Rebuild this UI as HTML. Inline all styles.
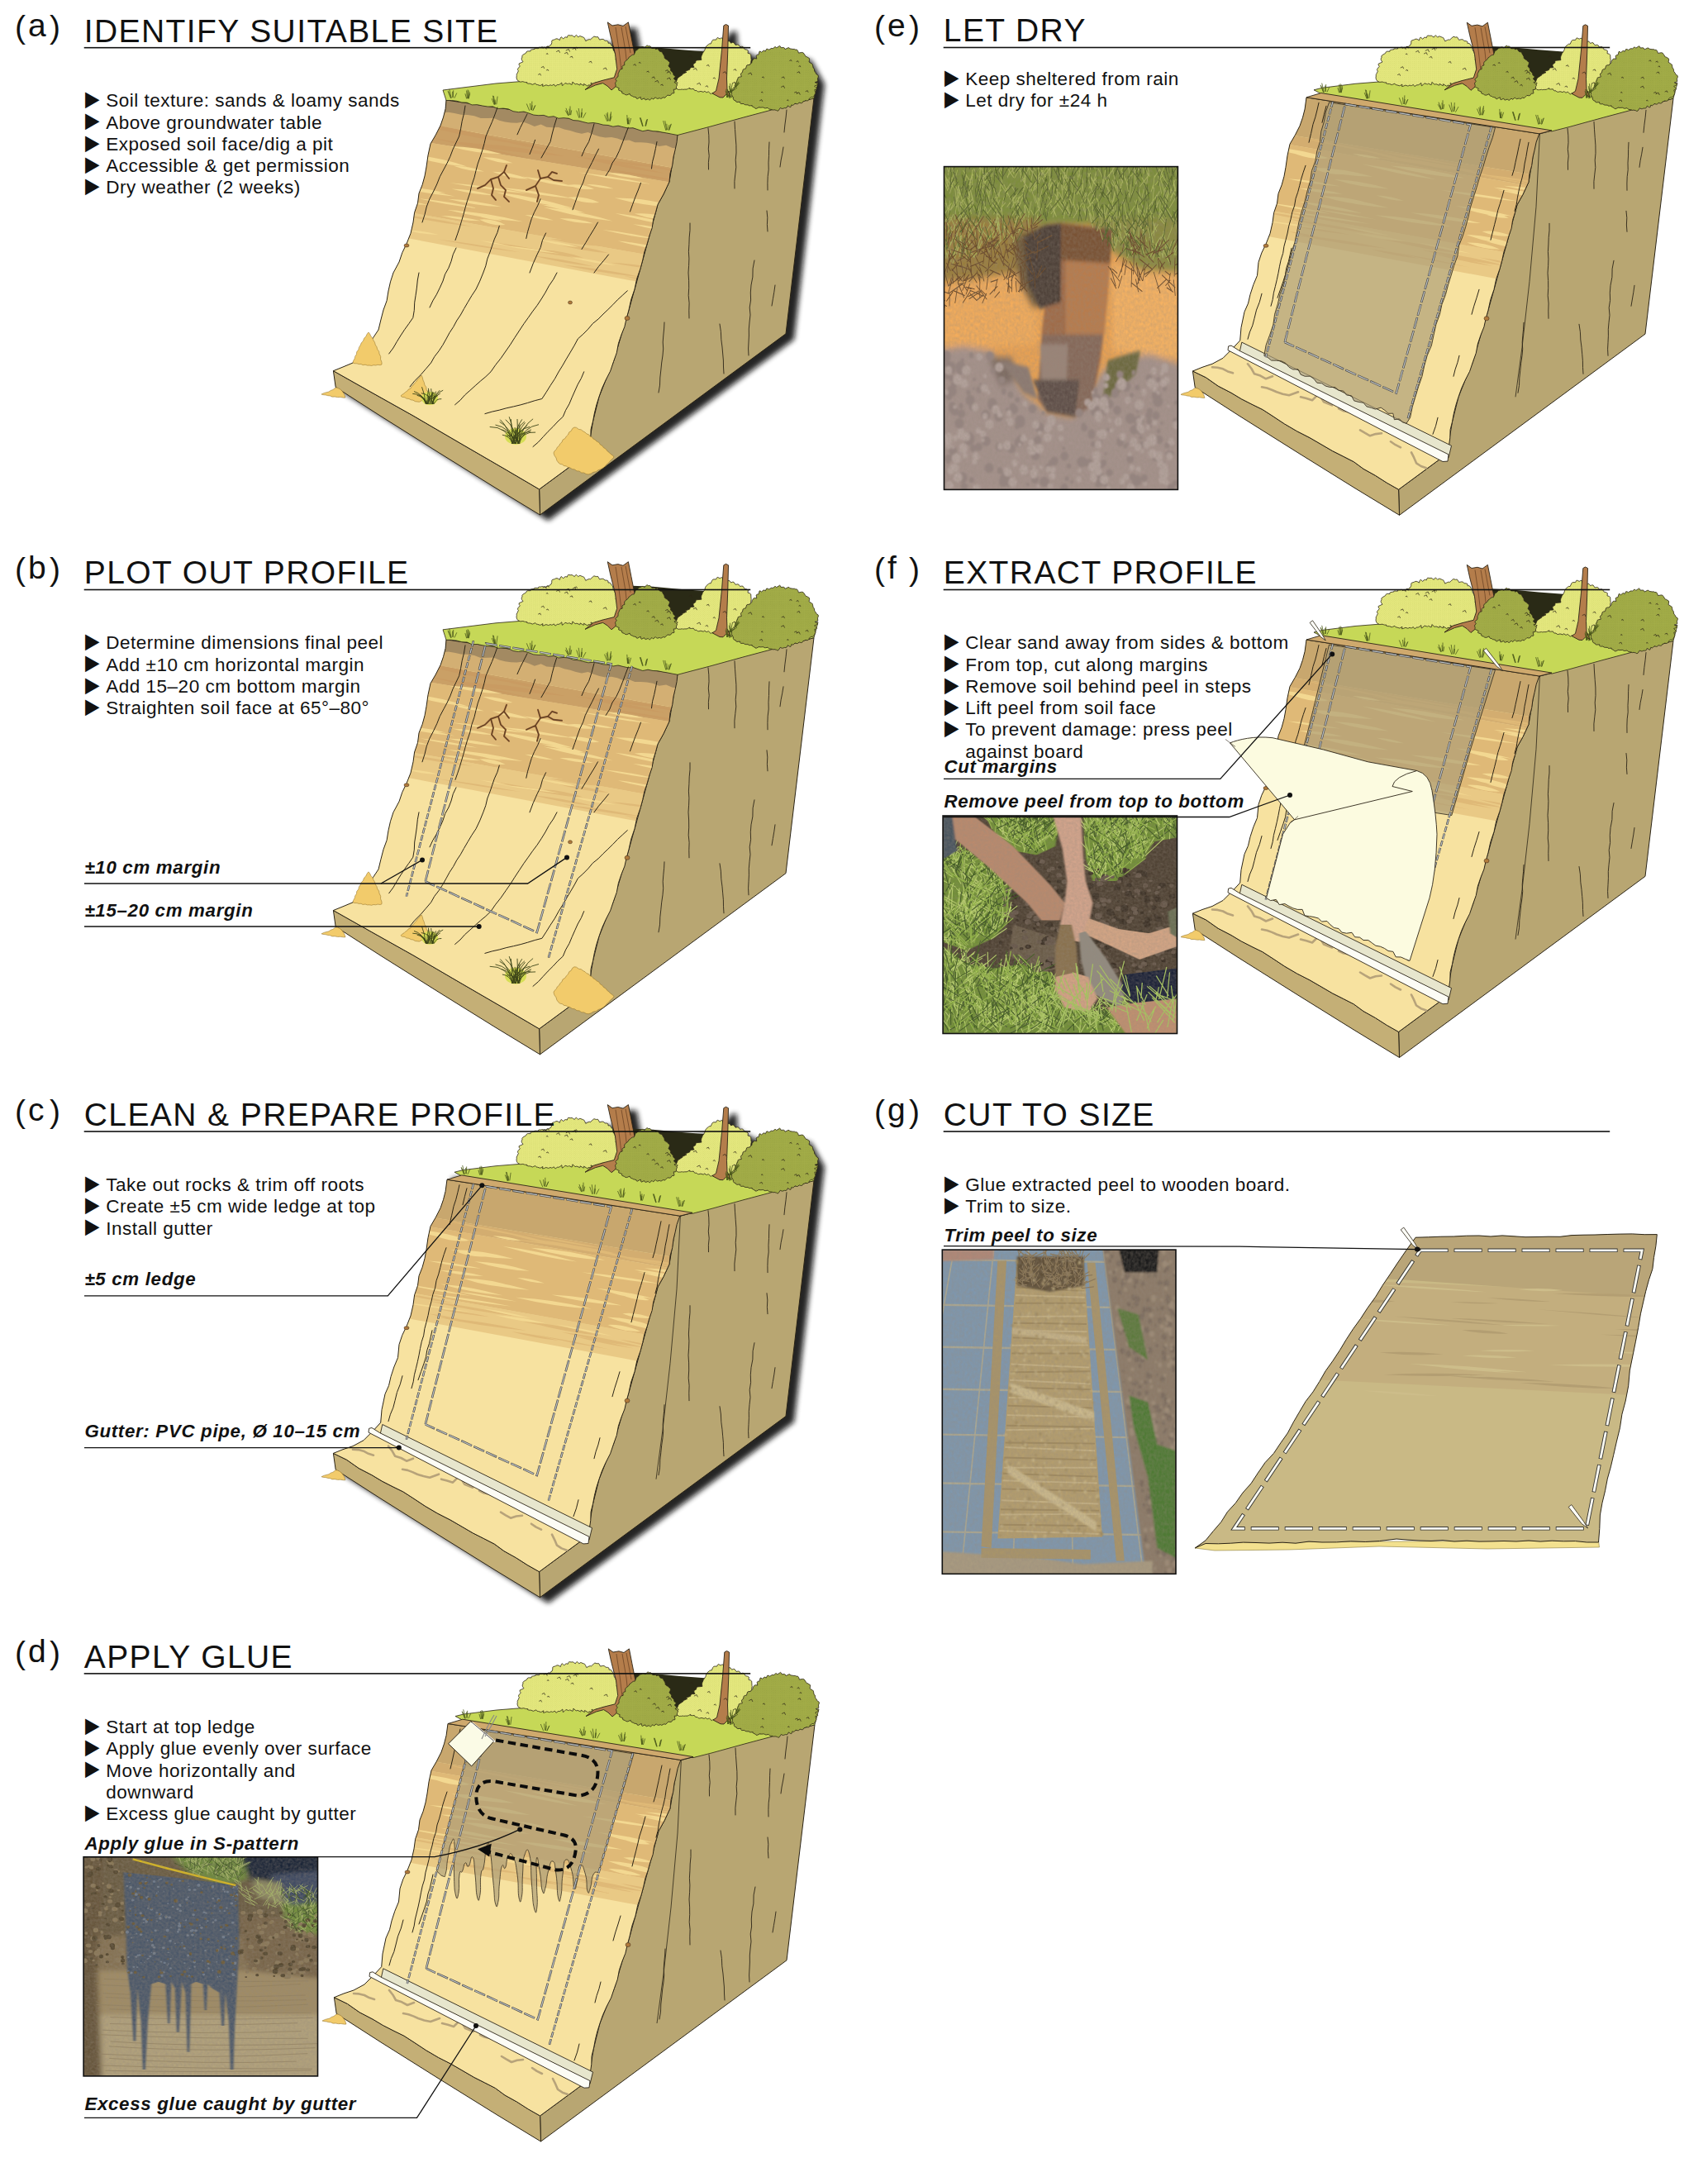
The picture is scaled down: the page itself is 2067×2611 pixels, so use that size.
<!DOCTYPE html>
<html lang="en"><head><meta charset="utf-8"><title>Soil peel procedure</title>
<style>
html,body{margin:0;padding:0;background:#fff}
svg{display:block}
text{font-family:"Liberation Sans",Arial,sans-serif;fill:#111}
.t{font-size:39px}
.b{font-size:22.5px}
.l{font-size:22.3px;font-weight:bold;font-style:italic}
.k{font-family:"DejaVu Sans",sans-serif;font-size:22.7px}
</style></head><body>
<svg width="2067" height="2611" viewBox="0 0 2067 2611">
<rect width="2067" height="2611" fill="#fff"/>

<defs>
<filter id="bl4" x="-10%" y="-10%" width="120%" height="120%"><feGaussianBlur stdDeviation="3.2"/></filter>
<filter id="bl2" x="-50%" y="-20%" width="200%" height="140%"><feGaussianBlur stdDeviation="1.6"/></filter>
<filter id="bl8" x="-10%" y="-10%" width="120%" height="120%"><feGaussianBlur stdDeviation="8"/></filter>
<filter id="pb" x="-10%" y="-10%" width="120%" height="120%"><feGaussianBlur stdDeviation="1.1"/></filter>
<filter id="pb2" x="-10%" y="-10%" width="120%" height="120%"><feGaussianBlur stdDeviation="0.55"/></filter>
<filter id="pb1" x="-10%" y="-10%" width="120%" height="120%"><feGaussianBlur stdDeviation="0.3"/></filter>
<filter id="noise" x="0" y="0" width="100%" height="100%"><feTurbulence type="fractalNoise" baseFrequency="0.9" numOctaves="2" seed="3"/><feColorMatrix type="matrix" values="0 0 0 0 0.3  0 0 0 0 0.25  0 0 0 0 0.2  0.9 0.9 0.9 0 -0.9"/></filter>
<filter id="bl3" x="-10%" y="-10%" width="120%" height="120%"><feGaussianBlur stdDeviation="3"/></filter>
<pattern id="stipL" width="2.4" height="2.4" patternUnits="userSpaceOnUse"><circle cx="0.6" cy="0.6" r="0.32" fill="#9aa53a"/><circle cx="1.8" cy="1.8" r="0.32" fill="#9aa53a"/></pattern>
<pattern id="stipD" width="2.2" height="2.2" patternUnits="userSpaceOnUse"><circle cx="0.55" cy="0.55" r="0.36" fill="#5f6b22"/><circle cx="1.65" cy="1.65" r="0.36" fill="#5f6b22"/></pattern>
<g id="veg"><polygon points="765.0,56.0 790.0,57.0 822.0,60.0 855.0,62.5 850.0,74.0 838.0,83.0 826.0,95.0 814.0,101.0 800.0,75.0 772.0,76.0" fill="#2a2a16"/>
<path d="M625.3 91.6 Q624.7 90.5 625.9 88.9 L627.4 85.8 Q626.1 84.6 626.7 83.1 L629.3 80.0 Q627.7 78.6 628.1 77.0 L633.0 74.7 Q631.1 72.8 631.1 71.0 L632.0 69.0 Q631.3 67.6 632.6 66.5 L636.6 64.1 Q636.5 62.8 638.4 61.9 L642.1 61.9 Q641.4 60.7 642.6 60.2 L647.1 59.4 Q646.3 58.5 647.5 58.5 L651.5 58.7 Q651.0 57.5 652.4 57.3 L654.7 57.2 Q655.0 56.6 657.1 57.0 L661.2 57.8 Q660.9 56.4 662.2 56.1 L664.6 56.3 Q665.1 54.5 667.0 54.1 L667.8 51.7 Q667.4 49.4 668.2 48.8 L671.5 47.7 Q672.7 46.4 674.9 47.0 L677.4 48.6 Q677.9 45.7 679.2 44.7 L681.8 47.0 Q683.0 44.9 684.6 44.8 L686.3 45.4 Q686.9 43.1 687.6 42.7 L690.9 43.0 Q692.1 42.2 693.3 43.5 L695.3 44.8 Q696.5 42.6 697.4 42.4 L699.8 44.9 Q701.3 43.3 702.1 43.6 L705.4 44.9 Q706.9 44.9 707.4 46.7 L708.8 49.6 Q711.7 47.8 713.4 47.6 L714.2 48.1 Q717.2 45.3 718.9 44.0 L721.5 44.8 Q723.4 44.1 723.8 44.9 L725.6 48.1 Q728.6 47.1 730.1 47.5 L732.1 49.2 Q734.8 49.1 735.9 50.1 L736.1 52.3 Q738.2 51.9 738.6 52.5 L740.4 55.4 Q742.0 55.9 741.6 57.2 L742.4 61.0 Q744.3 62.3 744.3 64.2 L745.3 66.3 Q746.9 67.1 746.5 68.2 L745.0 72.1 Q747.9 73.3 748.7 74.6 L746.7 77.0 Q749.4 78.0 750.1 79.1 L747.5 82.0 Q749.6 83.1 749.8 84.1 L749.7 87.1 Q752.0 88.4 752.2 89.5 L751.9 92.4 Q750.1 93.2 746.4 93.5 L743.4 95.6 Q743.0 96.0 740.7 95.8 L739.2 96.5 Q738.9 97.4 736.7 97.6 L736.0 97.8 Q735.9 98.4 734.0 98.3 L728.9 97.4 Q728.7 98.7 726.8 99.1 L726.0 99.0 Q725.9 100.3 724.1 100.6 L720.7 99.8 Q720.9 101.7 719.4 102.4 L715.0 100.1 Q715.8 102.3 715.1 103.2 L711.9 102.8 Q712.0 104.1 710.8 104.0 L706.5 101.4 Q707.0 103.3 706.3 103.5 L702.1 101.1 Q702.4 102.9 701.6 102.9 L697.8 101.3 Q697.2 102.4 695.9 101.7 L692.9 99.1 Q692.6 101.8 692.1 102.4 L688.5 100.8 Q687.5 102.1 686.7 101.4 L683.9 100.5 Q681.9 103.0 680.3 103.5 L679.8 100.0 Q677.7 102.1 676.3 102.5 L674.2 102.6 Q672.6 104.3 671.9 104.2 L670.4 102.1 Q668.3 103.5 667.3 103.4 L666.0 102.7 Q664.1 103.9 663.6 103.7 L660.9 102.8 Q658.0 104.2 656.6 104.3 L656.9 101.8 Q654.5 103.3 653.7 103.5 L650.4 102.5 Q648.7 102.7 648.7 101.7 L647.9 100.8 Q645.3 102.0 644.3 102.3 L641.7 101.2 Q638.8 101.3 637.6 100.6 L637.8 99.6 Q635.2 99.8 634.3 99.2 L632.7 98.7 Q630.1 99.2 629.4 99.0 L627.0 97.9 Q625.1 96.2 625.0 93.9 Z" fill="#e5e87f" stroke="#2b2416" stroke-width="0.8"/><path d="M625.3 91.6 Q624.7 90.5 625.9 88.9 L627.4 85.8 Q626.1 84.6 626.7 83.1 L629.3 80.0 Q627.7 78.6 628.1 77.0 L633.0 74.7 Q631.1 72.8 631.1 71.0 L632.0 69.0 Q631.3 67.6 632.6 66.5 L636.6 64.1 Q636.5 62.8 638.4 61.9 L642.1 61.9 Q641.4 60.7 642.6 60.2 L647.1 59.4 Q646.3 58.5 647.5 58.5 L651.5 58.7 Q651.0 57.5 652.4 57.3 L654.7 57.2 Q655.0 56.6 657.1 57.0 L661.2 57.8 Q660.9 56.4 662.2 56.1 L664.6 56.3 Q665.1 54.5 667.0 54.1 L667.8 51.7 Q667.4 49.4 668.2 48.8 L671.5 47.7 Q672.7 46.4 674.9 47.0 L677.4 48.6 Q677.9 45.7 679.2 44.7 L681.8 47.0 Q683.0 44.9 684.6 44.8 L686.3 45.4 Q686.9 43.1 687.6 42.7 L690.9 43.0 Q692.1 42.2 693.3 43.5 L695.3 44.8 Q696.5 42.6 697.4 42.4 L699.8 44.9 Q701.3 43.3 702.1 43.6 L705.4 44.9 Q706.9 44.9 707.4 46.7 L708.8 49.6 Q711.7 47.8 713.4 47.6 L714.2 48.1 Q717.2 45.3 718.9 44.0 L721.5 44.8 Q723.4 44.1 723.8 44.9 L725.6 48.1 Q728.6 47.1 730.1 47.5 L732.1 49.2 Q734.8 49.1 735.9 50.1 L736.1 52.3 Q738.2 51.9 738.6 52.5 L740.4 55.4 Q742.0 55.9 741.6 57.2 L742.4 61.0 Q744.3 62.3 744.3 64.2 L745.3 66.3 Q746.9 67.1 746.5 68.2 L745.0 72.1 Q747.9 73.3 748.7 74.6 L746.7 77.0 Q749.4 78.0 750.1 79.1 L747.5 82.0 Q749.6 83.1 749.8 84.1 L749.7 87.1 Q752.0 88.4 752.2 89.5 L751.9 92.4 Q750.1 93.2 746.4 93.5 L743.4 95.6 Q743.0 96.0 740.7 95.8 L739.2 96.5 Q738.9 97.4 736.7 97.6 L736.0 97.8 Q735.9 98.4 734.0 98.3 L728.9 97.4 Q728.7 98.7 726.8 99.1 L726.0 99.0 Q725.9 100.3 724.1 100.6 L720.7 99.8 Q720.9 101.7 719.4 102.4 L715.0 100.1 Q715.8 102.3 715.1 103.2 L711.9 102.8 Q712.0 104.1 710.8 104.0 L706.5 101.4 Q707.0 103.3 706.3 103.5 L702.1 101.1 Q702.4 102.9 701.6 102.9 L697.8 101.3 Q697.2 102.4 695.9 101.7 L692.9 99.1 Q692.6 101.8 692.1 102.4 L688.5 100.8 Q687.5 102.1 686.7 101.4 L683.9 100.5 Q681.9 103.0 680.3 103.5 L679.8 100.0 Q677.7 102.1 676.3 102.5 L674.2 102.6 Q672.6 104.3 671.9 104.2 L670.4 102.1 Q668.3 103.5 667.3 103.4 L666.0 102.7 Q664.1 103.9 663.6 103.7 L660.9 102.8 Q658.0 104.2 656.6 104.3 L656.9 101.8 Q654.5 103.3 653.7 103.5 L650.4 102.5 Q648.7 102.7 648.7 101.7 L647.9 100.8 Q645.3 102.0 644.3 102.3 L641.7 101.2 Q638.8 101.3 637.6 100.6 L637.8 99.6 Q635.2 99.8 634.3 99.2 L632.7 98.7 Q630.1 99.2 629.4 99.0 L627.0 97.9 Q625.1 96.2 625.0 93.9 Z" fill="url(#stipL)" opacity="0.55"/>
<path d="M817.1 106.5 Q816.0 105.4 816.8 103.5 L820.3 100.3 Q818.4 99.9 818.4 98.8 L819.8 95.2 Q819.7 94.5 821.5 93.4 L826.1 90.3 Q824.9 90.2 825.6 89.8 L831.0 87.3 Q829.0 86.8 829.1 86.2 L834.6 84.3 Q834.4 82.9 836.2 81.7 L840.1 81.4 Q838.5 79.3 838.9 77.6 L841.8 75.7 Q841.4 74.0 842.8 73.0 L848.9 72.4 Q848.1 69.4 848.9 67.7 L850.0 65.4 Q849.8 63.8 850.9 63.7 L852.9 60.5 Q853.4 57.3 854.8 55.9 L857.5 53.6 Q858.5 52.4 860.1 53.1 L861.8 49.4 Q862.7 47.8 863.8 48.1 L866.7 48.1 Q867.4 45.8 868.2 45.5 L871.2 46.9 Q872.9 45.5 874.3 46.1 L875.5 49.5 Q877.3 47.2 878.6 46.9 L880.3 50.3 Q882.0 49.2 883.0 49.9 L884.6 52.2 Q886.8 50.9 888.0 51.5 L890.1 54.5 Q892.6 53.6 893.8 54.3 L895.6 56.7 Q898.1 55.9 899.1 56.5 L901.3 59.7 Q904.1 59.9 905.4 61.3 L905.0 64.3 Q907.7 64.7 908.7 66.1 L909.0 71.6 Q909.9 71.9 909.0 72.9 L908.7 76.2 Q909.2 76.6 907.8 77.5 L905.9 81.1 Q908.7 82.4 909.5 84.0 L907.0 85.5 Q907.7 86.9 906.4 88.3 L907.6 90.1 Q908.0 91.4 906.4 92.6 L904.5 94.8 Q905.4 96.8 904.4 98.3 L903.7 100.0 Q903.5 101.7 901.4 102.7 L899.8 103.9 Q900.7 105.7 899.8 106.6 L895.8 106.7 Q895.0 107.4 892.5 107.0 L890.4 108.8 Q889.9 110.4 888.0 110.6 L885.1 109.0 Q884.8 110.7 883.2 110.9 L880.7 110.1 Q880.9 112.1 879.9 112.5 L876.3 111.6 Q875.7 113.1 874.2 112.8 L871.5 112.5 Q870.5 113.4 869.0 112.4 L866.7 112.1 Q865.1 113.5 863.5 112.9 L861.8 112.4 Q860.9 114.0 860.2 113.6 L857.3 110.9 Q855.4 112.2 854.2 111.6 L852.9 110.1 Q851.5 111.6 851.0 111.3 L848.0 110.4 Q845.5 111.4 844.2 110.8 L843.0 109.5 Q840.8 109.9 840.1 108.9 L839.3 107.4 Q836.2 108.0 834.6 107.4 L834.8 106.3 Q832.1 107.7 831.1 108.1 L828.4 108.1 Q826.2 108.6 825.8 108.1 L825.2 108.0 Q823.2 108.6 822.8 108.3 L821.3 108.5 Q819.3 108.2 819.0 107.0 Z" fill="#e5e87f" stroke="#2b2416" stroke-width="0.8"/><path d="M817.1 106.5 Q816.0 105.4 816.8 103.5 L820.3 100.3 Q818.4 99.9 818.4 98.8 L819.8 95.2 Q819.7 94.5 821.5 93.4 L826.1 90.3 Q824.9 90.2 825.6 89.8 L831.0 87.3 Q829.0 86.8 829.1 86.2 L834.6 84.3 Q834.4 82.9 836.2 81.7 L840.1 81.4 Q838.5 79.3 838.9 77.6 L841.8 75.7 Q841.4 74.0 842.8 73.0 L848.9 72.4 Q848.1 69.4 848.9 67.7 L850.0 65.4 Q849.8 63.8 850.9 63.7 L852.9 60.5 Q853.4 57.3 854.8 55.9 L857.5 53.6 Q858.5 52.4 860.1 53.1 L861.8 49.4 Q862.7 47.8 863.8 48.1 L866.7 48.1 Q867.4 45.8 868.2 45.5 L871.2 46.9 Q872.9 45.5 874.3 46.1 L875.5 49.5 Q877.3 47.2 878.6 46.9 L880.3 50.3 Q882.0 49.2 883.0 49.9 L884.6 52.2 Q886.8 50.9 888.0 51.5 L890.1 54.5 Q892.6 53.6 893.8 54.3 L895.6 56.7 Q898.1 55.9 899.1 56.5 L901.3 59.7 Q904.1 59.9 905.4 61.3 L905.0 64.3 Q907.7 64.7 908.7 66.1 L909.0 71.6 Q909.9 71.9 909.0 72.9 L908.7 76.2 Q909.2 76.6 907.8 77.5 L905.9 81.1 Q908.7 82.4 909.5 84.0 L907.0 85.5 Q907.7 86.9 906.4 88.3 L907.6 90.1 Q908.0 91.4 906.4 92.6 L904.5 94.8 Q905.4 96.8 904.4 98.3 L903.7 100.0 Q903.5 101.7 901.4 102.7 L899.8 103.9 Q900.7 105.7 899.8 106.6 L895.8 106.7 Q895.0 107.4 892.5 107.0 L890.4 108.8 Q889.9 110.4 888.0 110.6 L885.1 109.0 Q884.8 110.7 883.2 110.9 L880.7 110.1 Q880.9 112.1 879.9 112.5 L876.3 111.6 Q875.7 113.1 874.2 112.8 L871.5 112.5 Q870.5 113.4 869.0 112.4 L866.7 112.1 Q865.1 113.5 863.5 112.9 L861.8 112.4 Q860.9 114.0 860.2 113.6 L857.3 110.9 Q855.4 112.2 854.2 111.6 L852.9 110.1 Q851.5 111.6 851.0 111.3 L848.0 110.4 Q845.5 111.4 844.2 110.8 L843.0 109.5 Q840.8 109.9 840.1 108.9 L839.3 107.4 Q836.2 108.0 834.6 107.4 L834.8 106.3 Q832.1 107.7 831.1 108.1 L828.4 108.1 Q826.2 108.6 825.8 108.1 L825.2 108.0 Q823.2 108.6 822.8 108.3 L821.3 108.5 Q819.3 108.2 819.0 107.0 Z" fill="url(#stipL)" opacity="0.55"/>
<polygon points="735.3,26.9 741.0,31.0 747.9,29.8 754.0,31.5 760.4,26.9 763.9,44.7 768.4,67.5 771.0,88.0 760.0,97.0 750.0,98.0 746.0,104.0 740.0,109.0 735.0,104.0 729.6,100.6 720.5,103.0 708.0,108.6 718.2,100.6 729.6,97.2 743.3,93.8 746.7,83.5 744.5,65.2 738.7,42.4" fill="#b47d4b" stroke="#2b2416" stroke-width="0.9" stroke-linejoin="round"/>
<path d="M745 33 L749 60 L752 85 M752 33 L757 62 L759 82 M757 32 L763 64" fill="none" stroke="#6d4526" stroke-width="0.8"/>
<polygon points="875.8,31.0 878.5,29.5 881.5,31.0 880.8,60.7 879.5,95.0 880.0,108.0 884.0,117.0 879.0,114.0 875.0,118.0 871.0,117.8 862.0,113.0 866.5,110.0 870.0,95.0 873.5,60.7" fill="#b47d4b" stroke="#2b2416" stroke-width="0.9" stroke-linejoin="round"/>
<path d="M784.4 55.8 Q783.5 54.5 782.6 55.2 L779.9 57.7 Q778.2 56.2 776.8 56.7 L775.0 57.8 Q773.7 57.2 772.9 58.6 L770.7 60.8 Q769.5 60.4 769.0 61.9 L767.4 66.1 Q765.1 65.9 763.8 67.4 L762.1 68.8 Q760.6 69.1 760.4 71.0 L757.8 73.3 Q755.9 74.1 755.6 76.1 L755.9 78.7 Q753.5 79.0 753.0 80.2 L753.1 83.4 Q750.6 83.7 750.1 84.6 L748.8 87.8 Q747.5 89.1 748.2 90.6 L747.8 93.0 Q745.3 94.5 744.8 95.9 L746.4 98.1 Q744.5 99.5 744.5 100.7 L745.2 102.9 Q744.5 104.3 745.7 105.2 L749.3 106.8 Q748.1 108.3 748.7 109.1 L752.9 110.8 Q752.0 112.3 752.9 112.7 L755.5 113.7 Q756.3 114.9 758.7 114.9 L762.1 113.4 Q762.3 115.4 763.9 115.9 L765.5 116.2 Q766.0 117.6 767.7 117.3 L769.9 117.9 Q770.1 119.6 771.3 119.5 L775.2 117.4 Q775.4 119.9 776.2 120.5 L779.7 118.9 Q780.4 120.8 781.3 120.8 L784.4 119.7 Q785.5 121.4 786.5 121.0 L789.0 118.7 Q790.1 120.3 790.8 119.9 L793.3 117.8 Q794.7 119.5 795.3 119.4 L798.5 118.7 Q799.9 119.8 800.3 119.2 L802.7 117.8 Q804.4 118.8 804.9 118.1 L807.9 115.1 Q810.4 115.8 811.5 115.3 L813.4 112.8 Q815.5 113.1 816.0 112.4 L815.2 108.2 Q817.6 108.4 818.2 107.7 L818.7 104.2 Q819.9 103.3 819.2 101.8 L815.9 99.3 Q818.1 98.9 818.4 98.0 L815.2 94.9 Q817.2 93.7 817.3 92.4 L814.8 90.4 Q815.2 88.8 813.6 87.2 L811.4 85.2 Q812.1 83.3 810.9 81.9 L808.9 80.0 Q810.6 77.2 810.5 75.2 L808.4 73.6 Q808.2 72.2 806.4 71.9 L804.2 70.2 Q804.4 67.7 803.2 66.6 L802.0 64.7 Q801.9 62.9 800.6 62.8 L798.0 61.9 Q797.1 59.5 795.4 58.9 L793.5 59.7 Q793.3 58.1 792.4 58.4 L788.8 58.5 Q787.7 56.1 786.2 55.7 Z" fill="#a4ae48" stroke="#2b2416" stroke-width="0.8"/><path d="M784.4 55.8 Q783.5 54.5 782.6 55.2 L779.9 57.7 Q778.2 56.2 776.8 56.7 L775.0 57.8 Q773.7 57.2 772.9 58.6 L770.7 60.8 Q769.5 60.4 769.0 61.9 L767.4 66.1 Q765.1 65.9 763.8 67.4 L762.1 68.8 Q760.6 69.1 760.4 71.0 L757.8 73.3 Q755.9 74.1 755.6 76.1 L755.9 78.7 Q753.5 79.0 753.0 80.2 L753.1 83.4 Q750.6 83.7 750.1 84.6 L748.8 87.8 Q747.5 89.1 748.2 90.6 L747.8 93.0 Q745.3 94.5 744.8 95.9 L746.4 98.1 Q744.5 99.5 744.5 100.7 L745.2 102.9 Q744.5 104.3 745.7 105.2 L749.3 106.8 Q748.1 108.3 748.7 109.1 L752.9 110.8 Q752.0 112.3 752.9 112.7 L755.5 113.7 Q756.3 114.9 758.7 114.9 L762.1 113.4 Q762.3 115.4 763.9 115.9 L765.5 116.2 Q766.0 117.6 767.7 117.3 L769.9 117.9 Q770.1 119.6 771.3 119.5 L775.2 117.4 Q775.4 119.9 776.2 120.5 L779.7 118.9 Q780.4 120.8 781.3 120.8 L784.4 119.7 Q785.5 121.4 786.5 121.0 L789.0 118.7 Q790.1 120.3 790.8 119.9 L793.3 117.8 Q794.7 119.5 795.3 119.4 L798.5 118.7 Q799.9 119.8 800.3 119.2 L802.7 117.8 Q804.4 118.8 804.9 118.1 L807.9 115.1 Q810.4 115.8 811.5 115.3 L813.4 112.8 Q815.5 113.1 816.0 112.4 L815.2 108.2 Q817.6 108.4 818.2 107.7 L818.7 104.2 Q819.9 103.3 819.2 101.8 L815.9 99.3 Q818.1 98.9 818.4 98.0 L815.2 94.9 Q817.2 93.7 817.3 92.4 L814.8 90.4 Q815.2 88.8 813.6 87.2 L811.4 85.2 Q812.1 83.3 810.9 81.9 L808.9 80.0 Q810.6 77.2 810.5 75.2 L808.4 73.6 Q808.2 72.2 806.4 71.9 L804.2 70.2 Q804.4 67.7 803.2 66.6 L802.0 64.7 Q801.9 62.9 800.6 62.8 L798.0 61.9 Q797.1 59.5 795.4 58.9 L793.5 59.7 Q793.3 58.1 792.4 58.4 L788.8 58.5 Q787.7 56.1 786.2 55.7 Z" fill="url(#stipD)" opacity="0.5"/>
<path d="M939.7 57.9 Q938.7 56.3 937.8 56.7 L935.1 58.9 Q934.1 57.8 933.2 58.6 L930.6 60.2 Q928.9 58.8 927.6 59.3 L926.2 62.2 Q924.9 60.7 924.2 61.1 L921.5 63.2 Q919.8 61.7 919.1 62.1 L918.0 66.2 Q916.0 65.9 915.1 67.3 L915.8 71.1 Q913.3 70.3 912.2 71.0 L910.7 73.0 Q909.6 73.6 910.0 75.6 L907.0 78.5 Q904.5 78.3 903.7 79.1 L902.4 83.2 Q899.9 83.3 899.2 84.2 L898.4 87.6 Q896.4 88.5 896.4 89.8 L897.4 92.7 Q894.3 93.1 893.2 93.8 L892.4 97.2 Q891.0 98.0 891.6 98.9 L890.0 102.6 Q888.7 103.6 889.3 104.4 L888.2 108.0 Q885.8 109.6 885.3 110.8 L885.5 113.3 Q884.6 114.5 885.6 115.1 L887.3 117.9 Q886.9 119.9 888.4 121.3 L890.3 121.9 Q890.2 123.2 891.9 123.6 L895.7 123.3 Q895.3 125.0 896.5 125.6 L900.1 125.5 Q900.4 126.7 902.2 126.8 L905.6 126.9 Q905.7 128.1 907.3 127.9 L910.2 127.6 Q909.6 129.0 910.4 128.8 L913.3 130.3 Q913.6 131.6 915.3 131.4 L919.1 129.5 Q919.0 130.6 919.9 130.1 L923.9 129.9 Q924.9 131.3 926.7 130.9 L929.1 130.4 Q930.2 132.3 932.0 132.3 L934.2 132.5 Q935.4 133.6 937.0 132.8 L939.7 133.5 Q940.9 134.7 942.0 133.9 L944.3 130.5 Q946.2 131.9 947.7 131.3 L949.3 130.6 Q951.1 131.3 952.3 130.1 L953.3 127.9 Q955.5 129.7 956.8 129.7 L957.9 126.8 Q959.5 127.9 960.1 127.2 L962.1 125.1 Q964.4 126.2 965.4 125.7 L967.2 124.2 Q969.7 125.1 970.6 124.7 L971.9 122.8 Q973.7 122.8 974.0 121.7 L977.3 121.9 Q979.3 121.0 979.5 119.1 L981.7 117.6 Q984.1 117.7 984.7 116.9 L986.4 113.5 Q987.4 112.7 986.5 111.3 L985.8 108.6 Q988.2 108.2 988.7 107.4 L985.7 104.0 Q988.7 103.2 989.8 102.2 L986.3 99.5 Q989.1 98.9 989.8 98.3 L989.5 94.9 Q990.8 93.0 990.2 91.3 L987.6 89.4 Q987.7 87.8 985.8 86.5 L985.4 84.1 Q985.7 82.8 984.1 82.1 L983.5 78.8 Q983.8 77.6 982.3 77.1 L979.0 74.9 Q980.1 72.3 979.4 70.6 L977.2 69.3 Q977.1 68.4 975.4 68.7 L973.0 65.1 Q972.5 63.5 970.6 63.4 L966.4 64.1 Q966.0 61.3 964.4 60.1 L962.1 60.0 Q961.6 58.9 960.0 59.5 L955.9 58.9 Q955.3 57.4 953.9 57.7 L950.1 59.6 Q949.5 57.6 948.3 57.5 L945.1 57.7 Q944.5 55.5 943.6 55.4 Z" fill="#a4ae48" stroke="#2b2416" stroke-width="0.8"/><path d="M939.7 57.9 Q938.7 56.3 937.8 56.7 L935.1 58.9 Q934.1 57.8 933.2 58.6 L930.6 60.2 Q928.9 58.8 927.6 59.3 L926.2 62.2 Q924.9 60.7 924.2 61.1 L921.5 63.2 Q919.8 61.7 919.1 62.1 L918.0 66.2 Q916.0 65.9 915.1 67.3 L915.8 71.1 Q913.3 70.3 912.2 71.0 L910.7 73.0 Q909.6 73.6 910.0 75.6 L907.0 78.5 Q904.5 78.3 903.7 79.1 L902.4 83.2 Q899.9 83.3 899.2 84.2 L898.4 87.6 Q896.4 88.5 896.4 89.8 L897.4 92.7 Q894.3 93.1 893.2 93.8 L892.4 97.2 Q891.0 98.0 891.6 98.9 L890.0 102.6 Q888.7 103.6 889.3 104.4 L888.2 108.0 Q885.8 109.6 885.3 110.8 L885.5 113.3 Q884.6 114.5 885.6 115.1 L887.3 117.9 Q886.9 119.9 888.4 121.3 L890.3 121.9 Q890.2 123.2 891.9 123.6 L895.7 123.3 Q895.3 125.0 896.5 125.6 L900.1 125.5 Q900.4 126.7 902.2 126.8 L905.6 126.9 Q905.7 128.1 907.3 127.9 L910.2 127.6 Q909.6 129.0 910.4 128.8 L913.3 130.3 Q913.6 131.6 915.3 131.4 L919.1 129.5 Q919.0 130.6 919.9 130.1 L923.9 129.9 Q924.9 131.3 926.7 130.9 L929.1 130.4 Q930.2 132.3 932.0 132.3 L934.2 132.5 Q935.4 133.6 937.0 132.8 L939.7 133.5 Q940.9 134.7 942.0 133.9 L944.3 130.5 Q946.2 131.9 947.7 131.3 L949.3 130.6 Q951.1 131.3 952.3 130.1 L953.3 127.9 Q955.5 129.7 956.8 129.7 L957.9 126.8 Q959.5 127.9 960.1 127.2 L962.1 125.1 Q964.4 126.2 965.4 125.7 L967.2 124.2 Q969.7 125.1 970.6 124.7 L971.9 122.8 Q973.7 122.8 974.0 121.7 L977.3 121.9 Q979.3 121.0 979.5 119.1 L981.7 117.6 Q984.1 117.7 984.7 116.9 L986.4 113.5 Q987.4 112.7 986.5 111.3 L985.8 108.6 Q988.2 108.2 988.7 107.4 L985.7 104.0 Q988.7 103.2 989.8 102.2 L986.3 99.5 Q989.1 98.9 989.8 98.3 L989.5 94.9 Q990.8 93.0 990.2 91.3 L987.6 89.4 Q987.7 87.8 985.8 86.5 L985.4 84.1 Q985.7 82.8 984.1 82.1 L983.5 78.8 Q983.8 77.6 982.3 77.1 L979.0 74.9 Q980.1 72.3 979.4 70.6 L977.2 69.3 Q977.1 68.4 975.4 68.7 L973.0 65.1 Q972.5 63.5 970.6 63.4 L966.4 64.1 Q966.0 61.3 964.4 60.1 L962.1 60.0 Q961.6 58.9 960.0 59.5 L955.9 58.9 Q955.3 57.4 953.9 57.7 L950.1 59.6 Q949.5 57.6 948.3 57.5 L945.1 57.7 Q944.5 55.5 943.6 55.4 Z" fill="url(#stipD)" opacity="0.5"/>
<path d="M654.8 81.8l2.8 -1.4l1.1 2.5 M683.1 64.8l3.1 -1.5l1.2 2.8 M712.7 75.4l2.5 -1.3l1.0 2.3 M661.2 57.1l2.2 -1.1l0.9 2.0 M692.7 59.5l3.1 -1.5l1.2 2.8 M660.9 65.4l1.6 -0.8l0.6 1.4 M729.8 83.6l3.3 -1.6l1.3 2.9 M695.4 58.2l2.2 -1.1l0.9 1.9 M684.8 61.2l3.4 -1.7l1.4 3.1 M673.2 62.6l3.1 -1.6l1.3 2.8 M651.2 90.4l2.4 -1.2l1.0 2.2 M689.7 69.3l2.5 -1.2l1.0 2.2 M656.8 58.3l3.2 -1.6l1.3 2.9 M661.1 85.1l1.9 -1.0l0.8 1.7 M886.3 100.8l3.0 -1.5l1.2 2.7 M874.7 88.2l3.0 -1.5l1.2 2.7 M838.9 84.1l3.2 -1.6l1.3 2.8 M843.3 101.9l3.3 -1.6l1.3 2.9 M854.9 79.6l2.4 -1.2l1.0 2.2 M853.6 104.8l2.3 -1.1l0.9 2.0 M833.5 68.7l2.9 -1.5l1.2 2.6 M887.6 84.8l2.5 -1.2l1.0 2.2 M862.8 94.9l1.9 -1.0l0.8 1.7 M788.7 94.3l2.7 -1.4l1.1 2.5 M766.4 78.8l2.2 -1.1l0.9 2.0 M805.2 85.9l2.7 -1.3l1.1 2.4 M772.9 76.1l1.6 -0.8l0.7 1.5 M799.3 103.1l2.2 -1.1l0.9 2.0 M792.5 99.0l3.3 -1.6l1.3 3.0 M806.8 88.3l3.5 -1.7l1.4 3.1 M807.0 95.6l3.3 -1.6l1.3 2.9 M782.5 87.0l2.0 -1.0l0.8 1.8 M966.6 80.4l1.6 -0.8l0.7 1.5 M961.2 112.2l2.5 -1.2l1.0 2.2 M963.6 74.7l2.0 -1.0l0.8 1.8 M922.0 93.8l1.8 -0.9l0.7 1.7 M905.3 89.6l3.3 -1.6l1.3 3.0 M974.7 110.8l2.5 -1.2l1.0 2.2 M919.2 121.9l2.6 -1.3l1.0 2.3 M955.4 73.5l1.9 -1.0l0.8 1.7 M963.7 113.4l3.3 -1.6l1.3 2.9 M945.7 94.2l2.7 -1.3l1.1 2.4 M964.5 88.0l2.6 -1.3l1.0 2.3 M921.0 111.9l1.5 -0.8l0.6 1.4 M952.1 121.6l1.5 -0.8l0.6 1.4 M945.1 105.5l3.2 -1.6l1.3 2.9" stroke="#2b2416" stroke-width="0.7" fill="none" stroke-linejoin="round"/>
<path d="M884.0 112.0 L888.4 105.2 M884.0 112.0 L886.5 100.3 M884.0 112.0 L892.0 106.1 M884.0 112.0 L883.0 106.3 M884.0 112.0 L882.3 103.9 M884.0 112.0 L883.5 100.9 M890.0 106.0 L895.2 100.1 M890.0 106.0 L893.9 98.7 M890.0 106.0 L893.4 99.5 M890.0 106.0 L889.8 99.7 M890.0 106.0 L892.2 96.0 M890.0 106.0 L894.1 100.7 M880.0 118.0 L885.8 106.9 M880.0 118.0 L886.5 107.5 M880.0 118.0 L878.1 109.8 M880.0 118.0 L878.7 107.7 M880.0 118.0 L879.9 108.0 M880.0 118.0 L880.8 108.1" stroke="#4d5a1c" stroke-width="0.8" fill="none"/></g>
<g id="rf"><polygon points="820.0,162.5 815.0,190.0 810.0,220.0 803.0,235.0 796.0,247.5 786.0,285.0 775.0,325.0 768.0,350.0 761.0,375.0 752.0,405.0 742.5,437.5 733.0,460.0 725.0,480.0 717.5,510.0 711.0,549.0 652.6,592.0 653.5,623.0 951.0,403.8 985.0,118.8" fill="#b8a672" stroke="#2b2416" stroke-width="1" stroke-linejoin="round"/><path d="M857.0 155.0 L857.8 163.5 L858.0 172.0 L857.3 180.2 L858.2 188.5 L857.4 196.7 L857.5 205.0 M889.0 147.0 L889.5 156.5 L890.2 166.0 L890.9 175.5 L891.0 185.0 L890.2 193.6 L890.8 202.2 L889.8 210.8 L888.9 219.4 L889.0 228.0 M931.0 172.0 L930.6 180.3 L930.5 188.6 L930.0 196.9 L930.2 205.2 L929.2 213.4 L928.9 221.7 L929.0 230.0 M952.0 133.0 L951.1 142.0 L949.9 151.0 L949.0 160.0 M948.0 178.0 L946.7 186.0 L945.1 194.0 L944.0 202.0 M835.0 270.0 L835.0 278.6 L834.2 287.1 L833.9 295.7 L833.4 304.3 L833.9 312.9 L833.6 321.4 L833.0 330.0 L833.6 339.2 L833.7 348.3 L833.2 357.5 L834.1 366.7 L833.8 375.8 L834.0 385.0 M928.0 255.0 L928.8 263.3 L928.4 271.7 L929.0 280.0 M913.0 315.0 L911.1 324.9 L910.9 335.1 L909.0 345.0 L908.3 354.0 L908.6 363.0 L907.2 372.0 L908.0 381.0 L907.0 390.0 L906.3 398.0 L906.4 406.0 L906.0 414.0 L905.6 422.0 L906.0 430.0 M938.0 345.0 L936.8 353.4 L935.4 361.7 L934.0 370.0 M804.0 390.0 L803.6 398.0 L802.8 406.0 L802.2 414.0 L802.7 422.0 L802.0 430.0 L800.7 439.0 L799.8 448.0 L798.8 457.0 L798.5 466.1 L797.0 475.0 M871.0 392.0 L872.4 401.3 L872.8 410.7 L874.0 420.0 L874.7 428.0 L875.4 436.0 L875.5 444.0 L876.0 452.0" fill="none" stroke="#2b2416" stroke-width="0.9" stroke-linecap="round" stroke-linejoin="round"/></g>
<g id="shadow"><polygon points="536.0,109.0 625.0,99.0 627.0,88.0 636.0,64.0 672.0,49.0 700.0,44.0 735.0,46.0 735.3,26.9 760.4,26.9 766.0,56.0 784.0,55.0 821.0,60.0 857.0,53.0 875.8,31.0 881.5,31.0 883.0,50.0 905.0,62.0 921.0,62.0 940.0,57.0 972.0,66.0 988.0,95.0 985.0,118.8 951.0,403.8 653.5,623.0 406.2,468.4 403.4,448.7 427.0,439.0 427.0,439.0 445.0,418.0 458.0,399.0 464.0,375.0 470.0,352.0 476.0,330.0 483.0,317.0 492.0,295.0 500.0,269.0 507.0,234.0 516.0,202.0 521.0,174.0 533.0,152.0 540.0,121.0" fill="#111" opacity="0.9" transform="translate(10 7)" filter="url(#bl4)"/></g>
<g id="rawblock"><use href="#rf"/><polygon points="403.4,448.7 450.0,475.0 500.0,503.0 560.0,538.0 610.0,567.0 652.6,592.0 653.5,623.0 600.0,590.5 530.0,547.0 460.0,503.0 406.2,468.4" fill="#c4af76" stroke="#2b2416" stroke-width="1" stroke-linejoin="round"/><clipPath id="clipSraw"><polygon points="540.0,121.0 539.1,131.7 536.5,141.9 533.0,152.0 527.3,163.2 521.0,174.0 518.0,187.9 516.0,202.0 514.0,213.0 511.1,223.6 507.0,234.0 505.5,245.8 501.6,257.2 500.0,269.0 497.0,282.3 492.0,295.0 486.8,305.7 483.0,317.0 476.0,330.0 472.5,340.9 470.0,352.0 468.1,363.8 464.0,375.0 460.9,387.0 458.0,399.0 451.6,408.6 445.0,418.0 436.2,428.7 427.0,439.0 415.0,444.0 403.4,448.7 450.0,475.0 500.0,503.0 560.0,538.0 610.0,567.0 652.6,592.0 711.0,549.0 713.4,539.4 714.8,529.6 715.1,519.6 717.5,510.0 719.4,499.9 721.9,489.9 725.0,480.0 728.6,469.8 733.0,460.0 738.6,449.1 742.5,437.5 746.3,426.9 748.4,415.7 752.0,405.0 755.9,395.3 758.2,385.1 761.0,375.0 763.8,362.3 768.0,350.0 770.7,337.3 775.0,325.0 777.7,315.0 779.9,304.8 783.2,295.0 786.0,285.0 789.2,275.8 790.6,266.1 793.5,256.9 796.0,247.5 803.0,235.0 810.0,220.0 811.0,209.9 813.7,200.1 815.0,190.0 817.2,180.9 819.1,171.8 820.0,162.5"/></clipPath>
<g clip-path="url(#clipSraw)">
<rect x="380" y="100" width="480" height="540" fill="#f7e2a0"/>
<polygon points="380.0,236.4 860.0,322.1 860.0,357.6 380.0,266.7" fill="#e9c985"/>
<polygon points="380.0,149.7 860.0,228.6 860.0,322.1 380.0,236.4" fill="#dfb977"/>
<polygon points="380.0,125.4 860.0,211.1 860.0,228.6 380.0,149.7" fill="#caa066"/>
<polygon points="380.0,77.1 860.0,145.7 860.0,211.1 380.0,125.4" fill="#d3af73"/>
<path d="M599.5 168.1 Q634.9 171.7 670.3 182.5 Q634.9 179.0 599.5 168.1Z M704.6 190.9 Q754.5 196.7 804.4 209.7 Q754.5 204.0 704.6 190.9Z M735.6 205.0 Q790.4 211.6 845.2 223.1 Q790.4 216.6 735.6 205.0Z M520.9 154.3 Q578.5 161.0 636.0 175.3 Q578.5 168.6 520.9 154.3Z M490.2 145.9 Q550.5 153.5 610.8 169.9 Q550.5 162.3 490.2 145.9Z M543.4 170.7 Q601.1 174.8 658.8 186.8 Q601.1 182.7 543.4 170.7Z M512.1 164.4 Q578.2 176.0 644.3 192.0 Q578.2 180.5 512.1 164.4Z M578.1 173.8 Q630.9 177.0 683.8 189.1 Q630.9 186.0 578.1 173.8Z M757.8 195.7 Q796.4 199.5 834.9 209.8 Q796.4 205.9 757.8 195.7Z M695.5 189.6 Q742.7 193.3 789.9 202.0 Q742.7 198.3 695.5 189.6Z" fill="#c99b62"/>
<path d="M687.4 223.8 Q703.2 221.5 719.0 228.5 Q703.2 230.8 687.4 223.8Z M700.1 208.4 Q744.1 213.1 788.1 222.8 Q744.1 218.1 700.1 208.4Z M544.3 177.1 Q575.8 177.3 607.2 186.3 Q575.8 186.1 544.3 177.1Z M655.3 247.5 Q677.4 249.4 699.6 256.2 Q677.4 254.2 655.3 247.5Z M744.0 239.5 Q781.7 239.5 819.4 250.2 Q781.7 250.1 744.0 239.5Z M584.4 190.2 Q602.5 189.5 620.5 197.3 Q602.5 198.0 584.4 190.2Z M744.4 257.9 Q783.1 262.5 821.9 274.0 Q783.1 269.5 744.4 257.9Z M657.7 250.7 Q699.6 254.9 741.6 267.4 Q699.6 263.2 657.7 250.7Z M709.6 223.1 Q726.0 223.0 742.5 228.2 Q726.0 228.3 709.6 223.1Z M549.1 200.8 Q567.4 200.6 585.7 207.4 Q567.4 207.6 549.1 200.8Z M595.9 207.7 Q617.7 207.8 639.5 216.6 Q617.7 216.5 595.9 207.7Z M677.1 264.3 Q697.7 263.7 718.2 270.2 Q697.7 270.8 677.1 264.3Z M806.4 270.6 Q842.2 272.2 878.0 283.8 Q842.2 282.1 806.4 270.6Z M733.8 208.9 Q756.3 209.1 778.7 215.8 Q756.3 215.5 733.8 208.9Z M541.7 254.1 Q587.4 256.8 633.0 268.2 Q587.4 265.5 541.7 254.1Z M604.5 226.8 Q649.2 230.4 694.0 240.3 Q649.2 236.7 604.5 226.8Z M660.9 248.1 Q684.4 249.2 707.9 257.6 Q684.4 256.4 660.9 248.1Z M544.6 221.2 Q592.0 225.1 639.4 234.2 Q592.0 230.2 544.6 221.2Z M507.3 240.3 Q542.7 243.6 578.1 251.9 Q542.7 248.7 507.3 240.3Z M599.8 232.4 Q647.1 237.2 694.5 252.1 Q647.1 247.3 599.8 232.4Z M473.9 224.5 Q512.3 228.0 550.8 237.8 Q512.3 234.4 473.9 224.5Z M687.9 238.8 Q706.6 236.6 725.2 245.0 Q706.6 247.2 687.9 238.8Z M767.8 258.6 Q791.4 256.8 814.9 265.4 Q791.4 267.2 767.8 258.6Z M766.0 271.3 Q790.7 272.9 815.4 280.2 Q790.7 278.6 766.0 271.3Z M729.3 278.1 Q761.8 281.3 794.3 289.3 Q761.8 286.0 729.3 278.1Z M580.2 265.7 Q595.8 263.9 611.5 272.0 Q595.8 273.7 580.2 265.7Z M574.6 260.0 Q591.4 260.8 608.3 267.0 Q591.4 266.1 574.6 260.0Z M635.2 259.9 Q652.5 260.4 669.7 266.5 Q652.5 266.0 635.2 259.9Z M631.6 213.5 Q664.5 216.4 697.3 226.6 Q664.5 223.8 631.6 213.5Z M542.0 240.8 Q574.5 242.2 607.1 250.3 Q574.5 248.9 542.0 240.8Z M808.4 259.6 Q844.5 263.1 880.6 272.0 Q844.5 268.6 808.4 259.6Z M546.4 228.6 Q572.4 229.4 598.4 236.4 Q572.4 235.6 546.4 228.6Z M494.1 187.1 Q529.6 189.3 565.2 201.5 Q529.6 199.3 494.1 187.1Z M494.1 226.9 Q516.8 227.5 539.6 233.6 Q516.8 233.0 494.1 226.9Z" fill="#f3d891"/>
<path d="M483.1 259.4 Q527.5 263.5 571.8 274.2 Q527.5 270.0 483.1 259.4Z M739.6 317.7 Q775.5 319.6 811.3 327.1 Q775.5 325.1 739.6 317.7Z M596.6 292.9 Q646.4 299.7 696.3 311.9 Q646.4 305.2 596.6 292.9Z M529.9 289.4 Q579.7 295.4 629.5 305.3 Q579.7 299.3 529.9 289.4Z M644.2 309.2 Q681.6 312.9 718.9 322.5 Q681.6 318.7 644.2 309.2Z M665.6 289.1 Q698.7 289.7 731.9 298.0 Q698.7 297.4 665.6 289.1Z M755.3 333.9 Q785.7 337.2 816.0 344.4 Q785.7 341.1 755.3 333.9Z M760.9 336.5 Q801.4 342.0 841.8 351.4 Q801.4 345.9 760.9 336.5Z M681.7 320.4 Q729.3 324.9 776.8 335.3 Q729.3 330.8 681.7 320.4Z M708.4 323.7 Q734.2 326.9 760.1 333.7 Q734.2 330.6 708.4 323.7Z M671.1 294.6 Q704.0 296.6 736.8 306.3 Q704.0 304.4 671.1 294.6Z M657.7 302.5 Q681.6 303.2 705.6 311.7 Q681.6 311.0 657.7 302.5Z" fill="#dfb977"/>
<path d="M608.9 297.0 Q642.9 299.9 676.8 306.8 Q642.9 303.9 608.9 297.0Z M479.9 242.6 Q499.0 242.7 518.1 248.0 Q499.0 247.9 479.9 242.6Z M806.4 315.3 Q845.7 318.7 885.0 328.0 Q845.7 324.6 806.4 315.3Z M580.9 291.0 Q598.5 292.4 616.0 297.3 Q598.5 295.9 580.9 291.0Z M493.8 278.8 Q512.1 278.6 530.4 283.9 Q512.1 284.1 493.8 278.8Z M799.7 314.3 Q815.9 313.7 832.1 319.8 Q815.9 320.4 799.7 314.3Z M534.1 260.9 Q558.2 261.2 582.2 267.3 Q558.2 267.0 534.1 260.9Z M747.7 291.5 Q778.0 294.2 808.2 302.9 Q778.0 300.2 747.7 291.5Z M692.2 311.4 Q718.7 313.5 745.2 321.0 Q718.7 318.9 692.2 311.4Z M653.8 290.3 Q676.9 291.9 700.1 299.2 Q676.9 297.7 653.8 290.3Z" fill="#f3d891"/>
<polygon points="520.0,118.0 830.0,164.0 830.0,180.0 821.9,179.5 813.8,179.0 806.1,175.8 797.7,176.9 790.0,174.0 782.9,172.7 775.6,172.2 768.3,172.3 761.4,169.4 754.0,170.1 747.1,167.4 740.0,166.0 732.6,166.6 725.5,165.3 718.5,162.9 711.6,160.1 704.0,161.8 697.0,160.2 690.0,158.0 682.9,156.4 676.0,153.9 668.6,154.3 661.4,153.8 654.6,150.4 646.9,152.9 640.0,150.0 633.1,147.6 625.6,148.8 618.4,148.4 611.2,147.5 604.2,145.8 597.3,142.7 590.0,143.0 581.8,143.1 574.0,140.3 566.1,138.9 557.9,138.7 550.0,137.0 542.5,135.8 534.8,136.7 527.3,135.7 520.0,133.0" fill="#a38a62"/>
</g>
<polygon points="540.0,121.0 539.1,131.7 536.5,141.9 533.0,152.0 527.3,163.2 521.0,174.0 518.0,187.9 516.0,202.0 514.0,213.0 511.1,223.6 507.0,234.0 505.5,245.8 501.6,257.2 500.0,269.0 497.0,282.3 492.0,295.0 486.8,305.7 483.0,317.0 476.0,330.0 472.5,340.9 470.0,352.0 468.1,363.8 464.0,375.0 460.9,387.0 458.0,399.0 451.6,408.6 445.0,418.0 436.2,428.7 427.0,439.0 415.0,444.0 403.4,448.7 450.0,475.0 500.0,503.0 560.0,538.0 610.0,567.0 652.6,592.0 711.0,549.0 713.4,539.4 714.8,529.6 715.1,519.6 717.5,510.0 719.4,499.9 721.9,489.9 725.0,480.0 728.6,469.8 733.0,460.0 738.6,449.1 742.5,437.5 746.3,426.9 748.4,415.7 752.0,405.0 755.9,395.3 758.2,385.1 761.0,375.0 763.8,362.3 768.0,350.0 770.7,337.3 775.0,325.0 777.7,315.0 779.9,304.8 783.2,295.0 786.0,285.0 789.2,275.8 790.6,266.1 793.5,256.9 796.0,247.5 803.0,235.0 810.0,220.0 811.0,209.9 813.7,200.1 815.0,190.0 817.2,180.9 819.1,171.8 820.0,162.5" fill="none" stroke="#2b2416" stroke-width="1" stroke-linejoin="round"/><polygon points="536.0,109.0 560.0,106.0 600.0,101.0 625.0,99.0 660.0,96.0 990.0,100.0 985.0,118.8 960.0,126.0 900.0,142.0 860.0,153.0 820.0,163.5 814.0,162.4 808.1,161.2 802.1,160.2 796.1,159.0 790.1,158.7 784.1,157.4 777.8,158.7 772.0,156.8 766.1,154.8 760.0,155.0 754.1,153.7 748.1,152.2 741.9,153.2 736.0,151.5 729.9,151.1 724.0,149.5 718.0,148.5 711.8,149.0 705.9,147.6 700.0,146.0 693.9,145.6 688.1,143.2 682.1,142.7 675.9,143.2 670.1,140.8 663.9,141.5 658.0,139.4 651.9,139.7 645.8,139.1 640.0,137.0 633.9,135.1 627.4,135.7 621.1,134.7 615.2,131.9 608.9,131.1 602.4,131.5 596.4,128.9 590.0,129.0 583.8,128.0 577.6,126.7 571.1,126.9 565.2,124.2 558.8,123.9 552.7,122.3 546.4,121.5 540.0,121.5" fill="#c6d857" stroke="#2b2416" stroke-width="0.8" stroke-linejoin="round"/><path d="M547.8 118.1 L547.6 110.8 M546.3 118.7 L543.7 107.8 M545.6 118.9 L542.1 110.0 M549.9 118.7 L552.8 112.5 M548.3 118.1 L548.7 109.3 M545.8 118.8 L542.5 110.7 M567.0 119.4 L568.4 111.3 M567.1 119.4 L568.7 113.1 M564.7 119.5 L562.9 113.3 M566.0 119.0 L566.1 108.5 M566.4 119.2 L567.1 109.4 M565.4 119.2 L564.6 109.5 M598.1 126.7 L595.2 119.3 M600.8 126.3 L602.1 116.6 M599.6 126.1 L599.1 120.5 M598.9 126.4 L597.2 119.7 M598.9 126.4 L597.4 116.1 M598.6 126.5 L596.4 115.7 M644.8 133.7 L647.6 127.7 M642.4 133.2 L641.5 125.0 M640.7 133.9 L637.3 125.5 M645.0 133.7 L647.9 127.3 M643.5 133.2 L644.2 127.3 M643.4 133.1 L643.9 122.6 M688.6 139.5 L686.4 134.0 M688.0 139.7 L685.0 130.8 M687.7 139.9 L684.2 133.5 M690.0 139.0 L690.0 128.5 M689.6 139.1 L689.0 131.6 M690.7 139.2 L691.7 133.4 M703.4 142.1 L704.0 136.0 M703.5 142.2 L704.3 131.3 M700.9 142.8 L697.7 133.7 M703.5 142.2 L704.3 136.1 M701.9 142.4 L700.2 131.0 M705.4 142.9 L709.0 136.3 M738.0 146.4 L739.5 135.3 M735.7 146.5 L733.8 137.3 M734.8 146.8 L731.5 138.8 M737.8 146.3 L739.1 137.5 M738.3 146.5 L740.3 140.5 M736.3 146.3 L735.2 135.8 M760.4 150.2 L761.0 142.3 M759.5 150.2 L758.8 139.1 M760.4 150.1 L760.9 144.9 M761.4 150.5 L763.6 143.0 M759.7 150.1 L759.2 143.7 M759.7 150.1 L759.3 143.1 M778.0 152.7 L775.1 143.2 M778.1 152.7 L775.2 142.3 M777.7 152.9 L774.3 142.3 M781.5 152.6 L783.7 144.0 M781.0 152.4 L782.5 145.5 M781.1 152.4 L782.9 144.4 M806.7 157.5 L804.8 146.2 M807.5 157.2 L806.8 149.8 M809.7 157.6 L812.3 149.8 M808.8 157.3 L810.0 151.0 M809.6 157.6 L812.1 150.4 M805.8 157.8 L802.6 146.1 M883.4 118.6 L881.1 107.3 M887.3 118.9 L890.8 109.4 M882.7 118.9 L879.1 112.6 M883.6 118.5 L881.5 110.7 M885.5 118.2 L886.3 107.2 M884.3 118.3 L883.3 112.2 M892.3 112.1 L892.7 106.2 M890.0 112.7 L887.0 103.7 M892.9 112.4 L894.4 106.6 M891.8 112.1 L891.4 102.8 M893.3 112.5 L895.2 104.7 M893.9 112.7 L896.6 106.0" stroke="#4d5a1c" stroke-width="0.8" fill="none"/><use href="#veg"/><path d="M563.0 128.0 L561.5 137.3 L559.2 146.5 L557.6 155.8 L555.6 165.0 L551.8 172.9 L548.0 180.9 L544.9 189.2 L541.2 197.2 L537.0 205.0 L532.3 213.8 L528.7 223.0 L524.4 232.0 L519.8 240.8 L516.3 250.0 L514.0 259.6 L511.0 269.0 M602.0 130.0 L598.8 138.9 L595.4 147.7 L591.6 156.3 L588.0 165.0 L586.1 173.4 L583.8 181.7 L581.1 189.9 L578.2 198.1 L576.0 206.4 L574.0 214.8 L570.9 223.9 L568.8 233.3 L565.7 242.4 L563.0 251.6 L560.9 259.5 L558.6 267.3 L556.3 275.1 L553.7 282.9 L551.0 290.6 M638.0 138.0 L633.9 146.2 L629.7 154.4 L626.0 162.8 M673.6 143.3 L670.7 152.6 L668.2 162.0 L666.0 171.5 L660.5 181.3 L655.0 191.0 M647.6 169.3 L644.5 178.0 L641.0 186.6 M719.0 149.8 L716.1 160.7 L712.6 171.5 L707.8 179.9 L704.0 188.8 M760.3 154.2 L756.7 163.6 L753.2 173.0 L749.5 182.3 L745.8 190.1 L741.0 197.2 L737.8 205.3 L733.2 212.6 M724.5 180.2 L720.4 188.3 L716.5 196.4 L712.3 204.5 L708.3 212.6 L705.6 221.0 L701.8 228.9 L698.8 237.2 L695.9 245.5 L693.0 253.8 M795.0 171.5 L793.4 179.6 L791.7 187.7 L789.6 195.8 L788.5 204.0 M775.5 221.3 L772.3 230.0 L768.8 238.6 L765.6 247.3 L762.5 256.0 M654.0 240.8 L650.7 248.9 L646.7 256.6 L643.3 264.6 L640.9 272.5 L638.6 280.4 L636.8 288.5 M604.3 273.3 L601.9 281.4 L598.4 289.1 L595.7 297.0 L593.0 305.0 L589.8 313.2 L587.8 321.8 L584.8 330.0 L580.7 340.1 L576.0 350.0 L570.9 357.7 L566.2 365.6 L561.5 373.6 L557.4 381.0 L552.7 388.0 L548.7 395.5 L544.0 402.6 L540.0 410.0 L535.8 417.5 L531.1 424.7 L525.8 431.5 L521.6 439.0 L515.3 446.4 L509.0 453.7 L502.1 460.5 L496.0 468.0 M660.6 282.0 L656.5 290.5 L654.1 299.6 L650.0 308.0 L645.2 318.9 L641.0 330.0 M723.5 269.0 L718.8 277.2 L713.8 285.3 L709.0 293.4 L704.0 301.5 M736.5 308.0 L730.6 315.3 L724.5 322.4 L719.0 330.0 M674.0 330.0 L669.6 338.2 L664.3 345.9 L659.9 354.1 L655.0 362.0 L650.0 369.6 L644.5 376.9 L639.3 384.3 L634.0 391.7 L628.5 400.0 L623.0 408.4 L617.7 416.8 L612.0 425.0 L606.2 433.4 L599.8 441.4 L594.0 449.8 L587.9 455.7 L581.5 461.0 L575.2 466.6 L568.9 472.3 L562.6 477.9 L557.0 484.2 L550.6 489.7 M759.3 351.8 L753.3 357.3 L747.3 362.8 L741.7 368.7 L735.9 374.4 L730.0 380.0 L724.0 386.1 L717.3 391.5 L711.8 398.1 L705.8 404.2 L699.4 409.9 L695.0 418.1 L690.3 426.1 L685.5 434.1 L680.9 442.1 L676.0 450.0 L671.4 458.4 L666.1 466.4 L661.1 474.5 L655.9 482.5 L647.3 484.7 L638.7 487.4 L630.2 489.8 L621.5 491.9 L612.8 493.8 L604.2 496.2 L595.5 498.1 L586.9 500.6 M507.0 330.0 L505.3 339.0 L504.4 348.1 L503.1 357.2 L501.7 366.2 L501.3 375.4 L499.8 384.4 L494.8 391.6 L489.7 398.7 L484.9 406.0 L480.3 413.4 L475.9 421.0 L470.7 428.0 M706.7 449.8 L703.4 457.7 L699.2 465.2 L695.7 473.0 L692.2 480.9 L688.9 488.8 L684.6 496.3 L681.3 504.2 L675.0 510.0 L669.2 516.3 L663.1 522.3 L657.3 528.6 L651.5 534.9 L645.0 540.5 M552.0 300.0 L548.3 307.8 L546.0 316.2 L542.9 324.2 L538.6 331.8 L536.0 340.0 L532.3 348.2 L528.4 356.2 L523.8 363.9 L520.0 372.0" fill="none" stroke="#2b2416" stroke-width="1.0" stroke-linecap="round" stroke-linejoin="round"/>
<g transform="translate(-34 -22)"><path d="M612 250 L621 246 L628 239 L637 236 L644 230 L647 222 M628 239 L631 250 L629 258 L634 264 M637 236 L640 246 L646 252 L644 260 L650 266 M644 230 L650 238 M671 252 L682 247 L688 238 L697 236 L704 240 L714 241 M688 238 L685 228 M682 247 L686 258 L684 266 M697 236 L702 230 L708 232" fill="none" stroke="#8a5a33" stroke-width="2" stroke-linecap="round" stroke-linejoin="round"/>
<path d="M612 250 L621 246 L628 239 L637 236 L644 230 L647 222 M628 239 L631 250 L629 258 L634 264 M637 236 L640 246 L646 252 L644 260 L650 266 M644 230 L650 238 M671 252 L682 247 L688 238 L697 236 L704 240 L714 241 M688 238 L685 228 M682 247 L686 258 L684 266 M697 236 L702 230 L708 232" fill="none" stroke="#3c2614" stroke-width="0.6" stroke-linecap="round" stroke-linejoin="round"/></g>
<path d="M427.0 439.0 Q426.9 437.1 429.2 433.8 Q428.9 431.5 431.5 428.5 Q430.8 425.7 433.8 423.2 Q433.9 420.0 436.0 418.0 Q437.0 414.3 439.3 412.7 Q440.6 408.3 442.7 407.3 Q444.3 403.2 446.0 402.0 Q447.6 403.3 449.0 407.0 Q450.9 408.3 452.0 412.0 Q453.8 413.7 454.3 417.3 Q456.3 419.4 456.7 422.7 Q459.4 425.1 459.0 428.0 Q461.7 431.8 460.5 434.5 Q462.7 438.7 462.0 441.0 Q460.7 442.3 457.0 441.3 Q455.2 442.5 452.0 441.7 Q449.9 443.1 447.0 442.0 Q444.5 442.6 442.0 441.2 Q438.8 442.5 437.0 440.5 Q433.8 441.0 432.0 439.8 Q428.6 440.1 427.0 439.0 Z" fill="#f2cb6b" stroke="#8a6a25" stroke-width="0.5"/>
<path d="M389.0 477.0 Q391.4 475.3 398.0 474.0 Q399.8 472.1 403.0 471.5 Q406.0 468.2 408.0 469.0 Q411.8 470.4 414.0 473.0 Q417.4 477.1 418.0 481.0 Q416.6 481.5 411.5 480.5 Q409.1 481.1 405.0 480.0 Q401.6 480.8 399.7 479.0 Q396.1 478.8 394.3 478.0 Q389.6 477.7 389.0 477.0 Z" fill="#f2cb6b" stroke="#8a6a25" stroke-width="0.5"/>
<path d="M485.0 479.0 Q485.7 477.8 489.0 476.0 Q489.9 474.6 493.0 473.0 Q493.0 471.1 497.0 470.0 Q497.6 467.0 500.2 466.0 Q501.7 463.2 503.5 462.0 Q505.3 458.2 506.8 458.0 Q508.6 455.2 510.0 454.0 Q511.4 456.1 512.0 460.0 Q513.5 462.4 514.0 466.0 Q516.5 468.0 516.0 471.3 Q518.9 474.1 518.0 476.7 Q520.5 479.9 520.0 482.0 Q518.4 483.3 515.0 483.3 Q513.7 485.5 510.0 484.7 Q508.0 487.2 505.0 486.0 Q502.3 486.3 500.0 484.2 Q496.9 484.3 495.0 482.5 Q491.1 482.6 490.0 480.8 Q485.5 480.6 485.0 479.0 Z" fill="#f2cb6b" stroke="#8a6a25" stroke-width="0.5"/>
<path d="M670.0 548.0 Q670.3 545.8 673.3 543.7 Q673.4 541.2 676.7 539.3 Q677.1 536.7 680.0 535.0 Q680.1 531.7 683.8 530.5 Q685.1 527.7 687.5 526.0 Q688.2 522.0 691.2 521.5 Q692.4 517.7 695.0 517.0 Q697.3 516.4 700.5 519.5 Q703.1 518.9 706.0 522.0 Q708.1 522.5 710.0 525.0 Q712.6 524.7 714.0 528.0 Q716.9 528.1 718.0 531.0 Q720.7 531.8 722.0 534.0 Q725.8 534.9 726.2 537.8 Q729.6 539.3 730.4 541.6 Q734.2 543.3 734.6 545.4 Q737.5 547.3 738.8 549.2 Q742.6 551.3 743.0 553.0 Q741.5 555.3 738.7 557.3 Q737.3 559.8 734.3 561.7 Q732.9 564.3 730.0 566.0 Q727.6 567.9 724.0 568.7 Q721.9 571.3 718.0 571.3 Q715.4 573.6 712.0 574.0 Q709.4 574.0 706.5 572.0 Q703.6 572.9 701.0 570.0 Q697.7 570.7 695.5 568.0 Q692.1 568.1 690.0 566.0 Q686.9 565.7 685.3 564.0 Q681.5 564.0 680.7 562.0 Q677.0 561.7 676.0 560.0 Q673.3 557.4 673.0 554.0 Q670.3 551.1 670.0 548.0 Z" fill="#f2cb6b" stroke="#8a6a25" stroke-width="0.5"/>
<ellipse cx="520" cy="482" rx="10" ry="8" fill="#d6de55"/><ellipse cx="624" cy="528" rx="13" ry="10" fill="#d6de55"/>
<path d="M517.4 489.0 q2.3 -8.3 7.8 -11.4 M519.8 489.0 q2.0 -6.8 6.8 -9.0 M516.5 489.0 q0.6 -10.4 2.0 -17.2 M523.5 489.0 q1.2 -9.6 4.1 -15.4 M516.7 489.0 q-5.2 -12.9 -17.4 -12.6 M523.4 489.0 q2.8 -9.6 9.4 -13.0 M515.9 489.0 q-2.5 -8.3 -8.2 -11.1 M517.0 489.0 q2.6 -9.8 8.7 -13.9 M517.0 489.0 q-1.9 -6.5 -6.3 -8.9 M522.0 489.0 q0.5 -9.1 1.8 -15.1 M524.8 489.0 q-4.5 -12.0 -15.0 -13.3 M523.5 489.0 q2.6 -11.3 8.7 -16.8 M515.8 489.0 q-3.4 -9.3 -11.2 -10.7 M516.1 489.0 q2.6 -9.8 8.8 -13.9 M520.5 489.0 q-0.6 -11.6 -2.1 -19.2 M515.6 489.0 q-4.4 -12.7 -14.6 -15.4 M522.5 489.0 q4.1 -13.0 13.7 -16.8 M517.2 489.0 q3.8 -9.8 12.7 -10.3 M522.7 489.0 q-0.3 -11.3 -1.0 -18.8 M515.4 489.0 q-1.5 -12.8 -4.9 -20.8 M518.6 489.0 q-0.0 -6.2 -0.1 -10.4 M524.9 489.0 q2.8 -6.8 9.4 -6.3 M619.6 537.0 q6.5 -17.9 21.6 -20.6 M620.0 537.0 q-0.5 -17.9 -1.7 -29.9 M627.4 537.0 q-2.1 -10.8 -7.1 -16.6 M626.5 537.0 q7.6 -20.7 25.5 -23.3 M623.8 537.0 q0.8 -10.5 2.6 -17.2 M619.3 537.0 q4.7 -18.7 15.5 -27.0 M628.2 537.0 q-4.5 -10.8 -14.9 -9.9 M623.8 537.0 q-5.0 -14.4 -16.7 -17.1 M621.6 537.0 q3.9 -11.3 13.1 -13.6 M620.6 537.0 q2.8 -10.7 9.3 -15.3 M621.3 537.0 q-8.6 -21.1 -28.6 -20.5 M628.8 537.0 q0.0 -14.2 0.1 -23.7 M623.9 537.0 q3.5 -16.9 11.6 -25.6 M620.0 537.0 q-4.4 -19.7 -14.7 -29.3 M621.8 537.0 q1.6 -13.2 5.3 -21.4 M624.9 537.0 q-0.6 -12.0 -1.8 -19.9 M620.4 537.0 q-3.8 -9.9 -12.5 -10.8 M624.1 537.0 q-7.4 -20.2 -24.6 -22.9 M620.7 537.0 q3.3 -19.0 11.1 -29.6 M623.6 537.0 q5.6 -14.3 18.7 -14.7 M626.7 537.0 q-0.2 -18.0 -0.7 -30.0 M623.3 537.0 q-5.6 -19.6 -18.7 -26.7 M627.7 537.0 q-4.8 -20.0 -15.9 -29.3 M628.1 537.0 q4.5 -13.6 14.8 -17.1 M626.5 537.0 q5.6 -21.2 18.6 -30.2 M626.5 537.0 q6.5 -15.4 21.6 -13.9 M624.0 537.0 q4.3 -16.0 14.2 -22.5 M622.8 537.0 q-2.0 -20.0 -6.6 -32.7" stroke="#3d4518" stroke-width="0.9" fill="none"/>
<ellipse cx="492" cy="297" rx="3" ry="2" fill="#b07a3c" stroke="#3c2614" stroke-width="0.5"/><ellipse cx="690" cy="366" rx="2.5" ry="2" fill="#b07a3c" stroke="#3c2614" stroke-width="0.5"/><ellipse cx="759" cy="385" rx="3" ry="2.5" fill="#b07a3c" stroke="#3c2614" stroke-width="0.5"/></g>
<g id="cleanblock"><use href="#rf"/><polygon points="403.4,448.7 419.5,456.5 434.2,466.8 450.0,475.0 462.3,482.4 475.0,488.9 487.9,495.2 500.0,503.0 514.5,512.6 529.5,521.4 545.0,529.3 560.0,538.0 572.5,545.3 585.4,551.8 598.3,558.4 610.0,567.0 624.4,575.0 638.3,583.9 652.6,592.0 653.5,623.0 600.0,590.5 530.0,547.0 460.0,503.0 406.2,468.4" fill="#c4af76" stroke="#2b2416" stroke-width="1" stroke-linejoin="round"/><clipPath id="clipSclean"><polygon points="541.0,117.5 539.1,131.7 536.5,141.9 533.0,152.0 527.3,163.2 521.0,174.0 518.0,187.9 516.0,202.0 514.0,213.0 511.1,223.6 507.0,234.0 505.5,245.8 501.6,257.2 500.0,269.0 497.0,282.3 492.0,295.0 486.8,305.7 483.0,317.0 481.5,333.0 476.8,344.3 473.0,356.0 470.5,366.8 466.0,377.0 462.0,396.0 460.7,411.6 452.0,421.0 440.0,433.0 427.0,440.0 415.0,444.0 403.4,448.7 419.5,456.5 434.2,466.8 450.0,475.0 462.3,482.4 475.0,488.9 487.9,495.2 500.0,503.0 514.5,512.6 529.5,521.4 545.0,529.3 560.0,538.0 572.5,545.3 585.4,551.8 598.3,558.4 610.0,567.0 624.4,575.0 638.3,583.9 652.6,592.0 711.0,549.0 713.4,539.4 714.8,529.6 715.1,519.6 717.5,510.0 719.4,499.9 721.9,489.9 725.0,480.0 728.6,469.8 733.0,460.0 738.6,449.1 742.5,437.5 746.3,426.9 748.4,415.7 752.0,405.0 755.9,395.3 758.2,385.1 761.0,375.0 763.8,362.3 768.0,350.0 770.7,337.3 775.0,325.0 777.7,315.0 779.9,304.8 783.2,295.0 786.0,285.0 789.2,275.8 790.6,266.1 793.5,256.9 796.0,247.5 803.0,235.0 810.0,220.0 811.0,209.9 813.7,200.1 815.0,190.0 817.2,180.9 819.1,171.8 822.8,161.5"/></clipPath>
<g clip-path="url(#clipSclean)">
<rect x="380" y="100" width="480" height="540" fill="#f7e2a0"/>
<polygon points="380.0,233.4 860.0,319.1 860.0,353.4 380.0,264.3" fill="#e9c985"/>
<polygon points="380.0,150.6 860.0,232.9 860.0,319.1 380.0,233.4" fill="#dfb977"/>
<polygon points="380.0,139.7 860.0,218.6 860.0,232.9 380.0,150.6" fill="#d3ad70"/>
<polygon points="380.0,77.1 860.0,145.7 860.0,218.6 380.0,139.7" fill="#c8a76e"/>
<path d="M552.8 170.1 Q592.9 176.1 633.0 185.8 Q592.9 179.7 552.8 170.1Z M657.8 190.5 Q714.8 199.6 771.9 214.1 Q714.8 205.0 657.8 190.5Z M656.4 192.6 Q701.5 196.6 746.7 207.0 Q701.5 203.0 656.4 192.6Z M607.3 187.7 Q666.7 193.7 726.0 203.4 Q666.7 197.4 607.3 187.7Z M632.4 183.4 Q685.0 190.8 737.6 202.3 Q685.0 194.9 632.4 183.4Z M737.1 208.6 Q794.2 214.1 851.2 225.2 Q794.2 219.7 737.1 208.6Z M619.0 184.9 Q672.5 192.5 726.0 206.5 Q672.5 198.9 619.0 184.9Z M750.2 211.6 Q803.3 219.3 856.3 230.4 Q803.3 222.7 750.2 211.6Z M805.3 209.8 Q843.9 214.0 882.4 222.5 Q843.9 218.3 805.3 209.8Z M538.3 167.1 Q596.7 176.5 655.1 190.7 Q596.7 181.3 538.3 167.1Z" fill="#dfb977"/>
<path d="M802.6 283.7 Q819.4 281.3 836.2 289.4 Q819.4 291.8 802.6 283.7Z M608.3 198.1 Q653.2 203.9 698.1 216.9 Q653.2 211.2 608.3 198.1Z M532.3 227.4 Q558.5 227.3 584.8 234.4 Q558.5 234.5 532.3 227.4Z M473.8 175.9 Q491.0 175.2 508.3 181.0 Q491.0 181.7 473.8 175.9Z M734.6 283.7 Q763.1 284.4 791.6 295.2 Q763.1 294.6 734.6 283.7Z M792.2 276.9 Q825.9 279.6 859.6 290.4 Q825.9 287.7 792.2 276.9Z M518.4 215.9 Q550.3 217.9 582.2 225.1 Q550.3 223.2 518.4 215.9Z M532.7 243.8 Q570.4 247.0 608.1 257.6 Q570.4 254.4 532.7 243.8Z M479.7 220.3 Q494.8 219.1 510.0 225.5 Q494.8 226.7 479.7 220.3Z M528.3 186.2 Q547.3 184.6 566.3 191.5 Q547.3 193.1 528.3 186.2Z M574.4 216.6 Q607.4 217.7 640.5 228.1 Q607.4 227.0 574.4 216.6Z M735.4 293.2 Q755.2 292.3 775.1 301.1 Q755.2 302.0 735.4 293.2Z M624.0 260.0 Q670.0 262.4 715.9 273.7 Q670.0 271.3 624.0 260.0Z M758.7 291.9 Q798.2 294.2 837.7 305.5 Q798.2 303.1 758.7 291.9Z M495.9 177.5 Q532.4 179.3 569.0 191.3 Q532.4 189.6 495.9 177.5Z M596.3 185.6 Q613.6 185.7 630.9 191.5 Q613.6 191.4 596.3 185.6Z M721.3 248.7 Q756.1 252.3 790.9 261.5 Q756.1 258.0 721.3 248.7Z M625.8 236.3 Q642.3 236.7 658.8 242.7 Q642.3 242.4 625.8 236.3Z M704.1 229.6 Q751.4 233.4 798.7 243.5 Q751.4 239.7 704.1 229.6Z M753.3 279.6 Q770.9 277.6 788.6 284.9 Q770.9 286.9 753.3 279.6Z M771.6 229.3 Q814.1 233.4 856.7 244.1 Q814.1 240.1 771.6 229.3Z M767.6 226.5 Q792.2 227.8 816.7 234.5 Q792.2 233.1 767.6 226.5Z M545.7 202.4 Q583.6 202.6 621.4 213.4 Q583.6 213.1 545.7 202.4Z M558.7 236.9 Q599.6 239.6 640.4 251.1 Q599.6 248.4 558.7 236.9Z M667.5 256.9 Q709.8 259.0 752.2 269.8 Q709.8 267.7 667.5 256.9Z M642.5 200.1 Q687.5 202.3 732.4 215.1 Q687.5 212.9 642.5 200.1Z M493.0 244.6 Q531.6 249.0 570.3 258.4 Q531.6 254.1 493.0 244.6Z M733.9 252.6 Q757.5 253.9 781.0 261.8 Q757.5 260.6 733.9 252.6Z M553.0 205.1 Q571.8 203.2 590.6 210.3 Q571.8 212.2 553.0 205.1Z M752.1 256.7 Q769.0 255.1 785.8 263.2 Q769.0 264.7 752.1 256.7Z M560.1 237.0 Q592.3 237.1 624.6 248.0 Q592.3 247.9 560.1 237.0Z M779.6 224.5 Q826.0 226.5 872.3 236.8 Q826.0 234.9 779.6 224.5Z" fill="#f3d891"/>
<path d="M679.8 302.0 Q731.0 307.7 782.1 321.2 Q731.0 315.5 679.8 302.0Z M647.0 305.0 Q692.7 312.2 738.4 323.1 Q692.7 315.9 647.0 305.0Z M527.6 283.6 Q582.5 288.5 637.3 300.2 Q582.5 295.3 527.6 283.6Z M527.5 273.8 Q560.1 276.6 592.8 283.5 Q560.1 280.7 527.5 273.8Z M642.6 290.7 Q685.2 294.6 727.9 306.3 Q685.2 302.5 642.6 290.7Z M488.7 255.7 Q518.5 258.5 548.2 266.7 Q518.5 263.9 488.7 255.7Z M619.4 301.5 Q648.1 304.2 676.7 312.4 Q648.1 309.7 619.4 301.5Z M750.5 311.1 Q778.6 314.7 806.7 322.7 Q778.6 319.2 750.5 311.1Z M519.0 279.7 Q540.1 281.9 561.2 287.9 Q540.1 285.7 519.0 279.7Z M632.6 289.2 Q666.5 291.7 700.3 299.3 Q666.5 296.9 632.6 289.2Z M518.0 264.4 Q570.3 270.3 622.6 282.5 Q570.3 276.6 518.0 264.4Z M693.5 306.7 Q730.1 312.1 766.7 321.7 Q730.1 316.4 693.5 306.7Z" fill="#dfb977"/>
<path d="M780.6 313.9 Q800.5 313.8 820.3 320.6 Q800.5 320.7 780.6 313.9Z M599.3 281.6 Q630.0 283.2 660.6 291.5 Q630.0 289.9 599.3 281.6Z M768.7 292.9 Q809.0 298.8 849.4 309.8 Q809.0 304.0 768.7 292.9Z M673.2 292.8 Q707.2 297.7 741.2 306.7 Q707.2 301.9 673.2 292.8Z M518.4 255.5 Q568.4 260.7 618.4 270.7 Q568.4 265.5 518.4 255.5Z M775.2 292.5 Q803.4 294.7 831.5 301.0 Q803.4 298.7 775.2 292.5Z M477.0 264.8 Q523.2 269.3 569.5 277.9 Q523.2 273.4 477.0 264.8Z M803.4 314.0 Q842.9 317.4 882.4 327.9 Q842.9 324.4 803.4 314.0Z M551.3 252.6 Q588.4 256.9 625.5 265.1 Q588.4 260.9 551.3 252.6Z M585.6 273.7 Q614.4 277.2 643.1 285.3 Q614.4 281.7 585.6 273.7Z" fill="#f3d891"/>
</g>
<polygon points="541.0,117.5 539.1,131.7 536.5,141.9 533.0,152.0 527.3,163.2 521.0,174.0 518.0,187.9 516.0,202.0 514.0,213.0 511.1,223.6 507.0,234.0 505.5,245.8 501.6,257.2 500.0,269.0 497.0,282.3 492.0,295.0 486.8,305.7 483.0,317.0 481.5,333.0 476.8,344.3 473.0,356.0 470.5,366.8 466.0,377.0 462.0,396.0 460.7,411.6 452.0,421.0 440.0,433.0 427.0,440.0 415.0,444.0 403.4,448.7 419.5,456.5 434.2,466.8 450.0,475.0 462.3,482.4 475.0,488.9 487.9,495.2 500.0,503.0 514.5,512.6 529.5,521.4 545.0,529.3 560.0,538.0 572.5,545.3 585.4,551.8 598.3,558.4 610.0,567.0 624.4,575.0 638.3,583.9 652.6,592.0 711.0,549.0 713.4,539.4 714.8,529.6 715.1,519.6 717.5,510.0 719.4,499.9 721.9,489.9 725.0,480.0 728.6,469.8 733.0,460.0 738.6,449.1 742.5,437.5 746.3,426.9 748.4,415.7 752.0,405.0 755.9,395.3 758.2,385.1 761.0,375.0 763.8,362.3 768.0,350.0 770.7,337.3 775.0,325.0 777.7,315.0 779.9,304.8 783.2,295.0 786.0,285.0 789.2,275.8 790.6,266.1 793.5,256.9 796.0,247.5 803.0,235.0 810.0,220.0 811.0,209.9 813.7,200.1 815.0,190.0 817.2,180.9 819.1,171.8 822.8,161.5" fill="none" stroke="#2b2416" stroke-width="1" stroke-linejoin="round"/><polygon points="550.0,108.5 560.0,106.0 600.0,101.0 625.0,99.0 660.0,96.0 990.0,100.0 985.0,118.8 960.0,126.0 900.0,142.0 860.0,153.0 838.0,158.6 558.8,113.2" fill="#c6d857" stroke="#2b2416" stroke-width="0.8" stroke-linejoin="round"/><path d="M563.8 110.6 L563.6 103.3 M562.3 111.2 L559.7 100.3 M561.6 111.4 L558.1 102.5 M565.9 111.2 L568.8 105.0 M564.3 110.6 L564.7 101.8 M561.8 111.3 L558.5 103.2 M583.0 111.9 L584.4 103.8 M583.1 111.9 L584.7 105.6 M580.7 112.0 L578.9 105.8 M582.0 111.5 L582.1 101.0 M582.4 111.7 L583.1 101.9 M581.4 111.7 L580.6 102.0 M614.1 119.2 L611.2 111.8 M616.8 118.8 L618.1 109.1 M615.6 118.6 L615.1 113.0 M614.9 118.9 L613.2 112.2 M614.9 118.9 L613.4 108.6 M614.6 119.0 L612.4 108.2 M660.8 126.2 L663.6 120.2 M658.4 125.7 L657.5 117.5 M656.7 126.4 L653.3 118.0 M661.0 126.2 L663.9 119.8 M659.5 125.7 L660.2 119.8 M659.4 125.6 L659.9 115.1 M704.6 132.0 L702.4 126.5 M704.0 132.2 L701.0 123.3 M703.7 132.4 L700.2 126.0 M706.0 131.5 L706.0 121.0 M705.6 131.6 L705.0 124.1 M706.7 131.7 L707.7 125.9 M719.4 134.6 L720.0 128.5 M719.5 134.7 L720.3 123.8 M716.9 135.3 L713.7 126.2 M719.5 134.7 L720.3 128.6 M717.9 134.9 L716.2 123.5 M721.4 135.4 L725.0 128.8 M754.0 138.9 L755.5 127.8 M751.7 139.0 L749.8 129.8 M750.8 139.3 L747.5 131.3 M753.8 138.8 L755.1 130.0 M754.3 139.0 L756.3 133.0 M752.3 138.8 L751.2 128.3 M776.4 142.7 L777.0 134.8 M775.5 142.7 L774.8 131.6 M776.4 142.6 L776.9 137.4 M777.4 143.0 L779.6 135.5 M775.7 142.6 L775.2 136.2 M775.7 142.6 L775.3 135.6 M794.0 145.2 L791.1 135.7 M794.1 145.2 L791.2 134.8 M793.7 145.4 L790.3 134.8 M797.5 145.1 L799.7 136.5 M797.0 144.9 L798.5 138.0 M797.1 144.9 L798.9 136.9 M822.7 150.0 L820.8 138.7 M823.5 149.7 L822.8 142.3 M825.7 150.1 L828.3 142.3 M824.8 149.8 L826.0 143.5 M825.6 150.1 L828.1 142.9 M821.8 150.3 L818.6 138.6 M883.4 118.6 L881.1 107.3 M887.3 118.9 L890.8 109.4 M882.7 118.9 L879.1 112.6 M883.6 118.5 L881.5 110.7 M885.5 118.2 L886.3 107.2 M884.3 118.3 L883.3 112.2 M892.3 112.1 L892.7 106.2 M890.0 112.7 L887.0 103.7 M892.9 112.4 L894.4 106.6 M891.8 112.1 L891.4 102.8 M893.3 112.5 L895.2 104.7 M893.9 112.7 L896.6 106.0" stroke="#4d5a1c" stroke-width="0.8" fill="none"/><polygon points="541.0,117.5 822.8,161.5 838.0,157.6 558.8,112.2" fill="#cfa96d" stroke="#2b2416" stroke-width="0.9" stroke-linejoin="round"/><use href="#veg"/><path d="M556.0 124.0 L554.0 132.7 L551.8 141.5 L549.0 150.0 L546.6 161.0 L544.0 172.0 M565.0 128.0 L562.4 138.0 L560.0 148.0 M540.0 200.0 L537.3 207.9 L534.8 215.9 L532.8 224.0 L530.7 232.1 L528.0 240.0 L526.6 248.5 L523.8 256.6 L522.0 265.0 L519.7 273.3 L518.1 281.7 L516.0 290.0 L513.9 297.9 L512.7 306.1 L510.2 313.9 L508.5 321.9 L507.0 330.0 L505.3 338.0 L503.4 346.0 L501.4 354.0 L500.2 362.1 L498.0 370.0 M523.0 300.0 L521.2 308.1 L519.4 316.1 L516.8 324.0 L515.5 332.1 L513.0 340.0 L509.5 350.0 L506.0 360.0 M487.0 355.0 L484.3 365.1 L480.5 374.8 L478.0 385.0 L475.8 393.5 L472.4 401.6 L470.0 410.0 M800.0 168.0 L798.0 177.3 L796.1 186.7 L794.0 196.0 L792.4 204.1 L790.0 212.0 M810.0 172.0 L808.3 180.6 L806.9 189.2 L805.1 197.8 L803.9 206.5 L802.0 215.0 L799.8 222.9 L798.0 230.9 L796.4 239.0 L795.2 247.1 L793.0 255.0 M780.0 230.0 L777.8 238.0 L775.4 246.0 L772.8 253.9 L771.0 262.0 L768.7 271.3 L766.3 280.7 L764.0 290.0 M750.0 350.0 L747.0 360.0 L743.8 369.9 L741.0 380.0 M726.0 430.0 L723.9 438.4 L721.1 446.6 L719.0 455.0 M700.0 505.0 L697.5 515.1 L694.0 525.0" fill="none" stroke="#2b2416" stroke-width="1.0" stroke-linecap="round" stroke-linejoin="round"/>
<path d="M470.0 440.0 L474.5 445.7 L478.0 452.0 L485.3 454.3 L492.0 458.0 L500.0 455.0 M487.0 468.0 L493.3 469.2 L499.2 471.4 L505.0 474.0 L512.4 476.4 L520.0 478.0 L531.0 474.0 M534.0 480.0 L541.0 481.8 L548.0 484.0 L556.0 476.0 L562.0 486.0 L572.0 490.0 M580.0 494.0 L585.7 496.8 L592.0 498.0 L598.0 500.0 L604.9 503.1 L612.0 506.0 M606.0 520.0 L612.0 523.6 L618.0 527.0 L624.8 524.8 L632.0 524.0 M643.0 534.0 L648.7 537.9 L655.0 541.0 M668.0 547.0 L671.2 553.4 L674.0 560.0 L679.6 563.7 L686.0 566.0 M427.0 444.0 L433.6 444.4 L440.0 446.0 L445.8 449.1 L452.0 451.0" fill="none" stroke="#b7a37a" stroke-width="2.6" stroke-linecap="round" stroke-linejoin="round"/>
<path d="M389.0 477.0 Q391.4 475.3 398.0 474.0 Q399.8 472.1 403.0 471.5 Q406.0 468.2 408.0 469.0 Q411.8 470.4 414.0 473.0 Q417.4 477.1 418.0 481.0 Q416.6 481.5 411.5 480.5 Q409.1 481.1 405.0 480.0 Q401.6 480.8 399.7 479.0 Q396.1 478.8 394.3 478.0 Q389.6 477.7 389.0 477.0 Z" fill="#f2cb6b" stroke="#8a6a25" stroke-width="0.5"/>
<ellipse cx="492" cy="297" rx="3" ry="2" fill="#b07a3c" stroke="#3c2614" stroke-width="0.5"/><ellipse cx="759" cy="385" rx="3" ry="2.5" fill="#b07a3c" stroke="#3c2614" stroke-width="0.5"/>
<path d="M823.4 161 L819 250 L811 340 L802 420 L794 480" fill="none" stroke="#2b2416" stroke-width="0.8"/></g>
<g id="dashes"><path d="M514.8 413.7 L588.0 125.7 L739.7 150.5 L649.8 475.3 L514.8 413.7" fill="none" stroke="#484848" stroke-width="2.5" stroke-dasharray="14 2.5"/>
<path d="M514.8 413.7 L588.0 125.7 L739.7 150.5 L649.8 475.3 L514.8 413.7" fill="none" stroke="#bcc0c2" stroke-width="1.2" stroke-dasharray="13 3.5" stroke-dashoffset="-0.5"/>
<path d="M573.0 122.5 L491.8 432.0" fill="none" stroke="#484848" stroke-width="2.5" stroke-dasharray="7 2"/>
<path d="M573.0 122.5 L491.8 432.0" fill="none" stroke="#bcc0c2" stroke-width="1.2" stroke-dasharray="6 3" stroke-dashoffset="-0.5"/>
<path d="M765.0 153.0 L663.4 507.5" fill="none" stroke="#484848" stroke-width="2.5" stroke-dasharray="7 2"/>
<path d="M765.0 153.0 L663.4 507.5" fill="none" stroke="#bcc0c2" stroke-width="1.2" stroke-dasharray="6 3" stroke-dashoffset="-0.5"/></g>
<g id="gutter"><polygon points="462.8,413.8 716.5,539.0 713.0,553.5 459.5,428.5" fill="#e7e6cd" stroke="#2b2416" stroke-width="0.9" stroke-linejoin="round"/>
<polygon points="446.6,418.6 450.0,417.8 459.8,424.0 713.0,549.6 712.0,557.8 706.0,558.2 446.0,423.4" fill="#fcfcf5" stroke="#2b2416" stroke-width="0.9" stroke-linejoin="round"/></g>
</defs>
<g transform="translate(0 0)">
<use href="#shadow"/>
<use href="#rawblock"/>
</g>

<g transform="translate(0 652.8)">
<use href="#rawblock"/>
<use href="#dashes"/>
</g>

<g transform="translate(0 1309.7)">
<use href="#shadow"/>
<use href="#cleanblock"/>
<use href="#gutter"/>
<use href="#dashes"/>
</g>

<g transform="translate(1 1968)">
<use href="#cleanblock"/>
<use href="#gutter"/>
<path d="M572.0 123.5 L766.0 154.0 L723.5 297.8 C721.6 298.5 720.0 294.5 717.0 300.0 C714.0 305.5 715.6 310.0 713.5 316.0 C711.4 322.0 711.8 324.8 710.0 320.0 C708.2 315.2 710.2 309.3 707.5 300.0 C704.8 290.7 704.0 286.6 701.0 289.0 C698.0 291.4 699.6 299.9 697.5 308.0 C695.4 316.1 696.0 319.6 694.0 316.0 C692.0 312.4 694.0 306.2 691.0 296.0 C688.0 285.8 687.3 280.8 684.0 282.0 C680.7 283.2 681.8 287.1 680.0 300.0 C678.2 312.9 679.6 316.6 678.0 325.0 C676.4 333.4 676.3 335.5 674.5 328.0 C672.7 320.5 674.0 313.2 672.0 300.0 C670.0 286.8 670.9 285.2 668.0 284.0 C665.1 282.8 665.2 286.4 662.5 296.0 C659.8 305.6 661.1 308.8 659.0 316.0 C656.9 323.2 657.5 325.4 655.5 320.0 C653.5 314.6 654.6 310.0 652.5 298.0 C650.4 286.0 649.7 276.4 648.5 280.0 C647.3 283.6 648.4 292.6 648.5 310.0 C648.6 327.4 649.9 328.7 649.0 338.0 C648.1 347.3 647.5 348.8 645.5 341.0 C643.5 333.2 644.1 331.2 642.5 312.0 C640.9 292.8 642.5 287.8 640.0 277.0 C637.5 266.2 636.5 269.1 634.0 276.0 C631.5 282.9 632.5 285.0 631.5 300.0 C630.5 315.0 631.9 317.6 630.5 326.0 C629.1 334.4 628.6 335.8 627.0 328.0 C625.4 320.2 627.1 314.7 625.0 300.0 C622.9 285.3 623.3 285.6 620.0 279.0 C616.7 272.4 616.9 274.1 614.0 278.0 C611.1 281.9 612.8 288.4 610.5 292.0 C608.2 295.6 608.6 284.6 606.5 290.0 C604.4 295.4 604.9 297.4 603.5 310.0 C602.1 322.6 603.5 324.5 602.0 332.0 C600.5 339.5 600.3 341.6 598.5 335.0 C596.7 328.4 598.0 329.2 596.0 310.0 C594.0 290.8 594.4 284.2 592.0 271.0 C589.6 257.8 590.2 260.3 588.0 266.0 C585.8 271.7 586.6 279.8 584.5 290.0 C582.4 300.2 582.4 289.8 581.0 300.0 C579.6 310.2 581.4 315.9 580.0 324.0 C578.6 332.1 578.3 334.2 576.5 327.0 C574.7 319.8 575.6 314.4 574.0 300.0 C572.4 285.6 573.4 282.0 571.0 279.0 C568.6 276.0 568.7 287.9 566.0 290.0 C563.3 292.1 564.2 284.2 562.0 286.0 C559.8 287.8 560.6 291.8 558.5 296.0 C556.4 300.2 556.4 292.2 555.0 300.0 C553.6 307.8 555.4 314.5 554.0 322.0 C552.6 329.5 552.1 331.6 550.5 325.0 C548.9 318.4 549.0 318.3 548.5 300.0 C548.0 281.7 550.0 275.4 549.0 264.0 C548.0 252.6 547.4 257.2 545.0 262.0 C542.6 266.8 543.0 269.2 541.0 280.0 C539.0 290.8 540.3 291.4 538.5 298.0 C536.7 304.6 538.3 302.7 535.0 302.0 C531.7 301.3 529.8 297.5 527.6 295.6 Z" fill="rgb(172,157,120)" fill-opacity="0.68" stroke="#4a402c" stroke-width="0.9" stroke-linejoin="round"/>
<use href="#dashes"/>
<path d="M599 137.5 L700 155.3 Q722 158 722.5 176 Q722 203 698.6 204.7 L597 187.3 Q576 185 575.2 204.7 Q575.5 228 594 232.3 L681 252.3 Q697 256 695.8 270 Q693 296 672 294.5 L590 272.5" fill="none" stroke="#0c0c0c" stroke-width="4" stroke-dasharray="9.5 5.5" stroke-linejoin="round"/><polygon points="577.0,269.3 593.8,262.8 591.2,278.6" fill="#0c0c0c"/>
<polygon points="568.7,114.7 596.8,138.6 569.7,168.9 541.6,141.8" fill="#fbfbe6" stroke="#2b2416" stroke-width="1" stroke-linejoin="round"/><path d="M570 116 L598 139.5" stroke="#fff" stroke-width="2.2" fill="none"/><path d="M568.7 114.7 L596.8 138.6" stroke="#2b2416" stroke-width="0.8" fill="none"/><path d="M582 136 Q590 118 597 107 M586 133 Q594 120 600 108" fill="none" stroke="#888" stroke-width="1.1"/>
</g>
<svg x="101.1" y="2246.7" width="283.4" height="265.2" viewBox="0 0 100 100" preserveAspectRatio="none" overflow="hidden"><rect width="100" height="100" fill="#8f7a55"/><g filter="url(#pb)"><rect x="-5" y="-5" width="110" height="42" fill="#6b5c42"/><rect x="-5" y="36" width="110" height="16" fill="#857253"/><rect x="-5" y="52" width="110" height="22" fill="#a08c65"/><rect x="-5" y="72" width="110" height="35" fill="#b2a27c"/><polygon points="-5.0,-5.0 8.0,-5.0 6.0,50.0 8.0,105.0 -5.0,105.0" fill="#66553a" /><polygon points="66.0,26.0 105.0,30.0 105.0,56.0 70.0,52.0" fill="#78654a" /><polygon points="36.0,-2.0 68.0,-2.0 70.0,10.0 60.0,13.0 45.0,7.0" fill="#6e8a3c" /><polygon points="84.0,18.0 105.0,14.0 105.0,36.0 92.0,34.0 86.0,28.0" fill="#73903c" /><polygon points="66.0,-2.0 105.0,-2.0 105.0,10.0 86.0,12.0 72.0,12.0" fill="#1f2838" /><polygon points="80.0,8.0 105.0,6.0 105.0,20.0 90.0,22.0 82.0,18.0" fill="#3c4862" /><polygon points="72.0,10.0 84.0,12.0 86.0,22.0 74.0,18.0" fill="#8e8a62" /></g><path d="M8.8 55.7 Q50 57.4 96.0 56.6 M5.1 58.3 Q50 61.0 92.6 58.0 M8.3 62.2 Q50 64.9 94.8 63.1 M9.4 64.0 Q50 66.7 95.2 65.2 M5.4 67.4 Q50 69.9 95.9 67.3 M11.1 69.4 Q50 71.4 97.2 71.1 M11.4 73.1 Q50 74.8 98.0 73.4 M11.2 76.1 Q50 77.3 91.4 75.8 M8.1 79.0 Q50 81.2 93.0 79.5 M7.5 81.1 Q50 83.2 95.8 82.8 M11.5 84.2 Q50 86.9 99.9 85.2 M11.0 86.4 Q50 89.3 99.0 87.1 M6.5 89.9 Q50 92.5 95.7 89.7 M11.0 91.9 Q50 94.9 90.9 93.3 M6.1 95.1 Q50 96.7 97.7 96.7 M9.3 97.5 Q50 98.5 97.2 97.4" stroke="#8f7d5c" stroke-width="0.35" fill="none" opacity="0.7"/><g filter="url(#pb1)"><polygon points="17.0,7.0 40.0,9.5 66.0,13.0 66.5,40.0 65.5,60.0 64.5,80.0 64.0,97.0 62.7,97.0 62.0,75.0 60.5,62.0 60.0,77.0 59.0,77.0 58.0,62.0 55.0,60.0 53.0,58.0 52.5,70.0 51.7,70.0 51.0,58.0 48.0,57.0 46.0,58.0 45.2,89.0 44.3,89.0 43.5,62.0 42.0,57.0 40.8,80.0 39.8,80.0 39.0,60.0 37.5,57.0 36.8,76.0 36.0,76.0 35.0,58.0 32.0,57.0 29.0,58.0 27.5,75.0 26.4,97.0 25.3,97.0 24.5,75.0 23.0,60.0 22.3,84.0 21.3,84.0 20.0,62.0 18.5,50.0 18.0,30.0" fill="#4c586a" /></g><path d="M18.2 13.3a0.4 0.3 0 1 0 0.9 0a0.4 0.3 0 1 0 -0.9 0M50.5 14.5a0.3 0.2 0 1 0 0.6 0a0.3 0.2 0 1 0 -0.6 0M28.8 43.6a0.3 0.3 0 1 0 0.6 0a0.3 0.3 0 1 0 -0.6 0M53.2 39.1a0.3 0.2 0 1 0 0.6 0a0.3 0.2 0 1 0 -0.6 0M43.3 29.0a0.4 0.3 0 1 0 0.9 0a0.4 0.3 0 1 0 -0.9 0M18.5 52.2a0.4 0.3 0 1 0 0.9 0a0.4 0.3 0 1 0 -0.9 0M27.1 23.5a0.4 0.3 0 1 0 0.8 0a0.4 0.3 0 1 0 -0.8 0M63.5 17.9a0.3 0.3 0 1 0 0.7 0a0.3 0.3 0 1 0 -0.7 0M45.4 33.7a0.7 0.5 0 1 0 1.4 0a0.7 0.5 0 1 0 -1.4 0M57.9 24.7a0.3 0.3 0 1 0 0.7 0a0.3 0.3 0 1 0 -0.7 0M57.9 54.5a0.3 0.2 0 1 0 0.5 0a0.3 0.2 0 1 0 -0.5 0M52.7 48.8a0.5 0.4 0 1 0 1.1 0a0.5 0.4 0 1 0 -1.1 0M27.9 45.4a0.6 0.5 0 1 0 1.2 0a0.6 0.5 0 1 0 -1.2 0M27.0 38.1a0.3 0.3 0 1 0 0.7 0a0.3 0.3 0 1 0 -0.7 0M19.6 23.8a0.4 0.3 0 1 0 0.8 0a0.4 0.3 0 1 0 -0.8 0M36.4 38.4a0.6 0.5 0 1 0 1.3 0a0.6 0.5 0 1 0 -1.3 0M63.4 53.9a0.7 0.6 0 1 0 1.4 0a0.7 0.6 0 1 0 -1.4 0M55.6 22.4a0.3 0.3 0 1 0 0.7 0a0.3 0.3 0 1 0 -0.7 0M47.4 33.7a0.6 0.4 0 1 0 1.1 0a0.6 0.4 0 1 0 -1.1 0M21.8 17.1a0.7 0.5 0 1 0 1.3 0a0.7 0.5 0 1 0 -1.3 0M46.6 40.7a0.3 0.2 0 1 0 0.6 0a0.3 0.2 0 1 0 -0.6 0M36.6 50.8a0.5 0.4 0 1 0 1.1 0a0.5 0.4 0 1 0 -1.1 0M65.1 17.3a0.5 0.4 0 1 0 0.9 0a0.5 0.4 0 1 0 -0.9 0M55.8 28.9a0.6 0.5 0 1 0 1.2 0a0.6 0.5 0 1 0 -1.2 0M44.7 13.5a0.3 0.2 0 1 0 0.6 0a0.3 0.2 0 1 0 -0.6 0M64.8 13.6a0.3 0.3 0 1 0 0.7 0a0.3 0.3 0 1 0 -0.7 0M33.5 41.5a0.6 0.5 0 1 0 1.3 0a0.6 0.5 0 1 0 -1.3 0M40.2 31.4a0.6 0.5 0 1 0 1.2 0a0.6 0.5 0 1 0 -1.2 0M30.8 25.5a0.5 0.4 0 1 0 1.1 0a0.5 0.4 0 1 0 -1.1 0M22.8 14.5a0.6 0.5 0 1 0 1.2 0a0.6 0.5 0 1 0 -1.2 0M50.7 53.7a0.6 0.5 0 1 0 1.2 0a0.6 0.5 0 1 0 -1.2 0M29.5 44.0a0.7 0.6 0 1 0 1.4 0a0.7 0.6 0 1 0 -1.4 0M35.7 21.3a0.3 0.3 0 1 0 0.7 0a0.3 0.3 0 1 0 -0.7 0M19.5 13.9a0.6 0.5 0 1 0 1.3 0a0.6 0.5 0 1 0 -1.3 0M20.1 36.9a0.3 0.3 0 1 0 0.7 0a0.3 0.3 0 1 0 -0.7 0M26.9 46.6a0.4 0.3 0 1 0 0.8 0a0.4 0.3 0 1 0 -0.8 0M26.3 29.4a0.6 0.5 0 1 0 1.1 0a0.6 0.5 0 1 0 -1.1 0M42.7 48.4a0.4 0.3 0 1 0 0.9 0a0.4 0.3 0 1 0 -0.9 0M42.7 41.7a0.5 0.4 0 1 0 0.9 0a0.5 0.4 0 1 0 -0.9 0M52.1 29.9a0.3 0.2 0 1 0 0.6 0a0.3 0.2 0 1 0 -0.6 0M23.3 44.8a0.6 0.5 0 1 0 1.2 0a0.6 0.5 0 1 0 -1.2 0M62.7 40.4a0.5 0.4 0 1 0 1.0 0a0.5 0.4 0 1 0 -1.0 0M25.7 48.1a0.3 0.2 0 1 0 0.6 0a0.3 0.2 0 1 0 -0.6 0M38.0 14.6a0.4 0.3 0 1 0 0.8 0a0.4 0.3 0 1 0 -0.8 0M32.2 28.0a0.6 0.5 0 1 0 1.1 0a0.6 0.5 0 1 0 -1.1 0M43.4 19.4a0.6 0.5 0 1 0 1.2 0a0.6 0.5 0 1 0 -1.2 0M53.0 46.9a0.3 0.2 0 1 0 0.5 0a0.3 0.2 0 1 0 -0.5 0M47.1 50.1a0.4 0.3 0 1 0 0.7 0a0.4 0.3 0 1 0 -0.7 0M27.3 46.3a0.4 0.3 0 1 0 0.8 0a0.4 0.3 0 1 0 -0.8 0M36.8 46.4a0.4 0.3 0 1 0 0.8 0a0.4 0.3 0 1 0 -0.8 0M27.1 18.1a0.4 0.3 0 1 0 0.8 0a0.4 0.3 0 1 0 -0.8 0M50.9 25.3a0.6 0.5 0 1 0 1.2 0a0.6 0.5 0 1 0 -1.2 0M20.6 19.7a0.5 0.4 0 1 0 1.1 0a0.5 0.4 0 1 0 -1.1 0M40.3 31.5a0.7 0.5 0 1 0 1.3 0a0.7 0.5 0 1 0 -1.3 0M31.0 16.5a0.3 0.2 0 1 0 0.5 0a0.3 0.2 0 1 0 -0.5 0M40.7 22.0a0.5 0.4 0 1 0 0.9 0a0.5 0.4 0 1 0 -0.9 0M35.8 43.6a0.4 0.3 0 1 0 0.8 0a0.4 0.3 0 1 0 -0.8 0M61.4 35.2a0.4 0.3 0 1 0 0.9 0a0.4 0.3 0 1 0 -0.9 0M54.8 19.0a0.5 0.4 0 1 0 1.0 0a0.5 0.4 0 1 0 -1.0 0M58.2 33.4a0.4 0.3 0 1 0 0.8 0a0.4 0.3 0 1 0 -0.8 0M22.3 35.0a0.3 0.3 0 1 0 0.7 0a0.3 0.3 0 1 0 -0.7 0M35.2 33.5a0.7 0.5 0 1 0 1.3 0a0.7 0.5 0 1 0 -1.3 0M49.7 32.4a0.6 0.5 0 1 0 1.3 0a0.6 0.5 0 1 0 -1.3 0M32.3 26.2a0.6 0.4 0 1 0 1.1 0a0.6 0.4 0 1 0 -1.1 0M44.2 18.4a0.4 0.3 0 1 0 0.9 0a0.4 0.3 0 1 0 -0.9 0M57.0 19.4a0.6 0.5 0 1 0 1.1 0a0.6 0.5 0 1 0 -1.1 0M19.8 52.9a0.6 0.4 0 1 0 1.1 0a0.6 0.4 0 1 0 -1.1 0M32.9 54.2a0.6 0.5 0 1 0 1.2 0a0.6 0.5 0 1 0 -1.2 0M20.5 19.7a0.5 0.4 0 1 0 0.9 0a0.5 0.4 0 1 0 -0.9 0M65.6 14.6a0.3 0.2 0 1 0 0.5 0a0.3 0.2 0 1 0 -0.5 0M32.6 10.1a0.4 0.3 0 1 0 0.9 0a0.4 0.3 0 1 0 -0.9 0M43.5 28.7a0.3 0.3 0 1 0 0.6 0a0.3 0.3 0 1 0 -0.6 0M18.7 45.7a0.4 0.4 0 1 0 0.9 0a0.4 0.4 0 1 0 -0.9 0M40.5 30.5a0.6 0.4 0 1 0 1.1 0a0.6 0.4 0 1 0 -1.1 0M60.7 46.9a0.6 0.5 0 1 0 1.2 0a0.6 0.5 0 1 0 -1.2 0M34.0 15.9a0.3 0.2 0 1 0 0.6 0a0.3 0.2 0 1 0 -0.6 0M44.9 50.8a0.4 0.3 0 1 0 0.8 0a0.4 0.3 0 1 0 -0.8 0M36.0 27.6a0.7 0.5 0 1 0 1.4 0a0.7 0.5 0 1 0 -1.4 0M50.6 47.4a0.3 0.2 0 1 0 0.5 0a0.3 0.2 0 1 0 -0.5 0M52.6 29.2a0.4 0.3 0 1 0 0.9 0a0.4 0.3 0 1 0 -0.9 0M56.5 42.6a0.7 0.5 0 1 0 1.3 0a0.7 0.5 0 1 0 -1.3 0M53.0 50.8a0.4 0.4 0 1 0 0.9 0a0.4 0.4 0 1 0 -0.9 0M44.2 44.9a0.5 0.4 0 1 0 0.9 0a0.5 0.4 0 1 0 -0.9 0M23.9 35.5a0.6 0.5 0 1 0 1.3 0a0.6 0.5 0 1 0 -1.3 0M59.4 13.9a0.4 0.3 0 1 0 0.8 0a0.4 0.3 0 1 0 -0.8 0M28.3 24.0a0.7 0.5 0 1 0 1.4 0a0.7 0.5 0 1 0 -1.4 0M37.8 22.7a0.4 0.3 0 1 0 0.7 0a0.4 0.3 0 1 0 -0.7 0M38.7 39.5a0.4 0.3 0 1 0 0.8 0a0.4 0.3 0 1 0 -0.8 0M26.6 18.6a0.4 0.3 0 1 0 0.7 0a0.4 0.3 0 1 0 -0.7 0M60.9 16.0a0.6 0.5 0 1 0 1.2 0a0.6 0.5 0 1 0 -1.2 0M22.8 44.9a0.4 0.3 0 1 0 0.7 0a0.4 0.3 0 1 0 -0.7 0M55.1 28.3a0.3 0.2 0 1 0 0.6 0a0.3 0.2 0 1 0 -0.6 0M22.0 45.6a0.5 0.4 0 1 0 1.0 0a0.5 0.4 0 1 0 -1.0 0M40.8 24.6a0.6 0.4 0 1 0 1.1 0a0.6 0.4 0 1 0 -1.1 0M40.6 10.9a0.5 0.4 0 1 0 1.0 0a0.5 0.4 0 1 0 -1.0 0M32.6 47.8a0.5 0.4 0 1 0 1.0 0a0.5 0.4 0 1 0 -1.0 0M54.6 13.6a0.6 0.5 0 1 0 1.1 0a0.6 0.5 0 1 0 -1.1 0M46.7 48.0a0.6 0.5 0 1 0 1.3 0a0.6 0.5 0 1 0 -1.3 0M43.9 35.8a0.6 0.5 0 1 0 1.2 0a0.6 0.5 0 1 0 -1.2 0M30.1 33.6a0.6 0.5 0 1 0 1.2 0a0.6 0.5 0 1 0 -1.2 0M45.9 33.5a0.6 0.5 0 1 0 1.3 0a0.6 0.5 0 1 0 -1.3 0M64.5 20.2a0.3 0.2 0 1 0 0.6 0a0.3 0.2 0 1 0 -0.6 0M46.8 15.0a0.7 0.5 0 1 0 1.4 0a0.7 0.5 0 1 0 -1.4 0M40.2 33.1a0.6 0.5 0 1 0 1.2 0a0.6 0.5 0 1 0 -1.2 0M59.3 14.7a0.5 0.4 0 1 0 0.9 0a0.5 0.4 0 1 0 -0.9 0M26.4 29.6a0.3 0.2 0 1 0 0.6 0a0.3 0.2 0 1 0 -0.6 0M59.7 24.7a0.4 0.3 0 1 0 0.9 0a0.4 0.3 0 1 0 -0.9 0M60.7 46.7a0.4 0.3 0 1 0 0.8 0a0.4 0.3 0 1 0 -0.8 0M41.7 39.2a0.3 0.3 0 1 0 0.7 0a0.3 0.3 0 1 0 -0.7 0M24.2 48.3a0.3 0.3 0 1 0 0.6 0a0.3 0.3 0 1 0 -0.6 0M51.5 42.7a0.5 0.4 0 1 0 1.0 0a0.5 0.4 0 1 0 -1.0 0M34.0 48.3a0.6 0.5 0 1 0 1.2 0a0.6 0.5 0 1 0 -1.2 0M20.9 50.2a0.5 0.4 0 1 0 1.1 0a0.5 0.4 0 1 0 -1.1 0M31.6 15.9a0.3 0.2 0 1 0 0.6 0a0.3 0.2 0 1 0 -0.6 0M56.5 47.9a0.4 0.3 0 1 0 0.8 0a0.4 0.3 0 1 0 -0.8 0M26.2 11.4a0.4 0.3 0 1 0 0.9 0a0.4 0.3 0 1 0 -0.9 0M31.9 10.4a0.4 0.3 0 1 0 0.8 0a0.4 0.3 0 1 0 -0.8 0M37.1 32.2a0.3 0.3 0 1 0 0.6 0a0.3 0.3 0 1 0 -0.6 0M19.4 11.5a0.3 0.3 0 1 0 0.6 0a0.3 0.3 0 1 0 -0.6 0M64.2 48.5a0.6 0.5 0 1 0 1.1 0a0.6 0.5 0 1 0 -1.1 0M60.8 23.3a0.4 0.3 0 1 0 0.7 0a0.4 0.3 0 1 0 -0.7 0M59.1 36.5a0.7 0.5 0 1 0 1.3 0a0.7 0.5 0 1 0 -1.3 0M34.7 27.4a0.6 0.5 0 1 0 1.1 0a0.6 0.5 0 1 0 -1.1 0M60.0 15.8a0.4 0.3 0 1 0 0.7 0a0.4 0.3 0 1 0 -0.7 0M18.0 34.3a0.7 0.5 0 1 0 1.3 0a0.7 0.5 0 1 0 -1.3 0M44.7 15.0a0.6 0.4 0 1 0 1.1 0a0.6 0.4 0 1 0 -1.1 0M48.5 12.9a0.7 0.5 0 1 0 1.3 0a0.7 0.5 0 1 0 -1.3 0M49.3 31.1a0.4 0.3 0 1 0 0.8 0a0.4 0.3 0 1 0 -0.8 0M25.3 30.0a0.4 0.3 0 1 0 0.8 0a0.4 0.3 0 1 0 -0.8 0M28.6 38.4a0.5 0.4 0 1 0 1.1 0a0.5 0.4 0 1 0 -1.1 0M63.3 53.5a0.5 0.4 0 1 0 0.9 0a0.5 0.4 0 1 0 -0.9 0M51.9 25.6a0.4 0.4 0 1 0 0.9 0a0.4 0.4 0 1 0 -0.9 0M44.9 54.1a0.3 0.2 0 1 0 0.5 0a0.3 0.2 0 1 0 -0.5 0M39.6 23.8a0.6 0.5 0 1 0 1.2 0a0.6 0.5 0 1 0 -1.2 0M63.3 30.2a0.3 0.2 0 1 0 0.6 0a0.3 0.2 0 1 0 -0.6 0M46.0 35.6a0.6 0.4 0 1 0 1.1 0a0.6 0.4 0 1 0 -1.1 0M54.8 29.8a0.5 0.4 0 1 0 1.0 0a0.5 0.4 0 1 0 -1.0 0M28.8 40.3a0.7 0.6 0 1 0 1.4 0a0.7 0.6 0 1 0 -1.4 0M62.6 21.2a0.7 0.5 0 1 0 1.4 0a0.7 0.5 0 1 0 -1.4 0M31.1 29.3a0.3 0.3 0 1 0 0.6 0a0.3 0.3 0 1 0 -0.6 0M46.4 26.4a0.6 0.4 0 1 0 1.1 0a0.6 0.4 0 1 0 -1.1 0M63.4 14.0a0.5 0.4 0 1 0 1.1 0a0.5 0.4 0 1 0 -1.1 0M46.6 20.9a0.3 0.2 0 1 0 0.5 0a0.3 0.2 0 1 0 -0.5 0M62.5 40.7a0.5 0.4 0 1 0 1.1 0a0.5 0.4 0 1 0 -1.1 0M22.5 50.3a0.4 0.3 0 1 0 0.9 0a0.4 0.3 0 1 0 -0.9 0M39.9 34.1a0.5 0.4 0 1 0 0.9 0a0.5 0.4 0 1 0 -0.9 0M63.2 30.0a0.6 0.4 0 1 0 1.1 0a0.6 0.4 0 1 0 -1.1 0M54.8 51.8a0.3 0.3 0 1 0 0.7 0a0.3 0.3 0 1 0 -0.7 0M33.8 52.6a0.5 0.4 0 1 0 1.0 0a0.5 0.4 0 1 0 -1.0 0M35.6 49.4a0.3 0.2 0 1 0 0.6 0a0.3 0.2 0 1 0 -0.6 0M29.6 11.2a0.6 0.4 0 1 0 1.1 0a0.6 0.4 0 1 0 -1.1 0M40.9 22.3a0.4 0.4 0 1 0 0.9 0a0.4 0.4 0 1 0 -0.9 0M29.6 41.3a0.6 0.5 0 1 0 1.2 0a0.6 0.5 0 1 0 -1.2 0M36.0 48.8a0.3 0.2 0 1 0 0.5 0a0.3 0.2 0 1 0 -0.5 0M44.8 15.2a0.3 0.2 0 1 0 0.6 0a0.3 0.2 0 1 0 -0.6 0M44.5 12.1a0.3 0.2 0 1 0 0.6 0a0.3 0.2 0 1 0 -0.6 0M23.8 25.7a0.6 0.5 0 1 0 1.2 0a0.6 0.5 0 1 0 -1.2 0M31.3 13.7a0.6 0.5 0 1 0 1.2 0a0.6 0.5 0 1 0 -1.2 0M57.0 54.8a0.3 0.2 0 1 0 0.5 0a0.3 0.2 0 1 0 -0.5 0M25.2 28.4a0.7 0.6 0 1 0 1.4 0a0.7 0.6 0 1 0 -1.4 0" fill="#6f7b8b"/><path d="M21.3 18.0a0.4 0.3 0 1 0 0.8 0a0.4 0.3 0 1 0 -0.8 0M60.6 31.3a0.6 0.5 0 1 0 1.3 0a0.6 0.5 0 1 0 -1.3 0M22.1 31.9a0.7 0.6 0 1 0 1.4 0a0.7 0.6 0 1 0 -1.4 0M42.4 52.4a0.7 0.6 0 1 0 1.5 0a0.7 0.6 0 1 0 -1.5 0M54.0 13.9a0.3 0.2 0 1 0 0.5 0a0.3 0.2 0 1 0 -0.5 0M52.4 47.6a0.7 0.6 0 1 0 1.4 0a0.7 0.6 0 1 0 -1.4 0M63.5 17.5a0.3 0.2 0 1 0 0.6 0a0.3 0.2 0 1 0 -0.6 0M23.5 54.0a0.3 0.2 0 1 0 0.6 0a0.3 0.2 0 1 0 -0.6 0M25.4 8.9a0.3 0.2 0 1 0 0.6 0a0.3 0.2 0 1 0 -0.6 0M19.5 24.6a0.3 0.3 0 1 0 0.7 0a0.3 0.3 0 1 0 -0.7 0M32.5 51.7a0.3 0.3 0 1 0 0.7 0a0.3 0.3 0 1 0 -0.7 0M56.5 42.7a0.6 0.5 0 1 0 1.1 0a0.6 0.5 0 1 0 -1.1 0M45.1 44.2a0.6 0.5 0 1 0 1.1 0a0.6 0.5 0 1 0 -1.1 0M28.6 23.5a0.4 0.3 0 1 0 0.8 0a0.4 0.3 0 1 0 -0.8 0M36.7 54.4a0.5 0.4 0 1 0 1.0 0a0.5 0.4 0 1 0 -1.0 0M20.6 30.4a0.7 0.6 0 1 0 1.4 0a0.7 0.6 0 1 0 -1.4 0M39.1 41.0a0.3 0.2 0 1 0 0.6 0a0.3 0.2 0 1 0 -0.6 0M20.7 39.1a0.3 0.2 0 1 0 0.6 0a0.3 0.2 0 1 0 -0.6 0M32.1 26.1a0.4 0.3 0 1 0 0.7 0a0.4 0.3 0 1 0 -0.7 0M19.0 8.3a0.8 0.6 0 1 0 1.5 0a0.8 0.6 0 1 0 -1.5 0M50.5 52.7a0.5 0.4 0 1 0 1.0 0a0.5 0.4 0 1 0 -1.0 0M63.2 48.5a0.6 0.5 0 1 0 1.2 0a0.6 0.5 0 1 0 -1.2 0M42.8 31.9a0.4 0.3 0 1 0 0.7 0a0.4 0.3 0 1 0 -0.7 0M35.7 42.0a0.4 0.3 0 1 0 0.7 0a0.4 0.3 0 1 0 -0.7 0M58.2 32.0a0.6 0.5 0 1 0 1.2 0a0.6 0.5 0 1 0 -1.2 0M57.1 38.4a0.3 0.3 0 1 0 0.7 0a0.3 0.3 0 1 0 -0.7 0M18.7 52.7a0.6 0.5 0 1 0 1.2 0a0.6 0.5 0 1 0 -1.2 0M64.1 44.7a0.4 0.3 0 1 0 0.8 0a0.4 0.3 0 1 0 -0.8 0M63.9 51.4a0.5 0.4 0 1 0 1.0 0a0.5 0.4 0 1 0 -1.0 0M21.7 23.0a0.3 0.3 0 1 0 0.7 0a0.3 0.3 0 1 0 -0.7 0M34.9 11.9a0.6 0.5 0 1 0 1.3 0a0.6 0.5 0 1 0 -1.3 0M64.3 17.9a0.7 0.5 0 1 0 1.4 0a0.7 0.5 0 1 0 -1.4 0M45.3 30.7a0.7 0.6 0 1 0 1.5 0a0.7 0.6 0 1 0 -1.5 0M35.8 46.6a0.3 0.2 0 1 0 0.5 0a0.3 0.2 0 1 0 -0.5 0M64.1 16.6a0.3 0.2 0 1 0 0.5 0a0.3 0.2 0 1 0 -0.5 0M59.7 41.9a0.6 0.5 0 1 0 1.2 0a0.6 0.5 0 1 0 -1.2 0M54.5 25.7a0.3 0.3 0 1 0 0.6 0a0.3 0.3 0 1 0 -0.6 0M32.5 52.8a0.8 0.6 0 1 0 1.6 0a0.8 0.6 0 1 0 -1.6 0M28.5 28.8a0.5 0.4 0 1 0 1.0 0a0.5 0.4 0 1 0 -1.0 0M57.3 19.9a0.6 0.4 0 1 0 1.1 0a0.6 0.4 0 1 0 -1.1 0M23.5 12.0a0.7 0.6 0 1 0 1.5 0a0.7 0.6 0 1 0 -1.5 0M41.4 53.7a0.7 0.6 0 1 0 1.5 0a0.7 0.6 0 1 0 -1.5 0M45.8 54.6a0.5 0.4 0 1 0 1.1 0a0.5 0.4 0 1 0 -1.1 0M20.4 16.7a0.8 0.6 0 1 0 1.6 0a0.8 0.6 0 1 0 -1.6 0M64.5 19.6a0.4 0.3 0 1 0 0.9 0a0.4 0.3 0 1 0 -0.9 0M52.0 31.9a0.4 0.3 0 1 0 0.7 0a0.4 0.3 0 1 0 -0.7 0M64.8 37.2a0.5 0.4 0 1 0 0.9 0a0.5 0.4 0 1 0 -0.9 0M18.4 32.0a0.7 0.5 0 1 0 1.3 0a0.7 0.5 0 1 0 -1.3 0M25.9 12.1a0.6 0.5 0 1 0 1.3 0a0.6 0.5 0 1 0 -1.3 0M61.7 25.7a0.5 0.4 0 1 0 1.0 0a0.5 0.4 0 1 0 -1.0 0M48.2 32.4a0.3 0.3 0 1 0 0.6 0a0.3 0.3 0 1 0 -0.6 0M30.8 17.7a0.4 0.3 0 1 0 0.7 0a0.4 0.3 0 1 0 -0.7 0M21.9 26.4a0.4 0.3 0 1 0 0.7 0a0.4 0.3 0 1 0 -0.7 0M57.9 23.1a0.8 0.6 0 1 0 1.6 0a0.8 0.6 0 1 0 -1.6 0M56.6 20.7a0.3 0.3 0 1 0 0.7 0a0.3 0.3 0 1 0 -0.7 0M44.9 30.3a0.5 0.4 0 1 0 1.1 0a0.5 0.4 0 1 0 -1.1 0M23.2 33.0a0.7 0.5 0 1 0 1.3 0a0.7 0.5 0 1 0 -1.3 0M38.6 20.0a0.8 0.6 0 1 0 1.5 0a0.8 0.6 0 1 0 -1.5 0M31.6 54.8a0.6 0.5 0 1 0 1.3 0a0.6 0.5 0 1 0 -1.3 0M24.7 45.0a0.5 0.4 0 1 0 1.0 0a0.5 0.4 0 1 0 -1.0 0M21.4 52.7a0.7 0.6 0 1 0 1.4 0a0.7 0.6 0 1 0 -1.4 0M46.9 34.7a0.3 0.2 0 1 0 0.6 0a0.3 0.2 0 1 0 -0.6 0M64.6 22.2a0.5 0.4 0 1 0 1.1 0a0.5 0.4 0 1 0 -1.1 0M41.3 30.2a0.3 0.2 0 1 0 0.5 0a0.3 0.2 0 1 0 -0.5 0M60.4 31.1a0.5 0.4 0 1 0 0.9 0a0.5 0.4 0 1 0 -0.9 0M58.7 48.4a0.6 0.5 0 1 0 1.3 0a0.6 0.5 0 1 0 -1.3 0M61.3 24.4a0.3 0.2 0 1 0 0.6 0a0.3 0.2 0 1 0 -0.6 0M34.0 36.3a0.7 0.5 0 1 0 1.4 0a0.7 0.5 0 1 0 -1.4 0M52.7 37.6a0.6 0.5 0 1 0 1.2 0a0.6 0.5 0 1 0 -1.2 0M49.7 35.0a0.3 0.2 0 1 0 0.5 0a0.3 0.2 0 1 0 -0.5 0M43.9 20.9a0.3 0.2 0 1 0 0.6 0a0.3 0.2 0 1 0 -0.6 0M47.0 47.5a0.4 0.3 0 1 0 0.8 0a0.4 0.3 0 1 0 -0.8 0M49.5 37.4a0.6 0.5 0 1 0 1.2 0a0.6 0.5 0 1 0 -1.2 0M59.6 40.7a0.3 0.2 0 1 0 0.6 0a0.3 0.2 0 1 0 -0.6 0M47.1 24.4a0.5 0.4 0 1 0 1.0 0a0.5 0.4 0 1 0 -1.0 0M49.8 16.2a0.6 0.5 0 1 0 1.2 0a0.6 0.5 0 1 0 -1.2 0M58.4 41.3a0.5 0.4 0 1 0 0.9 0a0.5 0.4 0 1 0 -0.9 0M25.1 54.9a0.6 0.5 0 1 0 1.2 0a0.6 0.5 0 1 0 -1.2 0M25.5 14.1a0.5 0.4 0 1 0 1.0 0a0.5 0.4 0 1 0 -1.0 0M43.9 54.5a0.4 0.3 0 1 0 0.7 0a0.4 0.3 0 1 0 -0.7 0M48.0 28.7a0.6 0.4 0 1 0 1.1 0a0.6 0.4 0 1 0 -1.1 0M62.5 13.6a0.7 0.6 0 1 0 1.4 0a0.7 0.6 0 1 0 -1.4 0M52.8 20.6a0.3 0.3 0 1 0 0.6 0a0.3 0.3 0 1 0 -0.6 0M53.4 48.1a0.4 0.4 0 1 0 0.9 0a0.4 0.4 0 1 0 -0.9 0M24.0 34.1a0.6 0.5 0 1 0 1.2 0a0.6 0.5 0 1 0 -1.2 0M34.9 27.3a0.3 0.2 0 1 0 0.6 0a0.3 0.2 0 1 0 -0.6 0M24.1 18.5a0.7 0.5 0 1 0 1.3 0a0.7 0.5 0 1 0 -1.3 0M23.3 17.3a0.5 0.4 0 1 0 1.0 0a0.5 0.4 0 1 0 -1.0 0M27.4 19.3a0.7 0.5 0 1 0 1.3 0a0.7 0.5 0 1 0 -1.3 0M28.9 34.4a0.3 0.2 0 1 0 0.6 0a0.3 0.2 0 1 0 -0.6 0M42.4 40.8a0.5 0.4 0 1 0 1.0 0a0.5 0.4 0 1 0 -1.0 0M26.7 9.4a0.4 0.3 0 1 0 0.8 0a0.4 0.3 0 1 0 -0.8 0M37.1 12.7a0.5 0.4 0 1 0 1.0 0a0.5 0.4 0 1 0 -1.0 0M41.8 11.0a0.6 0.5 0 1 0 1.2 0a0.6 0.5 0 1 0 -1.2 0M63.4 41.0a0.5 0.4 0 1 0 1.0 0a0.5 0.4 0 1 0 -1.0 0M57.2 52.4a0.8 0.6 0 1 0 1.5 0a0.8 0.6 0 1 0 -1.5 0M62.9 44.0a0.8 0.6 0 1 0 1.5 0a0.8 0.6 0 1 0 -1.5 0M54.2 23.3a0.3 0.3 0 1 0 0.6 0a0.3 0.3 0 1 0 -0.6 0M41.0 41.0a0.4 0.3 0 1 0 0.8 0a0.4 0.3 0 1 0 -0.8 0M35.0 11.9a0.3 0.2 0 1 0 0.5 0a0.3 0.2 0 1 0 -0.5 0M30.2 47.9a0.3 0.2 0 1 0 0.6 0a0.3 0.2 0 1 0 -0.6 0M24.4 26.8a0.8 0.6 0 1 0 1.6 0a0.8 0.6 0 1 0 -1.6 0M28.2 10.1a0.3 0.2 0 1 0 0.6 0a0.3 0.2 0 1 0 -0.6 0M26.7 11.6a0.4 0.3 0 1 0 0.8 0a0.4 0.3 0 1 0 -0.8 0M21.9 15.7a0.4 0.3 0 1 0 0.7 0a0.4 0.3 0 1 0 -0.7 0M28.7 37.8a0.5 0.4 0 1 0 0.9 0a0.5 0.4 0 1 0 -0.9 0M58.8 48.1a0.8 0.6 0 1 0 1.5 0a0.8 0.6 0 1 0 -1.5 0M51.6 28.3a0.4 0.3 0 1 0 0.9 0a0.4 0.3 0 1 0 -0.9 0M26.9 28.7a0.5 0.4 0 1 0 1.0 0a0.5 0.4 0 1 0 -1.0 0M62.4 17.4a0.6 0.5 0 1 0 1.3 0a0.6 0.5 0 1 0 -1.3 0" fill="#6a5a3a"/><path d="M93.7 35.0a0.7 0.5 0 1 0 1.3 0a0.7 0.5 0 1 0 -1.3 0M4.2 33.4a1.1 0.8 0 1 0 2.1 0a1.1 0.8 0 1 0 -2.1 0M91.8 30.6a1.0 0.8 0 1 0 2.0 0a1.0 0.8 0 1 0 -2.0 0M10.4 3.1a1.3 1.0 0 1 0 2.6 0a1.3 1.0 0 1 0 -2.6 0M89.2 41.2a0.5 0.4 0 1 0 1.0 0a0.5 0.4 0 1 0 -1.0 0M9.8 1.8a1.2 0.9 0 1 0 2.4 0a1.2 0.9 0 1 0 -2.4 0M74.2 30.8a0.5 0.4 0 1 0 1.0 0a0.5 0.4 0 1 0 -1.0 0M14.2 6.6a0.7 0.5 0 1 0 1.4 0a0.7 0.5 0 1 0 -1.4 0M5.2 15.1a0.6 0.5 0 1 0 1.2 0a0.6 0.5 0 1 0 -1.2 0M6.3 26.5a0.7 0.6 0 1 0 1.5 0a0.7 0.6 0 1 0 -1.5 0M2.4 4.8a0.9 0.8 0 1 0 1.9 0a0.9 0.8 0 1 0 -1.9 0M72.2 25.4a0.8 0.6 0 1 0 1.6 0a0.8 0.6 0 1 0 -1.6 0M86.8 52.9a0.8 0.7 0 1 0 1.7 0a0.8 0.7 0 1 0 -1.7 0M0.9 21.8a1.1 0.9 0 1 0 2.2 0a1.1 0.9 0 1 0 -2.2 0M95.8 45.7a0.8 0.6 0 1 0 1.6 0a0.8 0.6 0 1 0 -1.6 0M79.8 50.9a1.2 0.9 0 1 0 2.4 0a1.2 0.9 0 1 0 -2.4 0M74.2 32.3a0.9 0.7 0 1 0 1.7 0a0.9 0.7 0 1 0 -1.7 0M84.0 34.4a1.0 0.8 0 1 0 2.1 0a1.0 0.8 0 1 0 -2.1 0M75.9 31.6a1.3 1.0 0 1 0 2.6 0a1.3 1.0 0 1 0 -2.6 0M91.1 44.8a0.5 0.4 0 1 0 1.0 0a0.5 0.4 0 1 0 -1.0 0M2.9 1.1a1.1 0.9 0 1 0 2.2 0a1.1 0.9 0 1 0 -2.2 0M10.2 20.2a1.1 0.9 0 1 0 2.2 0a1.1 0.9 0 1 0 -2.2 0M72.8 47.7a1.3 1.0 0 1 0 2.5 0a1.3 1.0 0 1 0 -2.5 0M75.1 46.0a0.4 0.3 0 1 0 0.8 0a0.4 0.3 0 1 0 -0.8 0M-0.3 47.4a1.0 0.8 0 1 0 1.9 0a1.0 0.8 0 1 0 -1.9 0M9.5 22.8a0.5 0.4 0 1 0 1.0 0a0.5 0.4 0 1 0 -1.0 0M79.2 30.0a0.8 0.7 0 1 0 1.6 0a0.8 0.7 0 1 0 -1.6 0M1.6 4.3a0.7 0.6 0 1 0 1.4 0a0.7 0.6 0 1 0 -1.4 0M0.1 24.7a0.7 0.6 0 1 0 1.5 0a0.7 0.6 0 1 0 -1.5 0M95.8 35.5a1.3 1.0 0 1 0 2.5 0a1.3 1.0 0 1 0 -2.5 0M3.0 13.1a1.1 0.9 0 1 0 2.2 0a1.1 0.9 0 1 0 -2.2 0M7.2 34.3a0.6 0.5 0 1 0 1.1 0a0.6 0.5 0 1 0 -1.1 0M90.1 34.5a0.6 0.5 0 1 0 1.2 0a0.6 0.5 0 1 0 -1.2 0M15.6 21.1a0.8 0.7 0 1 0 1.7 0a0.8 0.7 0 1 0 -1.7 0M12.3 28.7a1.2 1.0 0 1 0 2.4 0a1.2 1.0 0 1 0 -2.4 0M91.3 31.3a0.5 0.4 0 1 0 1.0 0a0.5 0.4 0 1 0 -1.0 0M86.2 54.6a1.2 1.0 0 1 0 2.4 0a1.2 1.0 0 1 0 -2.4 0M98.6 27.1a0.9 0.7 0 1 0 1.7 0a0.9 0.7 0 1 0 -1.7 0M91.8 48.2a1.1 0.9 0 1 0 2.2 0a1.1 0.9 0 1 0 -2.2 0M11.2 1.7a0.7 0.5 0 1 0 1.4 0a0.7 0.5 0 1 0 -1.4 0M81.4 35.8a1.0 0.8 0 1 0 1.9 0a1.0 0.8 0 1 0 -1.9 0M78.4 49.5a0.4 0.3 0 1 0 0.9 0a0.4 0.3 0 1 0 -0.9 0M5.3 0.8a0.9 0.7 0 1 0 1.8 0a0.9 0.7 0 1 0 -1.8 0M73.2 36.9a0.6 0.5 0 1 0 1.3 0a0.6 0.5 0 1 0 -1.3 0M92.1 36.1a0.8 0.6 0 1 0 1.5 0a0.8 0.6 0 1 0 -1.5 0M15.9 34.4a0.7 0.5 0 1 0 1.3 0a0.7 0.5 0 1 0 -1.3 0M15.9 29.3a0.6 0.5 0 1 0 1.2 0a0.6 0.5 0 1 0 -1.2 0M0.6 34.8a0.6 0.5 0 1 0 1.1 0a0.6 0.5 0 1 0 -1.1 0M90.4 42.1a0.9 0.7 0 1 0 1.8 0a0.9 0.7 0 1 0 -1.8 0M70.2 41.0a1.2 1.0 0 1 0 2.5 0a1.2 1.0 0 1 0 -2.5 0M81.7 48.3a1.2 1.0 0 1 0 2.4 0a1.2 1.0 0 1 0 -2.4 0M90.2 38.1a0.8 0.7 0 1 0 1.7 0a0.8 0.7 0 1 0 -1.7 0M13.0 6.2a0.9 0.7 0 1 0 1.8 0a0.9 0.7 0 1 0 -1.8 0M74.8 27.2a1.0 0.8 0 1 0 2.0 0a1.0 0.8 0 1 0 -2.0 0M77.2 39.3a1.1 0.9 0 1 0 2.3 0a1.1 0.9 0 1 0 -2.3 0M8.9 23.6a0.8 0.6 0 1 0 1.5 0a0.8 0.6 0 1 0 -1.5 0M10.8 18.4a0.6 0.4 0 1 0 1.1 0a0.6 0.4 0 1 0 -1.1 0M77.8 27.1a0.5 0.4 0 1 0 0.9 0a0.5 0.4 0 1 0 -0.9 0M76.5 39.8a1.3 1.0 0 1 0 2.6 0a1.3 1.0 0 1 0 -2.6 0M80.6 50.8a1.2 0.9 0 1 0 2.4 0a1.2 0.9 0 1 0 -2.4 0M11.3 16.9a0.7 0.6 0 1 0 1.5 0a0.7 0.6 0 1 0 -1.5 0M4.5 43.9a1.3 1.0 0 1 0 2.5 0a1.3 1.0 0 1 0 -2.5 0M7.8 12.1a0.5 0.4 0 1 0 1.1 0a0.5 0.4 0 1 0 -1.1 0M81.1 36.3a1.1 0.9 0 1 0 2.2 0a1.1 0.9 0 1 0 -2.2 0M86.9 32.1a0.6 0.5 0 1 0 1.2 0a0.6 0.5 0 1 0 -1.2 0M15.1 47.1a1.1 0.9 0 1 0 2.3 0a1.1 0.9 0 1 0 -2.3 0M91.3 48.9a0.4 0.3 0 1 0 0.8 0a0.4 0.3 0 1 0 -0.8 0M-0.5 24.6a1.2 1.0 0 1 0 2.4 0a1.2 1.0 0 1 0 -2.4 0M87.4 46.0a0.5 0.4 0 1 0 0.9 0a0.5 0.4 0 1 0 -0.9 0M69.4 48.9a0.6 0.5 0 1 0 1.3 0a0.6 0.5 0 1 0 -1.3 0M12.0 23.7a1.3 1.0 0 1 0 2.6 0a1.3 1.0 0 1 0 -2.6 0M15.0 42.6a1.1 0.9 0 1 0 2.1 0a1.1 0.9 0 1 0 -2.1 0M98.2 48.5a0.8 0.7 0 1 0 1.7 0a0.8 0.7 0 1 0 -1.7 0M2.0 43.1a0.9 0.7 0 1 0 1.9 0a0.9 0.7 0 1 0 -1.9 0M85.3 29.0a1.2 1.0 0 1 0 2.4 0a1.2 1.0 0 1 0 -2.4 0M90.4 51.4a0.6 0.4 0 1 0 1.1 0a0.6 0.4 0 1 0 -1.1 0M5.6 42.5a0.8 0.7 0 1 0 1.6 0a0.8 0.7 0 1 0 -1.6 0M6.2 25.4a0.9 0.7 0 1 0 1.8 0a0.9 0.7 0 1 0 -1.8 0M67.8 49.6a0.7 0.6 0 1 0 1.5 0a0.7 0.6 0 1 0 -1.5 0M95.4 38.7a0.7 0.6 0 1 0 1.5 0a0.7 0.6 0 1 0 -1.5 0M0.5 4.7a0.7 0.6 0 1 0 1.4 0a0.7 0.6 0 1 0 -1.4 0M93.9 47.2a1.2 1.0 0 1 0 2.5 0a1.2 1.0 0 1 0 -2.5 0M10.4 3.8a1.0 0.8 0 1 0 2.1 0a1.0 0.8 0 1 0 -2.1 0M8.6 17.8a0.7 0.5 0 1 0 1.4 0a0.7 0.5 0 1 0 -1.4 0M16.0 43.7a0.9 0.7 0 1 0 1.9 0a0.9 0.7 0 1 0 -1.9 0M85.4 54.6a1.2 1.0 0 1 0 2.4 0a1.2 1.0 0 1 0 -2.4 0M12.1 40.6a1.1 0.9 0 1 0 2.2 0a1.1 0.9 0 1 0 -2.2 0M74.9 34.5a1.1 0.9 0 1 0 2.2 0a1.1 0.9 0 1 0 -2.2 0M75.2 40.4a0.4 0.4 0 1 0 0.9 0a0.4 0.4 0 1 0 -0.9 0M93.4 52.6a0.7 0.6 0 1 0 1.4 0a0.7 0.6 0 1 0 -1.4 0M77.8 51.6a0.8 0.6 0 1 0 1.6 0a0.8 0.6 0 1 0 -1.6 0M69.1 52.5a0.7 0.6 0 1 0 1.5 0a0.7 0.6 0 1 0 -1.5 0M77.0 32.1a0.5 0.4 0 1 0 1.0 0a0.5 0.4 0 1 0 -1.0 0M6.5 3.5a0.4 0.3 0 1 0 0.8 0a0.4 0.3 0 1 0 -0.8 0M74.0 25.1a1.3 1.0 0 1 0 2.5 0a1.3 1.0 0 1 0 -2.5 0M9.3 49.2a0.7 0.6 0 1 0 1.5 0a0.7 0.6 0 1 0 -1.5 0M3.6 47.2a0.6 0.5 0 1 0 1.2 0a0.6 0.5 0 1 0 -1.2 0M91.9 37.4a1.2 0.9 0 1 0 2.3 0a1.2 0.9 0 1 0 -2.3 0M2.9 37.2a1.1 0.9 0 1 0 2.3 0a1.1 0.9 0 1 0 -2.3 0M75.7 40.0a0.9 0.8 0 1 0 1.9 0a0.9 0.8 0 1 0 -1.9 0M90.5 44.3a0.6 0.5 0 1 0 1.1 0a0.6 0.5 0 1 0 -1.1 0M13.7 46.9a1.2 0.9 0 1 0 2.3 0a1.2 0.9 0 1 0 -2.3 0M71.9 51.0a1.0 0.8 0 1 0 2.1 0a1.0 0.8 0 1 0 -2.1 0M92.1 52.8a1.0 0.8 0 1 0 2.1 0a1.0 0.8 0 1 0 -2.1 0M14.4 15.2a0.6 0.5 0 1 0 1.2 0a0.6 0.5 0 1 0 -1.2 0M0.9 40.5a1.1 0.9 0 1 0 2.3 0a1.1 0.9 0 1 0 -2.3 0M79.6 29.5a0.9 0.7 0 1 0 1.8 0a0.9 0.7 0 1 0 -1.8 0M87.0 28.8a0.7 0.5 0 1 0 1.3 0a0.7 0.5 0 1 0 -1.3 0M9.3 45.5a0.8 0.6 0 1 0 1.5 0a0.8 0.6 0 1 0 -1.5 0M88.6 52.4a1.1 0.9 0 1 0 2.2 0a1.1 0.9 0 1 0 -2.2 0M9.9 13.4a1.0 0.8 0 1 0 1.9 0a1.0 0.8 0 1 0 -1.9 0M93.4 34.4a0.7 0.6 0 1 0 1.4 0a0.7 0.6 0 1 0 -1.4 0M79.9 25.5a0.9 0.7 0 1 0 1.9 0a0.9 0.7 0 1 0 -1.9 0M16.3 27.3a0.6 0.5 0 1 0 1.3 0a0.6 0.5 0 1 0 -1.3 0M67.1 25.5a1.0 0.8 0 1 0 2.1 0a1.0 0.8 0 1 0 -2.1 0M80.4 52.5a0.7 0.6 0 1 0 1.4 0a0.7 0.6 0 1 0 -1.4 0M81.9 43.9a0.9 0.7 0 1 0 1.8 0a0.9 0.7 0 1 0 -1.8 0M12.3 38.5a0.6 0.5 0 1 0 1.3 0a0.6 0.5 0 1 0 -1.3 0M1.8 0.1a0.7 0.6 0 1 0 1.4 0a0.7 0.6 0 1 0 -1.4 0M78.9 36.9a1.1 0.9 0 1 0 2.3 0a1.1 0.9 0 1 0 -2.3 0" fill="#8a7858"/><path d="M83.2 49.4a1.1 0.9 0 1 0 2.2 0a1.1 0.9 0 1 0 -2.2 0M8.9 28.1a0.5 0.4 0 1 0 1.0 0a0.5 0.4 0 1 0 -1.0 0M77.2 41.4a0.5 0.4 0 1 0 0.9 0a0.5 0.4 0 1 0 -0.9 0M5.3 14.0a0.8 0.7 0 1 0 1.7 0a0.8 0.7 0 1 0 -1.7 0M82.7 44.0a1.1 0.9 0 1 0 2.3 0a1.1 0.9 0 1 0 -2.3 0M10.6 15.6a1.1 0.9 0 1 0 2.3 0a1.1 0.9 0 1 0 -2.3 0M73.4 53.9a0.7 0.6 0 1 0 1.5 0a0.7 0.6 0 1 0 -1.5 0M88.3 41.7a1.2 0.9 0 1 0 2.3 0a1.2 0.9 0 1 0 -2.3 0M5.8 40.4a0.7 0.5 0 1 0 1.3 0a0.7 0.5 0 1 0 -1.3 0M92.8 33.8a0.6 0.5 0 1 0 1.2 0a0.6 0.5 0 1 0 -1.2 0M96.4 47.2a0.8 0.7 0 1 0 1.7 0a0.8 0.7 0 1 0 -1.7 0M68.9 54.8a0.5 0.4 0 1 0 1.0 0a0.5 0.4 0 1 0 -1.0 0M92.6 54.2a0.7 0.6 0 1 0 1.4 0a0.7 0.6 0 1 0 -1.4 0M80.9 54.4a0.5 0.4 0 1 0 1.0 0a0.5 0.4 0 1 0 -1.0 0M74.1 38.7a1.1 0.9 0 1 0 2.2 0a1.1 0.9 0 1 0 -2.2 0M72.6 47.4a0.9 0.7 0 1 0 1.8 0a0.9 0.7 0 1 0 -1.8 0M13.4 21.9a1.2 0.9 0 1 0 2.3 0a1.2 0.9 0 1 0 -2.3 0M76.6 26.7a1.1 0.9 0 1 0 2.2 0a1.1 0.9 0 1 0 -2.2 0M87.4 49.0a0.9 0.8 0 1 0 1.9 0a0.9 0.8 0 1 0 -1.9 0M3.0 16.8a0.5 0.4 0 1 0 1.1 0a0.5 0.4 0 1 0 -1.1 0M5.2 5.5a1.1 0.9 0 1 0 2.2 0a1.1 0.9 0 1 0 -2.2 0M93.2 31.3a1.1 0.9 0 1 0 2.2 0a1.1 0.9 0 1 0 -2.2 0M16.2 24.5a0.5 0.4 0 1 0 1.0 0a0.5 0.4 0 1 0 -1.0 0M98.8 41.2a0.4 0.3 0 1 0 0.9 0a0.4 0.3 0 1 0 -0.9 0M98.0 29.2a0.9 0.8 0 1 0 1.9 0a0.9 0.8 0 1 0 -1.9 0M69.6 37.5a0.6 0.5 0 1 0 1.2 0a0.6 0.5 0 1 0 -1.2 0M15.9 47.3a0.9 0.7 0 1 0 1.7 0a0.9 0.7 0 1 0 -1.7 0M88.5 40.9a1.0 0.8 0 1 0 2.1 0a1.0 0.8 0 1 0 -2.1 0M4.9 49.3a0.6 0.5 0 1 0 1.2 0a0.6 0.5 0 1 0 -1.2 0M80.6 36.8a0.5 0.4 0 1 0 0.9 0a0.5 0.4 0 1 0 -0.9 0M11.6 41.5a0.9 0.7 0 1 0 1.7 0a0.9 0.7 0 1 0 -1.7 0M94.4 37.9a0.9 0.7 0 1 0 1.7 0a0.9 0.7 0 1 0 -1.7 0M2.7 41.6a0.4 0.3 0 1 0 0.8 0a0.4 0.3 0 1 0 -0.8 0M92.7 51.1a1.1 0.9 0 1 0 2.2 0a1.1 0.9 0 1 0 -2.2 0M89.0 35.7a0.8 0.7 0 1 0 1.7 0a0.8 0.7 0 1 0 -1.7 0M9.9 4.0a0.6 0.5 0 1 0 1.3 0a0.6 0.5 0 1 0 -1.3 0M0.7 32.1a0.7 0.5 0 1 0 1.4 0a0.7 0.5 0 1 0 -1.4 0M76.7 44.1a1.0 0.8 0 1 0 2.0 0a1.0 0.8 0 1 0 -2.0 0M10.1 1.1a1.2 0.9 0 1 0 2.3 0a1.2 0.9 0 1 0 -2.3 0M10.7 4.4a0.9 0.8 0 1 0 1.9 0a0.9 0.8 0 1 0 -1.9 0M73.4 36.4a1.2 1.0 0 1 0 2.4 0a1.2 1.0 0 1 0 -2.4 0M94.7 28.9a1.1 0.9 0 1 0 2.2 0a1.1 0.9 0 1 0 -2.2 0M67.2 42.7a0.6 0.5 0 1 0 1.2 0a0.6 0.5 0 1 0 -1.2 0M92.9 38.1a0.5 0.4 0 1 0 1.0 0a0.5 0.4 0 1 0 -1.0 0M-0.8 20.1a0.9 0.7 0 1 0 1.8 0a0.9 0.7 0 1 0 -1.8 0M3.3 23.4a0.7 0.5 0 1 0 1.4 0a0.7 0.5 0 1 0 -1.4 0M84.1 54.1a1.0 0.8 0 1 0 2.0 0a1.0 0.8 0 1 0 -2.0 0M3.6 37.2a1.2 0.9 0 1 0 2.3 0a1.2 0.9 0 1 0 -2.3 0M95.4 45.1a0.8 0.7 0 1 0 1.6 0a0.8 0.7 0 1 0 -1.6 0M83.1 40.1a0.6 0.5 0 1 0 1.2 0a0.6 0.5 0 1 0 -1.2 0M8.7 37.3a0.7 0.5 0 1 0 1.4 0a0.7 0.5 0 1 0 -1.4 0M76.8 30.2a0.9 0.7 0 1 0 1.8 0a0.9 0.7 0 1 0 -1.8 0M9.4 47.9a0.8 0.6 0 1 0 1.6 0a0.8 0.6 0 1 0 -1.6 0M91.9 51.4a1.0 0.8 0 1 0 2.1 0a1.0 0.8 0 1 0 -2.1 0M97.4 41.2a1.0 0.8 0 1 0 2.0 0a1.0 0.8 0 1 0 -2.0 0M1.8 7.7a1.2 0.9 0 1 0 2.3 0a1.2 0.9 0 1 0 -2.3 0M81.2 50.1a1.2 0.9 0 1 0 2.3 0a1.2 0.9 0 1 0 -2.3 0M68.6 33.9a0.6 0.5 0 1 0 1.3 0a0.6 0.5 0 1 0 -1.3 0M83.6 25.5a0.7 0.5 0 1 0 1.3 0a0.7 0.5 0 1 0 -1.3 0M96.4 27.3a0.4 0.3 0 1 0 0.8 0a0.4 0.3 0 1 0 -0.8 0M-0.5 45.0a1.0 0.8 0 1 0 1.9 0a1.0 0.8 0 1 0 -1.9 0M94.9 51.5a0.9 0.7 0 1 0 1.8 0a0.9 0.7 0 1 0 -1.8 0M70.0 28.3a1.0 0.8 0 1 0 1.9 0a1.0 0.8 0 1 0 -1.9 0M85.3 32.1a0.8 0.6 0 1 0 1.5 0a0.8 0.6 0 1 0 -1.5 0M91.7 36.0a1.0 0.8 0 1 0 1.9 0a1.0 0.8 0 1 0 -1.9 0M9.9 36.5a1.0 0.8 0 1 0 1.9 0a1.0 0.8 0 1 0 -1.9 0M12.7 6.9a1.0 0.8 0 1 0 2.1 0a1.0 0.8 0 1 0 -2.1 0M1.6 8.1a1.0 0.8 0 1 0 1.9 0a1.0 0.8 0 1 0 -1.9 0M94.8 40.9a0.9 0.7 0 1 0 1.8 0a0.9 0.7 0 1 0 -1.8 0M16.0 45.7a0.7 0.5 0 1 0 1.3 0a0.7 0.5 0 1 0 -1.3 0M2.7 46.4a0.7 0.6 0 1 0 1.4 0a0.7 0.6 0 1 0 -1.4 0M87.2 26.3a0.7 0.5 0 1 0 1.3 0a0.7 0.5 0 1 0 -1.3 0M7.5 21.5a0.8 0.6 0 1 0 1.6 0a0.8 0.6 0 1 0 -1.6 0M97.0 31.4a0.9 0.7 0 1 0 1.8 0a0.9 0.7 0 1 0 -1.8 0M87.2 51.2a0.9 0.7 0 1 0 1.9 0a0.9 0.7 0 1 0 -1.9 0M90.7 33.0a0.8 0.6 0 1 0 1.5 0a0.8 0.6 0 1 0 -1.5 0M90.7 37.7a0.4 0.3 0 1 0 0.9 0a0.4 0.3 0 1 0 -0.9 0M9.4 30.9a1.0 0.8 0 1 0 2.0 0a1.0 0.8 0 1 0 -2.0 0M74.5 38.1a1.1 0.9 0 1 0 2.2 0a1.1 0.9 0 1 0 -2.2 0M70.1 26.9a1.1 0.9 0 1 0 2.3 0a1.1 0.9 0 1 0 -2.3 0M8.5 18.2a0.9 0.7 0 1 0 1.8 0a0.9 0.7 0 1 0 -1.8 0M75.3 46.1a0.7 0.5 0 1 0 1.3 0a0.7 0.5 0 1 0 -1.3 0M6.7 1.4a0.6 0.5 0 1 0 1.1 0a0.6 0.5 0 1 0 -1.1 0M88.8 47.8a0.7 0.6 0 1 0 1.5 0a0.7 0.6 0 1 0 -1.5 0M80.7 52.2a1.2 0.9 0 1 0 2.3 0a1.2 0.9 0 1 0 -2.3 0M11.2 40.4a1.1 0.8 0 1 0 2.1 0a1.1 0.8 0 1 0 -2.1 0M65.9 43.3a1.2 0.9 0 1 0 2.3 0a1.2 0.9 0 1 0 -2.3 0M8.6 36.3a0.8 0.6 0 1 0 1.5 0a0.8 0.6 0 1 0 -1.5 0M10.6 2.0a0.6 0.5 0 1 0 1.2 0a0.6 0.5 0 1 0 -1.2 0M15.1 28.3a1.1 0.9 0 1 0 2.2 0a1.1 0.9 0 1 0 -2.2 0M9.4 44.5a0.7 0.6 0 1 0 1.4 0a0.7 0.6 0 1 0 -1.4 0M3.9 16.5a0.8 0.6 0 1 0 1.6 0a0.8 0.6 0 1 0 -1.6 0M88.6 53.2a0.4 0.4 0 1 0 0.9 0a0.4 0.4 0 1 0 -0.9 0M88.3 30.9a0.9 0.7 0 1 0 1.8 0a0.9 0.7 0 1 0 -1.8 0M75.0 42.5a0.9 0.7 0 1 0 1.8 0a0.9 0.7 0 1 0 -1.8 0M1.2 28.4a0.7 0.6 0 1 0 1.4 0a0.7 0.6 0 1 0 -1.4 0M6.7 45.4a0.9 0.7 0 1 0 1.7 0a0.9 0.7 0 1 0 -1.7 0M95.0 40.8a0.9 0.7 0 1 0 1.8 0a0.9 0.7 0 1 0 -1.8 0M85.5 29.5a0.8 0.7 0 1 0 1.7 0a0.8 0.7 0 1 0 -1.7 0M16.3 48.8a0.6 0.4 0 1 0 1.1 0a0.6 0.4 0 1 0 -1.1 0" fill="#54472f"/><path d="M81.9 21.1l-1.6 -4.7M56.8 5.7l-2.3 -1.3M46.3 2.8l0.6 -5.6M67.7 14.2l-1.9 -3.0M92.9 29.9l0.6 -4.7M90.6 15.9l-2.6 -3.9M47.2 4.6l1.5 -5.4M92.6 23.5l1.1 -2.1M65.2 8.8l-2.4 -4.7M87.8 24.8l2.6 -3.0M97.5 18.8l2.1 -4.7M97.6 27.5l-2.3 -1.9M61.6 9.3l0.3 -2.9M68.2 14.3l-3.8 -3.3M74.1 12.9l0.6 -3.6M85.3 17.1l3.4 -3.0M89.9 15.4l-3.2 -1.2M65.8 4.4l-0.5 -5.0M59.2 1.6l-0.5 -2.8M53.7 7.0l-3.3 -1.9M66.3 6.4l-3.0 -2.6M91.5 18.1l-2.9 -3.6M54.8 6.7l-2.6 -4.5M71.5 18.8l-3.6 -1.8M64.9 5.0l2.6 -1.1M75.2 17.4l1.4 -2.1M85.2 22.2l5.4 -2.2M95.6 18.0l-1.6 -3.1M46.3 2.0l0.4 -4.6M67.2 11.8l-2.9 -1.9M68.6 18.2l-2.3 -2.8M85.5 21.7l2.2 -1.7M87.6 22.1l-2.4 -3.5M78.6 16.8l-2.6 -4.4M41.0 0.6l0.2 -5.2M88.4 33.5l2.3 -3.8M61.7 9.6l-0.7 -2.5M73.1 22.1l-4.2 -2.0M40.1 0.3l3.9 -3.6M98.2 31.4l5.3 -2.1M49.9 4.1l3.8 -2.2M63.1 9.2l2.6 -4.8M88.5 25.8l1.2 -1.7M55.7 2.8l0.6 -4.5M66.5 5.7l1.1 -4.8M64.8 6.8l-2.6 -2.7M99.4 26.9l0.9 -3.8M71.2 18.9l-1.9 -5.4M67.6 4.6l1.0 -5.7M85.7 22.4l-3.2 -3.0M80.7 17.7l-1.7 -2.5M97.9 32.8l-2.4 -4.1M62.4 3.1l0.1 -3.1M49.6 0.0l3.2 -1.4M47.9 3.3l-0.0 -2.5M97.1 33.6l1.8 -1.7M88.6 30.7l-1.5 -1.5M94.5 19.6l2.9 -2.8M67.5 15.5l-0.3 -3.6M98.7 28.2l4.3 -2.8M59.8 3.7l0.9 -3.4M78.8 18.4l2.5 -1.0M94.4 25.7l2.4 -2.1M96.3 17.0l1.5 -4.2M81.5 17.1l4.1 -1.8M87.7 18.7l0.3 -5.1M93.7 27.9l-1.2 -1.9M61.0 8.4l-1.2 -4.1M85.6 24.8l-2.0 -3.6M49.2 8.2l2.0 -4.2M99.5 19.3l-2.2 -1.7M60.2 0.6l2.8 -1.0M62.7 1.0l0.2 -3.2M92.4 16.7l-3.1 -2.9M45.8 5.5l-0.7 -2.0M81.6 22.8l3.1 -2.5M95.0 24.4l3.2 -2.3M74.8 16.5l-2.3 -1.5M46.9 8.2l-0.2 -2.7M41.7 3.0l-1.8 -5.1M87.8 16.5l3.7 -3.5M90.3 34.3l3.6 -1.6M83.8 17.3l1.7 -2.6M61.5 10.3l2.0 -4.6M48.1 2.4l-3.0 -1.7M95.3 17.2l-3.9 -2.5M78.4 19.9l3.0 -5.0M56.9 9.4l-1.5 -4.6M57.7 2.3l2.1 -3.1M52.9 1.2l-2.5 -2.0M46.3 2.4l-0.8 -2.2M87.2 28.9l-3.2 -2.0M94.6 32.8l1.4 -3.1M72.9 22.0l-4.2 -4.2M65.7 11.0l-3.3 -1.8M97.1 16.4l-4.8 -3.6M96.5 18.9l-3.1 -4.7M47.1 1.8l-0.3 -3.7M90.3 16.4l3.3 -4.0M58.4 9.0l1.2 -4.7M59.1 2.7l-2.1 -1.4M61.4 2.1l-3.4 -1.9M43.2 2.2l4.5 -1.9M43.0 0.3l0.5 -1.9M90.9 17.4l-0.2 -2.2M49.7 8.4l-5.3 -2.9M96.2 25.1l-1.7 -2.7M97.5 23.5l-0.8 -5.1M97.7 26.7l-3.1 -1.7M84.8 18.3l-2.6 -3.7M67.9 3.8l2.9 -1.5M70.8 14.8l2.7 -1.7M95.8 25.3l-1.1 -3.8M95.0 33.8l-2.9 -2.4M80.7 16.4l-0.8 -2.1M42.4 0.2l1.7 -3.7M79.4 15.3l1.1 -3.5M61.6 4.8l-3.2 -2.3M98.6 18.9l-1.1 -3.0M99.3 16.9l3.2 -4.6M76.4 17.7l3.7 -2.7M96.4 19.1l0.4 -2.0M75.2 14.6l-0.9 -3.3M96.2 26.4l1.3 -3.7M80.7 21.6l2.1 -2.3M83.1 14.5l1.1 -4.3M78.4 13.4l2.6 -4.1M59.7 9.4l-0.4 -3.7M86.3 22.6l0.9 -3.6M47.6 5.6l1.7 -2.7M88.3 32.6l0.4 -4.0M76.8 22.2l1.4 -2.4M90.9 20.7l-0.2 -5.3M61.4 7.9l4.2 -2.3M87.1 19.9l-3.3 -3.9M94.1 20.0l-4.8 -2.0M72.8 16.8l-4.3 -2.0M45.6 5.9l-1.7 -4.7M94.2 28.6l-1.4 -4.0M78.8 23.5l0.5 -2.6M91.7 21.3l-1.1 -2.7M79.7 17.4l-1.7 -1.2M94.6 25.2l-0.2 -3.6M51.7 4.5l2.2 -1.7M92.5 34.6l-1.5 -2.5M65.4 3.5l-1.4 -3.7M99.6 28.7l-2.8 -5.0M39.7 0.5l-0.6 -3.3M48.5 0.6l3.7 -4.0M87.5 19.9l-3.7 -3.8M72.1 18.5l-2.4 -1.9M57.8 8.4l-3.0 -4.1M81.9 21.6l-0.4 -3.3M41.4 1.5l-1.9 -2.5M46.8 6.8l2.5 -2.0M84.0 19.1l-1.6 -3.3M57.2 0.2l4.1 -2.0M80.6 22.8l2.6 -3.1M57.9 8.4l-1.8 -1.6M97.0 24.2l0.3 -2.0M49.5 3.5l-2.0 -3.6M58.1 3.8l3.0 -4.5M92.9 23.6l2.9 -4.2M97.2 25.0l1.9 -4.9M66.4 5.1l4.9 -2.7M52.4 4.0l-1.8 -5.6M88.6 23.9l-3.8 -2.0M92.1 26.3l1.3 -2.2M89.4 29.6l2.8 -2.2M48.8 6.6l1.2 -5.8M62.1 10.8l-3.9 -4.2M64.2 8.9l-1.4 -5.4M56.3 1.0l-3.2 -4.0M55.2 7.7l2.3 -3.2M74.2 21.4l-3.7 -2.5M57.3 0.4l0.1 -4.3M99.5 25.0l1.8 -1.7M77.8 15.5l2.4 -4.7M82.3 22.9l-3.6 -1.4M99.3 22.0l3.1 -2.9M69.6 16.3l-3.4 -2.3M91.8 15.6l1.7 -2.2M76.1 13.4l-3.1 -3.6M66.6 9.1l-0.8 -4.2M89.9 16.4l-2.1 -1.1M80.7 16.7l2.2 -5.5M97.2 21.5l-1.0 -5.7M47.5 3.5l-3.2 -4.4M96.5 22.7l2.1 -3.3M47.1 2.4l4.3 -2.7M56.0 5.9l3.8 -2.8M47.3 4.2l-3.8 -4.5M68.0 0.9l4.8 -2.3M95.1 20.7l1.4 -5.0M60.7 7.0l1.8 -1.2M87.3 27.7l0.9 -1.9M65.6 5.4l1.1 -5.7M48.8 5.8l3.9 -2.8M91.3 15.4l4.4 -2.3M67.3 0.5l-3.6 -2.2M61.2 8.8l0.3 -3.0M77.8 22.0l1.0 -1.9M87.7 17.9l-3.4 -4.3M61.9 2.7l2.7 -2.2M73.0 19.3l3.2 -1.6M83.8 17.3l0.7 -5.4M52.9 7.8l0.4 -4.8M61.8 0.4l0.7 -3.1M82.4 16.1l1.3 -2.2M76.8 16.7l-3.4 -3.3M55.7 2.3l-4.7 -3.3M57.1 3.0l-0.4 -2.1M99.9 30.6l-0.2 -4.3M57.2 2.6l-1.9 -5.6M91.6 22.7l-1.3 -2.2M56.2 0.4l-1.9 -5.0M75.5 16.7l-3.2 -2.3M73.2 20.6l-3.6 -1.7M90.6 31.9l-2.7 -3.9M61.2 6.4l0.3 -4.2" stroke="#a8b86a" stroke-width="0.3" fill="none" stroke-linecap="round"/><path d="M97.4 33.1l3.5 -2.7M84.9 18.9l1.2 -2.2M96.1 22.0l0.0 -2.7M51.0 7.3l-2.2 -1.2M96.1 19.6l-1.4 -3.6M45.4 5.0l0.4 -4.4M64.9 3.8l3.6 -2.3M63.1 5.1l-2.5 -1.8M95.2 24.0l0.6 -2.2M98.5 23.9l2.3 -3.4M90.3 29.2l-4.5 -1.8M91.1 34.0l-1.7 -3.6M91.9 18.4l-2.8 -3.0M96.7 18.2l-0.5 -2.0M63.2 5.5l0.3 -2.2M56.9 6.5l1.7 -2.9M90.8 27.9l-3.5 -2.4M59.7 4.4l3.5 -2.0M98.2 27.9l-3.2 -2.3M66.5 8.2l1.1 -1.7M53.1 3.8l1.7 -3.0M58.0 4.2l-3.2 -2.9M47.4 5.2l-0.0 -2.4M91.9 27.5l-0.5 -4.2M89.8 31.1l3.5 -1.9M98.6 26.1l-1.0 -2.3M50.7 1.0l3.5 -3.3M60.7 8.0l-2.8 -2.8M93.3 16.1l-1.2 -1.8M63.2 8.1l-2.4 -3.0M98.8 28.4l1.6 -1.7M51.0 4.6l3.7 -1.4M93.1 33.7l-2.2 -1.5M90.8 32.9l-1.2 -3.5M95.3 30.5l-1.5 -1.7M97.1 16.9l-3.6 -2.8M91.8 24.9l1.8 -1.1M58.7 1.2l0.9 -2.4M59.2 4.5l1.4 -3.7M86.3 24.0l-1.3 -3.0M88.4 28.0l2.5 -2.8M51.4 3.6l3.2 -2.7M48.7 4.2l-3.3 -2.0M94.0 17.1l0.6 -2.8M88.7 20.3l-1.6 -3.9M98.2 35.2l-1.6 -1.6M66.3 10.5l-1.8 -4.6M91.4 30.5l0.7 -2.5M56.2 8.5l2.7 -3.8M94.6 21.8l3.0 -3.9M53.7 1.3l-0.8 -3.7M97.8 26.3l3.7 -2.4M98.1 19.4l1.0 -1.9M52.3 0.0l-0.2 -2.8M89.4 26.8l0.6 -5.0M59.2 2.9l-2.6 -4.1M93.7 18.7l4.0 -2.5M67.9 5.1l3.2 -2.0M54.5 1.8l1.0 -3.2M99.6 18.7l0.7 -2.1M56.1 6.9l1.1 -3.4M90.4 31.0l-2.5 -2.7M94.4 24.2l-1.8 -1.0M63.4 0.5l-1.8 -2.2M95.5 25.9l-2.0 -3.3M42.5 4.6l-3.5 -1.7M61.0 5.5l1.2 -1.8M61.3 4.1l-2.3 -1.5M55.6 7.4l1.3 -4.7M94.1 24.9l2.2 -1.8M99.5 33.5l1.1 -3.2M48.7 3.5l0.0 -2.9M62.1 5.2l0.2 -2.8M96.0 28.1l0.1 -3.6M67.4 0.5l4.1 -1.8M59.8 9.4l-4.3 -1.8M93.2 23.4l-1.2 -1.6M46.9 1.2l0.3 -2.4M87.2 25.7l-0.7 -4.3M66.6 4.2l-3.9 -2.9M92.9 26.5l3.7 -1.9M100.0 20.9l2.0 -2.9M96.7 32.5l-3.0 -3.5M89.9 32.7l-3.5 -1.6M46.6 6.4l-3.1 -2.0M58.5 0.3l-3.4 -3.1M95.5 18.2l0.6 -3.0M40.7 0.1l1.7 -2.6M90.5 27.5l-1.7 -2.2M62.7 8.8l-1.7 -1.8M42.7 1.1l3.0 -2.6M93.2 24.7l4.5 -1.7M96.3 22.4l1.0 -2.4M95.7 27.8l-0.9 -3.0M58.4 4.6l-1.4 -1.5M66.6 9.2l2.2 -2.3M62.9 9.9l1.1 -2.6M65.8 2.2l0.6 -4.0M84.4 17.4l0.8 -3.5M46.6 0.3l2.2 -3.1M65.7 9.5l2.2 -2.5M99.4 21.7l-0.7 -2.2M89.8 15.7l-0.5 -2.3M87.2 18.8l2.5 -1.5M93.7 28.5l3.3 -3.4M94.1 29.4l-0.2 -2.0M63.1 5.5l-0.0 -3.0M96.9 30.9l2.6 -2.5M92.5 19.6l-3.0 -3.9M43.5 6.6l2.9 -1.4M94.0 19.5l2.2 -4.1M95.1 26.3l-2.0 -0.8M50.0 5.1l-1.3 -1.9M57.8 0.7l0.4 -2.5M49.1 0.6l0.2 -3.4M99.9 29.2l2.0 -3.2M98.4 26.5l-1.8 -1.7M56.9 8.6l3.8 -2.7M65.7 6.9l-3.1 -1.8M90.2 20.3l1.3 -3.6" stroke="#3f5526" stroke-width="0.3" fill="none" stroke-linecap="round"/><path d="M21 1 L36 5.3 L65 13" stroke="#d8b820" stroke-width="0.9" fill="none"/><rect width="100" height="100" filter="url(#noise)" opacity="0.35"/></svg><rect x="101.1" y="2246.7" width="283.4" height="265.2" fill="none" stroke="#111" stroke-width="1.6"/>
<g transform="translate(1040 0.3)">
<use href="#cleanblock"/>
<use href="#gutter"/>
<polygon points="769.5,154.0 766.3,166.2 762.0,178.0 758.2,190.0 754.7,202.0 750.7,213.9 747.2,226.0 743.4,238.0 739.7,250.0 737.0,262.0 733.8,273.9 730.1,285.6 725.5,297.1 723.9,309.4 719.7,321.0 716.2,332.8 712.5,344.5 709.4,356.4 705.0,367.9 702.4,380.0 697.9,392.2 695.1,405.0 692.4,417.7 687.2,429.8 683.7,442.3 681.0,455.0 676.7,467.3 672.9,479.7 669.2,492.2 666.6,505.0 662.0,512.0 657.1,510.5 653.5,506.6 647.4,507.4 645.8,499.9 640.0,500.0 635.8,496.1 631.2,492.9 624.4,494.8 619.3,493.0 613.9,491.6 610.0,487.0 604.2,486.1 598.7,484.6 595.5,478.5 589.6,477.7 585.8,472.8 580.0,472.0 575.7,468.2 569.6,468.2 564.2,466.8 559.6,463.5 553.8,462.9 550.0,458.0 545.4,454.9 539.2,455.0 534.1,452.9 531.0,446.6 524.8,446.7 520.0,444.0 515.9,439.2 510.8,436.6 504.8,435.9 498.6,435.8 494.0,432.0 489.8,430.0 492.1,417.2 496.6,405.1 500.8,392.8 502.6,379.9 506.3,367.5 509.2,354.9 513.3,342.6 516.1,330.0 519.8,317.6 522.8,305.1 527.0,292.8 529.6,280.1 532.1,267.4 535.5,254.9 539.3,242.6 542.3,230.0 545.7,218.3 547.5,206.2 551.8,194.7 553.8,182.6 557.5,171.0 558.8,158.8 562.3,147.1 564.5,135.1 568.5,123.5" fill="rgb(172,157,120)" fill-opacity="0.68" stroke="#3d3526" stroke-width="0.9" stroke-linejoin="round"/>
<use href="#dashes"/>
</g>
<svg x="1142.5" y="201.6" width="282.9" height="390.8" viewBox="0 0 100 100" preserveAspectRatio="none" overflow="hidden"><rect width="100" height="100" fill="#eaa253"/><g filter="url(#pb)"><rect x="-5" y="-5" width="110" height="23" fill="#7d8e3b"/><polygon points="-5.0,16.0 40.0,16.0 40.0,30.0 30.0,34.0 10.0,36.0 -5.0,38.0" fill="#9a7e3e" /><polygon points="60.0,16.0 105.0,16.0 105.0,33.0 84.0,32.0 72.0,26.0" fill="#8a8a3f" /><polygon points="-5.0,36.0 12.0,35.0 30.0,33.0 40.0,36.0 40.0,55.0 -5.0,57.0" fill="#f2ac5c" /><polygon points="72.0,30.0 88.0,33.0 105.0,34.0 105.0,60.0 72.0,57.0" fill="#f5b264" /><polygon points="30.0,22.0 44.0,18.0 46.0,42.0 38.0,44.0 32.0,36.0" fill="#6e5a3e" /><polygon points="-5.0,57.0 8.0,55.5 20.0,57.0 28.0,63.0 34.0,70.0 44.0,76.0 55.0,77.5 60.0,72.0 68.0,63.0 78.0,59.0 88.0,58.0 105.0,62.0 105.0,105.0 -5.0,105.0" fill="#a5928c" /><polygon points="19.0,59.0 29.0,59.0 31.0,66.0 24.0,68.0" fill="#7d6c64" /></g><g filter="url(#pb2)"><polygon points="46.0,18.0 72.0,19.5 70.0,40.0 67.0,60.0 63.0,74.0 56.0,77.5 44.0,76.0 40.0,72.0 42.0,50.0 45.0,32.0" fill="#a06c48" /><polygon points="50.0,17.5 72.0,19.5 71.0,30.0 50.0,29.0" fill="#7a5236" /><polygon points="52.0,29.0 71.0,30.0 68.5,52.0 52.0,52.0" fill="#b87c4e" /><polygon points="34.0,22.0 44.0,18.0 50.0,17.5 50.0,42.0 41.0,44.0 36.0,36.0" fill="#4d4038" /><polygon points="42.0,52.0 68.0,52.0 63.0,74.0 56.0,77.5 44.0,76.0 40.0,72.0" fill="#86695a" /><polygon points="41.0,55.0 53.0,55.0 52.0,73.0 42.0,71.0" fill="#9a8478" /><polygon points="38.0,66.0 58.0,66.0 56.0,77.5 44.0,76.0" fill="#5e5048" /><polygon points="70.0,60.0 84.0,57.0 82.0,64.0 74.0,70.0 68.0,72.0" fill="#6d6a40" /><polygon points="24.0,60.0 36.0,62.0 40.0,72.0 34.0,70.0 28.0,64.0" fill="#8c7a72" /></g><path d="M38.1 7.4l1.8 -2.0M55.3 12.3l0.7 -4.9M78.1 21.2l-0.6 -5.3M15.5 4.8l-2.7 -4.1M65.5 19.9l1.1 -2.0M3.3 27.7l-2.6 -4.7M72.6 23.4l0.7 -2.4M5.4 10.2l0.8 -4.4M84.7 9.6l0.7 -2.5M49.3 12.6l-1.2 -1.7M65.5 10.3l-1.8 -1.9M4.0 27.6l2.3 -5.0M10.9 21.1l1.6 -2.0M60.9 13.4l3.9 -3.7M24.2 14.0l1.5 -4.7M41.1 14.4l-2.2 -5.4M21.2 22.0l2.0 -2.4M75.1 23.4l-1.6 -2.4M3.1 5.8l-3.2 -3.4M23.7 18.1l-0.8 -2.5M22.8 21.6l1.9 -1.6M55.3 15.9l3.7 -4.5M82.2 1.0l3.0 -3.1M63.8 16.4l-2.5 -3.9M72.8 25.1l0.0 -2.3M59.5 11.3l3.2 -3.5M90.6 9.8l1.5 -2.1M86.9 8.9l-1.5 -4.1M79.7 22.1l0.0 -3.0M59.4 7.5l-0.1 -2.7M7.2 15.8l3.1 -4.9M5.4 26.4l1.7 -4.5M2.7 24.3l1.4 -2.4M32.2 11.7l1.6 -2.2M51.4 4.8l0.2 -4.6M2.7 26.4l-2.3 -2.1M76.6 23.3l-1.8 -3.0M68.9 15.7l1.6 -4.0M19.0 5.8l1.7 -3.6M80.3 27.3l1.4 -3.5M10.6 12.4l1.3 -1.9M100.0 21.4l-1.1 -4.9M79.5 2.7l-0.9 -3.4M86.4 5.5l-1.7 -2.0M84.3 10.1l-1.8 -5.3M83.7 6.2l4.1 -3.8M87.8 22.1l3.7 -4.2M96.4 8.8l2.5 -4.8M34.6 5.4l-0.3 -5.6M48.4 8.1l0.3 -4.7M27.2 22.1l-2.4 -5.1M81.3 24.1l-2.1 -3.5M66.5 9.0l1.7 -2.4M27.1 3.0l4.1 -3.5M30.5 13.0l1.8 -3.8M1.2 20.7l2.0 -2.1M3.8 6.5l-0.7 -3.1M17.3 13.5l0.3 -2.3M96.3 27.4l3.3 -3.0M72.9 20.3l-2.6 -2.9M89.3 28.7l1.7 -4.9M97.2 24.6l1.5 -1.5M56.8 14.5l-1.5 -3.4M3.4 19.8l-3.0 -3.4M92.3 28.9l0.4 -5.4M38.5 15.1l2.5 -2.4M91.9 28.8l0.1 -4.1M68.7 9.3l2.0 -1.8M27.0 8.6l-2.6 -3.0M52.4 5.1l-3.5 -4.0M80.2 8.6l2.6 -4.5M95.5 5.6l-3.4 -4.9M35.1 0.2l-2.7 -3.0M78.2 20.7l1.8 -1.6M14.6 9.6l2.4 -5.3M18.6 14.6l-1.7 -3.8M21.9 2.7l-0.6 -4.0M35.0 15.3l-0.7 -3.3M76.4 4.7l-0.2 -2.4M29.0 15.2l3.8 -3.9M23.1 11.1l-0.9 -2.3M26.1 7.7l2.3 -2.4M67.0 19.0l0.9 -5.6M50.4 7.3l-0.3 -2.4M40.6 4.2l-4.3 -3.9M44.1 7.9l2.0 -3.0M96.4 12.8l3.1 -3.8M29.0 12.7l2.1 -3.1M18.5 21.8l-3.3 -3.1M40.2 1.8l0.3 -3.9M46.9 13.5l1.7 -5.5M44.4 14.3l-2.2 -4.6M9.0 4.7l0.6 -2.1M80.0 21.2l-3.3 -3.1M36.4 14.8l-1.4 -3.0M37.1 7.3l0.3 -2.3M2.4 13.9l1.9 -3.1M70.6 14.7l0.7 -1.9M72.4 20.4l-0.1 -6.0M39.6 17.1l0.5 -2.4M13.2 21.4l1.4 -4.2M18.5 22.8l4.3 -3.8M76.5 5.0l-2.7 -4.3M98.0 1.0l-0.4 -2.0M93.0 8.3l-1.4 -5.3M81.8 4.0l-0.5 -5.7M23.6 14.2l-1.4 -1.4M99.7 16.7l-1.4 -3.1M2.1 29.3l-1.9 -4.4M75.6 22.1l-0.4 -4.5M75.8 5.9l0.9 -3.7M95.2 16.2l-2.7 -2.9M6.4 8.6l-2.2 -4.1M75.5 20.6l0.1 -3.1M83.4 1.0l1.9 -4.1M96.7 10.6l2.3 -3.9M41.4 3.5l1.2 -3.9M91.4 24.2l2.4 -3.4M85.1 19.6l-2.3 -2.0M58.6 0.4l2.6 -2.2M25.8 22.0l-1.5 -4.7M72.5 10.7l1.8 -5.7M78.4 28.1l2.6 -4.6M76.5 26.3l2.1 -1.9M60.4 9.3l2.1 -3.4M73.2 25.2l1.5 -3.8M63.5 13.3l0.2 -2.0M69.0 17.8l0.3 -3.6M10.5 20.6l-1.4 -1.8M90.9 20.0l-2.8 -5.0M66.2 15.2l0.3 -2.4M11.0 9.0l-1.1 -2.3M89.7 15.8l-2.4 -3.4M15.2 3.4l0.7 -4.8M74.2 18.8l-0.5 -3.0M76.5 0.0l-1.7 -1.6M89.4 6.7l0.6 -3.8M22.4 8.8l-2.9 -4.7M83.2 15.0l-0.9 -4.7M67.8 22.5l-1.3 -3.5M1.1 6.6l1.1 -3.2M50.9 7.2l0.7 -5.5M89.0 12.2l0.8 -5.7M34.6 4.9l-2.8 -4.4M82.2 26.0l1.0 -2.3M70.1 3.0l3.6 -3.6M33.6 17.0l-1.6 -3.3M16.1 21.3l-3.6 -4.7M2.2 17.3l1.8 -2.5M29.4 0.7l-0.5 -3.2M43.3 13.1l2.3 -2.2M1.4 7.2l-2.6 -4.6M21.0 12.5l2.4 -3.8M78.7 5.7l-3.1 -4.8M80.7 27.5l-0.5 -2.4M21.3 14.7l2.6 -4.4M75.8 1.0l2.1 -2.3M73.7 24.4l-1.5 -2.2M12.5 28.0l2.9 -3.1M90.6 12.8l1.7 -2.6M51.5 14.7l-3.7 -4.0M43.8 7.0l2.4 -3.8M42.6 6.6l1.6 -1.9M26.9 9.1l0.6 -2.6M58.9 10.7l1.2 -2.1M94.8 10.5l0.1 -3.2M48.0 15.4l-1.5 -3.2M21.0 12.0l-1.2 -4.7M27.0 12.4l3.4 -3.5M6.5 28.0l0.6 -2.3M5.3 17.4l1.5 -2.5M2.1 16.4l0.3 -5.8M79.4 21.9l-1.8 -3.2M78.3 16.1l-1.6 -5.6M30.7 14.9l2.8 -5.3M29.4 22.2l-3.7 -3.8M74.6 15.2l2.3 -5.0M36.6 2.6l-0.8 -3.5M20.4 22.0l-0.5 -5.4M11.6 17.9l-2.4 -2.4M9.7 12.4l-1.3 -1.7M94.6 17.1l-2.0 -1.9M28.6 10.4l-3.0 -4.9M92.0 16.1l0.5 -5.2M62.1 10.8l-1.8 -2.7M23.0 19.6l0.3 -3.7M95.2 23.4l2.6 -5.1M24.7 1.3l-2.8 -3.9M65.6 2.8l0.2 -4.3M70.0 7.1l-0.6 -3.9M38.7 7.3l0.6 -2.8M6.2 13.7l-0.3 -4.0M53.8 5.2l1.9 -2.0M46.7 15.6l0.6 -2.8M38.0 18.2l2.8 -3.2M87.3 2.9l-1.7 -4.1M34.1 16.4l0.6 -4.0M43.8 3.4l-4.3 -4.1M66.5 6.8l-1.4 -4.6M72.5 0.8l-1.1 -5.7M29.9 12.4l-0.4 -2.8M84.3 20.6l-0.1 -3.7M15.0 8.1l1.0 -1.9M10.5 5.7l1.9 -3.2M7.4 24.1l-0.5 -3.2M99.5 8.5l-1.3 -4.2M64.4 17.0l-0.7 -3.1M26.6 18.2l-3.6 -3.7M22.8 24.4l1.6 -1.6M10.9 14.2l1.8 -3.4M59.5 4.8l-0.9 -2.1M58.3 3.7l-0.7 -2.5M23.7 19.4l-1.4 -2.5M75.1 19.9l-2.9 -4.0M62.8 12.1l-1.9 -3.4M81.8 26.1l-0.9 -3.7M25.0 16.2l-0.3 -3.2M85.4 2.1l-1.0 -5.0M11.6 14.6l-1.0 -5.4M30.4 17.1l2.8 -3.2M6.9 23.2l0.6 -3.9M84.1 9.6l-0.8 -1.8M96.5 29.7l-2.3 -3.1M74.1 10.0l0.1 -5.5M29.6 2.0l-0.9 -2.9M29.5 24.0l1.4 -5.2M4.5 16.3l0.8 -4.1M34.7 14.4l0.1 -2.5M0.3 17.0l2.0 -2.0M44.7 7.4l-2.7 -3.8M52.3 14.4l2.4 -5.3M86.9 28.0l3.9 -4.1M17.0 24.7l3.1 -3.8M0.5 12.4l-1.3 -2.6M8.4 16.4l-1.8 -1.8M32.8 1.3l-1.4 -5.3M15.1 20.9l0.6 -3.4M45.1 6.4l0.3 -5.8M18.4 14.7l2.9 -3.3M30.2 3.5l2.2 -3.2M3.0 29.4l-0.2 -4.0M61.5 10.0l-0.5 -3.6M21.9 9.7l2.5 -2.5M89.2 23.6l-2.0 -4.4M36.5 6.5l1.6 -5.0M65.0 0.6l2.4 -4.3M81.3 20.4l0.3 -3.2M87.9 3.1l-1.4 -5.1M69.0 3.9l2.9 -2.5M58.5 15.4l-0.7 -3.2M12.7 10.9l-1.3 -3.3M96.9 26.2l-3.0 -2.7M89.6 23.5l-1.9 -5.2M32.0 13.1l-0.3 -3.6M98.9 27.3l-0.3 -2.3M14.8 15.5l1.1 -3.7M84.4 15.3l-2.8 -4.7M34.0 4.0l2.8 -4.5M58.5 8.9l-2.4 -2.3M63.0 6.9l-1.1 -2.7M79.3 9.2l0.8 -5.7M12.1 7.1l-0.0 -6.0M57.2 3.2l-1.1 -5.0M1.6 4.4l-2.1 -2.5M30.6 20.7l2.1 -1.9M61.2 16.5l-1.8 -4.2M34.4 7.1l0.5 -4.2M81.5 22.5l-0.9 -5.4M86.7 5.1l0.9 -3.8M2.5 8.2l1.4 -3.3M98.3 16.7l-2.8 -3.4M56.7 8.2l0.2 -3.4M18.2 20.2l1.7 -2.6M99.7 9.7l-2.1 -2.4M4.7 3.9l1.0 -2.8M72.6 13.9l-0.9 -3.5M14.8 13.5l0.2 -2.1M48.7 2.6l0.0 -4.5M70.0 17.7l0.9 -3.2M93.6 28.2l-1.6 -4.3M8.3 27.3l1.3 -1.7M17.4 9.0l-2.6 -3.9M38.4 15.2l-1.2 -1.7M24.1 20.1l-2.8 -3.6M98.9 7.5l-0.8 -2.5M11.4 12.0l-0.9 -2.0M81.7 5.2l-0.2 -4.3M73.3 5.1l-1.6 -5.6M94.3 7.1l1.7 -2.4M84.1 22.3l2.6 -4.2M1.4 7.4l2.8 -5.0M9.7 28.5l-0.9 -4.9M39.2 11.2l-2.1 -4.8M51.2 16.0l0.6 -2.5M44.8 2.8l-0.8 -3.5M21.7 18.6l1.2 -4.0M55.5 5.9l-0.3 -5.5M1.6 22.9l3.3 -4.9M78.5 22.0l-1.4 -2.2M82.9 24.6l-1.5 -4.0M11.0 9.6l-1.7 -3.9M73.4 6.4l-1.3 -2.2M2.9 13.3l2.9 -2.9M8.1 11.8l-1.7 -5.4M1.7 2.6l1.4 -4.5M85.4 27.0l-1.7 -4.7M45.4 2.9l-0.6 -3.3M29.9 2.3l-1.9 -3.9M62.2 10.9l2.5 -4.0M53.9 10.6l-1.7 -4.4M82.9 18.5l0.4 -5.6M64.3 0.5l-1.2 -3.3M4.2 1.7l-2.3 -3.7M6.2 9.7l1.6 -4.0M39.1 1.2l-2.7 -3.1M23.3 18.6l-1.9 -1.8M92.5 3.1l2.4 -4.5M84.1 0.3l1.6 -1.8M6.4 8.0l-0.0 -2.0M79.3 9.4l-1.6 -5.7M11.0 9.0l0.3 -5.3M94.1 7.6l-1.9 -4.8M61.1 16.6l-1.2 -5.0M30.3 7.7l-1.6 -1.9M49.3 4.3l-2.4 -5.4M99.6 4.2l-0.8 -5.2M1.5 6.0l-1.7 -3.6M53.2 15.1l-0.5 -2.4M90.3 5.7l3.3 -3.0M64.3 5.3l-2.7 -3.2M11.5 4.9l-3.3 -3.7M87.9 12.1l3.1 -3.2M31.8 20.3l1.6 -2.5M63.7 18.8l-1.5 -4.9M58.6 8.3l0.8 -3.7M98.4 27.4l2.3 -4.2M21.3 20.4l-2.7 -4.6M50.8 11.1l-0.4 -5.4M24.2 13.0l2.0 -1.8M18.8 9.2l0.2 -5.2M12.1 10.4l-1.3 -5.7M53.8 14.6l-3.4 -3.0M15.7 22.5l1.5 -5.1M86.9 13.0l2.2 -2.1M55.2 2.7l0.0 -4.9M78.5 4.2l3.7 -3.3M38.3 6.7l2.3 -4.3M15.0 0.9l1.4 -3.2M13.0 28.0l-3.8 -3.8M33.0 4.6l-0.4 -3.3M21.6 7.9l-0.5 -2.2M19.2 10.0l0.6 -5.4M44.6 7.9l2.0 -3.7M65.1 6.0l-3.1 -3.8M48.3 10.2l0.8 -2.4M22.8 17.6l-0.4 -5.7M71.1 11.4l-0.9 -5.0M54.9 8.1l-0.5 -4.4M70.1 5.0l0.9 -2.9M52.9 6.3l-1.3 -3.7M93.3 12.5l1.0 -5.1M66.9 15.9l-1.2 -3.6M96.0 0.0l0.7 -1.9M99.4 27.4l1.5 -3.9M1.9 6.1l-1.7 -4.0M31.0 16.2l0.9 -5.2M70.4 19.4l1.0 -3.2M40.9 15.1l0.9 -2.2M11.8 11.3l-1.8 -1.7M73.7 23.1l-0.2 -2.3M85.5 19.9l-2.1 -2.0M70.9 16.5l1.6 -4.0M24.4 1.1l2.5 -4.5M86.3 15.5l0.9 -4.9M13.0 13.4l-1.3 -3.2M36.3 18.9l-0.2 -2.6M82.6 2.0l2.1 -5.1M8.7 14.6l-2.0 -4.0M68.6 14.1l0.1 -2.2M6.0 21.9l-1.3 -2.8M94.8 13.9l-0.1 -2.3M31.7 0.0l1.6 -2.7M25.0 5.3l-0.7 -2.1M86.6 23.1l-1.6 -4.2M45.6 11.1l0.9 -2.9M56.9 8.6l1.5 -1.9M0.8 28.4l-0.1 -2.8M93.7 28.0l0.1 -2.9M88.0 28.2l3.0 -3.9M63.1 7.0l2.0 -5.4M16.5 6.6l1.8 -2.6M85.8 14.1l-2.6 -4.8M17.6 5.4l-1.0 -1.9M28.2 11.5l3.6 -3.5M30.1 1.7l3.0 -3.0M52.2 4.0l0.7 -4.4M89.8 24.9l2.8 -3.1M73.3 6.7l-3.0 -2.7M94.2 17.7l-2.1 -1.8M4.3 23.5l2.4 -4.9M11.6 24.1l-2.9 -2.8M30.0 18.7l1.0 -2.0M15.8 4.4l4.1 -3.5M89.0 18.2l0.1 -3.6M42.7 3.3l3.9 -4.3M24.2 22.7l-0.8 -5.1M36.9 7.8l-3.6 -4.0M13.7 27.1l2.7 -4.2M39.2 7.0l2.4 -3.6M11.2 20.0l-3.5 -4.1M58.1 13.6l-1.2 -1.9M1.5 12.9l-1.7 -4.5M45.8 14.6l2.6 -2.7M55.5 12.6l-3.6 -4.7M17.4 2.7l-1.8 -2.6M24.9 0.2l-3.8 -3.6M33.8 8.0l0.4 -2.1M72.1 11.1l1.4 -5.3M0.6 11.6l-3.8 -3.4M95.4 25.1l-1.6 -5.0M40.6 3.6l3.7 -3.4M57.2 4.1l1.1 -3.8M77.8 25.1l-0.8 -3.6M67.0 6.6l-2.6 -3.1M22.0 0.0l-1.2 -3.4M10.1 24.7l0.5 -3.6M46.0 10.9l-2.7 -3.1M7.2 11.3l2.0 -1.8M63.7 4.9l1.7 -1.6M36.0 15.7l1.3 -4.9M1.8 16.4l0.2 -4.4M93.4 27.2l2.0 -3.3M51.3 0.3l0.7 -5.8M48.0 7.3l2.0 -3.9M15.9 5.2l2.0 -4.6M66.6 13.9l-1.0 -4.0M72.7 15.6l0.6 -3.5M67.9 6.2l-0.1 -2.4M5.6 12.4l-0.9 -5.5M68.0 5.5l1.1 -5.1M5.2 19.6l2.0 -1.9M63.8 8.2l-1.5 -2.1M62.6 12.1l-1.8 -3.2M6.3 18.2l3.4 -3.4M74.6 8.4l1.6 -3.6M15.5 7.0l-0.2 -5.7M27.2 3.4l1.6 -4.3M76.2 8.5l-1.2 -4.8M60.9 4.0l1.7 -2.0M88.6 0.2l1.1 -5.7M0.5 14.4l2.6 -3.1M67.9 15.4l-2.5 -2.9M90.0 3.3l2.0 -2.2M94.7 11.3l2.3 -4.6M69.2 5.4l-3.1 -4.6M40.9 10.4l1.6 -5.0M19.2 26.2l1.6 -3.2M52.2 0.9l-2.3 -5.0M7.5 22.3l-0.0 -2.5M40.1 12.5l0.1 -4.2M94.7 12.0l1.1 -4.5M68.8 14.7l-2.2 -1.8M95.4 27.8l1.9 -4.6M32.6 17.2l1.7 -2.1M39.9 3.5l1.6 -2.4M1.4 27.4l1.6 -4.3M35.5 10.9l-1.9 -3.2M72.0 25.3l-0.2 -4.7M48.0 15.4l-2.5 -3.7M23.5 9.5l0.8 -4.7M50.9 12.5l-3.6 -4.1M11.6 3.4l0.7 -2.4M16.6 9.9l3.1 -5.1M52.4 13.2l-3.0 -5.1M99.0 0.7l1.4 -2.9M97.0 9.5l1.4 -1.8M44.5 7.2l3.1 -3.0M1.8 1.5l-0.8 -2.1M54.3 15.1l-3.0 -4.9M54.1 9.1l-2.8 -2.8M14.5 25.0l1.2 -3.4M4.3 27.5l2.2 -5.6M16.6 2.7l-0.2 -5.3M91.9 15.5l1.6 -2.1M17.5 5.8l0.4 -3.8M0.2 0.9l-1.8 -1.6M24.6 3.4l-1.6 -4.0M60.3 0.3l2.5 -4.4M14.9 16.9l1.2 -3.0M62.9 17.1l-0.8 -2.6M78.0 16.2l3.5 -4.0M3.5 30.3l2.7 -5.2M86.8 16.3l-2.9 -2.9M75.6 0.4l3.2 -3.6M52.7 3.5l-2.7 -2.8M88.6 7.7l0.8 -1.9M4.6 1.8l-2.9 -3.3M54.1 0.6l-3.4 -3.1M5.7 10.1l1.2 -2.6M73.5 17.7l0.2 -3.6M30.4 11.3l3.7 -3.1M42.4 1.3l-0.0 -2.0M5.3 19.5l-2.6 -3.9M20.1 13.1l-1.6 -5.4M62.7 0.8l-1.3 -2.8M46.0 9.2l1.3 -3.0M29.7 3.3l-2.7 -3.0M89.7 21.3l0.6 -3.8M12.0 19.5l3.3 -3.1M0.7 19.2l-2.4 -4.4M6.5 17.0l0.6 -5.3M83.1 21.6l0.2 -2.7M63.6 13.8l0.0 -3.2M91.2 12.4l-0.4 -3.6M37.1 6.9l3.4 -3.5M74.9 17.3l0.2 -3.5M71.8 8.6l-3.3 -3.5M51.5 6.2l1.9 -2.6M40.8 12.5l-0.5 -4.1M39.6 3.8l3.7 -4.4" stroke="#a9b45c" stroke-width="0.3" fill="none" stroke-linecap="round"/><path d="M63.9 0.8l-1.4 -2.7M73.6 21.7l-3.7 -4.2M42.2 1.0l0.0 -2.9M2.7 6.4l0.4 -4.6M22.0 18.9l-4.0 -3.4M80.6 22.3l-1.9 -2.8M95.7 10.8l-1.5 -1.8M84.7 19.3l2.0 -4.8M37.9 17.7l1.1 -5.2M86.2 18.5l-3.4 -3.4M22.8 9.3l-1.0 -2.1M10.1 8.9l-1.1 -4.4M37.0 6.7l2.1 -2.2M64.8 19.5l1.0 -2.5M16.3 12.1l1.4 -5.8M84.3 24.8l-2.1 -2.0M31.5 8.6l2.0 -2.0M87.6 10.1l-0.8 -4.5M91.5 14.7l-1.3 -2.8M56.1 8.4l2.8 -3.3M39.9 7.0l0.1 -6.0M9.1 1.5l0.5 -2.4M79.2 13.5l-0.5 -2.2M99.6 16.9l3.5 -4.8M1.1 23.1l0.3 -4.7M26.7 20.5l-0.3 -2.4M87.6 8.4l-2.1 -3.4M91.3 27.9l0.8 -3.1M60.9 4.9l0.3 -5.0M77.9 17.0l-0.6 -1.9M1.9 29.7l3.0 -4.6M30.8 1.9l3.9 -3.9M8.6 15.6l1.0 -2.0M76.6 4.1l0.3 -3.9M42.3 6.8l1.6 -3.8M20.1 10.0l1.5 -5.8M43.8 16.6l-1.1 -2.2M33.8 18.8l-1.4 -2.6M7.1 20.2l1.9 -2.2M86.0 2.3l0.9 -2.8M21.4 4.2l0.7 -5.7M80.7 6.1l-0.3 -2.4M42.4 14.9l1.5 -4.7M98.4 3.1l-1.0 -3.5M86.2 8.0l-0.2 -2.7M42.2 8.9l2.0 -2.2M55.0 1.6l3.3 -5.0M96.9 29.6l-3.0 -4.5M48.6 6.8l-2.5 -2.6M45.5 13.5l4.4 -3.8M15.5 9.5l0.8 -5.8M5.7 18.7l2.3 -3.3M8.0 5.9l1.3 -4.2M23.5 3.8l-2.4 -5.0M20.4 22.9l-0.5 -2.9M67.2 9.6l1.4 -3.0M7.3 14.7l4.6 -3.9M7.3 6.8l2.1 -2.2M88.1 28.1l-2.0 -2.9M83.4 22.5l3.3 -2.9M65.4 0.3l-1.8 -4.9M13.4 3.7l0.2 -2.4M27.2 19.4l-2.4 -4.2M63.4 8.4l2.6 -3.0M84.6 3.0l-1.4 -3.4M0.4 24.7l-1.8 -4.2M74.1 17.7l-2.8 -2.4M7.5 28.3l0.4 -5.6M83.5 18.6l-1.6 -2.1M79.6 27.5l-2.7 -4.9M25.0 3.3l3.2 -4.0M81.1 28.2l0.8 -1.9M80.2 27.7l-2.1 -4.8M78.7 3.5l3.2 -4.4M46.0 9.8l-2.4 -4.6M2.4 6.2l2.0 -2.7M96.7 8.9l-0.8 -4.5M98.1 17.2l-3.6 -4.5M97.0 5.7l-2.3 -5.4M10.8 13.9l-1.6 -4.7M60.6 16.4l0.5 -3.5M25.5 22.7l1.4 -1.5M74.2 21.5l-2.4 -2.5M66.4 10.6l1.9 -2.7M72.0 9.6l-0.5 -3.2M40.2 9.5l-0.3 -2.5M94.0 21.7l1.1 -5.5M30.1 17.5l-0.7 -1.9M65.5 14.9l-1.8 -3.3M79.6 5.4l0.1 -2.3M63.3 10.7l2.2 -4.8M67.3 7.2l-2.1 -1.9M24.5 15.2l-3.7 -4.0M19.4 22.3l-1.7 -3.6M65.6 0.2l2.3 -4.5M10.7 13.6l1.9 -1.9M51.8 1.6l1.7 -2.5M89.1 19.6l0.0 -4.9M83.1 17.5l2.3 -5.1M47.5 8.3l0.7 -2.9M76.6 16.7l-1.7 -4.2M7.7 9.1l-1.0 -2.9M54.0 4.4l1.0 -2.8M70.6 2.1l0.3 -3.6M41.6 6.6l2.4 -2.8M85.7 24.5l-2.7 -2.3M22.1 7.0l-2.7 -2.5M40.4 5.3l-2.3 -3.1M62.2 0.9l0.4 -3.6M2.7 20.6l-0.2 -2.5M5.0 12.1l-0.8 -2.7M76.1 12.1l2.7 -4.2M25.2 2.6l0.1 -2.1M100.0 11.2l2.2 -4.1M95.0 6.4l-1.2 -1.7M12.6 21.4l-2.0 -3.8M69.9 24.5l0.5 -2.6M74.8 3.7l3.8 -3.6M10.8 0.8l1.0 -3.1M95.8 12.7l-3.3 -3.6M69.1 20.1l1.1 -2.1M85.0 19.2l1.9 -1.6M78.3 11.1l-0.8 -3.6M50.6 10.9l2.9 -4.6M70.7 13.9l3.6 -3.4M53.8 15.5l1.5 -3.4M83.1 2.8l-2.4 -5.0M37.9 0.9l-2.8 -4.6M21.2 25.5l2.1 -2.6M70.1 8.8l1.4 -1.4M8.6 23.0l1.7 -3.6M69.1 20.7l1.9 -3.5M9.3 7.1l-1.6 -4.5M58.2 15.1l-0.5 -4.1M74.6 10.6l-1.9 -4.4M25.1 3.9l-1.7 -2.2M18.5 6.9l1.5 -3.6M97.7 16.8l-2.0 -2.4M19.4 7.3l-2.0 -1.8M53.4 8.8l0.5 -5.9M69.7 4.0l-0.1 -5.5M87.3 18.4l-0.4 -3.9M18.4 1.6l-0.2 -5.8M82.2 12.8l0.5 -2.2M5.4 4.8l-1.4 -4.0M99.4 3.8l0.9 -5.0M79.1 7.2l-0.4 -4.1M99.0 9.8l0.9 -4.4M20.8 6.8l-2.6 -3.8M17.4 2.4l-0.2 -2.0M59.4 9.3l1.0 -2.7M70.3 14.5l3.2 -3.5M78.8 20.0l3.2 -3.4M82.7 2.3l-0.9 -2.5M74.9 18.2l-1.9 -2.5M68.9 22.4l0.0 -5.8M49.4 2.6l-0.3 -2.1M32.2 8.0l1.7 -1.6M83.6 18.4l4.4 -3.7M67.2 8.6l0.9 -1.9M91.6 5.8l1.0 -4.2M49.2 2.9l-1.0 -3.2M81.4 17.6l-1.2 -3.6M40.4 16.5l1.6 -5.7M54.3 13.2l-0.7 -2.7M75.6 20.0l-2.5 -4.4M60.9 7.7l0.2 -2.6M55.2 3.0l3.9 -4.5M46.1 3.8l-0.0 -5.3M71.7 16.3l1.7 -2.6M98.0 7.8l-0.8 -4.1M92.2 16.3l3.3 -4.4M28.3 9.6l3.3 -2.8M49.0 4.8l-1.1 -4.0M45.5 10.3l0.9 -2.6M57.2 7.5l-3.6 -3.6M74.5 22.6l-1.0 -5.1M98.1 15.9l0.0 -2.1M87.4 14.1l-0.3 -4.1M72.2 13.1l-2.6 -3.8M85.2 27.5l-1.1 -3.3M71.9 24.3l-4.0 -3.8M6.8 20.2l4.3 -3.7M74.7 13.9l0.6 -2.3M87.3 14.2l3.1 -3.6M4.6 25.5l-0.7 -3.1M14.6 17.0l2.1 -3.7M17.0 2.5l1.1 -5.4M14.3 14.8l-1.2 -2.7M0.9 25.7l1.7 -5.3M15.8 14.1l0.5 -3.3M63.9 13.6l1.7 -2.5M19.9 12.3l-1.7 -3.5M99.3 9.4l1.6 -5.7M27.4 18.1l2.0 -4.3M4.9 19.4l2.6 -3.0M60.7 11.3l1.0 -4.4M67.8 23.1l2.6 -3.9M64.6 9.9l0.5 -3.7M73.2 2.9l1.3 -2.9M17.6 4.2l3.0 -2.8M83.0 8.2l-0.2 -5.3M80.6 23.9l-2.1 -2.6M96.3 4.5l3.4 -4.7M96.7 25.7l1.7 -3.0M1.4 17.2l1.1 -3.6M67.2 18.7l3.7 -3.8M10.8 7.5l1.3 -1.6M22.1 2.0l3.5 -4.0M30.2 13.1l1.8 -1.8M30.4 15.8l1.5 -1.9M13.6 14.5l1.9 -4.3M94.6 13.4l-2.8 -4.1M41.5 3.2l-0.6 -3.9M95.2 1.0l-0.3 -3.5M95.1 27.4l0.8 -2.3M35.9 12.7l-1.7 -2.2M84.8 14.6l1.1 -4.5M59.7 0.7l-2.2 -4.6M12.6 18.1l1.0 -2.0M20.7 6.9l-1.6 -5.2M0.3 27.5l-1.6 -2.1M25.1 5.6l-3.4 -3.1M1.5 25.3l-0.9 -2.8M17.4 1.7l0.2 -5.0M74.6 15.2l0.1 -5.1M10.9 16.1l-4.1 -4.0M78.3 27.7l-0.3 -4.1M96.4 1.9l-0.7 -3.9M68.6 15.7l-3.8 -4.1M8.1 19.5l-0.9 -2.1M63.3 17.5l2.5 -2.1M53.1 14.5l-2.8 -3.4M72.1 6.9l-1.7 -3.4M33.9 14.5l-2.4 -2.8M37.4 4.9l-3.9 -4.1M83.2 3.0l1.0 -2.2M81.2 17.8l0.5 -4.3M33.0 3.9l1.0 -3.3M75.0 27.8l3.6 -3.3M60.0 11.3l-2.1 -3.8M65.7 7.2l1.4 -2.0M81.8 19.6l-3.4 -3.1M92.9 26.5l-1.6 -2.6M70.3 9.9l-2.6 -2.2M87.0 18.1l-2.1 -2.9M63.3 1.0l-2.4 -4.4M42.0 10.9l1.3 -3.2M77.7 18.2l-1.6 -1.7M15.7 19.8l-1.8 -4.3M66.2 15.5l-1.5 -3.5M75.5 3.6l-1.4 -3.5M67.8 15.6l-3.3 -3.3M0.8 9.6l-1.7 -2.3M25.6 10.5l0.8 -1.8M17.6 12.2l0.0 -4.8M83.3 25.8l1.4 -1.8M4.2 0.6l3.4 -4.6M70.9 13.4l-1.8 -1.6M92.0 2.8l-2.3 -4.8M58.9 16.8l-1.2 -3.4M34.0 10.7l0.0 -2.7M11.4 16.3l-1.5 -5.4M72.7 26.2l-2.3 -4.7M14.6 6.3l1.9 -4.0M65.6 5.7l-0.1 -5.1M75.4 24.3l2.6 -2.8M62.7 4.8l-0.2 -2.3M30.3 8.8l0.0 -2.2M31.0 14.5l1.2 -1.9M7.7 27.7l1.1 -5.3M50.7 14.8l2.1 -3.7M89.6 14.4l1.4 -5.1M32.2 15.2l-1.8 -1.9M10.4 28.8l1.2 -3.1M50.5 5.5l-0.3 -3.0M43.9 16.7l-0.6 -2.6M28.3 13.1l0.6 -3.3M78.9 20.7l-1.5 -1.7M67.8 9.1l1.3 -4.7M90.6 27.9l0.5 -3.3M14.1 11.2l2.0 -5.5M93.8 9.9l1.7 -3.1M81.3 21.4l2.2 -4.9M68.5 16.8l-0.6 -4.5M36.2 11.6l-1.3 -2.4M94.8 15.6l-1.7 -2.3M7.7 27.0l1.1 -2.1M83.5 28.3l-0.6 -2.1M76.6 4.2l-1.9 -2.9M83.1 24.7l-2.9 -4.4M43.8 13.1l-2.1 -4.2M44.4 9.1l-0.4 -5.0M53.4 9.9l-0.3 -5.2M83.5 11.8l4.3 -3.8M46.2 9.0l0.2 -3.5M96.6 26.1l-3.1 -4.2M25.0 20.5l0.5 -5.5M10.3 27.1l-2.0 -5.0M76.3 8.7l-3.2 -4.6M22.2 14.4l-2.5 -2.3M5.3 16.1l2.2 -1.9M37.5 0.9l3.2 -4.7M13.8 9.2l1.8 -5.0M13.9 22.6l-2.9 -2.5M7.9 8.2l0.5 -5.3M72.7 16.9l-0.9 -2.3M30.1 1.5l1.8 -3.2M45.7 3.5l0.9 -5.5M1.6 16.5l-1.7 -2.4M24.1 13.3l-3.1 -3.5M97.5 2.2l0.1 -4.1M98.8 17.7l-0.2 -3.6M25.4 0.5l-1.4 -5.0M73.3 20.1l2.0 -4.7M33.3 1.4l2.2 -3.6M17.5 24.9l1.3 -3.6M6.3 24.8l-1.4 -3.6M4.4 6.4l1.5 -1.6M54.3 8.1l-2.6 -4.3M86.6 10.6l-0.6 -2.4M88.9 23.8l-1.1 -5.5M97.4 15.9l2.7 -2.9M72.7 2.5l2.4 -3.7M54.5 10.3l0.6 -2.2M30.6 19.3l1.2 -3.5M35.2 1.4l-1.4 -5.3M99.8 8.8l4.2 -4.2M7.5 20.4l1.7 -3.0M14.3 19.4l-3.7 -3.5M6.7 24.9l-0.7 -3.4M57.4 16.9l0.9 -3.5M25.0 3.6l-0.0 -4.9M26.2 8.3l2.9 -2.5M49.1 3.9l-0.5 -5.4M89.9 14.2l0.7 -2.2M84.6 10.2l-2.3 -2.5M85.1 22.8l1.4 -5.5M79.4 16.3l-1.2 -2.2M13.9 25.3l0.2 -2.1M8.6 9.9l2.2 -5.6M82.3 2.4l1.4 -5.7M78.0 20.5l2.0 -1.9M5.5 4.0l-1.4 -2.2M89.5 27.1l0.7 -2.9M55.1 4.0l0.2 -3.2M50.3 5.4l-3.3 -4.7M2.8 1.5l0.6 -4.5M68.5 9.5l-1.6 -1.6M44.0 15.5l0.5 -2.8M31.3 23.0l2.9 -4.0M97.5 4.2l0.4 -3.5M31.9 14.9l-1.3 -2.8M9.7 9.3l0.7 -3.5M16.0 10.5l-1.4 -4.1M76.3 15.9l-0.0 -4.1M30.9 0.7l0.1 -5.8M96.7 6.9l-2.4 -2.4M65.4 15.1l2.4 -3.4M72.8 24.4l-0.6 -3.4M57.0 6.2l-2.9 -3.1M68.0 3.8l-1.1 -5.8M79.5 10.9l2.5 -5.2M19.9 16.3l-2.9 -2.8M13.7 10.7l-0.3 -3.9M60.6 16.5l0.6 -3.2M73.9 9.6l1.8 -2.8M98.0 18.7l2.0 -4.8M68.8 0.9l2.8 -2.7M78.3 24.8l1.6 -4.0M58.4 5.5l0.9 -4.4M84.1 4.7l-3.4 -3.2M94.8 3.5l-0.7 -2.0M15.1 22.1l1.7 -3.2M92.1 27.9l-3.4 -3.6M13.8 6.6l0.9 -3.2M52.5 10.0l1.8 -2.0M34.2 11.3l1.9 -4.7M61.0 6.2l0.3 -3.0M29.8 9.2l1.0 -2.6" stroke="#55642a" stroke-width="0.3" fill="none" stroke-linecap="round"/><path d="M3.9 36.1l-0.3 -2.7M1.9 29.2l3.2 -2.1M37.6 20.5l-0.1 -4.6M77.2 33.5l0.9 -4.4M37.7 19.3l2.2 -0.8M83.9 25.7l0.4 -6.4M10.3 40.2l4.6 -1.7M89.9 26.6l2.5 -3.9M16.7 40.1l-5.6 -1.8M18.6 33.7l1.0 -6.8M11.3 30.9l5.6 -1.7M96.7 33.6l-2.1 -1.2M8.6 35.3l2.1 -1.8M10.9 31.9l-4.1 -1.2M0.3 41.5l-6.0 -3.4M33.8 36.6l4.2 -1.5M85.7 28.0l-5.0 -2.3M32.7 27.0l-2.3 -1.8M82.7 36.4l3.1 -6.1M18.8 23.6l3.8 -0.8M22.5 29.9l-2.2 -0.6M13.0 37.9l-2.7 -0.5M37.6 26.5l-2.8 -1.7M20.0 19.1l1.8 -2.8M27.3 34.8l1.3 -2.0M14.2 23.8l-0.4 -5.6M91.2 37.6l3.9 -2.7M10.8 40.9l5.0 -2.3M98.5 33.9l0.3 -5.6M25.6 30.6l-2.3 -3.6M34.2 29.5l-2.8 -1.8M80.4 27.3l2.7 -2.7M31.0 38.7l-0.3 -3.2M24.0 33.4l-4.4 -1.4M18.2 41.0l-4.3 -4.1M18.6 24.6l5.2 -3.7M83.3 26.0l-3.7 -4.5M15.4 36.0l-1.3 -3.7M10.7 35.6l3.4 -2.8M28.7 35.3l1.6 -2.6M35.9 20.1l-3.5 -1.1M18.5 34.3l2.5 -1.7M11.1 25.9l2.0 -1.2M27.8 33.8l2.0 -5.6M32.1 38.8l1.4 -3.8M85.0 35.3l1.1 -4.2M20.4 29.4l-0.3 -6.2M1.7 39.2l-2.7 -0.7M11.2 29.5l-3.7 -2.1M31.3 20.7l-2.4 -0.5M11.4 29.2l-4.0 -3.6M92.4 39.1l-2.7 -6.4M88.5 26.3l-0.7 -3.3M2.3 36.8l0.8 -2.3M5.9 29.1l3.1 -1.1M29.8 27.3l-3.1 -1.8M27.1 26.1l2.8 -2.6M21.6 21.2l0.7 -3.6M28.2 20.9l3.6 -1.1M89.6 29.6l-3.3 -2.6M25.8 34.3l-1.2 -2.2M28.9 38.7l0.2 -5.1M83.1 38.7l-1.1 -3.8M19.0 27.1l-2.5 -4.5M92.0 33.1l1.2 -3.1M6.1 36.5l2.6 -0.5M25.6 35.0l1.6 -1.4M26.6 22.5l0.0 -4.2M4.6 22.3l0.5 -3.9M82.2 27.3l-2.4 -6.5M8.1 42.1l3.3 -3.7M15.4 30.6l-2.0 -2.8M39.5 34.3l2.3 -3.6M98.9 33.3l5.7 -1.8M97.1 27.1l3.2 -5.3M1.9 39.3l5.8 -2.9M33.7 36.9l-0.9 -6.1M92.1 31.6l-0.6 -3.1M32.8 34.4l-0.1 -3.6M8.4 26.3l-0.1 -2.6M32.8 27.8l2.1 -0.4M5.8 30.3l-4.1 -4.6M13.2 19.5l3.7 -4.1M74.6 34.2l2.9 -5.5M86.6 27.2l3.7 -1.2M80.8 27.2l0.8 -4.0M8.8 39.9l-4.8 -1.5M9.4 25.6l3.1 -2.8M80.1 37.2l0.2 -5.7M8.7 27.1l-5.6 -1.4M32.6 26.4l-3.5 -2.7M13.9 41.4l2.7 -1.6M38.3 32.3l-1.9 -4.7M38.5 26.8l6.1 -2.2M35.9 21.4l-0.5 -4.7M1.4 32.7l0.8 -5.4M0.2 32.8l3.2 -5.7M21.6 29.9l-5.6 -3.8M9.1 24.3l-3.0 -1.4M9.4 39.5l1.6 -3.1M7.2 21.2l3.2 -5.2M96.1 36.0l0.7 -3.0M89.4 26.8l4.9 -1.3M19.6 24.9l-2.1 -3.0M21.3 28.3l2.1 -3.3M11.8 33.8l-0.5 -2.2M19.6 39.5l3.2 -2.4M38.9 22.6l2.4 -2.0M11.6 37.8l-2.2 -0.5M73.4 36.9l-2.1 -5.5M23.0 21.2l-1.2 -2.0M83.4 34.9l-4.0 -5.5M97.2 38.2l-1.3 -1.8M11.5 26.6l4.8 -1.3M85.8 26.2l0.0 -4.9M1.9 25.3l0.1 -4.5M29.8 21.5l-1.3 -2.9M1.0 21.4l0.0 -4.2M74.6 37.5l1.5 -3.6M29.4 31.3l3.7 -4.9M2.0 36.8l4.3 -2.2M34.5 32.4l0.1 -3.1M76.3 26.2l0.6 -2.3M15.6 27.0l2.7 -0.8M14.2 27.5l3.0 -3.5M38.0 18.2l3.6 -3.3M86.1 34.1l4.7 -3.7M2.7 32.2l-1.6 -2.3M18.2 31.5l-3.3 -1.5M80.8 32.2l-3.5 -1.7M83.6 25.2l-4.7 -5.0M27.6 34.4l5.1 -2.0M29.8 20.8l-2.4 -5.6M11.0 25.8l-3.6 -1.0M98.9 39.9l-0.7 -4.8M3.4 32.2l2.8 -2.4M15.7 25.5l5.7 -1.2M2.9 23.1l0.5 -2.6M83.9 26.7l-6.0 -1.3M8.9 23.6l1.8 -5.9M6.1 36.2l-1.0 -6.3M19.2 25.3l-3.9 -4.8M20.4 29.4l-2.6 -3.8M8.1 20.2l-3.3 -5.3M34.6 37.9l-0.8 -5.4M25.1 29.9l1.9 -5.9M26.8 26.6l5.1 -2.4M31.0 29.2l0.5 -3.1M92.6 31.3l1.8 -1.7M5.0 20.7l2.8 -4.5M80.2 24.8l-0.8 -5.6M1.9 37.0l-1.9 -5.0M21.6 38.5l1.3 -3.7M7.7 31.1l-4.6 -1.0M0.3 43.4l-3.2 -1.7M9.8 29.5l5.0 -3.9M89.1 27.5l2.7 -3.6M8.1 35.6l2.0 -5.5M35.6 23.9l-1.9 -0.7M8.2 24.9l4.3 -4.7M14.1 25.4l-2.6 -2.7M33.1 28.0l5.6 -1.7M20.0 35.7l2.9 -0.7M84.8 35.3l-2.6 -5.1M5.1 34.9l1.9 -0.9M98.0 38.8l-2.7 -1.3M30.9 33.9l-3.1 -2.1M31.9 30.4l5.3 -2.2M2.0 29.8l0.6 -4.4M31.8 38.6l3.3 -1.8M94.8 36.8l1.9 -1.6M73.6 37.7l-2.2 -3.1M1.1 41.6l2.6 -2.8M18.1 38.0l0.6 -3.4M25.5 28.1l-4.2 -3.1M30.8 28.1l-1.2 -3.8M24.5 21.2l-0.0 -5.7M2.3 43.1l0.1 -3.7M39.8 23.6l6.3 -2.3M39.0 37.6l-0.5 -5.0M8.5 40.5l-2.6 -4.6M74.0 33.0l-2.0 -1.3M6.3 35.4l2.5 -2.2M94.0 31.6l-2.2 -3.2M37.8 33.3l-2.6 -2.5M7.6 35.3l-4.3 -3.6M28.6 37.6l-1.7 -1.5M31.9 25.7l-2.1 -5.9M75.8 32.6l1.0 -4.4M14.0 35.9l-1.5 -1.8M27.6 28.3l-1.8 -5.1M81.0 33.3l0.2 -5.8M35.5 38.6l-5.0 -4.1M4.7 42.2l0.9 -4.4M89.1 31.8l-5.5 -3.2M9.8 38.3l-2.0 -2.1M73.5 29.4l2.3 -2.9M12.0 33.6l-2.2 -3.5M1.5 23.6l2.2 -3.6M25.0 28.3l-1.6 -4.4M96.9 30.3l-0.6 -2.3M10.5 25.4l-0.9 -4.8M94.8 28.3l3.3 -1.7M19.3 25.8l4.0 -3.1M16.0 34.4l-1.7 -1.3M82.7 26.7l-4.4 -5.0M86.1 25.5l-1.9 -5.2M30.0 32.7l-5.0 -3.1M27.4 29.8l-2.6 -1.9M27.2 38.7l0.4 -3.0M98.8 30.5l5.9 -2.1M39.7 28.8l0.4 -5.8M39.8 34.5l3.6 -3.1M87.2 25.2l-5.2 -3.7M14.6 26.3l3.7 -2.3M35.8 27.9l-2.4 -5.5M11.5 25.5l2.7 -1.2M21.7 40.5l2.0 -1.7M27.8 39.1l-0.2 -4.3M11.9 34.6l-0.7 -6.8M9.0 35.3l3.7 -1.5M30.1 19.8l4.4 -5.3M90.4 26.8l5.7 -4.1M84.7 38.6l-4.5 -2.6M33.0 38.5l2.2 -2.5M16.7 30.0l1.2 -6.6M34.4 31.7l-1.2 -1.9M38.6 18.4l3.5 -2.0M83.2 36.1l-0.9 -6.3M85.6 33.4l3.5 -1.5M1.8 39.2l2.0 -5.0M14.3 26.7l-1.8 -6.3M91.2 27.2l2.4 -4.5M18.0 39.8l-2.2 -1.6M20.1 28.2l-2.1 -0.4M21.6 24.5l-2.8 -0.9M83.8 35.3l-0.6 -3.1M15.3 40.5l0.0 -6.9M19.1 24.0l4.1 -2.1M16.4 33.4l-3.0 -3.1M84.9 32.3l2.8 -2.3M22.1 28.4l-1.6 -6.2M31.9 28.1l-4.0 -4.0M13.8 41.3l-2.6 -1.9M24.8 24.1l3.5 -2.9M33.0 37.3l-0.3 -6.1M16.4 42.2l1.7 -2.9M17.1 35.4l-1.4 -3.2M1.1 43.2l-5.6 -2.2M35.9 24.1l-2.2 -1.8M98.8 37.4l-5.5 -3.8M38.7 22.4l-1.5 -4.2M16.3 33.3l-1.1 -2.2M17.7 32.5l5.2 -4.0M7.9 38.3l2.3 -4.3M75.0 35.4l-4.8 -4.5M26.7 34.8l1.2 -4.7M29.7 20.0l3.0 -1.1M8.2 33.0l-1.3 -4.9M7.3 24.3l-2.7 -1.9" stroke="#6b4a2a" stroke-width="0.3" fill="none" stroke-linecap="round"/><g filter="url(#pb1)"><path d="M38.9 80.8a2.0 1.6 0 1 0 4.0 0a2.0 1.6 0 1 0 -4.0 0M17.0 67.5a0.6 0.5 0 1 0 1.3 0a0.6 0.5 0 1 0 -1.3 0M10.8 58.4a0.9 0.7 0 1 0 1.7 0a0.9 0.7 0 1 0 -1.7 0M49.7 99.6a1.7 1.4 0 1 0 3.4 0a1.7 1.4 0 1 0 -3.4 0M36.1 75.0a1.7 1.4 0 1 0 3.4 0a1.7 1.4 0 1 0 -3.4 0M83.4 83.9a0.8 0.6 0 1 0 1.6 0a0.8 0.6 0 1 0 -1.6 0M4.9 62.0a2.1 1.7 0 1 0 4.3 0a2.1 1.7 0 1 0 -4.3 0M8.6 84.3a2.2 1.7 0 1 0 4.3 0a2.2 1.7 0 1 0 -4.3 0M2.1 74.2a1.4 1.1 0 1 0 2.7 0a1.4 1.1 0 1 0 -2.7 0M90.7 65.9a1.0 0.8 0 1 0 2.0 0a1.0 0.8 0 1 0 -2.0 0M66.1 92.3a1.3 1.0 0 1 0 2.6 0a1.3 1.0 0 1 0 -2.6 0M2.0 88.0a1.8 1.4 0 1 0 3.6 0a1.8 1.4 0 1 0 -3.6 0M63.4 71.8a1.9 1.5 0 1 0 3.9 0a1.9 1.5 0 1 0 -3.9 0M61.6 82.8a1.5 1.2 0 1 0 2.9 0a1.5 1.2 0 1 0 -2.9 0M21.5 77.1a1.9 1.5 0 1 0 3.7 0a1.9 1.5 0 1 0 -3.7 0M66.5 72.5a1.9 1.5 0 1 0 3.8 0a1.9 1.5 0 1 0 -3.8 0M15.1 67.4a0.6 0.5 0 1 0 1.2 0a0.6 0.5 0 1 0 -1.2 0M73.9 85.2a1.5 1.2 0 1 0 2.9 0a1.5 1.2 0 1 0 -2.9 0M98.5 73.0a0.9 0.7 0 1 0 1.8 0a0.9 0.7 0 1 0 -1.8 0M9.2 72.3a1.9 1.6 0 1 0 3.9 0a1.9 1.6 0 1 0 -3.9 0M16.0 85.0a1.9 1.5 0 1 0 3.9 0a1.9 1.5 0 1 0 -3.9 0M63.9 69.4a0.6 0.5 0 1 0 1.2 0a0.6 0.5 0 1 0 -1.2 0M25.8 86.9a1.6 1.3 0 1 0 3.2 0a1.6 1.3 0 1 0 -3.2 0M17.3 93.3a1.9 1.5 0 1 0 3.9 0a1.9 1.5 0 1 0 -3.9 0M26.9 98.4a1.0 0.8 0 1 0 2.0 0a1.0 0.8 0 1 0 -2.0 0M4.5 79.5a2.0 1.6 0 1 0 4.0 0a2.0 1.6 0 1 0 -4.0 0M58.6 80.9a1.4 1.1 0 1 0 2.8 0a1.4 1.1 0 1 0 -2.8 0M27.2 70.6a1.2 1.0 0 1 0 2.5 0a1.2 1.0 0 1 0 -2.5 0M54.0 97.6a0.7 0.6 0 1 0 1.4 0a0.7 0.6 0 1 0 -1.4 0M23.6 97.6a1.7 1.3 0 1 0 3.3 0a1.7 1.3 0 1 0 -3.3 0M5.8 76.5a1.6 1.3 0 1 0 3.3 0a1.6 1.3 0 1 0 -3.3 0M89.2 90.4a1.0 0.8 0 1 0 2.1 0a1.0 0.8 0 1 0 -2.1 0M52.4 92.7a1.0 0.8 0 1 0 2.0 0a1.0 0.8 0 1 0 -2.0 0M69.4 81.5a0.7 0.6 0 1 0 1.4 0a0.7 0.6 0 1 0 -1.4 0M26.3 75.3a0.8 0.7 0 1 0 1.6 0a0.8 0.7 0 1 0 -1.6 0M93.4 68.5a1.0 0.8 0 1 0 1.9 0a1.0 0.8 0 1 0 -1.9 0M58.6 80.2a1.1 0.9 0 1 0 2.2 0a1.1 0.9 0 1 0 -2.2 0M30.5 78.9a2.1 1.6 0 1 0 4.1 0a2.1 1.6 0 1 0 -4.1 0M5.8 96.3a2.1 1.7 0 1 0 4.2 0a2.1 1.7 0 1 0 -4.2 0M67.1 91.7a1.2 1.0 0 1 0 2.4 0a1.2 1.0 0 1 0 -2.4 0M94.6 89.2a1.7 1.4 0 1 0 3.4 0a1.7 1.4 0 1 0 -3.4 0M68.5 88.9a0.6 0.5 0 1 0 1.2 0a0.6 0.5 0 1 0 -1.2 0M30.2 80.5a0.9 0.8 0 1 0 1.9 0a0.9 0.8 0 1 0 -1.9 0M12.3 65.9a0.6 0.5 0 1 0 1.3 0a0.6 0.5 0 1 0 -1.3 0M10.7 74.4a1.4 1.1 0 1 0 2.8 0a1.4 1.1 0 1 0 -2.8 0M63.0 70.9a0.8 0.6 0 1 0 1.6 0a0.8 0.6 0 1 0 -1.6 0M90.3 84.5a1.7 1.3 0 1 0 3.4 0a1.7 1.3 0 1 0 -3.4 0M67.4 71.5a1.5 1.2 0 1 0 3.1 0a1.5 1.2 0 1 0 -3.1 0M30.0 85.4a1.9 1.5 0 1 0 3.8 0a1.9 1.5 0 1 0 -3.8 0M0.8 91.4a0.8 0.6 0 1 0 1.6 0a0.8 0.6 0 1 0 -1.6 0M0.1 61.2a1.5 1.2 0 1 0 3.0 0a1.5 1.2 0 1 0 -3.0 0M84.9 96.9a0.9 0.7 0 1 0 1.7 0a0.9 0.7 0 1 0 -1.7 0M40.9 97.6a2.0 1.6 0 1 0 4.0 0a2.0 1.6 0 1 0 -4.0 0M81.6 68.4a1.0 0.8 0 1 0 2.1 0a1.0 0.8 0 1 0 -2.1 0M13.7 69.1a1.2 1.0 0 1 0 2.5 0a1.2 1.0 0 1 0 -2.5 0M78.8 85.7a0.9 0.7 0 1 0 1.8 0a0.9 0.7 0 1 0 -1.8 0M15.8 76.9a2.0 1.6 0 1 0 4.0 0a2.0 1.6 0 1 0 -4.0 0M45.5 91.1a1.7 1.4 0 1 0 3.4 0a1.7 1.4 0 1 0 -3.4 0M86.6 78.8a1.2 1.0 0 1 0 2.4 0a1.2 1.0 0 1 0 -2.4 0M44.7 91.7a1.0 0.8 0 1 0 2.1 0a1.0 0.8 0 1 0 -2.1 0M18.0 93.1a1.4 1.1 0 1 0 2.7 0a1.4 1.1 0 1 0 -2.7 0M2.9 67.5a1.3 1.0 0 1 0 2.6 0a1.3 1.0 0 1 0 -2.6 0M1.2 69.5a2.1 1.7 0 1 0 4.2 0a2.1 1.7 0 1 0 -4.2 0M79.4 70.7a0.9 0.7 0 1 0 1.8 0a0.9 0.7 0 1 0 -1.8 0M62.7 85.9a1.1 0.9 0 1 0 2.2 0a1.1 0.9 0 1 0 -2.2 0M69.9 94.8a1.1 0.9 0 1 0 2.3 0a1.1 0.9 0 1 0 -2.3 0M64.1 89.8a1.1 0.9 0 1 0 2.3 0a1.1 0.9 0 1 0 -2.3 0M65.9 97.6a0.9 0.7 0 1 0 1.7 0a0.9 0.7 0 1 0 -1.7 0M77.6 78.0a2.1 1.7 0 1 0 4.2 0a2.1 1.7 0 1 0 -4.2 0M6.4 74.1a0.9 0.7 0 1 0 1.7 0a0.9 0.7 0 1 0 -1.7 0M24.5 95.4a1.4 1.2 0 1 0 2.9 0a1.4 1.2 0 1 0 -2.9 0M35.1 98.4a0.7 0.5 0 1 0 1.4 0a0.7 0.5 0 1 0 -1.4 0M0.3 90.3a1.5 1.2 0 1 0 3.0 0a1.5 1.2 0 1 0 -3.0 0M81.2 78.8a2.1 1.7 0 1 0 4.2 0a2.1 1.7 0 1 0 -4.2 0M87.7 80.4a0.6 0.5 0 1 0 1.3 0a0.6 0.5 0 1 0 -1.3 0M-0.7 58.7a1.8 1.4 0 1 0 3.5 0a1.8 1.4 0 1 0 -3.5 0M78.0 90.6a1.6 1.3 0 1 0 3.2 0a1.6 1.3 0 1 0 -3.2 0M56.1 76.2a1.7 1.4 0 1 0 3.4 0a1.7 1.4 0 1 0 -3.4 0M37.3 96.9a1.5 1.2 0 1 0 3.1 0a1.5 1.2 0 1 0 -3.1 0M65.1 96.9a2.2 1.7 0 1 0 4.3 0a2.2 1.7 0 1 0 -4.3 0M51.6 96.6a0.9 0.7 0 1 0 1.9 0a0.9 0.7 0 1 0 -1.9 0M24.6 69.6a1.0 0.8 0 1 0 1.9 0a1.0 0.8 0 1 0 -1.9 0M80.5 80.5a0.7 0.6 0 1 0 1.5 0a0.7 0.6 0 1 0 -1.5 0M50.5 87.2a0.6 0.5 0 1 0 1.3 0a0.6 0.5 0 1 0 -1.3 0M17.9 58.6a1.7 1.4 0 1 0 3.4 0a1.7 1.4 0 1 0 -3.4 0M23.2 66.1a1.5 1.2 0 1 0 3.0 0a1.5 1.2 0 1 0 -3.0 0M31.2 84.6a1.5 1.2 0 1 0 2.9 0a1.5 1.2 0 1 0 -2.9 0M2.5 90.0a1.7 1.4 0 1 0 3.5 0a1.7 1.4 0 1 0 -3.5 0M64.7 98.4a1.1 0.9 0 1 0 2.2 0a1.1 0.9 0 1 0 -2.2 0M71.6 70.1a1.6 1.2 0 1 0 3.1 0a1.6 1.2 0 1 0 -3.1 0M89.1 77.1a1.6 1.3 0 1 0 3.2 0a1.6 1.3 0 1 0 -3.2 0M97.8 78.6a1.0 0.8 0 1 0 2.0 0a1.0 0.8 0 1 0 -2.0 0M94.3 86.3a1.1 0.9 0 1 0 2.2 0a1.1 0.9 0 1 0 -2.2 0M7.1 99.1a1.5 1.2 0 1 0 3.0 0a1.5 1.2 0 1 0 -3.0 0M75.9 68.1a1.9 1.6 0 1 0 3.9 0a1.9 1.6 0 1 0 -3.9 0M69.3 94.7a1.4 1.1 0 1 0 2.8 0a1.4 1.1 0 1 0 -2.8 0M90.9 81.9a0.8 0.7 0 1 0 1.7 0a0.8 0.7 0 1 0 -1.7 0M88.8 70.7a2.1 1.7 0 1 0 4.2 0a2.1 1.7 0 1 0 -4.2 0M7.1 59.9a0.7 0.6 0 1 0 1.5 0a0.7 0.6 0 1 0 -1.5 0M89.7 72.6a0.6 0.5 0 1 0 1.3 0a0.6 0.5 0 1 0 -1.3 0M38.5 84.7a1.6 1.3 0 1 0 3.2 0a1.6 1.3 0 1 0 -3.2 0M89.3 72.7a2.1 1.7 0 1 0 4.3 0a2.1 1.7 0 1 0 -4.3 0M-0.2 64.7a1.4 1.1 0 1 0 2.8 0a1.4 1.1 0 1 0 -2.8 0M62.8 75.5a1.9 1.5 0 1 0 3.7 0a1.9 1.5 0 1 0 -3.7 0M38.0 84.9a1.0 0.8 0 1 0 2.0 0a1.0 0.8 0 1 0 -2.0 0M17.3 85.0a1.3 1.1 0 1 0 2.7 0a1.3 1.1 0 1 0 -2.7 0M97.7 98.0a1.1 0.9 0 1 0 2.2 0a1.1 0.9 0 1 0 -2.2 0M2.0 65.5a1.3 1.0 0 1 0 2.6 0a1.3 1.0 0 1 0 -2.6 0M41.7 76.2a0.7 0.6 0 1 0 1.5 0a0.7 0.6 0 1 0 -1.5 0M28.1 75.2a1.8 1.4 0 1 0 3.6 0a1.8 1.4 0 1 0 -3.6 0M10.4 84.6a1.2 1.0 0 1 0 2.4 0a1.2 1.0 0 1 0 -2.4 0M76.6 86.6a0.9 0.7 0 1 0 1.8 0a0.9 0.7 0 1 0 -1.8 0M68.6 73.5a1.9 1.5 0 1 0 3.9 0a1.9 1.5 0 1 0 -3.9 0M0.6 71.2a1.4 1.1 0 1 0 2.9 0a1.4 1.1 0 1 0 -2.9 0M27.9 74.4a1.5 1.2 0 1 0 3.0 0a1.5 1.2 0 1 0 -3.0 0M22.8 94.1a1.1 0.8 0 1 0 2.1 0a1.1 0.8 0 1 0 -2.1 0M68.3 98.3a0.8 0.6 0 1 0 1.5 0a0.8 0.6 0 1 0 -1.5 0M86.3 65.4a1.3 1.1 0 1 0 2.7 0a1.3 1.1 0 1 0 -2.7 0M10.7 97.0a1.1 0.9 0 1 0 2.2 0a1.1 0.9 0 1 0 -2.2 0M50.6 98.8a0.8 0.7 0 1 0 1.7 0a0.8 0.7 0 1 0 -1.7 0M7.1 87.2a0.7 0.5 0 1 0 1.3 0a0.7 0.5 0 1 0 -1.3 0M12.0 68.7a0.6 0.5 0 1 0 1.2 0a0.6 0.5 0 1 0 -1.2 0M92.5 79.4a0.6 0.5 0 1 0 1.3 0a0.6 0.5 0 1 0 -1.3 0M72.9 68.0a2.0 1.6 0 1 0 4.0 0a2.0 1.6 0 1 0 -4.0 0M2.4 63.1a1.2 1.0 0 1 0 2.4 0a1.2 1.0 0 1 0 -2.4 0M80.3 97.2a2.1 1.7 0 1 0 4.3 0a2.1 1.7 0 1 0 -4.3 0M18.7 73.6a2.0 1.6 0 1 0 3.9 0a2.0 1.6 0 1 0 -3.9 0M80.5 97.5a0.7 0.6 0 1 0 1.5 0a0.7 0.6 0 1 0 -1.5 0M1.9 74.9a1.9 1.6 0 1 0 3.9 0a1.9 1.6 0 1 0 -3.9 0M67.1 75.4a1.7 1.4 0 1 0 3.4 0a1.7 1.4 0 1 0 -3.4 0M43.4 93.0a1.1 0.8 0 1 0 2.1 0a1.1 0.8 0 1 0 -2.1 0M73.7 64.4a1.5 1.2 0 1 0 3.1 0a1.5 1.2 0 1 0 -3.1 0M30.3 72.2a1.0 0.8 0 1 0 2.1 0a1.0 0.8 0 1 0 -2.1 0M1.5 62.0a1.7 1.3 0 1 0 3.3 0a1.7 1.3 0 1 0 -3.3 0M65.3 85.6a1.3 1.0 0 1 0 2.6 0a1.3 1.0 0 1 0 -2.6 0M56.8 91.4a2.2 1.7 0 1 0 4.4 0a2.2 1.7 0 1 0 -4.4 0M37.2 89.4a1.9 1.5 0 1 0 3.8 0a1.9 1.5 0 1 0 -3.8 0M83.5 86.1a1.0 0.8 0 1 0 1.9 0a1.0 0.8 0 1 0 -1.9 0M79.4 81.5a1.8 1.4 0 1 0 3.6 0a1.8 1.4 0 1 0 -3.6 0M73.8 66.7a0.7 0.6 0 1 0 1.4 0a0.7 0.6 0 1 0 -1.4 0M77.4 86.0a0.6 0.5 0 1 0 1.3 0a0.6 0.5 0 1 0 -1.3 0M3.0 75.8a1.6 1.3 0 1 0 3.3 0a1.6 1.3 0 1 0 -3.3 0M11.2 87.2a1.2 0.9 0 1 0 2.3 0a1.2 0.9 0 1 0 -2.3 0M63.8 69.4a1.0 0.8 0 1 0 1.9 0a1.0 0.8 0 1 0 -1.9 0M13.2 86.8a1.6 1.3 0 1 0 3.2 0a1.6 1.3 0 1 0 -3.2 0M5.0 62.8a1.9 1.6 0 1 0 3.9 0a1.9 1.6 0 1 0 -3.9 0M23.9 97.0a2.2 1.7 0 1 0 4.3 0a2.2 1.7 0 1 0 -4.3 0M80.3 63.8a0.8 0.6 0 1 0 1.5 0a0.8 0.6 0 1 0 -1.5 0M82.2 75.5a0.7 0.5 0 1 0 1.3 0a0.7 0.5 0 1 0 -1.3 0M9.4 69.9a1.0 0.8 0 1 0 2.0 0a1.0 0.8 0 1 0 -2.0 0M3.0 88.1a0.7 0.6 0 1 0 1.4 0a0.7 0.6 0 1 0 -1.4 0M27.0 87.3a1.8 1.4 0 1 0 3.6 0a1.8 1.4 0 1 0 -3.6 0M78.2 67.9a0.9 0.7 0 1 0 1.7 0a0.9 0.7 0 1 0 -1.7 0M60.2 91.8a1.8 1.4 0 1 0 3.6 0a1.8 1.4 0 1 0 -3.6 0M72.3 75.4a1.7 1.4 0 1 0 3.5 0a1.7 1.4 0 1 0 -3.5 0M90.1 83.9a0.8 0.7 0 1 0 1.7 0a0.8 0.7 0 1 0 -1.7 0M-0.1 70.5a1.2 1.0 0 1 0 2.4 0a1.2 1.0 0 1 0 -2.4 0M95.7 88.9a1.3 1.0 0 1 0 2.6 0a1.3 1.0 0 1 0 -2.6 0M88.8 83.9a1.2 0.9 0 1 0 2.4 0a1.2 0.9 0 1 0 -2.4 0M92.3 92.3a1.3 1.0 0 1 0 2.5 0a1.3 1.0 0 1 0 -2.5 0M86.2 77.0a1.4 1.1 0 1 0 2.8 0a1.4 1.1 0 1 0 -2.8 0M86.7 75.7a1.3 1.0 0 1 0 2.6 0a1.3 1.0 0 1 0 -2.6 0M22.0 86.7a1.7 1.4 0 1 0 3.5 0a1.7 1.4 0 1 0 -3.5 0M86.5 78.6a0.8 0.6 0 1 0 1.6 0a0.8 0.6 0 1 0 -1.6 0M19.9 63.3a0.8 0.7 0 1 0 1.7 0a0.8 0.7 0 1 0 -1.7 0M49.8 89.6a1.7 1.4 0 1 0 3.4 0a1.7 1.4 0 1 0 -3.4 0M95.5 99.5a1.6 1.3 0 1 0 3.2 0a1.6 1.3 0 1 0 -3.2 0M84.3 96.3a1.4 1.1 0 1 0 2.8 0a1.4 1.1 0 1 0 -2.8 0M82.3 81.7a1.8 1.4 0 1 0 3.6 0a1.8 1.4 0 1 0 -3.6 0M79.3 96.1a1.4 1.1 0 1 0 2.8 0a1.4 1.1 0 1 0 -2.8 0" fill="#958480"/><path d="M26.5 78.5a0.7 0.6 0 1 0 1.4 0a0.7 0.6 0 1 0 -1.4 0M0.3 69.9a0.8 0.6 0 1 0 1.5 0a0.8 0.6 0 1 0 -1.5 0M30.5 89.2a0.7 0.5 0 1 0 1.3 0a0.7 0.5 0 1 0 -1.3 0M78.6 89.0a0.9 0.7 0 1 0 1.8 0a0.9 0.7 0 1 0 -1.8 0M84.1 88.1a0.7 0.6 0 1 0 1.4 0a0.7 0.6 0 1 0 -1.4 0M38.9 87.4a1.9 1.5 0 1 0 3.8 0a1.9 1.5 0 1 0 -3.8 0M15.5 68.6a1.7 1.3 0 1 0 3.4 0a1.7 1.3 0 1 0 -3.4 0M7.9 89.5a1.0 0.8 0 1 0 2.1 0a1.0 0.8 0 1 0 -2.1 0M37.0 94.8a1.6 1.3 0 1 0 3.3 0a1.6 1.3 0 1 0 -3.3 0M64.4 94.4a1.6 1.3 0 1 0 3.2 0a1.6 1.3 0 1 0 -3.2 0M79.6 85.0a1.4 1.1 0 1 0 2.9 0a1.4 1.1 0 1 0 -2.9 0M4.1 96.2a1.9 1.5 0 1 0 3.8 0a1.9 1.5 0 1 0 -3.8 0M34.5 84.3a0.6 0.5 0 1 0 1.2 0a0.6 0.5 0 1 0 -1.2 0M49.0 84.2a1.0 0.8 0 1 0 2.0 0a1.0 0.8 0 1 0 -2.0 0M40.6 93.1a0.8 0.6 0 1 0 1.6 0a0.8 0.6 0 1 0 -1.6 0M37.0 95.1a1.5 1.2 0 1 0 2.9 0a1.5 1.2 0 1 0 -2.9 0M1.4 94.1a1.5 1.2 0 1 0 3.0 0a1.5 1.2 0 1 0 -3.0 0M93.0 62.3a1.5 1.2 0 1 0 2.9 0a1.5 1.2 0 1 0 -2.9 0M26.8 76.4a1.1 0.8 0 1 0 2.1 0a1.1 0.8 0 1 0 -2.1 0M95.8 85.1a1.3 1.1 0 1 0 2.7 0a1.3 1.1 0 1 0 -2.7 0M65.5 78.7a0.8 0.6 0 1 0 1.6 0a0.8 0.6 0 1 0 -1.6 0M0.5 98.7a1.8 1.4 0 1 0 3.6 0a1.8 1.4 0 1 0 -3.6 0M7.8 83.6a1.7 1.4 0 1 0 3.4 0a1.7 1.4 0 1 0 -3.4 0M11.8 74.5a1.4 1.2 0 1 0 2.9 0a1.4 1.2 0 1 0 -2.9 0M6.6 87.2a1.7 1.3 0 1 0 3.3 0a1.7 1.3 0 1 0 -3.3 0M43.5 93.7a1.1 0.9 0 1 0 2.3 0a1.1 0.9 0 1 0 -2.3 0M82.2 74.1a1.2 0.9 0 1 0 2.3 0a1.2 0.9 0 1 0 -2.3 0M35.9 87.8a1.8 1.5 0 1 0 3.7 0a1.8 1.5 0 1 0 -3.7 0M5.5 82.8a1.8 1.4 0 1 0 3.5 0a1.8 1.4 0 1 0 -3.5 0M68.1 67.8a1.1 0.9 0 1 0 2.2 0a1.1 0.9 0 1 0 -2.2 0M86.7 67.1a1.9 1.5 0 1 0 3.9 0a1.9 1.5 0 1 0 -3.9 0M37.6 79.9a1.6 1.3 0 1 0 3.2 0a1.6 1.3 0 1 0 -3.2 0M66.3 82.8a1.8 1.5 0 1 0 3.6 0a1.8 1.5 0 1 0 -3.6 0M62.5 96.5a1.5 1.2 0 1 0 3.0 0a1.5 1.2 0 1 0 -3.0 0M90.0 67.6a0.9 0.7 0 1 0 1.8 0a0.9 0.7 0 1 0 -1.8 0M3.8 84.1a1.1 0.9 0 1 0 2.2 0a1.1 0.9 0 1 0 -2.2 0M63.3 92.2a1.9 1.5 0 1 0 3.8 0a1.9 1.5 0 1 0 -3.8 0M79.2 93.2a1.1 0.9 0 1 0 2.3 0a1.1 0.9 0 1 0 -2.3 0M3.3 90.3a2.0 1.6 0 1 0 4.0 0a2.0 1.6 0 1 0 -4.0 0M44.9 95.8a1.4 1.1 0 1 0 2.8 0a1.4 1.1 0 1 0 -2.8 0M37.8 92.9a0.7 0.5 0 1 0 1.4 0a0.7 0.5 0 1 0 -1.4 0M35.6 87.2a0.7 0.6 0 1 0 1.4 0a0.7 0.6 0 1 0 -1.4 0M20.4 75.1a1.6 1.3 0 1 0 3.3 0a1.6 1.3 0 1 0 -3.3 0M65.3 82.8a1.7 1.3 0 1 0 3.4 0a1.7 1.3 0 1 0 -3.4 0M40.2 82.4a0.7 0.6 0 1 0 1.5 0a0.7 0.6 0 1 0 -1.5 0M64.5 86.0a1.5 1.2 0 1 0 3.0 0a1.5 1.2 0 1 0 -3.0 0M78.2 99.4a1.6 1.3 0 1 0 3.2 0a1.6 1.3 0 1 0 -3.2 0M96.5 85.5a1.0 0.8 0 1 0 2.0 0a1.0 0.8 0 1 0 -2.0 0M85.1 86.1a1.5 1.2 0 1 0 3.0 0a1.5 1.2 0 1 0 -3.0 0M13.5 81.7a1.1 0.9 0 1 0 2.2 0a1.1 0.9 0 1 0 -2.2 0M56.5 96.8a1.1 0.9 0 1 0 2.3 0a1.1 0.9 0 1 0 -2.3 0M0.6 63.1a1.4 1.1 0 1 0 2.7 0a1.4 1.1 0 1 0 -2.7 0M42.8 84.3a1.3 1.0 0 1 0 2.6 0a1.3 1.0 0 1 0 -2.6 0M25.4 94.5a1.7 1.4 0 1 0 3.5 0a1.7 1.4 0 1 0 -3.5 0M88.4 63.3a1.3 1.1 0 1 0 2.7 0a1.3 1.1 0 1 0 -2.7 0M21.7 62.1a1.9 1.5 0 1 0 3.8 0a1.9 1.5 0 1 0 -3.8 0M64.3 77.2a1.7 1.3 0 1 0 3.3 0a1.7 1.3 0 1 0 -3.3 0M84.1 77.6a0.8 0.6 0 1 0 1.5 0a0.8 0.6 0 1 0 -1.5 0M89.0 79.3a1.2 0.9 0 1 0 2.4 0a1.2 0.9 0 1 0 -2.4 0M17.6 79.8a1.8 1.5 0 1 0 3.6 0a1.8 1.5 0 1 0 -3.6 0M92.4 63.9a0.8 0.6 0 1 0 1.5 0a0.8 0.6 0 1 0 -1.5 0M97.7 80.0a1.5 1.2 0 1 0 3.0 0a1.5 1.2 0 1 0 -3.0 0M68.3 75.3a1.2 0.9 0 1 0 2.3 0a1.2 0.9 0 1 0 -2.3 0M86.5 84.2a0.6 0.5 0 1 0 1.3 0a0.6 0.5 0 1 0 -1.3 0M2.4 93.2a1.4 1.1 0 1 0 2.9 0a1.4 1.1 0 1 0 -2.9 0M73.0 79.0a1.6 1.3 0 1 0 3.2 0a1.6 1.3 0 1 0 -3.2 0M33.6 73.4a1.1 0.9 0 1 0 2.2 0a1.1 0.9 0 1 0 -2.2 0M27.5 97.8a1.8 1.5 0 1 0 3.7 0a1.8 1.5 0 1 0 -3.7 0M91.1 92.0a1.5 1.2 0 1 0 3.0 0a1.5 1.2 0 1 0 -3.0 0M95.0 89.7a1.4 1.2 0 1 0 2.9 0a1.4 1.2 0 1 0 -2.9 0M32.6 84.2a1.2 1.0 0 1 0 2.4 0a1.2 1.0 0 1 0 -2.4 0M16.7 64.8a0.7 0.6 0 1 0 1.5 0a0.7 0.6 0 1 0 -1.5 0M66.4 73.8a2.0 1.6 0 1 0 4.0 0a2.0 1.6 0 1 0 -4.0 0M90.9 70.0a0.7 0.6 0 1 0 1.5 0a0.7 0.6 0 1 0 -1.5 0M82.1 93.7a1.1 0.9 0 1 0 2.2 0a1.1 0.9 0 1 0 -2.2 0M75.0 97.4a1.2 1.0 0 1 0 2.4 0a1.2 1.0 0 1 0 -2.4 0M42.5 83.9a1.8 1.4 0 1 0 3.6 0a1.8 1.4 0 1 0 -3.6 0M69.5 99.5a0.8 0.6 0 1 0 1.6 0a0.8 0.6 0 1 0 -1.6 0M7.6 63.1a1.9 1.5 0 1 0 3.8 0a1.9 1.5 0 1 0 -3.8 0M13.7 58.9a1.3 1.1 0 1 0 2.7 0a1.3 1.1 0 1 0 -2.7 0M62.9 69.9a0.6 0.5 0 1 0 1.3 0a0.6 0.5 0 1 0 -1.3 0M3.2 86.9a0.6 0.5 0 1 0 1.2 0a0.6 0.5 0 1 0 -1.2 0M22.7 76.8a1.2 0.9 0 1 0 2.4 0a1.2 0.9 0 1 0 -2.4 0M91.9 97.2a1.3 1.0 0 1 0 2.6 0a1.3 1.0 0 1 0 -2.6 0M59.9 73.0a1.5 1.2 0 1 0 3.0 0a1.5 1.2 0 1 0 -3.0 0M3.9 65.9a1.8 1.4 0 1 0 3.5 0a1.8 1.4 0 1 0 -3.5 0M44.1 78.7a1.8 1.4 0 1 0 3.5 0a1.8 1.4 0 1 0 -3.5 0M45.5 93.9a1.1 0.9 0 1 0 2.2 0a1.1 0.9 0 1 0 -2.2 0M94.1 66.2a1.2 0.9 0 1 0 2.3 0a1.2 0.9 0 1 0 -2.3 0M18.1 69.9a0.9 0.7 0 1 0 1.8 0a0.9 0.7 0 1 0 -1.8 0M63.4 89.5a1.8 1.5 0 1 0 3.7 0a1.8 1.5 0 1 0 -3.7 0M12.3 99.8a1.6 1.2 0 1 0 3.1 0a1.6 1.2 0 1 0 -3.1 0M25.5 86.3a1.5 1.2 0 1 0 2.9 0a1.5 1.2 0 1 0 -2.9 0M6.8 67.1a1.8 1.4 0 1 0 3.6 0a1.8 1.4 0 1 0 -3.6 0M36.0 85.4a1.2 1.0 0 1 0 2.5 0a1.2 1.0 0 1 0 -2.5 0M22.6 76.1a0.9 0.7 0 1 0 1.8 0a0.9 0.7 0 1 0 -1.8 0M12.0 91.4a1.0 0.8 0 1 0 2.1 0a1.0 0.8 0 1 0 -2.1 0M66.6 96.9a1.9 1.5 0 1 0 3.8 0a1.9 1.5 0 1 0 -3.8 0M82.2 78.9a1.3 1.1 0 1 0 2.6 0a1.3 1.1 0 1 0 -2.6 0M0.5 86.4a1.3 1.0 0 1 0 2.6 0a1.3 1.0 0 1 0 -2.6 0M32.5 93.9a1.7 1.3 0 1 0 3.3 0a1.7 1.3 0 1 0 -3.3 0M77.3 72.3a1.3 1.1 0 1 0 2.6 0a1.3 1.1 0 1 0 -2.6 0M76.5 96.1a1.3 1.0 0 1 0 2.6 0a1.3 1.0 0 1 0 -2.6 0M70.8 81.7a0.9 0.7 0 1 0 1.8 0a0.9 0.7 0 1 0 -1.8 0M86.4 80.7a0.8 0.7 0 1 0 1.7 0a0.8 0.7 0 1 0 -1.7 0M57.2 94.1a0.8 0.7 0 1 0 1.6 0a0.8 0.7 0 1 0 -1.6 0M15.8 84.7a0.8 0.6 0 1 0 1.6 0a0.8 0.6 0 1 0 -1.6 0M75.1 83.6a1.3 1.0 0 1 0 2.5 0a1.3 1.0 0 1 0 -2.5 0M44.3 98.9a1.0 0.8 0 1 0 2.1 0a1.0 0.8 0 1 0 -2.1 0M95.3 74.0a0.6 0.5 0 1 0 1.2 0a0.6 0.5 0 1 0 -1.2 0M42.8 80.9a1.6 1.3 0 1 0 3.3 0a1.6 1.3 0 1 0 -3.3 0M62.7 95.3a0.9 0.8 0 1 0 1.9 0a0.9 0.8 0 1 0 -1.9 0M61.5 93.0a1.8 1.5 0 1 0 3.7 0a1.8 1.5 0 1 0 -3.7 0M79.3 85.7a1.2 1.0 0 1 0 2.4 0a1.2 1.0 0 1 0 -2.4 0M91.1 89.2a1.2 1.0 0 1 0 2.4 0a1.2 1.0 0 1 0 -2.4 0M92.1 95.0a2.0 1.6 0 1 0 3.9 0a2.0 1.6 0 1 0 -3.9 0M93.8 97.8a1.2 0.9 0 1 0 2.4 0a1.2 0.9 0 1 0 -2.4 0M39.6 99.0a0.6 0.5 0 1 0 1.3 0a0.6 0.5 0 1 0 -1.3 0M93.8 92.7a0.9 0.7 0 1 0 1.7 0a0.9 0.7 0 1 0 -1.7 0M61.3 74.0a1.6 1.3 0 1 0 3.3 0a1.6 1.3 0 1 0 -3.3 0M90.0 89.6a1.8 1.4 0 1 0 3.6 0a1.8 1.4 0 1 0 -3.6 0M27.1 79.0a1.3 1.0 0 1 0 2.5 0a1.3 1.0 0 1 0 -2.5 0M92.3 67.0a1.6 1.3 0 1 0 3.2 0a1.6 1.3 0 1 0 -3.2 0M66.4 72.7a1.9 1.5 0 1 0 3.8 0a1.9 1.5 0 1 0 -3.8 0M89.0 68.8a1.1 0.8 0 1 0 2.1 0a1.1 0.8 0 1 0 -2.1 0M70.0 78.6a0.7 0.6 0 1 0 1.5 0a0.7 0.6 0 1 0 -1.5 0M82.2 80.8a1.5 1.2 0 1 0 3.0 0a1.5 1.2 0 1 0 -3.0 0M23.0 86.6a1.1 0.9 0 1 0 2.1 0a1.1 0.9 0 1 0 -2.1 0M3.9 74.4a0.8 0.6 0 1 0 1.6 0a0.8 0.6 0 1 0 -1.6 0M12.2 89.8a1.4 1.1 0 1 0 2.7 0a1.4 1.1 0 1 0 -2.7 0M68.0 65.3a1.5 1.2 0 1 0 3.0 0a1.5 1.2 0 1 0 -3.0 0M16.5 77.3a1.1 0.8 0 1 0 2.1 0a1.1 0.8 0 1 0 -2.1 0M83.3 81.5a1.3 1.0 0 1 0 2.5 0a1.3 1.0 0 1 0 -2.5 0M18.1 69.5a0.6 0.5 0 1 0 1.2 0a0.6 0.5 0 1 0 -1.2 0M15.3 82.7a1.3 1.0 0 1 0 2.6 0a1.3 1.0 0 1 0 -2.6 0M48.4 80.9a1.4 1.1 0 1 0 2.8 0a1.4 1.1 0 1 0 -2.8 0M98.3 79.9a1.7 1.3 0 1 0 3.4 0a1.7 1.3 0 1 0 -3.4 0M28.9 91.8a1.3 1.1 0 1 0 2.7 0a1.3 1.1 0 1 0 -2.7 0M85.1 98.2a0.9 0.7 0 1 0 1.8 0a0.9 0.7 0 1 0 -1.8 0M87.3 84.6a1.9 1.5 0 1 0 3.7 0a1.9 1.5 0 1 0 -3.7 0M3.1 93.3a1.6 1.3 0 1 0 3.3 0a1.6 1.3 0 1 0 -3.3 0M84.4 69.9a1.1 0.8 0 1 0 2.1 0a1.1 0.8 0 1 0 -2.1 0M63.7 72.8a1.4 1.1 0 1 0 2.7 0a1.4 1.1 0 1 0 -2.7 0M81.5 73.8a2.0 1.6 0 1 0 4.0 0a2.0 1.6 0 1 0 -4.0 0M87.3 88.8a1.8 1.4 0 1 0 3.6 0a1.8 1.4 0 1 0 -3.6 0M-0.1 84.2a1.9 1.5 0 1 0 3.7 0a1.9 1.5 0 1 0 -3.7 0M33.3 83.4a0.7 0.6 0 1 0 1.5 0a0.7 0.6 0 1 0 -1.5 0M74.0 67.3a2.0 1.6 0 1 0 3.9 0a2.0 1.6 0 1 0 -3.9 0M31.7 86.1a0.7 0.6 0 1 0 1.4 0a0.7 0.6 0 1 0 -1.4 0M81.4 86.9a1.5 1.2 0 1 0 3.1 0a1.5 1.2 0 1 0 -3.1 0" fill="#b3a29c"/></g><rect width="100" height="100" filter="url(#noise)" opacity="0.3"/></svg><rect x="1142.5" y="201.6" width="282.9" height="390.8" fill="none" stroke="#111" stroke-width="1.6"/>
<g transform="translate(1040 656.5)">
<use href="#cleanblock"/>
<use href="#gutter"/>
<polygon points="769.5,154.0 739.7,250.0 716.8,330.0 523.9,300.0 542.3,230.0 568.5,123.5" fill="rgb(172,157,120)" fill-opacity="0.68" stroke="#3d3526" stroke-width="0.9" stroke-linejoin="round"/>
<use href="#dashes"/>
<path d="M448.5 242.4 C458 238.5 478 233.5 500 236.2 L561.6 250.5 L615.5 265.3 L674.7 276 Q690 280 693 300 Q698 330 699 352.8 Q698 400 690 430 L666 506 L666.0 506.0 L660.7 503.9 L655.4 501.5 L649.2 501.3 L645.9 494.9 L640.0 494.0 L635.4 490.9 L630.4 488.7 L624.9 487.7 L620.4 484.4 L615.9 481.1 L610.0 481.0 L605.5 477.6 L599.6 477.2 L596.0 471.8 L589.5 472.7 L583.9 471.6 L580.0 467.0 L574.4 466.0 L570.0 462.4 L565.9 458.0 L559.6 458.5 L555.4 454.5 L550.0 453.0 L544.4 452.1 L538.9 451.3 L536.1 443.9 L530.2 443.9 L524.9 442.4 L520.0 440.0 L514.9 437.0 L508.2 438.1 L504.3 431.9 L497.6 433.1 L492.5 430.0 L502 393.5 L512.5 352.8 L522 338 L526.6 335.3 Z" fill="#fcfbe0" stroke="#2b2416" stroke-width="0.9" stroke-linejoin="round"/>
<path d="M526.6 335.3 L669.3 301 L645 295 Q647 283 674.7 276" fill="none" stroke="#2b2416" stroke-width="0.9" stroke-linejoin="round"/>
<path d="M443 238 L455 247 M522 339 L531 331" fill="none" stroke="#2b2416" stroke-width="0.6"/>
<polygon points="545.1,96.9 548.5,94.3 560.3,111.5 564.3,118.5 558.3,114.1" fill="#fdfdf6" stroke="#2b2416" stroke-width="0.8" stroke-linejoin="round"/>
<polygon points="755.3,130.7 758.5,127.9 773.3,147.1 778.4,154.9 771.4,149.9" fill="#fdfdf6" stroke="#2b2416" stroke-width="0.8" stroke-linejoin="round"/>
</g>
<svg x="1141.1" y="987" width="283.4" height="263.5" viewBox="0 0 100 100" preserveAspectRatio="none" overflow="hidden"><rect width="100" height="100" fill="#4f4234"/><g filter="url(#pb1)"><polygon points="0.0,14.0 8.0,18.0 14.0,14.0 24.0,22.0 30.0,30.0 28.0,40.0 30.0,46.0 22.0,56.0 10.0,62.0 0.0,58.0" fill="#6f8f36" /><polygon points="0.0,60.0 10.0,68.0 22.0,70.0 34.0,68.0 46.0,72.0 50.0,84.0 62.0,90.0 80.0,88.0 100.0,90.0 100.0,100.0 0.0,100.0" fill="#6f8f36" /><polygon points="18.0,0.0 50.0,0.0 48.0,14.0 40.0,18.0 30.0,16.0 22.0,8.0" fill="#6f8f36" /><polygon points="60.0,0.0 100.0,0.0 100.0,10.0 90.0,12.0 86.0,20.0 74.0,30.0 64.0,30.0 61.0,20.0" fill="#6f8f36" /><polygon points="30.0,50.0 48.0,56.0 50.0,70.0 40.0,72.0 28.0,64.0" fill="#6b5b4a" /></g><path d="M60.6 33.8a1.2 1.0 0 1 0 2.4 0a1.2 1.0 0 1 0 -2.4 0M40.9 44.6a1.6 1.3 0 1 0 3.1 0a1.6 1.3 0 1 0 -3.1 0M29.2 36.5a1.2 1.0 0 1 0 2.5 0a1.2 1.0 0 1 0 -2.5 0M29.1 28.0a1.4 1.1 0 1 0 2.8 0a1.4 1.1 0 1 0 -2.8 0M97.8 36.6a0.7 0.6 0 1 0 1.4 0a0.7 0.6 0 1 0 -1.4 0M96.7 37.1a1.2 0.9 0 1 0 2.3 0a1.2 0.9 0 1 0 -2.3 0M68.7 53.0a1.5 1.2 0 1 0 3.0 0a1.5 1.2 0 1 0 -3.0 0M95.7 56.0a1.4 1.1 0 1 0 2.8 0a1.4 1.1 0 1 0 -2.8 0M83.4 53.4a1.0 0.8 0 1 0 1.9 0a1.0 0.8 0 1 0 -1.9 0M39.7 33.8a1.5 1.2 0 1 0 3.0 0a1.5 1.2 0 1 0 -3.0 0M75.7 25.5a1.5 1.2 0 1 0 3.0 0a1.5 1.2 0 1 0 -3.0 0M43.6 56.0a1.0 0.8 0 1 0 2.0 0a1.0 0.8 0 1 0 -2.0 0M43.4 30.9a1.1 0.9 0 1 0 2.3 0a1.1 0.9 0 1 0 -2.3 0M54.0 52.5a1.3 1.0 0 1 0 2.5 0a1.3 1.0 0 1 0 -2.5 0M85.1 64.4a1.2 1.0 0 1 0 2.4 0a1.2 1.0 0 1 0 -2.4 0M96.0 45.8a1.5 1.2 0 1 0 3.0 0a1.5 1.2 0 1 0 -3.0 0M85.3 62.5a0.6 0.5 0 1 0 1.3 0a0.6 0.5 0 1 0 -1.3 0M66.8 46.9a0.6 0.5 0 1 0 1.2 0a0.6 0.5 0 1 0 -1.2 0M51.4 46.9a0.5 0.4 0 1 0 1.0 0a0.5 0.4 0 1 0 -1.0 0M53.8 70.9a1.4 1.1 0 1 0 2.9 0a1.4 1.1 0 1 0 -2.9 0M86.2 61.7a0.7 0.6 0 1 0 1.5 0a0.7 0.6 0 1 0 -1.5 0M78.5 25.1a0.7 0.5 0 1 0 1.3 0a0.7 0.5 0 1 0 -1.3 0M52.0 32.8a0.5 0.4 0 1 0 1.1 0a0.5 0.4 0 1 0 -1.1 0M62.8 70.2a0.6 0.5 0 1 0 1.2 0a0.6 0.5 0 1 0 -1.2 0M40.9 68.2a1.1 0.9 0 1 0 2.2 0a1.1 0.9 0 1 0 -2.2 0M57.9 41.7a1.4 1.1 0 1 0 2.8 0a1.4 1.1 0 1 0 -2.8 0M58.8 41.0a0.9 0.7 0 1 0 1.8 0a0.9 0.7 0 1 0 -1.8 0M57.2 53.2a0.5 0.4 0 1 0 1.0 0a0.5 0.4 0 1 0 -1.0 0M46.9 38.0a1.2 1.0 0 1 0 2.4 0a1.2 1.0 0 1 0 -2.4 0M62.6 45.9a0.8 0.7 0 1 0 1.7 0a0.8 0.7 0 1 0 -1.7 0M56.0 68.2a0.6 0.5 0 1 0 1.2 0a0.6 0.5 0 1 0 -1.2 0M30.1 28.3a0.6 0.4 0 1 0 1.1 0a0.6 0.4 0 1 0 -1.1 0M33.6 36.2a1.3 1.0 0 1 0 2.6 0a1.3 1.0 0 1 0 -2.6 0M60.5 32.5a1.5 1.2 0 1 0 3.0 0a1.5 1.2 0 1 0 -3.0 0M99.2 56.3a0.5 0.4 0 1 0 1.1 0a0.5 0.4 0 1 0 -1.1 0M60.5 42.5a1.1 0.9 0 1 0 2.2 0a1.1 0.9 0 1 0 -2.2 0M39.8 21.4a1.2 0.9 0 1 0 2.3 0a1.2 0.9 0 1 0 -2.3 0M85.9 37.4a0.9 0.7 0 1 0 1.8 0a0.9 0.7 0 1 0 -1.8 0M26.0 47.7a1.4 1.1 0 1 0 2.8 0a1.4 1.1 0 1 0 -2.8 0M59.9 26.6a0.6 0.5 0 1 0 1.3 0a0.6 0.5 0 1 0 -1.3 0M87.8 57.0a0.8 0.6 0 1 0 1.6 0a0.8 0.6 0 1 0 -1.6 0M62.0 26.4a1.1 0.9 0 1 0 2.2 0a1.1 0.9 0 1 0 -2.2 0M60.0 44.2a0.8 0.7 0 1 0 1.6 0a0.8 0.7 0 1 0 -1.6 0M73.1 32.9a1.4 1.1 0 1 0 2.7 0a1.4 1.1 0 1 0 -2.7 0M85.6 49.8a1.6 1.2 0 1 0 3.1 0a1.6 1.2 0 1 0 -3.1 0M27.0 49.2a0.7 0.6 0 1 0 1.4 0a0.7 0.6 0 1 0 -1.4 0M31.8 34.4a0.9 0.7 0 1 0 1.8 0a0.9 0.7 0 1 0 -1.8 0M92.9 61.8a1.2 1.0 0 1 0 2.5 0a1.2 1.0 0 1 0 -2.5 0M95.9 45.2a1.3 1.1 0 1 0 2.7 0a1.3 1.1 0 1 0 -2.7 0M90.9 47.3a1.0 0.8 0 1 0 2.1 0a1.0 0.8 0 1 0 -2.1 0M48.7 30.2a0.8 0.6 0 1 0 1.5 0a0.8 0.6 0 1 0 -1.5 0M82.3 35.0a1.2 1.0 0 1 0 2.5 0a1.2 1.0 0 1 0 -2.5 0M70.8 68.9a1.4 1.1 0 1 0 2.8 0a1.4 1.1 0 1 0 -2.8 0M95.8 31.2a0.5 0.4 0 1 0 1.1 0a0.5 0.4 0 1 0 -1.1 0M29.4 27.6a1.3 1.0 0 1 0 2.5 0a1.3 1.0 0 1 0 -2.5 0M56.4 33.4a1.0 0.8 0 1 0 2.1 0a1.0 0.8 0 1 0 -2.1 0M39.1 38.8a0.9 0.7 0 1 0 1.9 0a0.9 0.7 0 1 0 -1.9 0M90.7 38.7a1.2 0.9 0 1 0 2.4 0a1.2 0.9 0 1 0 -2.4 0M68.6 42.0a0.6 0.5 0 1 0 1.3 0a0.6 0.5 0 1 0 -1.3 0M59.3 32.8a1.2 1.0 0 1 0 2.4 0a1.2 1.0 0 1 0 -2.4 0M75.2 48.6a1.4 1.2 0 1 0 2.9 0a1.4 1.2 0 1 0 -2.9 0M82.6 26.3a1.6 1.3 0 1 0 3.2 0a1.6 1.3 0 1 0 -3.2 0M73.4 47.7a1.0 0.8 0 1 0 2.0 0a1.0 0.8 0 1 0 -2.0 0M84.2 35.6a1.2 1.0 0 1 0 2.5 0a1.2 1.0 0 1 0 -2.5 0M52.2 49.1a1.2 0.9 0 1 0 2.3 0a1.2 0.9 0 1 0 -2.3 0M63.6 50.8a0.5 0.4 0 1 0 1.1 0a0.5 0.4 0 1 0 -1.1 0M39.7 40.0a0.9 0.7 0 1 0 1.7 0a0.9 0.7 0 1 0 -1.7 0M51.5 36.2a0.8 0.7 0 1 0 1.7 0a0.8 0.7 0 1 0 -1.7 0M59.4 28.0a0.6 0.5 0 1 0 1.2 0a0.6 0.5 0 1 0 -1.2 0M90.9 54.3a1.4 1.1 0 1 0 2.8 0a1.4 1.1 0 1 0 -2.8 0M48.5 66.3a1.0 0.8 0 1 0 1.9 0a1.0 0.8 0 1 0 -1.9 0M59.3 21.1a0.7 0.6 0 1 0 1.5 0a0.7 0.6 0 1 0 -1.5 0M71.1 59.7a0.8 0.7 0 1 0 1.7 0a0.8 0.7 0 1 0 -1.7 0M85.5 54.0a0.5 0.4 0 1 0 1.1 0a0.5 0.4 0 1 0 -1.1 0M74.4 39.2a0.6 0.5 0 1 0 1.2 0a0.6 0.5 0 1 0 -1.2 0M93.8 40.9a1.2 1.0 0 1 0 2.5 0a1.2 1.0 0 1 0 -2.5 0M48.4 66.5a1.2 0.9 0 1 0 2.3 0a1.2 0.9 0 1 0 -2.3 0M48.5 34.7a1.5 1.2 0 1 0 3.0 0a1.5 1.2 0 1 0 -3.0 0M72.2 70.8a0.7 0.6 0 1 0 1.4 0a0.7 0.6 0 1 0 -1.4 0M55.0 55.9a1.6 1.3 0 1 0 3.2 0a1.6 1.3 0 1 0 -3.2 0M80.7 43.9a1.5 1.2 0 1 0 3.0 0a1.5 1.2 0 1 0 -3.0 0M80.5 37.1a0.9 0.7 0 1 0 1.8 0a0.9 0.7 0 1 0 -1.8 0M66.8 72.0a1.2 1.0 0 1 0 2.4 0a1.2 1.0 0 1 0 -2.4 0M54.5 55.1a0.6 0.5 0 1 0 1.2 0a0.6 0.5 0 1 0 -1.2 0M63.6 52.1a1.3 1.1 0 1 0 2.6 0a1.3 1.1 0 1 0 -2.6 0M72.0 45.0a0.8 0.6 0 1 0 1.6 0a0.8 0.6 0 1 0 -1.6 0M60.9 33.7a0.7 0.6 0 1 0 1.4 0a0.7 0.6 0 1 0 -1.4 0M91.7 51.8a0.6 0.5 0 1 0 1.2 0a0.6 0.5 0 1 0 -1.2 0M49.0 23.7a0.9 0.7 0 1 0 1.8 0a0.9 0.7 0 1 0 -1.8 0M51.3 22.9a0.6 0.5 0 1 0 1.2 0a0.6 0.5 0 1 0 -1.2 0M56.5 71.2a0.8 0.7 0 1 0 1.6 0a0.8 0.7 0 1 0 -1.6 0M84.7 26.6a1.3 1.0 0 1 0 2.5 0a1.3 1.0 0 1 0 -2.5 0M92.1 32.0a1.6 1.3 0 1 0 3.2 0a1.6 1.3 0 1 0 -3.2 0M89.2 42.2a1.0 0.8 0 1 0 1.9 0a1.0 0.8 0 1 0 -1.9 0M56.7 32.0a1.5 1.2 0 1 0 3.0 0a1.5 1.2 0 1 0 -3.0 0M76.7 59.5a1.4 1.1 0 1 0 2.8 0a1.4 1.1 0 1 0 -2.8 0M42.5 56.9a1.3 1.1 0 1 0 2.7 0a1.3 1.1 0 1 0 -2.7 0M50.4 54.0a1.1 0.9 0 1 0 2.3 0a1.1 0.9 0 1 0 -2.3 0M89.9 46.0a0.9 0.7 0 1 0 1.9 0a0.9 0.7 0 1 0 -1.9 0M70.1 60.0a1.2 1.0 0 1 0 2.5 0a1.2 1.0 0 1 0 -2.5 0M52.3 50.3a1.5 1.2 0 1 0 3.1 0a1.5 1.2 0 1 0 -3.1 0M73.5 58.4a0.7 0.6 0 1 0 1.4 0a0.7 0.6 0 1 0 -1.4 0M59.3 47.2a0.8 0.6 0 1 0 1.6 0a0.8 0.6 0 1 0 -1.6 0M65.6 24.9a0.7 0.5 0 1 0 1.3 0a0.7 0.5 0 1 0 -1.3 0M50.7 62.2a1.5 1.2 0 1 0 3.0 0a1.5 1.2 0 1 0 -3.0 0M43.8 66.9a1.5 1.2 0 1 0 3.0 0a1.5 1.2 0 1 0 -3.0 0M53.4 40.5a0.8 0.6 0 1 0 1.5 0a0.8 0.6 0 1 0 -1.5 0M32.6 61.0a0.9 0.7 0 1 0 1.8 0a0.9 0.7 0 1 0 -1.8 0M35.1 60.1a1.3 1.0 0 1 0 2.6 0a1.3 1.0 0 1 0 -2.6 0M41.5 58.1a1.4 1.2 0 1 0 2.9 0a1.4 1.2 0 1 0 -2.9 0M64.1 61.8a0.9 0.7 0 1 0 1.7 0a0.9 0.7 0 1 0 -1.7 0M83.2 61.1a1.4 1.1 0 1 0 2.8 0a1.4 1.1 0 1 0 -2.8 0M63.8 36.9a1.5 1.2 0 1 0 2.9 0a1.5 1.2 0 1 0 -2.9 0M85.9 39.0a1.3 1.1 0 1 0 2.6 0a1.3 1.1 0 1 0 -2.6 0M64.1 57.8a1.3 1.0 0 1 0 2.6 0a1.3 1.0 0 1 0 -2.6 0M76.0 42.5a1.6 1.3 0 1 0 3.1 0a1.6 1.3 0 1 0 -3.1 0M72.8 46.9a0.8 0.7 0 1 0 1.7 0a0.8 0.7 0 1 0 -1.7 0M55.3 71.3a0.9 0.7 0 1 0 1.9 0a0.9 0.7 0 1 0 -1.9 0M53.0 26.1a0.9 0.7 0 1 0 1.7 0a0.9 0.7 0 1 0 -1.7 0M28.1 34.8a1.0 0.8 0 1 0 2.0 0a1.0 0.8 0 1 0 -2.0 0M64.4 25.4a1.0 0.8 0 1 0 2.1 0a1.0 0.8 0 1 0 -2.1 0M98.2 56.6a1.5 1.2 0 1 0 3.0 0a1.5 1.2 0 1 0 -3.0 0M74.8 28.9a1.0 0.8 0 1 0 2.0 0a1.0 0.8 0 1 0 -2.0 0M38.6 51.7a0.6 0.4 0 1 0 1.1 0a0.6 0.4 0 1 0 -1.1 0M68.8 60.6a0.9 0.7 0 1 0 1.8 0a0.9 0.7 0 1 0 -1.8 0M77.8 27.4a1.1 0.9 0 1 0 2.2 0a1.1 0.9 0 1 0 -2.2 0M82.1 70.1a1.4 1.1 0 1 0 2.8 0a1.4 1.1 0 1 0 -2.8 0M60.1 43.1a1.0 0.8 0 1 0 2.0 0a1.0 0.8 0 1 0 -2.0 0M52.9 37.4a1.0 0.8 0 1 0 2.0 0a1.0 0.8 0 1 0 -2.0 0M34.9 23.1a0.8 0.6 0 1 0 1.5 0a0.8 0.6 0 1 0 -1.5 0M29.9 24.2a1.3 1.0 0 1 0 2.5 0a1.3 1.0 0 1 0 -2.5 0M38.3 48.1a1.0 0.8 0 1 0 2.1 0a1.0 0.8 0 1 0 -2.1 0M34.3 48.2a0.9 0.7 0 1 0 1.8 0a0.9 0.7 0 1 0 -1.8 0M53.8 58.0a0.9 0.7 0 1 0 1.9 0a0.9 0.7 0 1 0 -1.9 0M86.2 68.8a0.7 0.6 0 1 0 1.4 0a0.7 0.6 0 1 0 -1.4 0M35.9 40.3a1.2 1.0 0 1 0 2.4 0a1.2 1.0 0 1 0 -2.4 0M78.0 35.8a1.4 1.1 0 1 0 2.7 0a1.4 1.1 0 1 0 -2.7 0M46.3 69.3a0.8 0.6 0 1 0 1.6 0a0.8 0.6 0 1 0 -1.6 0M49.5 43.9a1.0 0.8 0 1 0 2.1 0a1.0 0.8 0 1 0 -2.1 0M42.2 46.0a1.0 0.8 0 1 0 2.0 0a1.0 0.8 0 1 0 -2.0 0M43.4 50.3a0.9 0.7 0 1 0 1.8 0a0.9 0.7 0 1 0 -1.8 0M40.8 43.2a0.8 0.7 0 1 0 1.7 0a0.8 0.7 0 1 0 -1.7 0M68.8 60.5a1.1 0.9 0 1 0 2.3 0a1.1 0.9 0 1 0 -2.3 0M60.4 39.5a1.2 1.0 0 1 0 2.4 0a1.2 1.0 0 1 0 -2.4 0M31.5 29.0a1.3 1.1 0 1 0 2.7 0a1.3 1.1 0 1 0 -2.7 0M86.3 50.0a0.6 0.5 0 1 0 1.2 0a0.6 0.5 0 1 0 -1.2 0M57.2 51.9a1.6 1.3 0 1 0 3.1 0a1.6 1.3 0 1 0 -3.1 0M86.2 41.6a0.7 0.5 0 1 0 1.4 0a0.7 0.5 0 1 0 -1.4 0M69.8 44.2a1.6 1.3 0 1 0 3.1 0a1.6 1.3 0 1 0 -3.1 0M97.6 64.1a1.5 1.2 0 1 0 3.0 0a1.5 1.2 0 1 0 -3.0 0M31.6 46.5a0.6 0.5 0 1 0 1.1 0a0.6 0.5 0 1 0 -1.1 0M44.4 69.0a1.5 1.2 0 1 0 3.0 0a1.5 1.2 0 1 0 -3.0 0M71.5 68.9a1.4 1.1 0 1 0 2.7 0a1.4 1.1 0 1 0 -2.7 0M76.6 68.5a0.7 0.6 0 1 0 1.4 0a0.7 0.6 0 1 0 -1.4 0M84.4 44.5a0.7 0.5 0 1 0 1.3 0a0.7 0.5 0 1 0 -1.3 0M61.9 57.8a1.3 1.1 0 1 0 2.7 0a1.3 1.1 0 1 0 -2.7 0M77.0 49.5a0.8 0.6 0 1 0 1.5 0a0.8 0.6 0 1 0 -1.5 0M47.7 52.5a0.8 0.6 0 1 0 1.5 0a0.8 0.6 0 1 0 -1.5 0M86.5 27.9a0.6 0.5 0 1 0 1.2 0a0.6 0.5 0 1 0 -1.2 0M79.0 46.5a0.8 0.6 0 1 0 1.5 0a0.8 0.6 0 1 0 -1.5 0M56.6 71.5a0.7 0.5 0 1 0 1.4 0a0.7 0.5 0 1 0 -1.4 0M65.1 57.4a1.4 1.1 0 1 0 2.9 0a1.4 1.1 0 1 0 -2.9 0M64.4 31.2a0.6 0.5 0 1 0 1.2 0a0.6 0.5 0 1 0 -1.2 0M44.2 50.0a1.3 1.1 0 1 0 2.7 0a1.3 1.1 0 1 0 -2.7 0M52.2 59.9a1.3 1.0 0 1 0 2.6 0a1.3 1.0 0 1 0 -2.6 0M28.5 60.7a0.7 0.6 0 1 0 1.4 0a0.7 0.6 0 1 0 -1.4 0M97.5 40.1a0.5 0.4 0 1 0 1.1 0a0.5 0.4 0 1 0 -1.1 0M54.0 57.2a1.1 0.9 0 1 0 2.2 0a1.1 0.9 0 1 0 -2.2 0M78.4 31.9a1.1 0.9 0 1 0 2.3 0a1.1 0.9 0 1 0 -2.3 0M86.1 47.4a1.5 1.2 0 1 0 3.1 0a1.5 1.2 0 1 0 -3.1 0M27.4 53.6a1.1 0.9 0 1 0 2.1 0a1.1 0.9 0 1 0 -2.1 0M59.3 33.0a1.1 0.9 0 1 0 2.2 0a1.1 0.9 0 1 0 -2.2 0M78.3 59.3a0.9 0.7 0 1 0 1.8 0a0.9 0.7 0 1 0 -1.8 0M23.9 58.4a0.8 0.6 0 1 0 1.5 0a0.8 0.6 0 1 0 -1.5 0M97.6 47.6a1.3 1.1 0 1 0 2.7 0a1.3 1.1 0 1 0 -2.7 0M25.7 30.7a1.2 1.0 0 1 0 2.4 0a1.2 1.0 0 1 0 -2.4 0M28.2 41.6a1.5 1.2 0 1 0 2.9 0a1.5 1.2 0 1 0 -2.9 0M91.0 63.8a0.8 0.7 0 1 0 1.7 0a0.8 0.7 0 1 0 -1.7 0M86.0 37.9a1.2 0.9 0 1 0 2.3 0a1.2 0.9 0 1 0 -2.3 0M63.7 42.4a0.8 0.6 0 1 0 1.6 0a0.8 0.6 0 1 0 -1.6 0M97.0 47.9a1.0 0.8 0 1 0 2.0 0a1.0 0.8 0 1 0 -2.0 0M52.2 39.9a0.7 0.6 0 1 0 1.4 0a0.7 0.6 0 1 0 -1.4 0M28.5 42.3a1.4 1.1 0 1 0 2.7 0a1.4 1.1 0 1 0 -2.7 0M96.4 61.9a0.8 0.6 0 1 0 1.6 0a0.8 0.6 0 1 0 -1.6 0M52.5 47.0a1.3 1.1 0 1 0 2.7 0a1.3 1.1 0 1 0 -2.7 0M38.7 41.4a0.6 0.5 0 1 0 1.2 0a0.6 0.5 0 1 0 -1.2 0M30.1 37.3a1.4 1.1 0 1 0 2.8 0a1.4 1.1 0 1 0 -2.8 0M51.4 69.2a1.0 0.8 0 1 0 2.1 0a1.0 0.8 0 1 0 -2.1 0M66.8 28.9a1.1 0.9 0 1 0 2.3 0a1.1 0.9 0 1 0 -2.3 0M57.7 22.5a1.1 0.9 0 1 0 2.2 0a1.1 0.9 0 1 0 -2.2 0M89.8 37.5a1.4 1.1 0 1 0 2.9 0a1.4 1.1 0 1 0 -2.9 0M34.3 42.1a0.6 0.5 0 1 0 1.2 0a0.6 0.5 0 1 0 -1.2 0M67.5 28.3a1.6 1.2 0 1 0 3.1 0a1.6 1.2 0 1 0 -3.1 0M97.6 55.5a1.4 1.1 0 1 0 2.7 0a1.4 1.1 0 1 0 -2.7 0M50.0 42.6a0.7 0.6 0 1 0 1.5 0a0.7 0.6 0 1 0 -1.5 0M43.6 30.8a1.3 1.0 0 1 0 2.5 0a1.3 1.0 0 1 0 -2.5 0M76.6 24.6a1.0 0.8 0 1 0 2.0 0a1.0 0.8 0 1 0 -2.0 0M47.8 38.8a1.4 1.1 0 1 0 2.8 0a1.4 1.1 0 1 0 -2.8 0M50.9 53.2a1.1 0.9 0 1 0 2.2 0a1.1 0.9 0 1 0 -2.2 0M62.1 32.1a1.2 0.9 0 1 0 2.3 0a1.2 0.9 0 1 0 -2.3 0M44.8 27.8a0.6 0.5 0 1 0 1.1 0a0.6 0.5 0 1 0 -1.1 0M74.8 29.9a1.0 0.8 0 1 0 2.0 0a1.0 0.8 0 1 0 -2.0 0M60.8 36.0a0.8 0.7 0 1 0 1.6 0a0.8 0.7 0 1 0 -1.6 0M92.7 56.6a1.1 0.9 0 1 0 2.2 0a1.1 0.9 0 1 0 -2.2 0M47.9 42.2a1.6 1.3 0 1 0 3.2 0a1.6 1.3 0 1 0 -3.2 0M31.2 25.9a1.0 0.8 0 1 0 1.9 0a1.0 0.8 0 1 0 -1.9 0M94.4 61.4a1.4 1.1 0 1 0 2.8 0a1.4 1.1 0 1 0 -2.8 0M86.0 66.9a0.6 0.5 0 1 0 1.3 0a0.6 0.5 0 1 0 -1.3 0M77.8 53.7a1.4 1.1 0 1 0 2.9 0a1.4 1.1 0 1 0 -2.9 0M31.3 48.0a0.6 0.4 0 1 0 1.1 0a0.6 0.4 0 1 0 -1.1 0M49.5 47.7a1.3 1.1 0 1 0 2.7 0a1.3 1.1 0 1 0 -2.7 0M40.6 31.5a0.7 0.5 0 1 0 1.4 0a0.7 0.5 0 1 0 -1.4 0M39.4 49.5a1.2 0.9 0 1 0 2.4 0a1.2 0.9 0 1 0 -2.4 0M53.6 56.4a0.6 0.5 0 1 0 1.3 0a0.6 0.5 0 1 0 -1.3 0M62.9 26.3a0.5 0.4 0 1 0 1.0 0a0.5 0.4 0 1 0 -1.0 0M90.5 47.4a1.5 1.2 0 1 0 3.0 0a1.5 1.2 0 1 0 -3.0 0M60.7 57.6a1.1 0.9 0 1 0 2.2 0a1.1 0.9 0 1 0 -2.2 0M32.4 30.0a0.9 0.7 0 1 0 1.7 0a0.9 0.7 0 1 0 -1.7 0M33.7 52.9a0.7 0.6 0 1 0 1.5 0a0.7 0.6 0 1 0 -1.5 0M93.2 66.5a1.0 0.8 0 1 0 2.0 0a1.0 0.8 0 1 0 -2.0 0" fill="#3e3328"/><path d="M41.8 46.1a0.7 0.5 0 1 0 1.3 0a0.7 0.5 0 1 0 -1.3 0M85.4 32.0a1.1 0.8 0 1 0 2.1 0a1.1 0.8 0 1 0 -2.1 0M92.9 40.7a1.5 1.2 0 1 0 2.9 0a1.5 1.2 0 1 0 -2.9 0M78.5 48.5a1.1 0.9 0 1 0 2.3 0a1.1 0.9 0 1 0 -2.3 0M67.0 38.7a1.5 1.2 0 1 0 3.0 0a1.5 1.2 0 1 0 -3.0 0M53.3 71.2a1.4 1.1 0 1 0 2.7 0a1.4 1.1 0 1 0 -2.7 0M59.6 62.4a0.7 0.5 0 1 0 1.4 0a0.7 0.5 0 1 0 -1.4 0M69.5 39.1a1.3 1.0 0 1 0 2.6 0a1.3 1.0 0 1 0 -2.6 0M93.7 59.6a0.7 0.6 0 1 0 1.4 0a0.7 0.6 0 1 0 -1.4 0M80.4 42.8a1.3 1.1 0 1 0 2.7 0a1.3 1.1 0 1 0 -2.7 0M58.2 67.1a1.5 1.2 0 1 0 3.0 0a1.5 1.2 0 1 0 -3.0 0M85.3 63.0a1.3 1.1 0 1 0 2.6 0a1.3 1.1 0 1 0 -2.6 0M67.5 29.1a1.5 1.2 0 1 0 3.0 0a1.5 1.2 0 1 0 -3.0 0M58.3 20.8a0.9 0.7 0 1 0 1.9 0a0.9 0.7 0 1 0 -1.9 0M54.1 30.4a1.5 1.2 0 1 0 2.9 0a1.5 1.2 0 1 0 -2.9 0M64.9 29.3a0.9 0.7 0 1 0 1.7 0a0.9 0.7 0 1 0 -1.7 0M57.0 26.1a1.3 1.0 0 1 0 2.5 0a1.3 1.0 0 1 0 -2.5 0M72.2 71.1a1.3 1.1 0 1 0 2.7 0a1.3 1.1 0 1 0 -2.7 0M82.3 71.8a1.4 1.1 0 1 0 2.9 0a1.4 1.1 0 1 0 -2.9 0M71.9 48.0a1.0 0.8 0 1 0 2.0 0a1.0 0.8 0 1 0 -2.0 0M84.5 68.1a1.3 1.1 0 1 0 2.7 0a1.3 1.1 0 1 0 -2.7 0M54.9 24.5a1.1 0.9 0 1 0 2.2 0a1.1 0.9 0 1 0 -2.2 0M66.7 49.2a1.4 1.1 0 1 0 2.7 0a1.4 1.1 0 1 0 -2.7 0M40.0 57.9a1.1 0.9 0 1 0 2.2 0a1.1 0.9 0 1 0 -2.2 0M27.0 44.2a1.0 0.8 0 1 0 2.1 0a1.0 0.8 0 1 0 -2.1 0M68.2 71.1a1.1 0.8 0 1 0 2.1 0a1.1 0.8 0 1 0 -2.1 0M90.4 35.3a1.0 0.8 0 1 0 2.0 0a1.0 0.8 0 1 0 -2.0 0M34.2 53.3a0.9 0.7 0 1 0 1.8 0a0.9 0.7 0 1 0 -1.8 0M58.8 69.9a0.5 0.4 0 1 0 1.0 0a0.5 0.4 0 1 0 -1.0 0M73.0 55.2a1.2 1.0 0 1 0 2.5 0a1.2 1.0 0 1 0 -2.5 0M64.9 46.0a1.5 1.2 0 1 0 2.9 0a1.5 1.2 0 1 0 -2.9 0M44.4 56.6a1.2 0.9 0 1 0 2.3 0a1.2 0.9 0 1 0 -2.3 0M78.8 44.9a0.5 0.4 0 1 0 1.0 0a0.5 0.4 0 1 0 -1.0 0M81.7 34.5a1.3 1.0 0 1 0 2.6 0a1.3 1.0 0 1 0 -2.6 0M98.1 60.4a0.9 0.7 0 1 0 1.8 0a0.9 0.7 0 1 0 -1.8 0M88.3 40.1a0.8 0.7 0 1 0 1.6 0a0.8 0.7 0 1 0 -1.6 0M66.2 54.0a1.2 0.9 0 1 0 2.4 0a1.2 0.9 0 1 0 -2.4 0M64.8 41.3a1.2 1.0 0 1 0 2.5 0a1.2 1.0 0 1 0 -2.5 0M48.2 51.5a0.5 0.4 0 1 0 1.0 0a0.5 0.4 0 1 0 -1.0 0M39.8 41.5a0.6 0.4 0 1 0 1.1 0a0.6 0.4 0 1 0 -1.1 0M81.6 37.1a0.5 0.4 0 1 0 1.1 0a0.5 0.4 0 1 0 -1.1 0M43.6 68.4a1.3 1.0 0 1 0 2.5 0a1.3 1.0 0 1 0 -2.5 0M28.5 45.2a1.0 0.8 0 1 0 2.1 0a1.0 0.8 0 1 0 -2.1 0M82.2 27.4a1.3 1.1 0 1 0 2.6 0a1.3 1.1 0 1 0 -2.6 0M43.4 58.4a1.4 1.1 0 1 0 2.9 0a1.4 1.1 0 1 0 -2.9 0M73.5 42.6a1.2 1.0 0 1 0 2.5 0a1.2 1.0 0 1 0 -2.5 0M65.7 53.5a1.4 1.1 0 1 0 2.9 0a1.4 1.1 0 1 0 -2.9 0M69.4 52.0a1.3 1.0 0 1 0 2.5 0a1.3 1.0 0 1 0 -2.5 0M35.1 64.7a1.1 0.9 0 1 0 2.2 0a1.1 0.9 0 1 0 -2.2 0M71.3 28.0a1.0 0.8 0 1 0 2.0 0a1.0 0.8 0 1 0 -2.0 0M53.7 30.7a1.4 1.2 0 1 0 2.9 0a1.4 1.2 0 1 0 -2.9 0M87.7 43.9a0.6 0.5 0 1 0 1.2 0a0.6 0.5 0 1 0 -1.2 0M61.2 49.4a1.4 1.1 0 1 0 2.7 0a1.4 1.1 0 1 0 -2.7 0M72.8 51.4a1.0 0.8 0 1 0 2.0 0a1.0 0.8 0 1 0 -2.0 0M97.5 62.6a0.9 0.7 0 1 0 1.7 0a0.9 0.7 0 1 0 -1.7 0M83.4 69.3a1.0 0.8 0 1 0 2.0 0a1.0 0.8 0 1 0 -2.0 0M29.0 23.5a1.5 1.2 0 1 0 2.9 0a1.5 1.2 0 1 0 -2.9 0M39.1 61.8a0.7 0.6 0 1 0 1.4 0a0.7 0.6 0 1 0 -1.4 0M39.7 28.3a1.3 1.1 0 1 0 2.6 0a1.3 1.1 0 1 0 -2.6 0M29.7 44.5a1.3 1.0 0 1 0 2.6 0a1.3 1.0 0 1 0 -2.6 0M45.8 24.3a1.0 0.8 0 1 0 2.1 0a1.0 0.8 0 1 0 -2.1 0M83.0 35.8a0.6 0.5 0 1 0 1.3 0a0.6 0.5 0 1 0 -1.3 0M36.8 44.7a1.3 1.0 0 1 0 2.6 0a1.3 1.0 0 1 0 -2.6 0M29.1 59.6a1.2 0.9 0 1 0 2.4 0a1.2 0.9 0 1 0 -2.4 0M65.9 39.9a0.5 0.4 0 1 0 1.1 0a0.5 0.4 0 1 0 -1.1 0M61.1 41.4a1.2 0.9 0 1 0 2.4 0a1.2 0.9 0 1 0 -2.4 0M28.2 28.6a0.5 0.4 0 1 0 1.0 0a0.5 0.4 0 1 0 -1.0 0M60.0 23.1a1.0 0.8 0 1 0 2.1 0a1.0 0.8 0 1 0 -2.1 0M56.5 37.2a0.7 0.6 0 1 0 1.4 0a0.7 0.6 0 1 0 -1.4 0M93.4 45.0a0.6 0.5 0 1 0 1.2 0a0.6 0.5 0 1 0 -1.2 0M66.9 59.7a1.0 0.8 0 1 0 2.0 0a1.0 0.8 0 1 0 -2.0 0M90.6 63.6a1.2 0.9 0 1 0 2.4 0a1.2 0.9 0 1 0 -2.4 0M25.0 40.9a1.0 0.8 0 1 0 2.0 0a1.0 0.8 0 1 0 -2.0 0M35.7 46.0a1.2 0.9 0 1 0 2.3 0a1.2 0.9 0 1 0 -2.3 0M79.9 59.5a1.2 1.0 0 1 0 2.5 0a1.2 1.0 0 1 0 -2.5 0M45.8 51.8a1.0 0.8 0 1 0 2.0 0a1.0 0.8 0 1 0 -2.0 0M81.0 26.3a0.7 0.5 0 1 0 1.4 0a0.7 0.5 0 1 0 -1.4 0M77.8 57.6a0.7 0.6 0 1 0 1.5 0a0.7 0.6 0 1 0 -1.5 0M81.2 60.4a1.1 0.9 0 1 0 2.3 0a1.1 0.9 0 1 0 -2.3 0M58.3 23.0a0.7 0.6 0 1 0 1.5 0a0.7 0.6 0 1 0 -1.5 0M81.5 68.5a0.7 0.5 0 1 0 1.3 0a0.7 0.5 0 1 0 -1.3 0M25.4 38.2a1.4 1.2 0 1 0 2.9 0a1.4 1.2 0 1 0 -2.9 0M82.1 63.7a1.5 1.2 0 1 0 3.0 0a1.5 1.2 0 1 0 -3.0 0M74.4 30.3a0.9 0.7 0 1 0 1.9 0a0.9 0.7 0 1 0 -1.9 0M53.3 54.6a0.9 0.7 0 1 0 1.7 0a0.9 0.7 0 1 0 -1.7 0M40.2 31.5a0.7 0.5 0 1 0 1.3 0a0.7 0.5 0 1 0 -1.3 0M80.4 65.6a0.6 0.5 0 1 0 1.2 0a0.6 0.5 0 1 0 -1.2 0M59.5 20.4a0.7 0.6 0 1 0 1.5 0a0.7 0.6 0 1 0 -1.5 0M33.7 56.0a1.3 1.1 0 1 0 2.7 0a1.3 1.1 0 1 0 -2.7 0M87.1 34.3a0.9 0.7 0 1 0 1.8 0a0.9 0.7 0 1 0 -1.8 0M40.8 54.5a0.7 0.6 0 1 0 1.5 0a0.7 0.6 0 1 0 -1.5 0M81.2 44.5a1.1 0.8 0 1 0 2.1 0a1.1 0.8 0 1 0 -2.1 0M89.5 68.1a0.8 0.6 0 1 0 1.5 0a0.8 0.6 0 1 0 -1.5 0M78.7 34.2a0.5 0.4 0 1 0 1.0 0a0.5 0.4 0 1 0 -1.0 0M87.9 29.9a0.8 0.6 0 1 0 1.6 0a0.8 0.6 0 1 0 -1.6 0M77.7 64.2a0.9 0.7 0 1 0 1.8 0a0.9 0.7 0 1 0 -1.8 0M77.9 40.6a0.5 0.4 0 1 0 1.0 0a0.5 0.4 0 1 0 -1.0 0M65.3 29.0a0.7 0.6 0 1 0 1.4 0a0.7 0.6 0 1 0 -1.4 0M54.3 53.5a0.7 0.6 0 1 0 1.4 0a0.7 0.6 0 1 0 -1.4 0M39.9 49.7a0.8 0.6 0 1 0 1.5 0a0.8 0.6 0 1 0 -1.5 0M65.8 55.0a0.8 0.6 0 1 0 1.6 0a0.8 0.6 0 1 0 -1.6 0M91.7 70.3a0.5 0.4 0 1 0 1.1 0a0.5 0.4 0 1 0 -1.1 0M28.0 25.7a1.0 0.8 0 1 0 2.0 0a1.0 0.8 0 1 0 -2.0 0M45.4 58.1a1.5 1.2 0 1 0 3.0 0a1.5 1.2 0 1 0 -3.0 0M57.7 34.2a0.7 0.6 0 1 0 1.4 0a0.7 0.6 0 1 0 -1.4 0M91.9 62.4a1.4 1.1 0 1 0 2.8 0a1.4 1.1 0 1 0 -2.8 0M98.7 43.5a1.2 1.0 0 1 0 2.5 0a1.2 1.0 0 1 0 -2.5 0M48.4 27.3a1.2 1.0 0 1 0 2.4 0a1.2 1.0 0 1 0 -2.4 0M51.1 48.1a1.1 0.9 0 1 0 2.1 0a1.1 0.9 0 1 0 -2.1 0M41.2 21.1a1.2 1.0 0 1 0 2.5 0a1.2 1.0 0 1 0 -2.5 0M81.0 59.8a0.8 0.7 0 1 0 1.7 0a0.8 0.7 0 1 0 -1.7 0M48.6 52.6a0.9 0.7 0 1 0 1.7 0a0.9 0.7 0 1 0 -1.7 0M79.6 47.0a1.0 0.8 0 1 0 2.1 0a1.0 0.8 0 1 0 -2.1 0M38.6 47.2a1.4 1.1 0 1 0 2.7 0a1.4 1.1 0 1 0 -2.7 0M93.1 65.6a0.7 0.6 0 1 0 1.4 0a0.7 0.6 0 1 0 -1.4 0M47.3 32.8a0.7 0.6 0 1 0 1.5 0a0.7 0.6 0 1 0 -1.5 0M36.2 27.9a1.3 1.1 0 1 0 2.6 0a1.3 1.1 0 1 0 -2.6 0M62.6 70.5a1.1 0.9 0 1 0 2.2 0a1.1 0.9 0 1 0 -2.2 0M80.6 68.5a1.0 0.8 0 1 0 2.1 0a1.0 0.8 0 1 0 -2.1 0M40.6 41.2a0.9 0.8 0 1 0 1.9 0a0.9 0.8 0 1 0 -1.9 0M35.0 48.7a1.3 1.0 0 1 0 2.5 0a1.3 1.0 0 1 0 -2.5 0M48.2 21.3a0.6 0.5 0 1 0 1.2 0a0.6 0.5 0 1 0 -1.2 0M50.8 30.3a1.0 0.8 0 1 0 1.9 0a1.0 0.8 0 1 0 -1.9 0M96.8 32.1a0.9 0.7 0 1 0 1.7 0a0.9 0.7 0 1 0 -1.7 0M68.4 28.5a1.4 1.1 0 1 0 2.7 0a1.4 1.1 0 1 0 -2.7 0M53.4 62.0a0.5 0.4 0 1 0 1.0 0a0.5 0.4 0 1 0 -1.0 0M64.8 62.0a1.5 1.2 0 1 0 2.9 0a1.5 1.2 0 1 0 -2.9 0M68.7 58.4a0.7 0.6 0 1 0 1.5 0a0.7 0.6 0 1 0 -1.5 0M26.2 44.9a1.5 1.2 0 1 0 3.0 0a1.5 1.2 0 1 0 -3.0 0M97.7 44.5a1.0 0.8 0 1 0 1.9 0a1.0 0.8 0 1 0 -1.9 0M66.8 29.0a1.2 1.0 0 1 0 2.5 0a1.2 1.0 0 1 0 -2.5 0M60.4 52.0a0.9 0.7 0 1 0 1.8 0a0.9 0.7 0 1 0 -1.8 0M89.8 62.9a0.5 0.4 0 1 0 1.1 0a0.5 0.4 0 1 0 -1.1 0M65.5 31.2a1.4 1.1 0 1 0 2.9 0a1.4 1.1 0 1 0 -2.9 0M92.2 61.2a1.2 0.9 0 1 0 2.3 0a1.2 0.9 0 1 0 -2.3 0M91.5 32.9a0.8 0.6 0 1 0 1.6 0a0.8 0.6 0 1 0 -1.6 0M92.4 53.9a0.8 0.6 0 1 0 1.6 0a0.8 0.6 0 1 0 -1.6 0M87.8 54.5a0.5 0.4 0 1 0 1.0 0a0.5 0.4 0 1 0 -1.0 0M94.0 58.4a1.2 1.0 0 1 0 2.5 0a1.2 1.0 0 1 0 -2.5 0M29.8 20.8a0.6 0.5 0 1 0 1.2 0a0.6 0.5 0 1 0 -1.2 0M44.9 37.0a0.9 0.7 0 1 0 1.8 0a0.9 0.7 0 1 0 -1.8 0M44.3 25.1a1.0 0.8 0 1 0 2.0 0a1.0 0.8 0 1 0 -2.0 0M28.3 40.9a0.8 0.6 0 1 0 1.6 0a0.8 0.6 0 1 0 -1.6 0M29.4 24.8a1.2 1.0 0 1 0 2.5 0a1.2 1.0 0 1 0 -2.5 0M28.6 46.1a1.1 0.9 0 1 0 2.2 0a1.1 0.9 0 1 0 -2.2 0M91.8 51.8a1.3 1.0 0 1 0 2.6 0a1.3 1.0 0 1 0 -2.6 0M43.7 44.6a0.8 0.7 0 1 0 1.6 0a0.8 0.7 0 1 0 -1.6 0M35.0 40.4a1.0 0.8 0 1 0 1.9 0a1.0 0.8 0 1 0 -1.9 0M86.0 31.6a0.6 0.5 0 1 0 1.2 0a0.6 0.5 0 1 0 -1.2 0M69.0 64.9a0.9 0.7 0 1 0 1.8 0a0.9 0.7 0 1 0 -1.8 0M44.8 65.8a1.3 1.1 0 1 0 2.7 0a1.3 1.1 0 1 0 -2.7 0M67.9 40.8a1.0 0.8 0 1 0 2.0 0a1.0 0.8 0 1 0 -2.0 0M54.0 26.1a1.3 1.0 0 1 0 2.5 0a1.3 1.0 0 1 0 -2.5 0M90.7 51.7a0.8 0.6 0 1 0 1.6 0a0.8 0.6 0 1 0 -1.6 0M76.5 34.9a0.6 0.5 0 1 0 1.2 0a0.6 0.5 0 1 0 -1.2 0M68.2 49.9a1.4 1.1 0 1 0 2.8 0a1.4 1.1 0 1 0 -2.8 0M54.5 26.6a1.1 0.9 0 1 0 2.1 0a1.1 0.9 0 1 0 -2.1 0M26.7 34.3a1.5 1.2 0 1 0 2.9 0a1.5 1.2 0 1 0 -2.9 0M50.9 38.7a1.5 1.2 0 1 0 2.9 0a1.5 1.2 0 1 0 -2.9 0M29.6 59.9a1.2 1.0 0 1 0 2.5 0a1.2 1.0 0 1 0 -2.5 0" fill="#66574a"/><path d="M97.8 5.5l-0.4 -10.5M18.3 34.6l-8.4 -4.8M38.7 1.1l-3.1 -3.4M23.1 27.4l-2.1 -10.8M85.7 89.8l10.2 -6.4M14.2 52.0l-5.8 -6.6M9.3 18.5l6.7 -7.8M12.3 18.0l1.2 -5.0M15.0 96.0l7.8 -8.7M45.3 95.2l-6.3 -9.4M75.3 90.0l3.3 -8.1M7.6 66.4l2.6 -4.6M15.1 45.8l0.5 -4.4M79.3 15.4l9.2 -4.4M25.2 83.3l2.8 -3.8M26.2 75.6l8.5 -8.4M19.2 54.8l5.2 -4.5M40.6 8.6l2.7 -5.4M69.4 26.8l0.2 -9.9M45.2 96.7l2.3 -4.0M5.7 77.6l0.3 -6.4M34.3 10.2l7.0 -7.5M5.6 52.8l6.6 -9.0M99.9 91.0l-9.5 -8.4M2.5 59.0l-4.7 -7.9M24.3 78.6l-10.0 -5.0M12.3 72.0l-5.5 -5.5M7.7 41.2l2.5 -7.2M76.6 8.2l6.5 -5.0M48.6 88.8l7.7 -9.3M65.1 11.0l-5.6 -11.6M54.0 92.1l3.6 -10.5M27.4 79.3l-6.9 -7.8M38.7 80.1l-0.9 -12.3M12.2 88.9l-6.8 -3.7M23.3 30.0l-7.4 -8.2M15.7 90.3l5.6 -3.8M21.0 39.1l-3.4 -8.2M96.4 94.4l8.1 -4.1M86.2 97.5l-7.2 -5.8M40.9 99.4l3.1 -6.9M12.3 78.3l-3.8 -9.1M43.3 85.3l-2.6 -3.6M1.0 57.1l-7.4 -5.1M34.5 79.1l-10.3 -5.2M34.1 74.5l-10.2 -6.7M3.6 43.7l0.5 -10.4M32.0 76.3l-0.6 -7.0M0.0 75.1l2.7 -8.3M11.4 71.0l-2.2 -10.6M21.6 43.9l-2.8 -4.2M44.5 89.5l-8.1 -6.7M79.8 97.9l-8.2 -8.8M58.6 94.6l1.1 -6.2M63.0 96.0l-0.8 -11.4M66.4 14.2l6.8 -8.1M11.0 40.6l0.3 -5.4M23.5 93.4l-9.6 -6.3M24.5 26.6l0.6 -5.2M45.7 84.4l-2.8 -3.8M19.5 75.4l-0.4 -12.8M98.9 93.9l-4.8 -9.6M55.9 94.0l-0.7 -11.6M24.6 25.8l4.7 -5.9M19.7 43.9l-4.6 -2.8M20.8 54.2l5.4 -8.3M92.6 4.0l-5.2 -7.3M4.9 47.5l-5.1 -5.0M2.8 47.2l10.3 -4.8M22.1 28.8l1.8 -9.5M37.2 15.6l-3.1 -11.0M9.1 48.5l-1.9 -4.6M4.8 93.0l-1.1 -12.3M73.8 7.9l-0.8 -9.7M66.6 5.8l1.5 -4.2M65.3 8.7l3.3 -2.9M61.4 6.6l-3.1 -6.1M43.7 91.6l-8.4 -9.1M54.2 88.0l1.0 -12.9M9.4 75.6l8.8 -7.7M75.3 19.3l-4.9 -7.2M4.1 81.5l1.0 -4.5M2.5 15.8l1.9 -8.5M41.5 88.6l-5.7 -7.7M40.8 12.3l9.6 -6.4M61.5 97.6l5.4 -5.0M3.2 18.4l3.9 -9.3M15.5 19.0l-0.7 -9.2M43.9 99.2l2.3 -3.6M23.6 29.2l-3.4 -2.7M43.5 95.8l1.6 -4.3M27.3 40.3l1.4 -5.9M29.8 30.0l-0.4 -5.3M76.2 23.8l-5.0 -7.6M78.5 11.1l-9.5 -5.5M67.0 27.9l-4.8 -5.9M21.8 51.4l-0.7 -11.7M9.4 53.3l3.5 -6.5M4.3 71.1l9.3 -8.6M70.3 11.3l-2.6 -12.6M61.2 92.2l3.6 -2.2M27.2 49.0l2.0 -9.3M15.2 40.1l-8.7 -5.0M9.0 34.4l-1.2 -9.0M65.2 90.7l-7.8 -7.7M14.3 45.3l-1.1 -5.4M10.2 45.7l-1.3 -6.2M82.9 92.8l1.0 -4.8M39.0 85.1l2.8 -4.3M78.4 92.1l6.0 -7.2M17.5 78.3l4.1 -2.7M94.8 3.3l4.2 -11.6M74.8 98.7l3.5 -7.7M77.8 94.2l8.7 -7.1M61.5 5.6l3.2 -3.9M16.5 98.6l7.3 -8.6M92.2 91.5l1.8 -4.6M12.3 43.6l4.0 -12.1M72.6 9.2l3.2 -8.1M7.7 31.2l-5.1 -9.6M2.8 92.4l-6.8 -9.0M79.1 10.5l8.2 -6.8M72.9 98.6l2.2 -6.3M18.5 78.8l10.8 -6.5M72.3 5.1l6.8 -8.7M15.7 17.1l4.7 -3.2M4.4 25.5l4.3 -11.6M39.5 99.9l5.9 -4.9M46.7 84.1l4.5 -3.2M74.9 26.4l-0.9 -12.6M34.4 100.0l-4.7 -11.4M76.9 93.3l-9.1 -5.4M75.3 15.5l-4.2 -4.8M61.5 3.7l-0.5 -8.4M15.7 47.1l-3.6 -6.2M22.9 35.6l-5.1 -2.5M18.7 95.7l-3.5 -11.7M8.2 41.7l-7.6 -4.6M21.7 44.1l-4.9 -3.2M11.8 20.4l4.0 -6.2M1.6 73.6l-6.5 -4.0M8.4 89.0l-7.0 -4.9M70.9 15.4l3.6 -5.5M36.8 3.8l10.9 -6.2M42.1 13.1l-2.8 -6.7M33.1 14.1l-10.2 -5.5M51.1 95.4l-10.0 -5.1M85.2 96.2l-4.0 -6.3M23.9 29.8l1.9 -4.9M99.7 91.9l-9.5 -4.9M4.5 86.1l-0.1 -4.4M60.4 93.9l1.2 -6.6M8.7 91.9l6.1 -6.3M15.4 95.7l0.3 -8.5M85.9 12.5l1.6 -11.5M1.8 57.0l2.7 -7.4M65.2 95.9l1.5 -5.9M10.4 45.4l-1.6 -10.6M35.5 99.9l6.5 -5.5M14.1 84.2l-4.2 -6.3M76.7 11.3l-3.7 -10.0M1.9 18.3l3.0 -3.5M6.9 74.2l6.2 -3.4M73.4 8.5l4.6 -3.5M42.5 89.6l8.8 -7.9M0.8 28.3l-3.3 -10.0M54.1 90.2l-7.8 -4.3M39.2 93.8l-7.1 -6.5M34.0 7.2l-0.4 -12.9M3.0 57.6l0.7 -6.1M12.9 46.5l6.3 -9.7M5.4 42.6l4.5 -4.7M73.3 13.8l-3.8 -7.9M94.5 4.0l3.3 -3.5M29.7 2.3l3.1 -8.3M94.9 89.8l-3.1 -3.8M66.0 8.8l-4.0 -9.7M4.0 28.0l-9.0 -6.8M26.9 48.6l2.3 -6.7M52.0 90.9l-7.2 -9.4M50.3 94.7l5.3 -2.7M31.3 3.0l8.2 -9.8M17.4 16.9l7.3 -4.4M67.3 7.8l-0.5 -5.8M17.5 46.6l-6.5 -8.5M83.8 6.2l-4.0 -8.6M46.5 6.3l5.0 -7.2M31.8 84.5l-7.4 -5.3M25.7 89.6l-3.6 -1.9M51.5 97.1l-1.5 -8.9M17.9 72.4l4.4 -6.2M27.0 93.0l3.3 -3.7M65.6 17.7l-1.4 -5.3M7.3 24.3l-5.6 -11.7M34.6 16.6l2.9 -11.6M10.2 99.8l-1.0 -5.5M37.2 84.7l-9.1 -6.3M46.8 4.1l-2.7 -6.7M96.8 94.2l-4.6 -11.9M13.7 21.6l-6.5 -7.4M31.8 97.8l2.0 -3.8M13.8 77.2l-3.9 -2.1M86.6 2.0l6.2 -10.6M33.1 87.9l0.6 -10.9M78.4 2.5l4.2 -6.6M39.6 97.1l-3.0 -3.5M26.6 1.0l-3.2 -3.2M41.2 11.7l6.1 -4.7M25.0 81.4l-4.4 -5.7M19.5 0.6l5.6 -11.6M1.3 65.8l-3.0 -6.8M34.2 85.6l-9.3 -4.4M28.7 1.1l0.4 -8.8M9.9 28.4l-6.4 -8.2M34.8 11.0l-8.0 -6.4M74.4 92.3l8.6 -4.6M80.6 19.2l2.2 -4.5M72.2 95.5l3.4 -5.4M22.8 37.5l0.6 -4.2M29.4 5.7l4.4 -7.4M11.1 33.2l5.7 -4.0M10.9 18.4l4.0 -8.0M0.2 46.7l4.8 -4.2M7.7 60.8l-5.1 -8.8M4.0 23.2l5.8 -8.8M93.7 99.7l-0.7 -11.5M24.2 27.2l-4.1 -6.6M86.5 91.4l-8.9 -6.3M23.3 0.9l4.9 -2.6M18.1 30.5l-5.8 -7.8M69.4 27.5l0.5 -9.1M67.1 28.6l3.8 -9.2M6.9 40.3l0.1 -7.0M25.5 81.3l5.8 -3.3M2.6 69.1l2.8 -4.9M7.3 40.3l-0.6 -5.1M19.4 28.0l-9.7 -5.9M11.4 95.0l9.9 -7.5M96.4 1.6l5.3 -4.4M8.0 44.8l2.2 -9.3M84.2 97.7l3.6 -5.0M94.6 90.6l-9.0 -9.2M80.3 96.7l-4.5 -8.2M15.1 38.1l-0.3 -4.3M9.9 60.4l-10.0 -5.3M19.3 86.8l-7.0 -5.4M36.9 78.6l-7.4 -7.4M25.9 82.0l-9.7 -4.5M2.1 63.9l0.5 -9.9M5.4 32.7l-5.0 -2.8M40.2 94.4l-6.1 -9.6M89.1 9.2l9.5 -6.7M67.8 27.2l-1.3 -6.0M40.3 74.7l0.8 -8.0M5.1 71.6l1.6 -6.1M46.1 91.3l-4.3 -3.9M7.0 97.9l1.2 -6.7M19.0 22.4l7.3 -4.4M0.7 41.2l3.9 -10.3M34.5 94.0l-3.1 -3.2M24.3 28.5l-2.4 -7.4M81.8 99.2l1.0 -6.5M8.6 66.9l-1.9 -12.2M19.9 43.8l1.4 -9.1M82.2 14.0l-1.5 -6.3M26.0 90.0l1.5 -4.9M73.5 96.8l-5.8 -6.1M33.2 1.4l2.2 -10.2M29.6 76.3l-3.2 -6.0M30.4 6.6l3.5 -11.3M29.6 95.8l5.9 -7.3M62.9 99.4l5.3 -6.4M48.6 3.8l-3.4 -11.4M80.1 5.0l1.6 -7.6M26.4 93.1l3.0 -9.8M1.0 61.9l-3.9 -4.6M34.8 15.6l-3.2 -12.2M2.1 33.5l1.0 -4.9M46.7 98.8l-6.1 -5.7M1.2 44.7l-4.5 -3.9M31.4 88.6l-2.1 -12.2M77.1 18.0l-1.6 -8.9M64.6 23.9l-3.6 -10.6M23.4 1.1l-1.7 -4.3M66.2 14.8l1.7 -7.0M70.8 91.5l6.9 -6.9M14.2 40.4l4.6 -3.9M72.7 99.6l-3.3 -6.0M20.6 56.6l6.6 -4.9M7.6 53.7l-7.8 -8.1M11.3 34.4l3.6 -7.3M12.9 72.7l-4.3 -10.6M1.5 83.3l3.3 -7.2M4.9 82.3l-0.8 -6.4M28.6 77.6l8.3 -6.7M23.7 95.6l7.8 -5.5M18.4 75.5l-3.1 -4.6M84.0 93.7l-1.7 -5.7M66.2 25.8l4.4 -5.9M84.9 89.2l-3.2 -10.3M18.8 51.3l-8.7 -8.9M0.3 21.9l6.2 -7.6M62.4 24.5l7.1 -9.0M65.8 90.2l4.1 -2.4M5.8 92.6l1.4 -11.3M98.8 93.4l7.4 -8.2M86.4 18.4l8.4 -8.5M27.5 89.7l-3.6 -1.9M21.8 96.4l-4.5 -5.9M64.9 1.9l-7.8 -10.1M9.1 37.0l-3.3 -3.6M75.7 17.0l3.6 -10.8M8.3 77.2l3.4 -4.1M81.2 14.0l5.6 -9.8M79.7 5.5l-1.9 -12.5M49.1 5.7l-5.5 -4.1M30.6 7.8l2.9 -7.1M11.5 42.6l7.7 -5.6M78.6 88.5l-1.7 -5.6M18.9 76.6l-3.9 -3.6M76.9 94.9l1.7 -6.1M81.1 14.7l2.5 -4.7M39.4 90.3l6.0 -4.3M12.6 50.8l7.5 -8.4M38.5 73.9l-2.7 -5.8M25.0 79.4l4.3 -2.7M23.6 96.9l-4.3 -3.1M23.8 4.2l1.2 -10.0M25.3 85.7l-7.1 -10.8M85.1 19.3l5.1 -9.2M23.2 96.7l-6.0 -10.4M38.8 87.1l-0.9 -4.2M35.8 84.3l-2.4 -12.5M66.3 2.5l-3.9 -5.5M26.9 10.7l3.3 -8.8M5.0 25.5l0.8 -7.2M66.9 22.3l1.8 -9.5M76.9 2.0l-4.4 -4.8M36.2 93.1l0.2 -5.5M37.4 78.8l-0.3 -8.6M79.9 88.8l5.5 -10.6M63.6 6.0l-4.5 -3.1M16.4 91.8l6.5 -9.1M41.8 89.9l-2.7 -7.8M82.6 19.3l3.1 -5.2M32.4 7.2l-2.9 -12.2M79.3 94.0l1.3 -6.3M55.8 88.4l-5.5 -5.5M13.3 72.7l9.4 -8.7M46.4 83.5l3.6 -9.1M12.1 41.2l0.1 -4.5M29.3 82.4l2.8 -7.0M69.5 95.7l-5.7 -6.8M10.2 69.9l6.5 -4.5M16.5 52.6l-2.2 -12.3M22.8 34.2l10.0 -5.8M6.9 88.9l1.8 -4.9M70.7 90.8l5.4 -10.6M79.6 90.8l-6.7 -4.8M81.3 10.0l4.3 -11.2M1.4 45.8l3.4 -5.0M24.4 6.6l7.7 -9.0M78.4 18.6l9.2 -6.6M25.6 25.8l7.7 -4.8M26.2 91.3l-3.0 -3.3M20.2 33.3l4.8 -11.8M69.2 29.3l4.0 -2.4M18.3 48.4l-1.0 -4.6M18.3 29.9l-6.6 -9.8M26.1 91.3l5.9 -8.6M51.7 86.4l3.9 -4.8M75.6 3.2l10.5 -6.9M6.9 91.9l-3.0 -7.1M76.1 0.6l-5.8 -6.7M13.7 88.8l-4.0 -10.3M1.7 83.2l-4.1 -5.7M64.8 25.8l-8.1 -5.7M62.2 17.4l4.8 -5.6M46.5 75.4l5.7 -9.5M79.3 9.0l3.0 -8.8M23.8 99.7l-5.6 -8.6M67.0 27.2l-6.1 -3.0M31.2 10.2l-5.1 -8.5M80.6 92.8l10.1 -5.4M14.2 92.0l0.7 -9.2M19.4 95.5l4.3 -2.5M47.2 94.8l-10.1 -6.4M41.8 88.6l-6.4 -10.7M38.7 16.0l-5.9 -4.3M73.1 23.7l2.2 -6.5M64.2 21.5l4.8 -7.5M96.8 10.6l0.5 -8.3M9.3 28.9l-0.1 -5.3M71.7 98.8l7.7 -9.9M5.3 51.2l-9.2 -8.6M59.9 92.8l4.8 -6.4M43.1 95.1l3.6 -5.9M42.2 89.8l5.1 -6.7M36.8 99.1l6.8 -7.7M26.1 8.2l-0.9 -4.8M12.3 72.0l-1.4 -7.1M62.0 15.9l-7.7 -9.1M4.7 19.9l1.9 -4.6M39.9 6.9l3.7 -2.4M64.4 91.5l-8.5 -9.5M58.3 99.6l0.7 -5.6M31.2 99.9l1.4 -11.0M85.9 12.7l-4.5 -11.9M24.6 98.4l1.0 -4.2M83.6 93.6l-3.6 -4.2M39.1 12.0l2.9 -2.9M24.2 99.0l0.6 -7.3M9.9 88.8l3.7 -12.2M5.1 79.9l0.8 -8.7M34.3 90.5l-5.7 -9.3M42.8 1.7l-0.9 -5.1M78.8 98.1l-8.2 -5.3M12.1 29.0l4.7 -5.3M6.9 47.7l6.6 -4.5M3.4 98.1l-7.8 -10.0M14.2 84.9l-1.9 -11.0M21.1 23.4l2.1 -10.4M28.0 10.8l-4.4 -5.5M5.8 66.7l-8.5 -9.6M29.7 1.1l4.9 -7.0M26.8 31.8l3.0 -4.5M79.2 10.8l-3.9 -3.7M68.7 11.3l-1.1 -7.6M12.7 57.8l5.5 -7.2M19.9 53.6l3.6 -4.4M27.9 34.6l7.4 -5.2M18.5 94.2l-3.0 -4.0M10.5 20.3l-7.1 -5.8M32.0 81.5l4.3 -4.8M11.7 81.2l-10.3 -5.9M2.5 15.6l-6.4 -6.7M60.1 91.4l9.6 -6.2M40.4 88.5l2.2 -11.6M17.7 99.6l8.8 -7.1M94.3 10.7l-3.5 -3.2M82.6 91.4l-7.9 -4.3M42.8 93.2l-7.0 -8.0M28.8 95.6l-1.2 -4.1M17.4 89.7l2.6 -9.1M30.6 77.7l-6.9 -4.9M5.9 51.1l-3.5 -3.9M10.6 71.6l-0.7 -6.1M16.7 77.4l1.7 -6.0M84.2 98.8l-7.8 -3.8M74.1 7.2l-10.6 -7.4M36.1 79.0l3.1 -5.0M9.5 51.9l-2.8 -12.2M22.8 50.7l-3.5 -4.1M15.1 97.2l0.5 -4.1M86.9 97.7l-2.0 -3.7M13.4 46.6l5.5 -10.3M46.6 10.5l-5.5 -7.7M94.9 2.3l-1.7 -4.4M53.9 92.1l-4.2 -7.2M65.8 89.9l-2.2 -3.5M2.0 39.1l-5.8 -5.3M32.2 10.8l-9.1 -5.0M21.4 44.0l1.6 -6.9M20.5 32.2l-0.2 -8.2M32.3 0.5l3.2 -11.7M66.2 5.9l-0.9 -4.3M92.3 4.9l-4.0 -12.3M17.7 55.3l-4.5 -9.9M21.6 53.7l-1.6 -8.8M25.5 8.5l0.6 -9.6M73.7 90.6l-8.9 -8.4M1.5 44.2l-6.0 -3.5M4.4 80.1l-5.5 -5.0M36.9 98.0l-3.1 -9.5M19.0 56.6l-5.4 -4.7M10.6 27.4l2.3 -7.2M75.9 2.8l-6.9 -7.5M23.2 48.6l-2.9 -3.4M70.6 16.9l-4.6 -2.4M88.8 3.2l-6.6 -9.9M62.0 22.6l4.1 -8.5M87.0 96.4l7.0 -9.7M43.2 76.9l-2.1 -8.6M25.7 6.1l-8.7 -6.6M25.6 49.7l0.0 -8.9M23.5 22.8l4.0 -4.4M3.4 70.6l9.9 -7.4M79.7 10.5l4.7 -11.1M29.7 73.3l3.5 -8.7M34.8 84.5l-7.2 -10.1M63.2 91.7l4.4 -8.8M69.5 9.9l5.6 -5.0M9.9 68.6l8.3 -4.9M28.6 72.8l-1.8 -8.9M44.2 90.2l-8.7 -6.6M64.4 18.2l0.3 -4.1M36.1 4.9l0.5 -12.2M84.0 17.4l3.2 -10.1M82.4 7.8l-10.9 -5.2M16.6 52.9l-2.5 -4.9M79.7 2.6l2.0 -5.6M38.7 80.9l1.6 -9.8M1.5 50.9l5.1 -7.2M4.4 80.9l-0.5 -4.2M39.8 84.9l3.0 -8.0M24.8 76.4l3.3 -2.9M14.2 37.3l10.2 -6.8M23.9 29.9l-5.8 -10.3M30.2 87.6l-7.3 -4.9M75.7 22.8l-10.5 -5.7M93.4 90.2l2.7 -8.1M2.8 65.4l5.0 -6.0M29.7 79.0l4.0 -7.0M10.7 30.5l-2.5 -5.8M18.6 37.7l-8.4 -5.1M29.3 87.6l-4.8 -8.0M40.8 79.0l5.2 -4.2M24.8 86.3l-6.6 -5.9M40.9 85.1l-1.9 -3.6M1.8 69.7l1.5 -10.2M21.2 35.6l4.9 -6.8M43.9 86.0l-2.0 -8.8M82.9 3.6l3.5 -6.8M56.9 92.1l-1.0 -5.3M34.5 82.7l6.9 -7.7M30.5 92.0l-3.3 -4.6M24.2 4.3l-1.1 -6.8M12.7 35.6l4.9 -7.7M26.4 88.2l1.1 -7.7M17.2 95.8l0.7 -9.3M24.5 41.2l4.1 -3.7M44.3 99.4l-5.3 -3.2M3.4 24.0l1.7 -8.3M24.4 71.4l0.6 -5.5M16.8 25.3l-0.4 -5.2M26.5 45.4l-5.9 -3.2M42.8 87.4l2.3 -8.1M31.3 95.6l-1.2 -7.1M26.1 37.0l-7.4 -10.3M22.4 93.8l-0.5 -5.9M45.6 85.9l2.5 -6.0M37.4 5.8l3.5 -3.2M2.5 42.7l0.3 -11.9M3.1 78.4l-0.2 -9.5M48.7 87.6l5.5 -6.0M16.5 31.1l-8.3 -4.7M21.2 73.7l-4.7 -6.1M63.6 8.9l-8.4 -8.5M47.9 83.5l3.0 -8.0M25.5 73.0l1.9 -10.3M26.9 0.1l-5.6 -8.9M43.0 15.9l-4.3 -6.0M1.8 63.8l-3.7 -5.5M40.5 89.7l-5.3 -4.3M20.5 36.8l5.9 -8.4M40.8 85.7l-6.1 -9.3M7.3 78.1l8.2 -6.2M17.9 90.4l-3.7 -4.3M17.1 33.4l-6.0 -8.5M79.5 2.9l3.8 -1.8M63.2 1.0l2.0 -6.7M56.0 96.3l4.8 -7.7M78.2 89.0l4.2 -2.5M68.0 94.7l-2.8 -5.4M19.5 91.1l3.8 -2.8M76.9 17.5l1.9 -10.4M20.6 31.5l-1.5 -8.7M18.0 34.7l-6.7 -6.7M77.0 20.0l6.8 -4.3M35.1 86.9l-1.6 -3.9M80.2 21.7l3.0 -9.9M9.3 46.5l5.5 -4.5M42.0 95.4l1.1 -6.3M34.5 6.5l7.8 -6.5M73.4 6.4l-2.9 -12.7M18.8 78.5l-0.5 -5.8M4.0 83.5l6.0 -3.8M10.5 48.6l3.7 -9.1M77.0 95.4l5.4 -4.7M45.6 82.6l1.6 -4.8M1.3 58.1l1.5 -5.9M23.3 48.6l8.4 -7.2M20.3 79.7l-2.7 -10.4M6.4 41.9l-6.4 -3.7M7.8 74.5l-4.0 -10.8M26.6 35.7l-7.4 -6.8M12.0 17.5l-4.9 -10.8M36.2 89.9l4.4 -9.6M1.5 95.0l4.4 -11.0M76.9 5.3l1.2 -7.9M58.8 99.5l2.1 -3.8M36.1 70.8l6.3 -3.2M12.6 44.2l-4.4 -4.0M32.0 74.9l-0.6 -4.6M11.4 32.4l2.7 -5.1M67.8 4.6l-4.6 -9.8M36.8 83.8l8.8 -5.7M71.9 15.4l3.2 -7.2M71.7 0.0l-4.9 -10.7M65.5 25.3l1.2 -3.8M3.7 66.4l2.6 -3.4M10.4 83.7l1.6 -9.4M70.4 5.8l4.5 -3.8M9.3 46.2l4.2 -2.3M26.0 82.4l4.1 -6.8M8.6 26.2l1.2 -10.1M32.1 97.0l-9.2 -8.3M36.3 0.4l-8.6 -6.7M5.0 44.7l4.4 -5.8M38.1 98.2l7.4 -5.9M4.5 70.8l7.1 -10.0M45.0 84.8l1.5 -9.6M68.6 24.6l-7.0 -7.5M76.6 21.9l-1.7 -11.7M76.9 96.9l-6.7 -3.8M9.8 37.2l4.0 -5.1M2.6 71.9l7.0 -6.9M72.6 14.8l-3.0 -5.7M2.5 42.8l-8.9 -4.8M28.2 74.8l5.6 -5.0" stroke="#b9d26c" stroke-width="0.4" fill="none" stroke-linecap="round"/><path d="M85.8 3.7l4.8 -2.3M74.7 26.1l-6.8 -7.3M98.2 5.5l-5.0 -3.7M44.7 82.5l-2.0 -5.5M5.2 47.8l-2.7 -6.6M23.5 38.4l4.2 -3.0M19.9 53.5l3.2 -8.6M20.1 30.2l-1.7 -9.8M39.0 7.7l1.7 -4.7M22.9 46.1l-2.5 -5.4M19.1 90.8l-0.3 -9.0M22.9 83.7l-6.3 -5.7M18.1 95.0l-1.3 -6.4M9.6 87.4l0.9 -5.9M69.4 25.7l7.7 -4.5M81.3 91.0l-5.7 -3.7M21.8 80.4l-2.3 -3.8M33.7 8.0l1.2 -6.9M4.9 83.6l0.6 -11.8M36.4 10.5l3.8 -9.5M0.4 77.8l-2.4 -11.6M13.6 54.5l-0.3 -6.4M40.7 4.1l4.7 -8.0M37.1 69.2l-5.8 -5.3M98.9 6.2l-2.5 -7.9M65.7 7.2l5.2 -5.7M68.0 6.7l-3.2 -5.8M47.9 94.3l2.9 -6.6M50.9 92.2l2.6 -6.7M11.8 37.3l0.1 -4.3M63.5 19.3l3.1 -7.2M32.4 93.3l-1.4 -4.4M97.9 96.9l-5.3 -5.9M35.9 88.6l3.1 -3.0M37.7 97.9l9.0 -6.7M13.8 33.4l-4.3 -2.6M22.1 89.2l2.7 -10.1M29.6 11.4l1.2 -4.8M97.3 3.1l-7.1 -7.6M73.5 15.3l1.8 -4.4M83.7 6.0l-6.1 -4.9M5.4 50.3l0.0 -4.9M20.3 96.2l5.1 -4.1M12.8 30.3l-8.0 -8.3M32.8 2.3l0.4 -9.9M68.5 22.4l1.9 -7.0M79.1 15.0l8.7 -5.0M1.3 34.6l1.9 -3.9M61.1 92.5l0.2 -4.8M12.3 40.1l-4.3 -11.1M90.7 92.0l-5.8 -4.6M40.4 16.3l-2.5 -6.2M77.4 17.5l-3.1 -3.3M15.5 94.1l-3.1 -7.1M6.7 24.1l4.1 -8.7M81.0 1.0l0.6 -11.5M86.1 96.6l-4.3 -2.4M59.2 94.4l2.1 -6.2M99.4 7.9l7.7 -4.5M7.7 83.0l-3.9 -6.1M37.7 5.3l-0.6 -5.5M20.8 88.4l3.6 -4.4M81.8 89.5l4.9 -10.1M11.9 28.0l6.5 -3.8M6.9 99.0l8.8 -7.1M0.1 53.6l9.4 -5.8M48.1 1.8l1.0 -10.3M3.5 72.1l-3.1 -11.4M7.4 94.6l-6.5 -7.4M40.0 76.6l-4.2 -3.0M25.9 31.0l9.7 -5.7M4.8 95.5l7.8 -4.2M76.9 6.6l-7.5 -5.3M7.9 54.1l-1.7 -9.4M12.4 19.8l5.3 -5.3M11.4 85.4l-3.5 -9.7M9.5 87.7l-8.5 -4.7M37.5 80.3l-0.1 -5.1M14.6 97.9l-3.9 -10.6M31.5 12.8l6.2 -8.6M46.4 94.7l0.2 -6.4M11.5 78.4l4.4 -5.7M12.9 50.5l1.8 -6.5M44.8 8.8l7.8 -8.6M90.5 89.6l-1.6 -9.2M86.4 92.9l3.3 -2.8M18.1 49.8l0.7 -4.3M50.9 87.5l-7.7 -5.4M3.5 22.3l-1.1 -4.7M61.3 90.8l-3.4 -10.2M20.2 79.5l-2.1 -4.8M72.8 1.8l2.1 -10.5M38.5 73.8l-8.0 -6.7M8.0 52.6l-5.7 -5.5M32.5 86.8l2.5 -4.0M24.0 6.7l-5.0 -8.1M24.8 96.3l1.5 -6.7M37.3 74.2l1.5 -6.2M40.0 16.9l-6.2 -5.1M75.4 9.9l1.2 -4.2M13.7 97.3l-3.1 -10.7M11.8 57.5l-3.1 -3.2M6.8 96.3l0.1 -9.2M78.6 3.2l-0.4 -8.8M30.2 94.1l-6.4 -8.3M1.8 56.5l5.5 -6.2M27.7 5.0l0.2 -4.8M66.9 14.1l2.7 -10.8M92.1 10.4l5.1 -4.1M88.5 94.9l5.8 -5.2M11.5 94.0l4.2 -2.8M28.3 91.2l-2.7 -11.5M74.5 28.7l-4.5 -9.3M83.4 7.3l3.5 -5.0M47.1 93.1l-9.4 -6.3M6.8 82.9l-8.6 -5.6M18.3 23.1l-1.7 -7.7M11.2 88.9l1.4 -9.8M99.8 7.3l-3.3 -11.1M65.2 9.6l0.8 -4.7M76.0 9.4l3.0 -2.8M24.1 95.7l-1.6 -7.4M21.6 30.7l-0.8 -4.6M2.4 98.6l-3.0 -5.5M22.9 93.5l5.7 -4.0M31.3 73.4l-3.6 -2.2M25.7 40.8l3.6 -5.5M2.1 23.7l-1.0 -5.1M68.2 1.9l5.4 -7.5M42.9 6.0l4.8 -4.5M24.8 90.5l-3.6 -7.0M75.0 4.8l-5.3 -9.1M39.3 82.0l4.7 -4.4M84.0 9.4l2.2 -3.7M33.1 79.9l1.9 -7.6M5.4 59.1l-0.8 -6.4M66.8 8.1l1.6 -6.1M32.9 85.3l-1.5 -4.3M30.3 7.1l2.0 -10.6M35.5 96.0l2.3 -4.8M20.0 42.5l6.3 -3.1M73.9 12.7l-8.3 -5.9M43.7 76.4l-5.9 -3.7M43.8 97.9l2.6 -10.0M65.8 95.5l6.9 -7.9M99.2 99.1l4.1 -7.9M8.6 84.1l7.5 -6.9M36.8 74.9l5.0 -7.2M60.1 92.2l-4.0 -5.2M35.1 13.2l3.9 -4.4M76.0 95.5l2.5 -5.6M71.3 4.5l4.1 -3.7M84.5 4.6l1.3 -5.3M11.0 88.8l3.6 -4.9M30.8 71.1l8.2 -7.6M41.5 8.6l8.2 -8.8M44.3 82.6l2.4 -4.5M65.6 98.9l-6.4 -6.2M39.7 1.5l-8.3 -5.2M4.8 65.2l4.7 -3.7M22.6 97.2l-3.9 -5.5M9.0 87.4l-1.2 -4.8M11.1 31.0l4.4 -9.1M28.8 97.5l9.7 -5.0M28.2 5.2l10.2 -5.6M4.0 20.6l-5.8 -5.3M8.9 31.8l1.4 -4.6M26.5 37.7l-3.0 -5.4M14.8 44.3l5.9 -5.3M92.6 10.4l-1.6 -6.2M50.7 95.8l1.8 -3.7M3.6 67.8l-0.0 -11.5M4.1 57.4l-1.1 -4.6M76.4 3.8l5.3 -8.7M27.0 4.2l-6.6 -6.3M45.0 3.8l4.1 -2.9M46.1 97.7l0.9 -4.7M78.4 17.9l-5.6 -7.5M18.9 23.1l0.2 -5.7M29.0 82.3l-8.9 -5.7M15.6 49.2l5.2 -5.3M33.3 4.3l7.7 -4.2M71.5 1.9l-1.0 -11.3M88.0 12.0l-2.6 -5.4M76.8 88.5l-2.8 -10.7M69.3 8.3l10.4 -5.3M20.4 40.6l-8.7 -4.7M22.1 50.4l1.5 -4.3M35.0 76.6l2.8 -3.7M74.0 16.5l8.2 -5.4M48.1 96.3l4.7 -7.4M28.1 37.4l9.1 -5.9M13.3 92.9l4.9 -3.6M22.5 21.8l-8.0 -5.0M87.2 97.0l1.5 -6.7M98.4 98.9l-0.0 -6.1M19.4 56.6l-9.3 -6.6M22.0 92.2l6.1 -3.6M10.3 55.0l-1.3 -11.0M31.5 78.9l-6.0 -3.7M81.6 94.1l8.3 -8.3M87.2 95.3l-2.6 -3.9M53.6 87.9l-5.8 -5.0M48.5 1.5l7.7 -4.5M48.2 90.2l-2.0 -3.5M27.4 86.5l1.6 -7.0M64.7 19.6l-0.3 -5.0M39.8 5.1l3.3 -7.7M43.6 76.4l7.5 -4.5M41.5 85.1l-0.7 -6.2M69.5 18.2l-2.1 -3.8M24.1 53.0l2.7 -5.4M91.7 10.4l-5.6 -5.7M36.0 10.1l-4.9 -3.3M46.0 3.7l-2.2 -9.5M39.6 90.4l-0.3 -5.9M5.3 94.9l-1.2 -8.9M0.0 93.5l1.3 -8.0M37.9 10.8l5.2 -3.9M35.3 14.2l9.0 -6.1M36.3 16.3l2.9 -5.5M19.3 39.8l4.4 -9.5M34.4 89.2l9.3 -7.3M13.5 49.4l3.8 -6.3M35.3 4.5l4.2 -9.8M49.0 98.1l6.0 -5.8M81.5 1.8l-2.1 -4.5M77.4 90.4l4.1 -4.0M5.7 25.5l3.8 -11.2M4.4 73.6l2.4 -9.8M28.4 87.8l9.8 -5.9M16.4 58.2l5.8 -5.3M48.5 82.2l6.0 -10.0M24.3 1.6l-5.2 -10.0M45.6 78.0l-7.2 -4.3M19.2 45.3l3.8 -6.5M12.4 43.3l7.5 -6.3M40.7 90.8l5.9 -7.0M15.4 16.7l7.7 -3.7M24.5 41.4l3.6 -1.9M31.1 91.9l-7.5 -8.8M16.1 52.5l-3.2 -5.1M23.3 53.2l-8.1 -4.4M10.1 73.9l-0.3 -11.3M77.2 4.1l3.9 -3.0M48.2 2.1l10.1 -5.2M89.0 3.0l-3.8 -6.0M61.4 9.4l5.5 -3.8M3.1 98.3l5.5 -3.5M86.3 17.9l-1.5 -6.7M13.2 69.5l-5.2 -2.9M19.3 72.0l6.0 -5.4M30.9 79.3l4.4 -2.6M68.9 0.8l-3.0 -9.5M77.1 97.1l-3.1 -2.8M72.7 89.4l-2.1 -4.3M17.2 18.1l2.9 -8.8M3.4 23.4l9.0 -7.7M98.5 2.9l1.8 -7.2M78.6 11.5l-0.8 -5.8M23.0 44.2l-5.0 -7.3M18.3 54.2l1.2 -5.1M8.5 24.2l-8.4 -4.3M21.5 87.6l0.0 -11.7M36.6 6.9l9.3 -4.7M82.3 93.8l-1.7 -6.8M44.3 81.3l2.4 -4.6M34.8 8.6l-4.1 -7.7M13.5 53.0l5.2 -5.0M9.7 26.6l2.5 -5.3M17.9 32.9l-1.1 -5.6M66.2 29.4l-3.0 -7.1M36.2 5.5l-7.7 -4.0M40.9 73.9l-4.8 -5.0M54.1 92.7l-4.4 -8.2M7.3 28.9l-2.1 -4.1M45.3 77.5l-7.1 -4.5M93.9 9.2l1.9 -5.4M31.4 88.8l-2.1 -7.1M14.3 78.5l1.6 -3.8M72.5 19.9l-0.4 -6.3M17.6 41.7l3.8 -6.2M11.0 44.9l0.6 -5.6M22.0 80.6l-3.6 -6.4M96.7 1.8l0.9 -8.8M2.9 33.7l-2.8 -11.2M17.6 87.1l-3.2 -9.4M74.9 91.8l1.6 -6.2M0.8 36.1l-8.4 -8.1M40.0 1.8l-2.9 -5.9M69.4 90.0l-1.6 -6.0M59.3 93.5l-0.3 -5.7M27.8 35.3l0.2 -6.3M47.6 97.7l-7.8 -3.8M6.3 82.4l0.1 -5.0M75.8 96.1l-0.3 -7.3M21.3 23.4l-8.9 -6.3M40.1 4.6l0.5 -6.5M24.3 23.7l-10.2 -4.8M70.0 21.5l-4.1 -9.0M84.6 91.1l7.1 -5.8M69.7 18.5l-2.2 -4.8M11.0 19.7l6.8 -6.0M70.5 15.3l-9.5 -6.2M95.8 93.2l4.3 -9.1M21.8 83.4l-2.7 -4.0M77.0 4.9l-3.1 -4.7M1.8 87.7l-7.0 -4.9M72.3 22.6l-1.2 -4.3M66.2 95.6l7.9 -7.9M68.6 90.1l-5.4 -2.8M86.6 90.4l-5.8 -7.5M24.3 32.4l-2.9 -10.9M42.5 85.7l3.2 -3.4M27.3 96.9l-6.7 -4.8M14.4 37.5l6.3 -9.9M66.4 26.6l2.2 -4.7M61.9 6.9l7.1 -4.0M29.0 99.8l9.6 -5.5M71.8 25.6l7.5 -7.9M23.9 36.4l-1.6 -9.1M63.4 23.7l6.3 -9.3M6.8 55.3l7.7 -8.2M42.5 79.6l8.4 -6.6M6.3 91.8l4.4 -10.3M74.0 96.9l5.1 -2.6M67.9 21.5l-6.3 -3.1M13.4 68.7l2.6 -11.3M99.4 1.9l-3.0 -3.6M64.2 91.3l-1.4 -7.8M77.6 16.8l1.4 -4.4M28.5 9.6l8.8 -4.4M20.7 28.9l-2.2 -10.9M7.2 40.6l0.8 -5.7M6.3 77.1l-3.5 -5.3M35.1 91.0l1.2 -11.7M22.5 36.1l3.5 -3.7M43.7 6.2l-0.8 -6.0M28.2 87.0l1.7 -11.3M76.5 19.4l4.2 -10.2M19.9 55.3l-0.4 -4.2M16.9 53.2l3.7 -11.1M33.3 81.9l8.6 -6.2M29.4 84.3l-3.0 -3.1M15.7 69.2l-3.0 -4.8M45.1 4.5l-3.4 -2.3M62.7 18.7l6.8 -5.5M56.2 91.9l-3.8 -7.9M41.1 87.6l-0.7 -5.0M17.3 89.3l2.5 -3.6M18.9 72.3l4.0 -7.4M1.9 78.7l-1.1 -8.9M52.3 91.2l0.4 -5.2M86.0 98.9l3.4 -4.2M83.7 3.7l-3.9 -9.0M67.2 95.9l4.1 -2.6M27.0 3.4l3.7 -1.9M1.8 79.9l-5.5 -3.1M2.2 76.8l-1.3 -5.3M2.1 76.0l-0.5 -7.2M33.6 8.6l1.9 -4.2M31.0 98.6l3.8 -3.1M40.7 11.4l-1.4 -6.9M88.6 99.4l4.0 -4.8M20.0 25.2l-7.0 -9.2M0.6 89.5l-7.6 -7.3M1.4 50.8l-2.4 -10.2M72.9 1.8l-4.0 -10.3M80.2 20.9l-4.8 -4.8M31.2 84.3l4.7 -4.9M0.3 85.9l1.6 -5.1M71.3 93.0l-7.5 -7.1M81.4 97.8l-0.7 -10.7M40.2 79.0l-4.1 -2.5M31.9 99.0l2.2 -7.5M29.2 71.9l2.3 -7.6M21.1 99.1l-4.4 -3.1M21.3 52.4l-5.2 -7.4M18.8 32.0l5.2 -9.9M53.2 98.5l5.8 -6.3M1.9 44.7l-2.9 -4.8M3.4 95.9l-0.1 -7.0M77.3 26.9l-6.3 -9.3M85.1 18.1l-5.4 -2.9M7.1 25.4l-3.9 -4.2M24.4 79.9l7.5 -8.2M22.8 6.0l6.0 -3.0M21.6 90.0l-0.9 -5.3M57.8 88.5l3.2 -5.3M10.8 38.7l-0.5 -11.3M21.4 80.7l-5.4 -2.6M78.5 13.1l-2.3 -6.6M72.0 6.5l-0.4 -11.0M66.9 95.9l5.0 -10.7M68.5 98.6l-2.4 -11.7M1.6 40.8l-1.7 -4.7M12.6 22.6l-2.0 -8.0M5.4 75.0l6.1 -3.8M5.8 25.1l2.9 -11.4M45.5 92.7l-2.4 -10.6M27.5 39.2l6.9 -3.5M75.6 11.3l-3.1 -3.9M93.1 99.6l3.8 -4.6M62.3 96.9l-2.4 -6.1M15.0 50.7l6.8 -5.3M43.5 76.1l-4.7 -3.1M5.4 56.2l-2.7 -4.7M41.6 71.6l10.2 -5.6M10.9 45.4l-4.0 -2.0M31.7 95.3l6.1 -4.6M6.6 20.8l3.0 -3.1M75.2 15.7l5.1 -3.7M41.3 83.2l5.2 -2.8M81.4 19.2l-3.1 -5.3M98.1 0.1l-7.3 -4.6M69.0 91.7l-3.2 -3.2M35.4 4.2l-5.4 -6.6M69.5 8.6l5.4 -7.1M20.8 94.9l0.5 -8.1M1.0 73.4l3.8 -5.0M36.9 69.7l-1.9 -3.7M47.1 9.3l-3.6 -3.2M35.6 77.2l8.8 -5.0M61.0 8.8l4.2 -6.6M16.5 77.3l2.9 -6.6M23.8 43.2l-1.1 -5.4M31.6 92.0l5.7 -5.8M23.1 76.0l0.4 -6.9M99.1 9.9l-3.4 -4.1M28.1 8.7l7.1 -7.6M0.3 16.8l4.6 -3.3M22.5 54.0l2.3 -9.3M43.0 79.3l1.9 -5.9M21.2 50.4l0.3 -7.2M14.3 74.5l5.3 -5.1M3.1 71.3l-6.8 -7.7M14.0 27.6l4.1 -3.1M33.2 83.2l-8.7 -6.3M36.5 93.2l3.6 -5.6M0.9 22.6l-10.4 -5.9M5.9 24.8l-7.0 -5.8M10.1 69.8l5.4 -8.1M19.2 38.4l3.7 -5.4M48.3 10.5l2.7 -5.9M64.9 9.7l-0.6 -5.0M39.4 16.3l4.4 -2.9M69.5 90.8l4.8 -8.1M23.9 80.8l1.2 -11.2M29.0 72.0l-1.9 -10.0M19.2 31.5l8.4 -4.7M27.6 6.8l0.7 -7.4M35.9 77.8l0.8 -10.8M55.9 98.5l-0.1 -4.7M90.4 100.0l9.1 -5.1M10.4 68.2l4.1 -2.7M82.9 91.9l-5.5 -5.5M9.3 57.9l4.4 -4.6M25.8 41.7l-8.5 -4.5M50.4 94.4l-3.2 -2.5M35.9 85.3l-2.3 -11.3" stroke="#3f5a22" stroke-width="0.4" fill="none" stroke-linecap="round"/><path d="M38.2 91.2l5.4 -9.6M5.6 99.0l1.8 -8.2M14.2 100.0l-2.9 -5.3M43.8 89.8l-6.3 -3.1M2.1 89.2l-7.2 -6.7M24.3 98.1l-1.2 -9.5M57.9 98.3l1.7 -5.7M1.6 48.5l-2.1 -5.5M1.9 83.7l8.0 -8.1M76.6 8.1l0.1 -4.5M23.0 46.3l4.6 -2.6M79.0 93.1l-2.3 -8.5M42.1 13.3l-0.2 -6.9M9.8 53.6l4.3 -5.2M27.9 80.2l1.3 -10.1M69.9 10.6l-9.3 -7.1M17.8 69.9l-6.3 -5.6M20.1 74.4l-3.9 -5.2M8.6 52.0l-8.9 -4.3M62.8 18.5l-0.8 -10.9M44.7 92.0l1.7 -4.1M23.3 2.9l4.0 -3.3M42.8 87.8l2.9 -4.5M22.7 36.4l9.0 -4.2M72.7 27.3l-3.2 -7.8M68.5 20.8l-2.2 -3.5M48.6 6.0l5.6 -8.1M37.1 84.0l0.8 -8.7M26.9 39.3l-1.8 -10.3M31.0 14.5l-3.7 -9.9M38.9 4.6l-3.1 -9.2M26.8 36.3l-2.9 -5.9M79.3 94.4l-5.7 -5.9M16.2 33.7l9.6 -5.8M91.7 3.7l-5.9 -3.4M5.4 19.1l4.5 -3.0M20.8 23.9l-0.7 -4.7M80.4 96.7l-5.6 -7.5M48.8 83.0l4.8 -5.3M7.5 24.1l9.1 -5.3M60.1 95.1l7.5 -4.0M85.9 98.9l-3.8 -3.9M34.5 14.0l-0.0 -5.3M29.6 85.2l-4.9 -4.2M15.9 47.8l4.2 -5.2M18.9 84.1l9.8 -6.0M83.3 9.9l-1.3 -9.4M5.1 57.3l-5.9 -3.4M67.7 10.8l3.5 -11.3M3.9 68.5l-2.0 -4.0M60.5 91.2l-7.4 -4.3M72.7 24.1l1.2 -9.8M16.0 84.9l-4.8 -2.9M29.0 95.9l4.2 -8.3M5.0 45.6l7.6 -7.4M14.9 86.7l5.0 -4.1M45.9 80.6l6.9 -8.6M4.4 46.9l2.6 -10.3M81.5 88.2l4.1 -7.8M20.6 44.3l-2.6 -6.4M9.9 33.8l6.0 -8.9M29.7 80.3l-2.0 -10.2M13.3 58.3l1.5 -5.2M16.0 27.5l-3.1 -3.4M42.4 82.5l6.8 -8.1M48.5 8.9l0.9 -4.5M84.4 89.7l8.6 -7.7M21.5 29.8l4.5 -5.7M97.8 98.2l3.1 -8.7M28.6 94.9l0.4 -11.1M17.7 90.7l3.5 -2.2M8.8 97.1l2.3 -4.7M98.1 90.8l-8.6 -4.3M4.5 28.4l-3.3 -5.9M61.8 19.7l-1.4 -10.3M91.2 99.0l5.4 -5.6M95.8 90.0l2.2 -10.7M10.2 89.2l-1.2 -5.8M40.0 11.2l-5.7 -4.3M14.1 96.0l-2.7 -3.0M33.9 98.7l6.4 -3.1M33.3 10.3l-3.6 -5.0M70.8 3.7l8.0 -8.9M24.6 73.3l6.4 -4.0M31.0 89.9l-9.4 -6.7M21.6 74.8l-8.6 -4.4M1.2 89.4l6.7 -7.2M47.9 5.3l5.8 -9.5M84.1 19.6l-2.3 -10.1M2.9 98.9l-3.2 -10.6M13.3 37.7l-2.5 -4.9M47.1 77.1l0.9 -4.0M94.1 95.9l1.5 -11.4M2.6 27.4l-3.6 -9.6M46.9 11.2l2.3 -4.9M87.2 14.7l-3.2 -3.9M9.2 61.4l-6.9 -5.6M31.5 98.3l4.1 -5.4M30.8 77.4l-4.0 -5.5M82.2 19.7l-0.7 -7.1M68.9 97.2l5.1 -3.5M10.0 59.5l-5.9 -6.8M40.2 14.3l-8.0 -8.3M4.3 16.3l-0.3 -11.4M65.3 98.1l1.3 -6.8M8.7 59.1l-5.0 -4.7M8.0 49.1l-10.0 -5.4M9.0 89.6l3.1 -4.3M18.9 40.2l-3.2 -9.8M41.0 15.7l-1.7 -4.0M3.1 77.7l-0.4 -4.2M72.0 26.6l3.4 -2.6M66.4 25.8l-2.8 -3.2M90.3 6.3l-10.2 -5.2M71.1 10.9l-4.8 -3.0M67.1 6.1l-4.6 -9.1M72.7 95.5l8.8 -6.6M20.5 2.8l-1.9 -10.9M6.9 81.5l3.6 -4.2M25.7 96.5l5.6 -3.6M26.3 10.1l5.1 -6.5M22.1 21.8l2.4 -5.4M0.4 54.5l4.9 -4.0M77.9 7.4l-4.0 -3.8M67.7 6.8l-1.1 -5.4M14.9 23.7l5.4 -4.2M6.6 96.6l-2.7 -7.7M39.6 92.7l3.8 -6.0M4.5 46.9l-7.1 -8.6M37.5 89.7l-1.5 -8.9M18.5 93.9l-6.4 -9.9M84.1 1.4l-4.3 -8.8M94.5 10.5l-0.7 -8.4M4.2 72.9l-5.5 -7.1M0.6 24.0l5.7 -3.3M29.3 70.5l-2.3 -4.5M47.7 96.5l-2.3 -10.7M8.8 20.6l5.7 -5.7M4.2 89.5l-2.1 -5.7M66.7 6.9l7.1 -5.9M4.1 44.7l-3.8 -7.2M77.7 26.8l8.7 -7.2M83.7 4.2l5.5 -6.9M27.1 46.1l1.0 -11.6M28.2 3.2l-1.2 -10.6M8.8 80.3l4.4 -3.5M47.1 75.8l6.5 -4.6M0.5 55.4l-5.8 -9.8M84.2 93.1l1.6 -8.8M64.6 23.7l-0.9 -8.2M50.4 98.6l-3.9 -2.1M21.8 54.6l8.1 -7.5M9.5 58.4l4.7 -4.0M13.0 40.9l7.7 -8.8M17.2 89.5l-9.3 -5.4M81.4 17.0l-2.0 -8.1M17.6 96.3l2.6 -5.6M19.5 2.3l-4.3 -3.5M1.7 51.5l-3.3 -7.9M8.3 46.2l3.5 -3.7M85.2 18.1l-1.3 -11.5M28.9 81.2l-0.1 -5.1M31.5 88.4l2.0 -8.4M62.3 9.6l0.4 -6.8M8.6 21.9l1.4 -9.9M19.2 82.7l0.8 -11.2M1.5 81.6l-3.3 -3.3M98.4 3.5l-2.2 -3.7M15.6 38.6l-5.9 -4.7M28.9 79.2l0.6 -9.2M76.8 23.9l8.6 -8.2M7.2 26.6l3.4 -3.6M80.9 4.0l-4.3 -9.9M13.7 24.1l6.1 -4.9M0.0 79.3l-0.3 -7.8M13.7 73.6l2.7 -5.9M85.6 95.2l-1.3 -10.9M13.2 47.5l-3.5 -3.0M97.0 0.4l8.4 -4.8M0.8 72.1l-5.9 -8.6M3.9 59.2l4.5 -7.2M72.5 8.5l-2.6 -10.1M26.0 47.1l-4.9 -5.3M19.9 76.0l-3.3 -5.0M12.7 73.2l2.5 -9.6M31.2 95.2l-1.5 -4.1M6.3 99.0l-1.7 -4.7M33.3 6.5l-4.9 -10.2M17.8 78.5l5.3 -8.1M37.5 3.3l-3.8 -4.4M6.6 18.2l1.8 -9.5M58.2 92.6l-3.2 -5.1M35.3 86.1l7.3 -4.6M7.5 95.5l-0.4 -6.0M17.8 28.9l-2.6 -4.2M66.6 19.9l7.7 -4.9M90.5 96.5l3.9 -8.6M75.5 97.6l-4.2 -4.0M60.6 7.1l3.3 -5.5M85.0 16.7l4.9 -4.5M38.5 92.5l-6.0 -8.8M54.3 87.5l3.4 -4.8M18.1 87.0l-6.5 -6.0M12.2 32.0l2.9 -6.5M37.3 69.2l-4.9 -5.3M95.0 1.3l3.2 -11.2M75.7 11.4l-8.4 -8.5M89.6 94.9l-5.1 -4.1M0.4 87.6l9.7 -5.4M15.3 43.0l4.4 -8.0M39.9 15.9l-1.8 -10.2M36.7 73.7l-6.6 -9.9M8.4 85.1l6.3 -6.6M10.1 18.0l-3.2 -3.6M88.7 13.4l-2.9 -6.7M47.9 7.6l1.6 -6.2M85.6 9.9l-9.6 -5.1M87.3 93.0l4.7 -5.8M80.3 92.3l7.8 -8.7M53.2 92.1l-2.8 -5.3M75.5 5.5l0.7 -11.1M36.0 77.6l4.0 -5.6M80.0 94.8l-7.5 -3.7M78.6 9.3l6.7 -3.2M69.6 17.1l-3.2 -5.7M45.7 86.8l-5.4 -8.2M1.1 85.7l1.1 -10.0M45.4 77.0l1.2 -4.6M39.6 14.5l6.4 -5.5M61.3 91.1l5.7 -4.0M11.4 53.5l-4.5 -2.8M24.1 79.7l-7.4 -7.1M82.3 11.1l-5.0 -6.7M34.9 79.7l3.8 -2.6M27.5 71.0l1.5 -8.7M39.1 16.0l-4.3 -6.9M18.9 81.1l6.4 -3.0M29.7 5.6l-4.0 -6.3M73.5 25.2l-7.3 -9.2M89.8 90.1l-0.4 -4.1M28.8 11.3l8.9 -4.5M44.3 15.6l-1.8 -8.1M71.5 4.2l-2.9 -5.3M38.0 75.3l3.0 -10.7M21.0 5.9l-2.1 -5.3M47.1 82.3l-2.4 -10.6M74.7 25.1l5.1 -10.7M26.2 3.7l-3.1 -10.3M56.1 93.6l6.9 -4.2M19.5 36.2l7.1 -8.6M10.7 59.2l-7.8 -8.9M38.4 5.9l7.9 -7.5M8.2 26.3l0.1 -7.9M10.9 46.2l2.1 -7.2M69.6 8.7l-6.1 -9.9M23.6 46.3l2.4 -8.5M8.0 94.3l4.6 -3.6M1.2 20.7l9.2 -4.5M17.4 32.7l3.4 -4.0M13.2 41.2l7.1 -3.5M92.3 0.3l2.0 -7.2M2.7 75.8l-1.8 -9.3M13.1 74.4l1.6 -5.7M22.3 7.5l0.6 -4.6M76.3 26.0l1.4 -8.7M76.9 97.3l1.7 -5.0M66.2 7.2l2.9 -5.2M72.9 10.1l2.6 -10.3M28.8 28.9l-2.5 -11.1M18.2 51.6l5.0 -10.4M12.4 59.6l-0.3 -8.4M9.4 30.6l-9.2 -6.7M12.0 58.2l-0.7 -10.5M79.1 7.1l6.2 -3.0M91.7 97.8l2.6 -5.5M73.5 93.3l-5.0 -5.6M72.3 97.5l7.2 -6.6M21.9 20.4l4.0 -1.9M61.5 98.0l8.4 -4.9M61.4 1.9l0.8 -10.5M49.3 84.2l-8.6 -7.2M51.9 88.8l-2.0 -5.4M14.2 35.4l5.8 -8.5M26.4 29.9l9.1 -7.1M10.7 16.7l4.7 -4.8M10.0 30.4l-8.1 -4.8M14.2 50.9l7.9 -6.5M19.9 42.5l1.3 -4.3M94.9 4.4l9.0 -5.9M44.3 9.0l5.4 -9.9M69.3 18.3l-1.8 -7.8M26.4 77.6l1.1 -8.8M11.3 39.7l4.5 -10.1M97.9 92.9l3.6 -6.0M22.9 85.3l5.7 -9.0M19.7 43.4l0.3 -6.3M85.8 93.9l-6.5 -8.0M17.7 79.7l-3.3 -11.4M29.6 87.4l-1.9 -7.6M82.6 90.6l3.6 -7.9" stroke="#93b548" stroke-width="0.45" fill="none" stroke-linecap="round"/><g filter="url(#pb1)"><polygon points="0.0,0.0 13.0,0.0 30.0,14.0 46.0,32.0 52.0,40.0 50.0,48.0 42.0,48.0 36.0,40.0 20.0,24.0 0.0,6.0" fill="#b98a6e" /><polygon points="47.0,0.0 59.0,0.0 60.0,20.0 61.0,30.0 64.0,40.0 62.0,52.0 58.0,58.0 52.0,56.0 50.0,50.0 52.0,40.0 53.0,30.0 51.0,15.0" fill="#d2a48c" /><polygon points="100.0,50.0 88.0,54.0 75.0,52.0 62.0,47.0 60.0,54.0 72.0,60.0 84.0,66.0 100.0,60.0" fill="#d3a585" /><polygon points="96.0,44.0 100.0,42.0 100.0,56.0 97.0,54.0" fill="#6b6f55" /><polygon points="50.0,50.0 55.0,50.0 57.0,60.0 58.0,76.0 52.0,80.0 48.0,74.0 48.0,60.0" fill="#8a7250" /><polygon points="58.0,54.0 61.0,53.0 70.0,66.0 78.0,80.0 76.0,88.0 68.0,84.0 62.0,80.0 59.0,66.0" fill="#928b80" /><polygon points="77.0,73.0 100.0,70.0 100.0,88.0 90.0,88.0 80.0,86.0 76.0,80.0" fill="#1d2438" /><polygon points="70.0,88.0 82.0,86.0 100.0,84.0 100.0,100.0 78.0,100.0" fill="#c09070" /><polygon points="48.0,74.0 56.0,72.0 62.0,74.0 66.0,84.0 62.0,90.0 52.0,88.0 48.0,80.0" fill="#d3a384" /><polygon points="0.0,0.0 4.0,0.0 6.0,16.0 0.0,20.0" fill="#4a5560" /></g><path d="M36.3 98.9l1.5 -7.4M88.9 94.4l-4.7 -7.7M80.5 99.2l-2.3 -12.4M57.2 86.9l-5.1 -12.2M67.4 91.9l-11.2 -5.1M46.1 93.5l4.4 -10.8M65.1 94.4l1.9 -7.7M58.7 84.7l-12.2 -7.5M95.4 84.8l-7.1 -6.5M62.8 96.5l-1.3 -8.1M60.8 84.6l0.9 -7.3M59.1 88.3l-10.2 -6.3M87.2 97.6l2.9 -8.0M78.9 84.6l-7.6 -4.2M59.0 87.9l-3.2 -10.4M68.4 80.7l-1.2 -8.2M63.1 81.8l5.4 -6.9M85.9 94.0l-3.9 -8.7M79.3 90.4l-11.3 -5.0M79.9 82.4l-1.9 -9.1M96.4 86.9l-9.1 -8.5M95.8 83.4l1.0 -11.4M78.9 87.8l-11.6 -4.5M99.0 90.3l-8.0 -8.9M63.6 92.1l-8.5 -5.6M43.7 97.2l-1.9 -7.8M79.8 82.9l-4.3 -13.4M96.3 82.5l-5.1 -8.9M49.1 87.4l-4.6 -9.2M90.8 85.2l1.4 -6.4M82.8 94.0l4.3 -11.8M48.9 96.5l4.0 -8.8M99.9 90.2l1.9 -10.0M80.4 89.1l-3.5 -5.8M58.6 98.2l-8.7 -9.9M39.5 90.6l-7.6 -9.5M66.1 99.8l-2.2 -12.3M31.6 99.2l-0.8 -11.1M87.5 93.4l3.4 -5.8M90.6 99.8l3.5 -6.0M84.6 83.6l0.5 -6.8M86.4 86.7l-3.8 -8.5M69.5 96.0l-13.6 -8.3M51.2 96.0l2.2 -8.6M95.9 96.9l2.2 -12.1M53.6 94.1l2.7 -10.4M98.2 93.9l2.0 -11.7M33.3 95.4l0.6 -14.5M61.9 83.9l2.1 -15.7M99.0 92.5l-10.2 -10.4M52.9 87.9l7.1 -8.7M74.1 80.4l3.3 -13.6M88.1 98.6l-3.1 -13.5M56.2 87.0l-11.9 -6.0M44.4 83.3l-2.5 -7.6M99.6 85.2l-6.2 -2.5M82.2 86.7l-10.7 -11.7M98.1 84.9l8.5 -13.3M58.0 80.0l-1.2 -12.2M74.6 81.1l-7.6 -12.2M52.2 79.6l-2.2 -5.8M39.3 84.8l3.0 -13.0M61.2 82.9l-5.7 -10.9M98.9 94.8l-9.4 -11.1M83.7 87.3l-7.2 -4.6M65.8 92.3l-7.4 -4.4M71.1 89.6l5.7 -12.0M41.7 99.4l1.8 -8.7M46.4 94.7l-2.0 -9.3M91.6 94.8l7.0 -11.7M58.7 83.5l-1.4 -14.2M49.0 99.6l4.6 -14.2M62.3 95.7l-6.2 -7.9M87.1 91.3l-11.8 -6.4M66.6 87.2l2.5 -5.9M61.7 88.5l-0.3 -11.8M38.6 82.4l0.0 -7.0M41.9 93.3l3.0 -13.6M98.8 89.4l-1.3 -11.3M72.3 89.4l1.1 -8.5M83.5 85.6l-0.7 -7.0M47.4 85.2l4.4 -14.1M96.8 90.8l-9.0 -9.7M73.8 90.1l0.0 -8.0M74.7 82.0l-8.8 -10.7M92.3 84.1l3.2 -14.5M51.5 81.5l-5.4 -9.7M72.6 88.8l-3.9 -5.0M68.0 93.2l-1.4 -8.4M43.9 94.5l-7.3 -9.9" stroke="#a9c760" stroke-width="0.45" fill="none" stroke-linecap="round"/><rect width="100" height="100" filter="url(#noise)" opacity="0.3"/></svg><rect x="1141.1" y="987" width="283.4" height="263.5" fill="none" stroke="#111" stroke-width="1.6"/>
<polygon points="1446.0,1873.0 1459.0,1866.0 1934.5,1864.0 1935.5,1872.0 1800.0,1874.0 1669.0,1871.0 1560.0,1875.0 1470.0,1876.0" fill="#f3e18f" stroke="#8a7a3a" stroke-width="0.6"/>
<clipPath id="clipG"><polygon points="1713.1,1497.2 1728.5,1496.8 1743.9,1496.2 1759.2,1496.0 1774.6,1495.2 1790.0,1495.0 1804.0,1496.0 1818.0,1494.9 1832.0,1495.8 1846.0,1496.7 1860.0,1496.5 1874.0,1496.2 1888.0,1496.3 1902.0,1494.6 1916.0,1494.2 1930.0,1494.0 1945.1,1493.5 1960.1,1493.1 1975.2,1492.9 1990.2,1493.7 2005.3,1493.6 2003.9,1507.6 2001.5,1521.4 1999.9,1535.3 1995.4,1548.7 1991.7,1562.3 1988.5,1576.0 1985.4,1589.8 1982.6,1606.6 1979.4,1623.3 1976.0,1640.0 1972.3,1658.2 1970.7,1676.8 1967.2,1695.0 1962.9,1711.2 1960.4,1727.8 1956.4,1744.1 1952.7,1760.4 1949.3,1774.9 1945.3,1789.2 1942.5,1803.9 1939.0,1818.3 1936.4,1833.0 1935.8,1849.5 1934.5,1866.0 1920.4,1866.0 1906.4,1864.6 1892.3,1864.8 1878.2,1864.2 1864.1,1865.1 1850.0,1864.0 1835.0,1865.0 1820.0,1864.5 1805.0,1864.9 1790.0,1865.1 1775.0,1864.2 1760.0,1865.0 1746.0,1863.6 1732.0,1864.4 1718.0,1864.0 1704.0,1863.2 1690.0,1862.0 1669.6,1864.5 1652.2,1865.5 1634.8,1864.8 1617.4,1865.9 1600.0,1866.0 1584.0,1865.1 1568.0,1867.2 1552.0,1866.2 1536.0,1867.1 1520.0,1866.5 1504.7,1866.1 1489.5,1867.2 1474.3,1867.8 1459.0,1867.5 1446.3,1872.9 1459.0,1863.8 1468.2,1852.6 1477.7,1841.6 1485.5,1829.2 1495.3,1818.5 1504.0,1806.1 1514.1,1794.8 1522.4,1782.1 1531.0,1769.6 1541.4,1758.5 1549.8,1745.9 1558.3,1733.9 1565.2,1720.9 1572.6,1708.2 1580.1,1695.6 1589.1,1683.9 1596.9,1671.4 1604.2,1658.7 1613.1,1646.3 1621.5,1633.5 1629.4,1620.4 1637.7,1607.7 1646.7,1595.3 1655.0,1582.5 1664.6,1569.2 1673.1,1555.3 1682.3,1541.7 1691.3,1528.1 1702.0,1512.5 1713.1,1497.2"/></clipPath>
<g clip-path="url(#clipG)">
<rect x="1440" y="1485" width="580" height="395" fill="#c9b985"/>
<polygon points="1400.0,1540.0 2020.0,1565.0 2020.0,1690.0 1400.0,1660.0" fill="#c3ae7e"/>
<polygon points="1400.0,1480.0 2020.0,1480.0 2020.0,1571.0 1693.0,1548.0 1400.0,1540.0" fill="#b9a578"/>
<path d="M1649.3 1682.5 Q1694.9 1683.0 1740.5 1689.1 Q1694.9 1688.6 1649.3 1682.5Z M1790.1 1634.2 Q1823.7 1631.6 1857.2 1634.3 Q1823.7 1636.9 1790.1 1634.2Z M1729.4 1662.1 Q1799.8 1664.8 1870.2 1671.1 Q1799.8 1668.4 1729.4 1662.1Z M1837.6 1560.1 Q1864.6 1557.3 1891.5 1561.0 Q1864.6 1563.8 1837.6 1560.1Z M1705.5 1650.0 Q1777.3 1651.7 1849.0 1660.3 Q1777.3 1658.6 1705.5 1650.0Z M1641.1 1596.0 Q1698.4 1597.7 1755.7 1603.5 Q1698.4 1601.9 1641.1 1596.0Z M1741.1 1654.1 Q1787.5 1656.1 1834.0 1661.4 Q1787.5 1659.4 1741.1 1654.1Z M1814.4 1603.5 Q1851.6 1601.8 1888.8 1603.9 Q1851.6 1605.5 1814.4 1603.5Z M1769.9 1640.1 Q1802.9 1638.2 1836.0 1642.5 Q1802.9 1644.5 1769.9 1640.1Z M1657.8 1553.7 Q1728.2 1555.9 1798.6 1563.2 Q1728.2 1560.9 1657.8 1553.7Z M1874.1 1651.6 Q1946.4 1649.1 2018.6 1652.8 Q1946.4 1655.3 1874.1 1651.6Z M1952.3 1636.1 Q1997.3 1634.8 2042.2 1639.5 Q1997.3 1640.7 1952.3 1636.1Z" fill="#cdbd8a"/><path d="M1839.3 1672.9 Q1900.1 1673.1 1960.9 1680.1 Q1900.1 1679.9 1839.3 1672.9Z M1954.4 1607.9 Q2022.4 1607.5 2090.3 1613.8 Q2022.4 1614.3 1954.4 1607.9Z M1755.6 1575.6 Q1784.7 1574.7 1813.8 1577.0 Q1784.7 1578.0 1755.6 1575.6Z M1879.9 1565.0 Q1946.4 1563.8 2012.9 1568.9 Q1946.4 1570.0 1879.9 1565.0Z M1642.9 1573.9 Q1665.5 1570.8 1688.0 1574.6 Q1665.5 1577.6 1642.9 1573.9Z M1937.5 1614.8 Q2009.3 1615.6 2081.1 1620.8 Q2009.3 1620.0 1937.5 1614.8Z M1674.6 1663.3 Q1735.7 1660.2 1796.9 1663.6 Q1735.7 1666.7 1674.6 1663.3Z M1669.2 1636.5 Q1707.9 1634.2 1746.7 1638.6 Q1707.9 1640.9 1669.2 1636.5Z M1860.5 1584.2 Q1935.4 1588.5 2010.2 1596.0 Q1935.4 1591.7 1860.5 1584.2Z M1687.8 1592.7 Q1754.2 1595.6 1820.7 1603.4 Q1754.2 1600.4 1687.8 1592.7Z M1769.2 1609.3 Q1797.3 1608.0 1825.3 1613.6 Q1797.3 1614.9 1769.2 1609.3Z M1799.8 1570.2 Q1838.4 1570.6 1877.0 1575.1 Q1838.4 1574.7 1799.8 1570.2Z M1755.6 1665.0 Q1818.9 1665.4 1882.1 1671.7 Q1818.9 1671.2 1755.6 1665.0Z M1756.3 1594.9 Q1815.0 1596.0 1873.8 1602.1 Q1815.0 1600.9 1756.3 1594.9Z" fill="#b39e72"/>
</g>
<polygon points="1713.1,1497.2 1728.5,1496.8 1743.9,1496.2 1759.2,1496.0 1774.6,1495.2 1790.0,1495.0 1804.0,1496.0 1818.0,1494.9 1832.0,1495.8 1846.0,1496.7 1860.0,1496.5 1874.0,1496.2 1888.0,1496.3 1902.0,1494.6 1916.0,1494.2 1930.0,1494.0 1945.1,1493.5 1960.1,1493.1 1975.2,1492.9 1990.2,1493.7 2005.3,1493.6 2003.9,1507.6 2001.5,1521.4 1999.9,1535.3 1995.4,1548.7 1991.7,1562.3 1988.5,1576.0 1985.4,1589.8 1982.6,1606.6 1979.4,1623.3 1976.0,1640.0 1972.3,1658.2 1970.7,1676.8 1967.2,1695.0 1962.9,1711.2 1960.4,1727.8 1956.4,1744.1 1952.7,1760.4 1949.3,1774.9 1945.3,1789.2 1942.5,1803.9 1939.0,1818.3 1936.4,1833.0 1935.8,1849.5 1934.5,1866.0 1920.4,1866.0 1906.4,1864.6 1892.3,1864.8 1878.2,1864.2 1864.1,1865.1 1850.0,1864.0 1835.0,1865.0 1820.0,1864.5 1805.0,1864.9 1790.0,1865.1 1775.0,1864.2 1760.0,1865.0 1746.0,1863.6 1732.0,1864.4 1718.0,1864.0 1704.0,1863.2 1690.0,1862.0 1669.6,1864.5 1652.2,1865.5 1634.8,1864.8 1617.4,1865.9 1600.0,1866.0 1584.0,1865.1 1568.0,1867.2 1552.0,1866.2 1536.0,1867.1 1520.0,1866.5 1504.7,1866.1 1489.5,1867.2 1474.3,1867.8 1459.0,1867.5 1446.3,1872.9 1459.0,1863.8 1468.2,1852.6 1477.7,1841.6 1485.5,1829.2 1495.3,1818.5 1504.0,1806.1 1514.1,1794.8 1522.4,1782.1 1531.0,1769.6 1541.4,1758.5 1549.8,1745.9 1558.3,1733.9 1565.2,1720.9 1572.6,1708.2 1580.1,1695.6 1589.1,1683.9 1596.9,1671.4 1604.2,1658.7 1613.1,1646.3 1621.5,1633.5 1629.4,1620.4 1637.7,1607.7 1646.7,1595.3 1655.0,1582.5 1664.6,1569.2 1673.1,1555.3 1682.3,1541.7 1691.3,1528.1 1702.0,1512.5 1713.1,1497.2" fill="none" stroke="#2b2416" stroke-width="1" stroke-linejoin="round"/>
<path d="M1718.6 1512.8 L1987.2 1512.8 L1920.0 1849.3 L1493.5 1849.3 Z" fill="none" stroke="#333" stroke-width="4.6" stroke-dasharray="34 7"/>
<path d="M1718.6 1512.8 L1987.2 1512.8 L1920.0 1849.3 L1493.5 1849.3 Z" fill="none" stroke="#fbfbf2" stroke-width="2.8" stroke-dasharray="32.4 8.6" stroke-dashoffset="-0.8"/>
<polygon points="1695.2,1487.9 1698.8,1485.1 1712.0,1503.8 1716.5,1511.5 1709.8,1506.7" fill="#fdfdf6" stroke="#2b2416" stroke-width="0.8" stroke-linejoin="round"/>
<polygon points="1898.2,1823.4 1901.8,1820.6 1916.5,1840.8 1921.5,1849.0 1914.3,1843.7" fill="#fdfdf6" stroke="#2b2416" stroke-width="0.8" stroke-linejoin="round"/>
<circle cx="1716" cy="1511.6" r="2.6" fill="#111"/><svg x="1140.3" y="1512.1" width="282.7" height="392.2" viewBox="0 0 100 100" preserveAspectRatio="none" overflow="hidden"><rect width="100" height="100" fill="#7f97ad"/><path d="M5 0 L0 20 M22 0 L8 100 M37 0 L30 100 M53 0 L56 100 M69 0 L86 100 M0 3 L90 4 M0 17 L90 18 M0 30 L90 31 M0 43 L90 44 M0 57 L90 58 M0 72 L90 73 M0 87 L90 88" stroke="#a9a794" stroke-width="0.6" fill="none"/><g filter="url(#pb1)"><polygon points="68.5,-2.0 105.0,-2.0 105.0,105.0 88.0,105.0" fill="#8c7a68" /><path d="M83.8 55.7a1.0 0.8 0 1 0 2.1 0a1.0 0.8 0 1 0 -2.1 0M78.7 32.1a1.0 0.8 0 1 0 1.9 0a1.0 0.8 0 1 0 -1.9 0M83.9 35.9a0.7 0.6 0 1 0 1.4 0a0.7 0.6 0 1 0 -1.4 0M79.0 16.8a0.9 0.7 0 1 0 1.8 0a0.9 0.7 0 1 0 -1.8 0M95.9 68.9a0.9 0.7 0 1 0 1.8 0a0.9 0.7 0 1 0 -1.8 0M79.6 43.4a0.5 0.4 0 1 0 1.0 0a0.5 0.4 0 1 0 -1.0 0M91.2 29.6a0.6 0.5 0 1 0 1.3 0a0.6 0.5 0 1 0 -1.3 0M98.2 34.0a1.2 0.9 0 1 0 2.4 0a1.2 0.9 0 1 0 -2.4 0M87.6 76.1a0.9 0.7 0 1 0 1.8 0a0.9 0.7 0 1 0 -1.8 0M77.3 40.8a0.5 0.4 0 1 0 1.0 0a0.5 0.4 0 1 0 -1.0 0M94.8 99.8a0.7 0.6 0 1 0 1.5 0a0.7 0.6 0 1 0 -1.5 0M88.2 61.7a0.4 0.3 0 1 0 0.9 0a0.4 0.3 0 1 0 -0.9 0M83.9 42.3a0.7 0.6 0 1 0 1.4 0a0.7 0.6 0 1 0 -1.4 0M88.8 62.9a0.7 0.6 0 1 0 1.5 0a0.7 0.6 0 1 0 -1.5 0M98.1 36.9a0.6 0.5 0 1 0 1.1 0a0.6 0.5 0 1 0 -1.1 0M97.4 85.2a0.8 0.6 0 1 0 1.5 0a0.8 0.6 0 1 0 -1.5 0M90.8 80.7a0.5 0.4 0 1 0 1.1 0a0.5 0.4 0 1 0 -1.1 0M87.7 73.8a0.6 0.5 0 1 0 1.2 0a0.6 0.5 0 1 0 -1.2 0M86.3 41.0a0.8 0.6 0 1 0 1.6 0a0.8 0.6 0 1 0 -1.6 0M77.2 24.8a0.5 0.4 0 1 0 1.0 0a0.5 0.4 0 1 0 -1.0 0M80.9 14.7a1.1 0.9 0 1 0 2.2 0a1.1 0.9 0 1 0 -2.2 0M98.2 59.1a0.5 0.4 0 1 0 0.9 0a0.5 0.4 0 1 0 -0.9 0M87.3 15.5a0.7 0.6 0 1 0 1.4 0a0.7 0.6 0 1 0 -1.4 0M96.9 57.9a1.0 0.8 0 1 0 2.1 0a1.0 0.8 0 1 0 -2.1 0M91.3 53.1a0.5 0.4 0 1 0 0.9 0a0.5 0.4 0 1 0 -0.9 0M84.3 34.0a1.1 0.9 0 1 0 2.3 0a1.1 0.9 0 1 0 -2.3 0M75.1 13.2a0.9 0.7 0 1 0 1.8 0a0.9 0.7 0 1 0 -1.8 0M87.5 5.3a0.7 0.5 0 1 0 1.4 0a0.7 0.5 0 1 0 -1.4 0M92.5 87.3a0.8 0.7 0 1 0 1.7 0a0.8 0.7 0 1 0 -1.7 0M97.5 47.0a0.6 0.5 0 1 0 1.3 0a0.6 0.5 0 1 0 -1.3 0M88.3 61.7a1.2 0.9 0 1 0 2.4 0a1.2 0.9 0 1 0 -2.4 0M88.0 31.0a1.0 0.8 0 1 0 1.9 0a1.0 0.8 0 1 0 -1.9 0M96.6 17.9a1.2 0.9 0 1 0 2.3 0a1.2 0.9 0 1 0 -2.3 0M81.7 11.3a0.8 0.6 0 1 0 1.6 0a0.8 0.6 0 1 0 -1.6 0M92.8 49.1a0.6 0.5 0 1 0 1.2 0a0.6 0.5 0 1 0 -1.2 0M92.1 10.2a0.9 0.7 0 1 0 1.9 0a0.9 0.7 0 1 0 -1.9 0M84.6 28.0a0.6 0.5 0 1 0 1.1 0a0.6 0.5 0 1 0 -1.1 0M94.0 45.7a0.6 0.5 0 1 0 1.3 0a0.6 0.5 0 1 0 -1.3 0M87.3 76.8a0.5 0.4 0 1 0 0.9 0a0.5 0.4 0 1 0 -0.9 0M82.7 15.2a1.0 0.8 0 1 0 2.0 0a1.0 0.8 0 1 0 -2.0 0M86.0 51.6a0.8 0.7 0 1 0 1.7 0a0.8 0.7 0 1 0 -1.7 0M87.2 61.1a0.7 0.5 0 1 0 1.3 0a0.7 0.5 0 1 0 -1.3 0M87.5 78.5a1.0 0.8 0 1 0 2.0 0a1.0 0.8 0 1 0 -2.0 0M86.6 44.1a0.9 0.7 0 1 0 1.8 0a0.9 0.7 0 1 0 -1.8 0M84.2 20.7a1.1 0.9 0 1 0 2.3 0a1.1 0.9 0 1 0 -2.3 0M71.1 3.5a0.6 0.5 0 1 0 1.3 0a0.6 0.5 0 1 0 -1.3 0M87.3 39.0a1.2 0.9 0 1 0 2.4 0a1.2 0.9 0 1 0 -2.4 0M98.4 54.8a1.0 0.8 0 1 0 2.1 0a1.0 0.8 0 1 0 -2.1 0M82.1 33.8a1.1 0.9 0 1 0 2.3 0a1.1 0.9 0 1 0 -2.3 0M81.6 8.9a0.4 0.3 0 1 0 0.8 0a0.4 0.3 0 1 0 -0.8 0M93.1 18.0a0.9 0.7 0 1 0 1.8 0a0.9 0.7 0 1 0 -1.8 0M98.0 36.8a1.0 0.8 0 1 0 2.1 0a1.0 0.8 0 1 0 -2.1 0M96.2 23.4a0.8 0.6 0 1 0 1.6 0a0.8 0.6 0 1 0 -1.6 0M99.1 95.2a0.9 0.7 0 1 0 1.7 0a0.9 0.7 0 1 0 -1.7 0M85.4 2.1a1.1 0.9 0 1 0 2.1 0a1.1 0.9 0 1 0 -2.1 0M97.8 56.4a0.6 0.5 0 1 0 1.2 0a0.6 0.5 0 1 0 -1.2 0M89.8 59.8a1.1 0.9 0 1 0 2.1 0a1.1 0.9 0 1 0 -2.1 0M70.6 0.6a0.5 0.4 0 1 0 1.0 0a0.5 0.4 0 1 0 -1.0 0M78.7 4.9a0.6 0.5 0 1 0 1.2 0a0.6 0.5 0 1 0 -1.2 0M85.0 20.0a0.8 0.6 0 1 0 1.6 0a0.8 0.6 0 1 0 -1.6 0M86.2 89.4a0.9 0.7 0 1 0 1.8 0a0.9 0.7 0 1 0 -1.8 0M91.3 93.3a0.9 0.7 0 1 0 1.8 0a0.9 0.7 0 1 0 -1.8 0M90.4 89.2a0.6 0.4 0 1 0 1.1 0a0.6 0.4 0 1 0 -1.1 0M94.5 48.0a0.6 0.5 0 1 0 1.2 0a0.6 0.5 0 1 0 -1.2 0M76.5 9.9a1.1 0.9 0 1 0 2.2 0a1.1 0.9 0 1 0 -2.2 0M76.9 25.0a0.7 0.5 0 1 0 1.4 0a0.7 0.5 0 1 0 -1.4 0M94.7 6.6a0.7 0.6 0 1 0 1.4 0a0.7 0.6 0 1 0 -1.4 0M78.9 48.6a0.9 0.7 0 1 0 1.8 0a0.9 0.7 0 1 0 -1.8 0M94.9 63.6a1.1 0.9 0 1 0 2.2 0a1.1 0.9 0 1 0 -2.2 0M96.0 81.3a0.4 0.3 0 1 0 0.8 0a0.4 0.3 0 1 0 -0.8 0M84.9 53.1a1.0 0.8 0 1 0 2.0 0a1.0 0.8 0 1 0 -2.0 0M92.3 21.8a0.9 0.7 0 1 0 1.7 0a0.9 0.7 0 1 0 -1.7 0M83.2 44.4a1.0 0.8 0 1 0 2.0 0a1.0 0.8 0 1 0 -2.0 0M90.7 70.7a0.7 0.6 0 1 0 1.4 0a0.7 0.6 0 1 0 -1.4 0M77.1 31.0a0.5 0.4 0 1 0 1.0 0a0.5 0.4 0 1 0 -1.0 0M98.2 61.4a0.6 0.5 0 1 0 1.2 0a0.6 0.5 0 1 0 -1.2 0M97.6 19.6a0.9 0.8 0 1 0 1.9 0a0.9 0.8 0 1 0 -1.9 0M96.6 83.7a0.7 0.6 0 1 0 1.4 0a0.7 0.6 0 1 0 -1.4 0M82.4 49.7a1.1 0.9 0 1 0 2.3 0a1.1 0.9 0 1 0 -2.3 0M86.3 24.8a1.1 0.9 0 1 0 2.3 0a1.1 0.9 0 1 0 -2.3 0M97.8 77.3a0.5 0.4 0 1 0 1.0 0a0.5 0.4 0 1 0 -1.0 0M93.4 45.1a1.2 1.0 0 1 0 2.4 0a1.2 1.0 0 1 0 -2.4 0M80.8 17.7a0.5 0.4 0 1 0 1.0 0a0.5 0.4 0 1 0 -1.0 0M99.5 43.0a0.4 0.3 0 1 0 0.8 0a0.4 0.3 0 1 0 -0.8 0M99.3 20.4a0.6 0.5 0 1 0 1.1 0a0.6 0.5 0 1 0 -1.1 0M74.0 9.9a0.4 0.3 0 1 0 0.8 0a0.4 0.3 0 1 0 -0.8 0M82.1 41.2a0.9 0.7 0 1 0 1.8 0a0.9 0.7 0 1 0 -1.8 0M76.0 25.9a0.5 0.4 0 1 0 1.0 0a0.5 0.4 0 1 0 -1.0 0M81.3 43.4a0.5 0.4 0 1 0 1.0 0a0.5 0.4 0 1 0 -1.0 0M94.0 33.4a0.9 0.8 0 1 0 1.9 0a0.9 0.8 0 1 0 -1.9 0M74.5 4.2a1.2 0.9 0 1 0 2.4 0a1.2 0.9 0 1 0 -2.4 0M76.0 1.2a1.1 0.9 0 1 0 2.3 0a1.1 0.9 0 1 0 -2.3 0M81.9 0.6a0.9 0.7 0 1 0 1.8 0a0.9 0.7 0 1 0 -1.8 0M93.6 66.2a1.0 0.8 0 1 0 1.9 0a1.0 0.8 0 1 0 -1.9 0M97.5 24.6a0.4 0.4 0 1 0 0.9 0a0.4 0.4 0 1 0 -0.9 0M87.4 80.6a1.1 0.9 0 1 0 2.3 0a1.1 0.9 0 1 0 -2.3 0M80.8 44.4a0.7 0.6 0 1 0 1.4 0a0.7 0.6 0 1 0 -1.4 0M96.7 21.8a0.5 0.4 0 1 0 1.0 0a0.5 0.4 0 1 0 -1.0 0M76.9 37.3a0.5 0.4 0 1 0 1.1 0a0.5 0.4 0 1 0 -1.1 0M98.7 7.8a0.5 0.4 0 1 0 1.1 0a0.5 0.4 0 1 0 -1.1 0M90.1 48.5a0.7 0.6 0 1 0 1.4 0a0.7 0.6 0 1 0 -1.4 0M80.9 41.3a0.6 0.5 0 1 0 1.3 0a0.6 0.5 0 1 0 -1.3 0M91.5 38.6a0.5 0.4 0 1 0 1.0 0a0.5 0.4 0 1 0 -1.0 0M85.0 6.4a0.7 0.5 0 1 0 1.3 0a0.7 0.5 0 1 0 -1.3 0M96.6 23.2a0.9 0.7 0 1 0 1.8 0a0.9 0.7 0 1 0 -1.8 0M86.7 88.2a0.5 0.4 0 1 0 1.1 0a0.5 0.4 0 1 0 -1.1 0M84.7 57.9a0.8 0.6 0 1 0 1.6 0a0.8 0.6 0 1 0 -1.6 0M83.6 1.9a0.5 0.4 0 1 0 1.1 0a0.5 0.4 0 1 0 -1.1 0M97.4 30.7a1.2 0.9 0 1 0 2.3 0a1.2 0.9 0 1 0 -2.3 0M69.3 0.5a1.1 0.9 0 1 0 2.2 0a1.1 0.9 0 1 0 -2.2 0M93.9 26.9a1.1 0.9 0 1 0 2.2 0a1.1 0.9 0 1 0 -2.2 0M91.1 83.4a0.7 0.6 0 1 0 1.4 0a0.7 0.6 0 1 0 -1.4 0M78.5 24.0a1.1 0.9 0 1 0 2.2 0a1.1 0.9 0 1 0 -2.2 0M83.2 47.1a0.8 0.6 0 1 0 1.6 0a0.8 0.6 0 1 0 -1.6 0M89.6 80.5a0.6 0.5 0 1 0 1.2 0a0.6 0.5 0 1 0 -1.2 0M84.4 72.1a1.0 0.8 0 1 0 1.9 0a1.0 0.8 0 1 0 -1.9 0M93.9 3.4a0.5 0.4 0 1 0 1.0 0a0.5 0.4 0 1 0 -1.0 0M93.7 39.3a0.6 0.5 0 1 0 1.2 0a0.6 0.5 0 1 0 -1.2 0M82.1 16.7a1.0 0.8 0 1 0 2.0 0a1.0 0.8 0 1 0 -2.0 0M96.1 22.7a0.7 0.6 0 1 0 1.4 0a0.7 0.6 0 1 0 -1.4 0M85.1 10.4a0.8 0.7 0 1 0 1.6 0a0.8 0.7 0 1 0 -1.6 0M96.1 51.9a1.1 0.9 0 1 0 2.3 0a1.1 0.9 0 1 0 -2.3 0M71.8 2.0a0.7 0.6 0 1 0 1.5 0a0.7 0.6 0 1 0 -1.5 0M95.7 90.4a1.2 1.0 0 1 0 2.4 0a1.2 1.0 0 1 0 -2.4 0M93.3 39.9a1.0 0.8 0 1 0 2.0 0a1.0 0.8 0 1 0 -2.0 0M91.6 49.3a1.1 0.8 0 1 0 2.1 0a1.1 0.8 0 1 0 -2.1 0M91.7 18.3a0.4 0.4 0 1 0 0.9 0a0.4 0.4 0 1 0 -0.9 0M81.4 31.6a1.0 0.8 0 1 0 2.0 0a1.0 0.8 0 1 0 -2.0 0M75.0 25.0a0.5 0.4 0 1 0 1.0 0a0.5 0.4 0 1 0 -1.0 0M96.5 24.4a0.7 0.6 0 1 0 1.4 0a0.7 0.6 0 1 0 -1.4 0M85.5 18.4a1.1 0.9 0 1 0 2.2 0a1.1 0.9 0 1 0 -2.2 0M93.5 10.3a0.5 0.4 0 1 0 1.1 0a0.5 0.4 0 1 0 -1.1 0M94.6 21.3a0.7 0.6 0 1 0 1.4 0a0.7 0.6 0 1 0 -1.4 0M94.5 29.8a0.8 0.7 0 1 0 1.7 0a0.8 0.7 0 1 0 -1.7 0M91.9 80.4a0.6 0.5 0 1 0 1.2 0a0.6 0.5 0 1 0 -1.2 0M87.5 18.4a1.2 0.9 0 1 0 2.4 0a1.2 0.9 0 1 0 -2.4 0M78.6 5.4a0.4 0.3 0 1 0 0.8 0a0.4 0.3 0 1 0 -0.8 0M90.9 23.4a0.5 0.4 0 1 0 1.0 0a0.5 0.4 0 1 0 -1.0 0M90.7 81.9a0.6 0.5 0 1 0 1.2 0a0.6 0.5 0 1 0 -1.2 0M94.9 46.7a1.0 0.8 0 1 0 1.9 0a1.0 0.8 0 1 0 -1.9 0M86.9 76.7a1.2 0.9 0 1 0 2.3 0a1.2 0.9 0 1 0 -2.3 0M97.8 27.2a0.6 0.5 0 1 0 1.3 0a0.6 0.5 0 1 0 -1.3 0M93.9 31.8a0.9 0.7 0 1 0 1.7 0a0.9 0.7 0 1 0 -1.7 0M87.3 7.3a0.5 0.4 0 1 0 1.0 0a0.5 0.4 0 1 0 -1.0 0M90.1 58.3a1.0 0.8 0 1 0 2.0 0a1.0 0.8 0 1 0 -2.0 0M94.9 50.8a0.8 0.6 0 1 0 1.6 0a0.8 0.6 0 1 0 -1.6 0M88.3 70.4a1.1 0.9 0 1 0 2.2 0a1.1 0.9 0 1 0 -2.2 0M87.8 40.6a0.9 0.7 0 1 0 1.8 0a0.9 0.7 0 1 0 -1.8 0M93.4 59.7a0.7 0.5 0 1 0 1.3 0a0.7 0.5 0 1 0 -1.3 0M84.8 53.4a0.6 0.4 0 1 0 1.1 0a0.6 0.4 0 1 0 -1.1 0M95.2 5.6a1.1 0.9 0 1 0 2.2 0a1.1 0.9 0 1 0 -2.2 0M76.1 31.2a1.1 0.9 0 1 0 2.2 0a1.1 0.9 0 1 0 -2.2 0M82.5 59.6a0.4 0.4 0 1 0 0.9 0a0.4 0.4 0 1 0 -0.9 0M83.4 57.1a0.8 0.7 0 1 0 1.7 0a0.8 0.7 0 1 0 -1.7 0M80.0 4.9a0.4 0.4 0 1 0 0.9 0a0.4 0.4 0 1 0 -0.9 0M91.5 48.8a0.9 0.7 0 1 0 1.8 0a0.9 0.7 0 1 0 -1.8 0M91.3 86.7a0.5 0.4 0 1 0 0.9 0a0.5 0.4 0 1 0 -0.9 0M82.1 9.8a1.0 0.8 0 1 0 2.0 0a1.0 0.8 0 1 0 -2.0 0M73.0 6.9a0.6 0.5 0 1 0 1.2 0a0.6 0.5 0 1 0 -1.2 0M78.2 8.5a1.1 0.9 0 1 0 2.1 0a1.1 0.9 0 1 0 -2.1 0M98.2 64.5a0.8 0.6 0 1 0 1.6 0a0.8 0.6 0 1 0 -1.6 0M81.2 28.2a0.8 0.6 0 1 0 1.5 0a0.8 0.6 0 1 0 -1.5 0M85.0 74.3a0.7 0.6 0 1 0 1.4 0a0.7 0.6 0 1 0 -1.4 0M90.4 8.0a0.8 0.6 0 1 0 1.6 0a0.8 0.6 0 1 0 -1.6 0M79.3 25.3a0.8 0.7 0 1 0 1.7 0a0.8 0.7 0 1 0 -1.7 0M76.5 11.1a0.5 0.4 0 1 0 0.9 0a0.5 0.4 0 1 0 -0.9 0M94.3 56.3a0.7 0.6 0 1 0 1.5 0a0.7 0.6 0 1 0 -1.5 0M90.2 60.2a0.7 0.5 0 1 0 1.4 0a0.7 0.5 0 1 0 -1.4 0M94.0 53.5a0.7 0.5 0 1 0 1.3 0a0.7 0.5 0 1 0 -1.3 0M87.8 69.9a1.1 0.9 0 1 0 2.2 0a1.1 0.9 0 1 0 -2.2 0M89.3 69.4a0.6 0.4 0 1 0 1.1 0a0.6 0.4 0 1 0 -1.1 0M95.1 55.5a0.6 0.5 0 1 0 1.2 0a0.6 0.5 0 1 0 -1.2 0M95.9 15.9a0.9 0.7 0 1 0 1.7 0a0.9 0.7 0 1 0 -1.7 0M98.0 95.8a0.8 0.6 0 1 0 1.5 0a0.8 0.6 0 1 0 -1.5 0M97.0 91.4a0.7 0.6 0 1 0 1.4 0a0.7 0.6 0 1 0 -1.4 0M72.7 9.2a1.1 0.9 0 1 0 2.3 0a1.1 0.9 0 1 0 -2.3 0M81.2 15.2a0.6 0.5 0 1 0 1.3 0a0.6 0.5 0 1 0 -1.3 0M88.2 22.1a0.8 0.6 0 1 0 1.5 0a0.8 0.6 0 1 0 -1.5 0M85.6 78.8a0.7 0.5 0 1 0 1.3 0a0.7 0.5 0 1 0 -1.3 0M91.7 58.9a0.4 0.3 0 1 0 0.8 0a0.4 0.3 0 1 0 -0.8 0M98.7 88.4a0.5 0.4 0 1 0 1.0 0a0.5 0.4 0 1 0 -1.0 0M96.1 48.8a1.0 0.8 0 1 0 2.1 0a1.0 0.8 0 1 0 -2.1 0M87.9 69.1a0.6 0.5 0 1 0 1.2 0a0.6 0.5 0 1 0 -1.2 0M90.4 0.4a0.6 0.5 0 1 0 1.2 0a0.6 0.5 0 1 0 -1.2 0M98.0 84.7a0.5 0.4 0 1 0 0.9 0a0.5 0.4 0 1 0 -0.9 0M88.5 98.2a1.1 0.9 0 1 0 2.2 0a1.1 0.9 0 1 0 -2.2 0M95.7 15.5a1.0 0.8 0 1 0 2.0 0a1.0 0.8 0 1 0 -2.0 0M88.1 8.1a0.6 0.5 0 1 0 1.2 0a0.6 0.5 0 1 0 -1.2 0M95.7 14.5a0.8 0.7 0 1 0 1.7 0a0.8 0.7 0 1 0 -1.7 0M91.7 49.8a0.7 0.5 0 1 0 1.4 0a0.7 0.5 0 1 0 -1.4 0M93.9 93.6a1.1 0.8 0 1 0 2.1 0a1.1 0.8 0 1 0 -2.1 0M91.2 48.3a0.8 0.7 0 1 0 1.7 0a0.8 0.7 0 1 0 -1.7 0M76.8 22.6a0.8 0.6 0 1 0 1.5 0a0.8 0.6 0 1 0 -1.5 0M86.8 5.3a0.8 0.6 0 1 0 1.5 0a0.8 0.6 0 1 0 -1.5 0M95.0 89.5a0.9 0.7 0 1 0 1.8 0a0.9 0.7 0 1 0 -1.8 0M98.7 99.0a0.5 0.4 0 1 0 0.9 0a0.5 0.4 0 1 0 -0.9 0M87.3 38.3a0.7 0.5 0 1 0 1.3 0a0.7 0.5 0 1 0 -1.3 0M94.8 10.3a1.2 1.0 0 1 0 2.4 0a1.2 1.0 0 1 0 -2.4 0M82.2 61.1a0.6 0.5 0 1 0 1.2 0a0.6 0.5 0 1 0 -1.2 0M85.7 19.0a0.5 0.4 0 1 0 0.9 0a0.5 0.4 0 1 0 -0.9 0" fill="#7c6c5e"/><path d="M96.8 17.3a1.1 0.9 0 1 0 2.2 0a1.1 0.9 0 1 0 -2.2 0M96.2 35.6a0.8 0.6 0 1 0 1.5 0a0.8 0.6 0 1 0 -1.5 0M99.1 17.2a0.5 0.4 0 1 0 1.0 0a0.5 0.4 0 1 0 -1.0 0M83.2 51.9a0.9 0.8 0 1 0 1.9 0a0.9 0.8 0 1 0 -1.9 0M74.4 21.3a0.5 0.4 0 1 0 0.9 0a0.5 0.4 0 1 0 -0.9 0M85.5 56.3a0.8 0.7 0 1 0 1.7 0a0.8 0.7 0 1 0 -1.7 0M97.4 30.6a0.6 0.5 0 1 0 1.3 0a0.6 0.5 0 1 0 -1.3 0M78.5 29.0a0.7 0.6 0 1 0 1.4 0a0.7 0.6 0 1 0 -1.4 0M90.2 28.0a0.5 0.4 0 1 0 1.0 0a0.5 0.4 0 1 0 -1.0 0M91.1 57.5a0.8 0.6 0 1 0 1.6 0a0.8 0.6 0 1 0 -1.6 0M96.2 98.9a1.0 0.8 0 1 0 2.0 0a1.0 0.8 0 1 0 -2.0 0M80.1 56.6a1.0 0.8 0 1 0 2.1 0a1.0 0.8 0 1 0 -2.1 0M79.4 39.9a0.9 0.7 0 1 0 1.8 0a0.9 0.7 0 1 0 -1.8 0M79.6 47.4a0.7 0.5 0 1 0 1.3 0a0.7 0.5 0 1 0 -1.3 0M94.2 51.8a0.5 0.4 0 1 0 0.9 0a0.5 0.4 0 1 0 -0.9 0M88.6 26.0a1.1 0.9 0 1 0 2.2 0a1.1 0.9 0 1 0 -2.2 0M98.7 96.8a1.1 0.8 0 1 0 2.1 0a1.1 0.8 0 1 0 -2.1 0M97.3 57.1a1.0 0.8 0 1 0 2.0 0a1.0 0.8 0 1 0 -2.0 0M81.1 6.6a1.0 0.8 0 1 0 2.1 0a1.0 0.8 0 1 0 -2.1 0M96.9 25.8a0.7 0.5 0 1 0 1.3 0a0.7 0.5 0 1 0 -1.3 0M93.0 48.6a0.5 0.4 0 1 0 1.0 0a0.5 0.4 0 1 0 -1.0 0M87.6 30.9a0.4 0.3 0 1 0 0.9 0a0.4 0.3 0 1 0 -0.9 0M93.0 72.3a0.8 0.7 0 1 0 1.7 0a0.8 0.7 0 1 0 -1.7 0M98.3 51.2a0.6 0.5 0 1 0 1.2 0a0.6 0.5 0 1 0 -1.2 0M97.3 34.7a0.8 0.6 0 1 0 1.5 0a0.8 0.6 0 1 0 -1.5 0M89.7 53.1a0.7 0.6 0 1 0 1.5 0a0.7 0.6 0 1 0 -1.5 0M79.4 46.0a0.8 0.6 0 1 0 1.5 0a0.8 0.6 0 1 0 -1.5 0M92.1 2.8a0.5 0.4 0 1 0 1.0 0a0.5 0.4 0 1 0 -1.0 0M90.9 34.6a0.5 0.4 0 1 0 1.0 0a0.5 0.4 0 1 0 -1.0 0M90.3 98.3a0.6 0.5 0 1 0 1.3 0a0.6 0.5 0 1 0 -1.3 0M87.0 55.0a0.8 0.6 0 1 0 1.6 0a0.8 0.6 0 1 0 -1.6 0M86.9 91.4a1.0 0.8 0 1 0 2.0 0a1.0 0.8 0 1 0 -2.0 0M95.7 68.9a0.9 0.7 0 1 0 1.9 0a0.9 0.7 0 1 0 -1.9 0M91.8 74.2a0.9 0.7 0 1 0 1.8 0a0.9 0.7 0 1 0 -1.8 0M92.2 5.9a0.5 0.4 0 1 0 1.0 0a0.5 0.4 0 1 0 -1.0 0M89.0 42.3a0.6 0.4 0 1 0 1.1 0a0.6 0.4 0 1 0 -1.1 0M88.5 20.2a0.9 0.7 0 1 0 1.9 0a0.9 0.7 0 1 0 -1.9 0M90.9 57.1a0.5 0.4 0 1 0 1.0 0a0.5 0.4 0 1 0 -1.0 0M85.2 23.9a0.5 0.4 0 1 0 0.9 0a0.5 0.4 0 1 0 -0.9 0M90.0 54.6a1.1 0.9 0 1 0 2.2 0a1.1 0.9 0 1 0 -2.2 0M94.2 4.4a1.1 0.8 0 1 0 2.1 0a1.1 0.8 0 1 0 -2.1 0M78.4 46.8a0.9 0.7 0 1 0 1.8 0a0.9 0.7 0 1 0 -1.8 0M79.3 34.0a0.8 0.6 0 1 0 1.6 0a0.8 0.6 0 1 0 -1.6 0M76.8 24.1a0.6 0.5 0 1 0 1.2 0a0.6 0.5 0 1 0 -1.2 0M79.7 9.4a0.8 0.6 0 1 0 1.5 0a0.8 0.6 0 1 0 -1.5 0M97.7 60.8a0.5 0.4 0 1 0 1.1 0a0.5 0.4 0 1 0 -1.1 0M74.0 6.2a0.5 0.4 0 1 0 1.1 0a0.5 0.4 0 1 0 -1.1 0M94.5 76.5a1.0 0.8 0 1 0 2.0 0a1.0 0.8 0 1 0 -2.0 0M80.1 55.6a0.9 0.7 0 1 0 1.8 0a0.9 0.7 0 1 0 -1.8 0M89.4 64.7a0.4 0.3 0 1 0 0.8 0a0.4 0.3 0 1 0 -0.8 0M99.3 57.8a0.6 0.5 0 1 0 1.2 0a0.6 0.5 0 1 0 -1.2 0M97.2 3.7a0.6 0.4 0 1 0 1.1 0a0.6 0.4 0 1 0 -1.1 0M87.6 62.0a0.5 0.4 0 1 0 1.1 0a0.5 0.4 0 1 0 -1.1 0M79.2 20.1a0.5 0.4 0 1 0 1.1 0a0.5 0.4 0 1 0 -1.1 0M93.1 23.7a0.9 0.7 0 1 0 1.8 0a0.9 0.7 0 1 0 -1.8 0M87.9 82.0a0.4 0.4 0 1 0 0.9 0a0.4 0.4 0 1 0 -0.9 0M84.5 8.6a0.5 0.4 0 1 0 1.0 0a0.5 0.4 0 1 0 -1.0 0M79.0 9.7a0.6 0.5 0 1 0 1.2 0a0.6 0.5 0 1 0 -1.2 0M93.3 72.0a0.7 0.6 0 1 0 1.5 0a0.7 0.6 0 1 0 -1.5 0M77.5 9.7a0.5 0.4 0 1 0 1.0 0a0.5 0.4 0 1 0 -1.0 0M96.1 61.3a0.4 0.3 0 1 0 0.8 0a0.4 0.3 0 1 0 -0.8 0M92.8 94.4a0.7 0.5 0 1 0 1.4 0a0.7 0.5 0 1 0 -1.4 0M96.1 33.0a0.6 0.5 0 1 0 1.3 0a0.6 0.5 0 1 0 -1.3 0M81.6 51.2a0.7 0.5 0 1 0 1.3 0a0.7 0.5 0 1 0 -1.3 0M76.5 8.3a0.6 0.5 0 1 0 1.2 0a0.6 0.5 0 1 0 -1.2 0M86.1 86.5a0.9 0.7 0 1 0 1.8 0a0.9 0.7 0 1 0 -1.8 0M84.8 40.7a0.5 0.4 0 1 0 1.0 0a0.5 0.4 0 1 0 -1.0 0M90.2 79.5a0.6 0.5 0 1 0 1.3 0a0.6 0.5 0 1 0 -1.3 0M91.9 84.2a0.6 0.5 0 1 0 1.3 0a0.6 0.5 0 1 0 -1.3 0M84.5 7.5a0.8 0.7 0 1 0 1.6 0a0.8 0.7 0 1 0 -1.6 0M88.0 62.2a0.9 0.7 0 1 0 1.7 0a0.9 0.7 0 1 0 -1.7 0M85.3 4.2a1.0 0.8 0 1 0 2.1 0a1.0 0.8 0 1 0 -2.1 0M89.0 86.2a0.8 0.6 0 1 0 1.5 0a0.8 0.6 0 1 0 -1.5 0M89.5 47.3a0.9 0.7 0 1 0 1.8 0a0.9 0.7 0 1 0 -1.8 0M92.4 35.5a0.8 0.6 0 1 0 1.5 0a0.8 0.6 0 1 0 -1.5 0M71.2 7.0a0.7 0.5 0 1 0 1.4 0a0.7 0.5 0 1 0 -1.4 0M97.5 16.5a0.8 0.7 0 1 0 1.7 0a0.8 0.7 0 1 0 -1.7 0M91.9 70.7a0.4 0.3 0 1 0 0.9 0a0.4 0.3 0 1 0 -0.9 0M88.9 97.1a0.7 0.5 0 1 0 1.4 0a0.7 0.5 0 1 0 -1.4 0M93.4 15.5a0.6 0.5 0 1 0 1.2 0a0.6 0.5 0 1 0 -1.2 0M80.6 36.9a0.8 0.6 0 1 0 1.6 0a0.8 0.6 0 1 0 -1.6 0M77.7 12.3a0.7 0.6 0 1 0 1.5 0a0.7 0.6 0 1 0 -1.5 0M86.6 46.0a0.6 0.4 0 1 0 1.1 0a0.6 0.4 0 1 0 -1.1 0M91.4 88.3a0.4 0.4 0 1 0 0.9 0a0.4 0.4 0 1 0 -0.9 0M76.8 7.0a0.6 0.5 0 1 0 1.1 0a0.6 0.5 0 1 0 -1.1 0M98.9 14.9a0.5 0.4 0 1 0 0.9 0a0.5 0.4 0 1 0 -0.9 0M89.5 15.0a1.0 0.8 0 1 0 1.9 0a1.0 0.8 0 1 0 -1.9 0M97.3 21.8a0.6 0.5 0 1 0 1.2 0a0.6 0.5 0 1 0 -1.2 0M94.9 24.6a0.8 0.6 0 1 0 1.5 0a0.8 0.6 0 1 0 -1.5 0M86.2 29.2a0.4 0.4 0 1 0 0.9 0a0.4 0.4 0 1 0 -0.9 0M95.5 22.7a0.6 0.5 0 1 0 1.2 0a0.6 0.5 0 1 0 -1.2 0M97.7 91.2a0.5 0.4 0 1 0 0.9 0a0.5 0.4 0 1 0 -0.9 0M92.2 43.4a0.7 0.6 0 1 0 1.4 0a0.7 0.6 0 1 0 -1.4 0M94.0 0.8a0.8 0.6 0 1 0 1.5 0a0.8 0.6 0 1 0 -1.5 0M95.3 96.6a1.0 0.8 0 1 0 1.9 0a1.0 0.8 0 1 0 -1.9 0M83.9 27.9a1.1 0.9 0 1 0 2.1 0a1.1 0.9 0 1 0 -2.1 0M77.3 0.7a0.9 0.8 0 1 0 1.9 0a0.9 0.8 0 1 0 -1.9 0M93.0 62.0a0.6 0.5 0 1 0 1.3 0a0.6 0.5 0 1 0 -1.3 0M88.9 72.5a0.6 0.5 0 1 0 1.2 0a0.6 0.5 0 1 0 -1.2 0M82.4 0.4a1.0 0.8 0 1 0 2.1 0a1.0 0.8 0 1 0 -2.1 0M96.2 4.4a0.5 0.4 0 1 0 1.1 0a0.5 0.4 0 1 0 -1.1 0M95.8 21.2a0.9 0.7 0 1 0 1.7 0a0.9 0.7 0 1 0 -1.7 0M95.3 20.4a0.6 0.5 0 1 0 1.2 0a0.6 0.5 0 1 0 -1.2 0M96.7 21.5a0.5 0.4 0 1 0 0.9 0a0.5 0.4 0 1 0 -0.9 0M85.2 33.1a0.7 0.5 0 1 0 1.3 0a0.7 0.5 0 1 0 -1.3 0M98.4 18.0a0.5 0.4 0 1 0 1.0 0a0.5 0.4 0 1 0 -1.0 0M93.3 89.1a0.8 0.6 0 1 0 1.5 0a0.8 0.6 0 1 0 -1.5 0M96.6 24.6a0.9 0.7 0 1 0 1.8 0a0.9 0.7 0 1 0 -1.8 0M90.9 60.7a0.6 0.5 0 1 0 1.3 0a0.6 0.5 0 1 0 -1.3 0M74.0 17.9a0.9 0.8 0 1 0 1.9 0a0.9 0.8 0 1 0 -1.9 0M90.2 55.4a0.9 0.8 0 1 0 1.9 0a0.9 0.8 0 1 0 -1.9 0M88.7 68.5a0.5 0.4 0 1 0 1.1 0a0.5 0.4 0 1 0 -1.1 0M97.5 29.4a0.6 0.5 0 1 0 1.3 0a0.6 0.5 0 1 0 -1.3 0M99.1 54.4a0.9 0.7 0 1 0 1.8 0a0.9 0.7 0 1 0 -1.8 0M93.5 84.8a0.8 0.6 0 1 0 1.5 0a0.8 0.6 0 1 0 -1.5 0M88.4 40.5a0.7 0.5 0 1 0 1.3 0a0.7 0.5 0 1 0 -1.3 0M84.5 24.8a0.9 0.7 0 1 0 1.8 0a0.9 0.7 0 1 0 -1.8 0M95.1 49.5a1.1 0.9 0 1 0 2.2 0a1.1 0.9 0 1 0 -2.2 0M99.1 7.0a0.9 0.7 0 1 0 1.8 0a0.9 0.7 0 1 0 -1.8 0M88.1 77.9a0.9 0.7 0 1 0 1.7 0a0.9 0.7 0 1 0 -1.7 0M95.0 29.4a0.8 0.6 0 1 0 1.6 0a0.8 0.6 0 1 0 -1.6 0M69.7 1.7a0.9 0.7 0 1 0 1.8 0a0.9 0.7 0 1 0 -1.8 0M98.7 93.0a0.9 0.7 0 1 0 1.7 0a0.9 0.7 0 1 0 -1.7 0M89.6 51.2a0.9 0.8 0 1 0 1.9 0a0.9 0.8 0 1 0 -1.9 0M91.4 65.9a0.6 0.5 0 1 0 1.3 0a0.6 0.5 0 1 0 -1.3 0M85.7 53.5a0.5 0.4 0 1 0 1.0 0a0.5 0.4 0 1 0 -1.0 0M77.7 4.9a0.5 0.4 0 1 0 1.0 0a0.5 0.4 0 1 0 -1.0 0M80.5 53.6a0.5 0.4 0 1 0 0.9 0a0.5 0.4 0 1 0 -0.9 0M96.0 46.6a0.9 0.7 0 1 0 1.9 0a0.9 0.7 0 1 0 -1.9 0M94.7 38.7a0.6 0.5 0 1 0 1.3 0a0.6 0.5 0 1 0 -1.3 0M96.1 24.6a0.9 0.8 0 1 0 1.9 0a0.9 0.8 0 1 0 -1.9 0M98.9 34.8a0.5 0.4 0 1 0 0.9 0a0.5 0.4 0 1 0 -0.9 0M98.9 59.7a1.0 0.8 0 1 0 2.0 0a1.0 0.8 0 1 0 -2.0 0M74.2 23.0a0.9 0.8 0 1 0 1.9 0a0.9 0.8 0 1 0 -1.9 0M75.2 23.7a0.9 0.7 0 1 0 1.8 0a0.9 0.7 0 1 0 -1.8 0M97.6 61.3a1.0 0.8 0 1 0 1.9 0a1.0 0.8 0 1 0 -1.9 0M95.1 11.9a0.7 0.5 0 1 0 1.3 0a0.7 0.5 0 1 0 -1.3 0M76.9 22.6a0.5 0.4 0 1 0 1.1 0a0.5 0.4 0 1 0 -1.1 0M75.5 24.5a0.7 0.6 0 1 0 1.4 0a0.7 0.6 0 1 0 -1.4 0M87.7 65.4a0.9 0.7 0 1 0 1.8 0a0.9 0.7 0 1 0 -1.8 0" fill="#9c8a76"/><polygon points="80.0,45.0 88.0,47.0 92.0,60.0 100.0,62.0 100.0,95.0 92.0,92.0 88.0,70.0 82.0,55.0" fill="#4f7a35" /><polygon points="75.0,18.0 84.0,20.0 88.0,34.0 80.0,30.0" fill="#5c7a3c" /><polygon points="75.0,-2.0 93.0,-2.0 92.0,7.0 78.0,7.0" fill="#1a1a1a" /><polygon points="-2.0,93.0 40.0,95.0 60.0,97.0 90.0,96.0 90.0,105.0 -2.0,105.0" fill="#a89a80" /><polygon points="0.0,0.0 22.0,0.0 22.0,3.0 0.0,3.5" fill="#b08878" /></g><polygon points="23.7,3.4 27.5,3.4 21.0,92.0 16.7,91.5" fill="#a8946a" /><polygon points="62.0,4.0 65.5,4.0 78.0,96.0 74.5,96.0" fill="#a8946a" /><polygon points="16.7,92.0 63.5,92.5 63.5,95.5 16.7,95.0" fill="#a8946a" /><polygon points="32.0,3.0 60.5,3.0 68.5,88.6 23.7,89.1" fill="#b39d6e" /><path d="M31.7 11.6 L60.8 12.7 M31.2 16.5 L61.3 16.5 M30.6 22.6 L61.8 22.9 M30.2 27.1 L62.3 28.0 M29.7 32.0 L62.7 32.0 M29.1 37.8 L63.3 37.5 M28.7 42.5 L63.7 43.1 M28.1 48.1 L64.2 48.8 M27.5 54.2 L64.8 54.7 M27.0 59.5 L65.3 59.8 M26.6 64.1 L65.7 64.9 M26.1 69.0 L66.2 70.0 M25.6 73.8 L66.6 74.4 M25.0 80.1 L67.2 80.5 M24.6 84.8 L67.7 85.2" stroke="#a08a5e" stroke-width="0.5" fill="none"/><path d="M31.4 14.0 L61.0 14.7 M30.8 20.6 L61.6 20.5 M30.4 24.9 L62.0 25.3 M29.9 29.5 L62.5 29.4 M29.4 35.3 L63.0 36.3 M28.9 40.2 L63.5 41.4 M28.4 45.6 L64.0 46.2 M27.8 51.0 L64.5 51.6 M27.4 55.6 L64.9 55.2 M26.9 60.9 L65.4 62.0 M26.3 67.2 L66.0 67.2 M25.9 71.2 L66.4 72.0 M25.3 77.3 L66.9 78.4 M24.9 81.7 L67.4 81.5 M24.4 86.7 L67.8 87.7" stroke="#c4b083" stroke-width="0.5" fill="none"/><g filter="url(#pb1)"><polygon points="32.0,2.0 60.5,2.0 61.0,11.0 46.0,13.0 32.0,11.0" fill="#5e4f38" /><polygon points="29.0,41.0 65.0,50.0 65.0,53.0 29.0,44.0" fill="#cbb98c" /><polygon points="28.0,66.0 66.0,84.0 66.0,87.0 28.0,69.0" fill="#cbb98c" /><polygon points="30.0,24.0 62.0,27.0 62.0,29.0 30.0,26.0" fill="#c4b186" /></g><g filter="url(#pb1)"><path d="M43.1 28.3a0.6 0.5 0 1 0 1.1 0a0.6 0.5 0 1 0 -1.1 0M44.9 10.5a0.5 0.4 0 1 0 1.0 0a0.5 0.4 0 1 0 -1.0 0M26.5 57.1a0.5 0.4 0 1 0 1.1 0a0.5 0.4 0 1 0 -1.1 0M50.5 22.2a0.5 0.4 0 1 0 1.1 0a0.5 0.4 0 1 0 -1.1 0M62.4 31.3a0.3 0.3 0 1 0 0.7 0a0.3 0.3 0 1 0 -0.7 0M53.3 86.8a0.6 0.5 0 1 0 1.1 0a0.6 0.5 0 1 0 -1.1 0M62.6 64.6a0.3 0.3 0 1 0 0.7 0a0.3 0.3 0 1 0 -0.7 0M50.7 39.8a0.5 0.4 0 1 0 0.9 0a0.5 0.4 0 1 0 -0.9 0M45.0 20.7a0.6 0.5 0 1 0 1.1 0a0.6 0.5 0 1 0 -1.1 0M38.2 86.2a0.3 0.2 0 1 0 0.6 0a0.3 0.2 0 1 0 -0.6 0M49.1 84.2a0.5 0.4 0 1 0 0.9 0a0.5 0.4 0 1 0 -0.9 0M42.9 34.9a0.4 0.3 0 1 0 0.8 0a0.4 0.3 0 1 0 -0.8 0M38.7 9.4a0.6 0.5 0 1 0 1.2 0a0.6 0.5 0 1 0 -1.2 0M56.1 61.4a0.4 0.3 0 1 0 0.9 0a0.4 0.3 0 1 0 -0.9 0M32.1 22.4a0.6 0.5 0 1 0 1.2 0a0.6 0.5 0 1 0 -1.2 0M60.1 42.2a0.5 0.4 0 1 0 1.0 0a0.5 0.4 0 1 0 -1.0 0M39.7 37.6a0.4 0.3 0 1 0 0.7 0a0.4 0.3 0 1 0 -0.7 0M47.6 28.4a0.3 0.2 0 1 0 0.6 0a0.3 0.2 0 1 0 -0.6 0M62.1 39.5a0.5 0.4 0 1 0 1.1 0a0.5 0.4 0 1 0 -1.1 0M29.1 29.5a0.4 0.3 0 1 0 0.8 0a0.4 0.3 0 1 0 -0.8 0M31.4 37.1a0.4 0.3 0 1 0 0.7 0a0.4 0.3 0 1 0 -0.7 0M58.3 46.7a0.3 0.3 0 1 0 0.7 0a0.3 0.3 0 1 0 -0.7 0M49.8 44.1a0.3 0.3 0 1 0 0.7 0a0.3 0.3 0 1 0 -0.7 0M58.3 53.1a0.3 0.2 0 1 0 0.5 0a0.3 0.2 0 1 0 -0.5 0M47.7 37.3a0.3 0.2 0 1 0 0.6 0a0.3 0.2 0 1 0 -0.6 0M42.8 16.5a0.5 0.4 0 1 0 1.0 0a0.5 0.4 0 1 0 -1.0 0M44.8 18.5a0.5 0.4 0 1 0 1.1 0a0.5 0.4 0 1 0 -1.1 0M49.6 10.4a0.6 0.5 0 1 0 1.2 0a0.6 0.5 0 1 0 -1.2 0M42.0 82.6a0.4 0.3 0 1 0 0.8 0a0.4 0.3 0 1 0 -0.8 0M41.5 70.2a0.4 0.3 0 1 0 0.8 0a0.4 0.3 0 1 0 -0.8 0M39.9 38.4a0.4 0.3 0 1 0 0.8 0a0.4 0.3 0 1 0 -0.8 0M56.1 72.0a0.4 0.3 0 1 0 0.8 0a0.4 0.3 0 1 0 -0.8 0M50.0 23.3a0.5 0.4 0 1 0 1.1 0a0.5 0.4 0 1 0 -1.1 0M42.4 85.5a0.3 0.2 0 1 0 0.6 0a0.3 0.2 0 1 0 -0.6 0M60.8 13.2a0.3 0.3 0 1 0 0.7 0a0.3 0.3 0 1 0 -0.7 0M41.7 27.2a0.4 0.3 0 1 0 0.8 0a0.4 0.3 0 1 0 -0.8 0M46.1 56.2a0.3 0.2 0 1 0 0.5 0a0.3 0.2 0 1 0 -0.5 0M50.6 35.8a0.5 0.4 0 1 0 0.9 0a0.5 0.4 0 1 0 -0.9 0M36.8 73.4a0.3 0.3 0 1 0 0.7 0a0.3 0.3 0 1 0 -0.7 0M27.0 65.3a0.5 0.4 0 1 0 0.9 0a0.5 0.4 0 1 0 -0.9 0M31.6 32.3a0.4 0.3 0 1 0 0.8 0a0.4 0.3 0 1 0 -0.8 0M32.3 51.0a0.4 0.3 0 1 0 0.8 0a0.4 0.3 0 1 0 -0.8 0M49.3 69.0a0.3 0.3 0 1 0 0.6 0a0.3 0.3 0 1 0 -0.6 0M35.2 60.3a0.5 0.4 0 1 0 0.9 0a0.5 0.4 0 1 0 -0.9 0M55.6 26.6a0.3 0.3 0 1 0 0.7 0a0.3 0.3 0 1 0 -0.7 0M34.8 66.8a0.4 0.3 0 1 0 0.7 0a0.4 0.3 0 1 0 -0.7 0M58.4 13.0a0.4 0.3 0 1 0 0.7 0a0.4 0.3 0 1 0 -0.7 0M42.5 23.0a0.4 0.3 0 1 0 0.8 0a0.4 0.3 0 1 0 -0.8 0M32.3 54.1a0.4 0.3 0 1 0 0.9 0a0.4 0.3 0 1 0 -0.9 0M60.3 9.9a0.5 0.4 0 1 0 1.0 0a0.5 0.4 0 1 0 -1.0 0M50.2 28.4a0.4 0.3 0 1 0 0.8 0a0.4 0.3 0 1 0 -0.8 0M27.5 82.7a0.4 0.3 0 1 0 0.7 0a0.4 0.3 0 1 0 -0.7 0M42.1 58.7a0.5 0.4 0 1 0 1.0 0a0.5 0.4 0 1 0 -1.0 0M50.4 38.1a0.5 0.4 0 1 0 1.0 0a0.5 0.4 0 1 0 -1.0 0M46.9 30.4a0.5 0.4 0 1 0 1.1 0a0.5 0.4 0 1 0 -1.1 0M44.4 45.3a0.3 0.2 0 1 0 0.6 0a0.3 0.2 0 1 0 -0.6 0M56.5 84.9a0.4 0.4 0 1 0 0.9 0a0.4 0.4 0 1 0 -0.9 0M49.5 27.6a0.3 0.2 0 1 0 0.6 0a0.3 0.2 0 1 0 -0.6 0M38.4 64.9a0.6 0.4 0 1 0 1.1 0a0.6 0.4 0 1 0 -1.1 0M39.9 32.4a0.4 0.3 0 1 0 0.7 0a0.4 0.3 0 1 0 -0.7 0M47.6 26.3a0.4 0.3 0 1 0 0.9 0a0.4 0.3 0 1 0 -0.9 0M60.2 17.1a0.5 0.4 0 1 0 1.0 0a0.5 0.4 0 1 0 -1.0 0M36.0 20.2a0.4 0.3 0 1 0 0.8 0a0.4 0.3 0 1 0 -0.8 0M51.5 39.0a0.4 0.3 0 1 0 0.8 0a0.4 0.3 0 1 0 -0.8 0M51.2 46.0a0.5 0.4 0 1 0 1.1 0a0.5 0.4 0 1 0 -1.1 0M66.9 82.1a0.5 0.4 0 1 0 1.0 0a0.5 0.4 0 1 0 -1.0 0M30.3 40.0a0.4 0.3 0 1 0 0.7 0a0.4 0.3 0 1 0 -0.7 0M47.0 12.0a0.6 0.5 0 1 0 1.2 0a0.6 0.5 0 1 0 -1.2 0M34.5 25.8a0.6 0.4 0 1 0 1.1 0a0.6 0.4 0 1 0 -1.1 0M42.2 6.1a0.3 0.2 0 1 0 0.6 0a0.3 0.2 0 1 0 -0.6 0M51.3 3.6a0.5 0.4 0 1 0 1.0 0a0.5 0.4 0 1 0 -1.0 0M46.3 17.9a0.3 0.2 0 1 0 0.5 0a0.3 0.2 0 1 0 -0.5 0M48.1 16.9a0.4 0.3 0 1 0 0.8 0a0.4 0.3 0 1 0 -0.8 0M65.9 76.1a0.6 0.4 0 1 0 1.1 0a0.6 0.4 0 1 0 -1.1 0M45.1 57.2a0.4 0.3 0 1 0 0.8 0a0.4 0.3 0 1 0 -0.8 0M56.9 86.7a0.3 0.2 0 1 0 0.5 0a0.3 0.2 0 1 0 -0.5 0M49.8 56.5a0.3 0.3 0 1 0 0.6 0a0.3 0.3 0 1 0 -0.6 0M30.1 38.1a0.5 0.4 0 1 0 1.1 0a0.5 0.4 0 1 0 -1.1 0M41.5 69.2a0.4 0.3 0 1 0 0.8 0a0.4 0.3 0 1 0 -0.8 0M59.7 13.0a0.5 0.4 0 1 0 1.0 0a0.5 0.4 0 1 0 -1.0 0M35.1 37.0a0.3 0.2 0 1 0 0.5 0a0.3 0.2 0 1 0 -0.5 0M53.9 43.8a0.5 0.4 0 1 0 1.0 0a0.5 0.4 0 1 0 -1.0 0M42.5 10.3a0.5 0.4 0 1 0 1.0 0a0.5 0.4 0 1 0 -1.0 0M42.3 69.9a0.4 0.3 0 1 0 0.8 0a0.4 0.3 0 1 0 -0.8 0M51.7 81.1a0.5 0.4 0 1 0 1.1 0a0.5 0.4 0 1 0 -1.1 0M31.4 35.0a0.3 0.2 0 1 0 0.6 0a0.3 0.2 0 1 0 -0.6 0M60.7 49.9a0.5 0.4 0 1 0 0.9 0a0.5 0.4 0 1 0 -0.9 0M29.0 38.0a0.4 0.3 0 1 0 0.7 0a0.4 0.3 0 1 0 -0.7 0M54.8 28.1a0.3 0.3 0 1 0 0.7 0a0.3 0.3 0 1 0 -0.7 0M36.2 84.7a0.5 0.4 0 1 0 0.9 0a0.5 0.4 0 1 0 -0.9 0M34.7 34.0a0.5 0.4 0 1 0 0.9 0a0.5 0.4 0 1 0 -0.9 0M44.3 56.5a0.3 0.2 0 1 0 0.5 0a0.3 0.2 0 1 0 -0.5 0M39.5 22.3a0.5 0.4 0 1 0 1.0 0a0.5 0.4 0 1 0 -1.0 0M39.2 88.6a0.6 0.4 0 1 0 1.1 0a0.6 0.4 0 1 0 -1.1 0M51.5 40.8a0.5 0.4 0 1 0 1.0 0a0.5 0.4 0 1 0 -1.0 0M48.8 40.3a0.4 0.3 0 1 0 0.8 0a0.4 0.3 0 1 0 -0.8 0M28.4 81.6a0.4 0.3 0 1 0 0.7 0a0.4 0.3 0 1 0 -0.7 0M31.6 63.3a0.3 0.2 0 1 0 0.6 0a0.3 0.2 0 1 0 -0.6 0M51.9 67.2a0.3 0.3 0 1 0 0.6 0a0.3 0.3 0 1 0 -0.6 0M58.2 80.0a0.4 0.3 0 1 0 0.8 0a0.4 0.3 0 1 0 -0.8 0M39.9 72.3a0.5 0.4 0 1 0 1.0 0a0.5 0.4 0 1 0 -1.0 0M57.9 26.9a0.3 0.3 0 1 0 0.7 0a0.3 0.3 0 1 0 -0.7 0M30.3 82.7a0.5 0.4 0 1 0 1.0 0a0.5 0.4 0 1 0 -1.0 0M47.8 31.6a0.5 0.4 0 1 0 1.0 0a0.5 0.4 0 1 0 -1.0 0M37.3 7.3a0.6 0.5 0 1 0 1.1 0a0.6 0.5 0 1 0 -1.1 0M52.4 24.6a0.5 0.4 0 1 0 1.1 0a0.5 0.4 0 1 0 -1.1 0M34.5 36.0a0.4 0.3 0 1 0 0.9 0a0.4 0.3 0 1 0 -0.9 0M65.8 74.2a0.5 0.4 0 1 0 0.9 0a0.5 0.4 0 1 0 -0.9 0M47.1 31.5a0.5 0.4 0 1 0 1.0 0a0.5 0.4 0 1 0 -1.0 0M46.8 62.1a0.3 0.2 0 1 0 0.6 0a0.3 0.2 0 1 0 -0.6 0M38.6 85.1a0.5 0.4 0 1 0 1.0 0a0.5 0.4 0 1 0 -1.0 0M60.7 63.3a0.4 0.3 0 1 0 0.8 0a0.4 0.3 0 1 0 -0.8 0M60.9 58.8a0.5 0.4 0 1 0 1.0 0a0.5 0.4 0 1 0 -1.0 0M40.6 52.3a0.3 0.2 0 1 0 0.5 0a0.3 0.2 0 1 0 -0.5 0M60.9 32.9a0.4 0.3 0 1 0 0.7 0a0.4 0.3 0 1 0 -0.7 0M61.4 83.2a0.4 0.3 0 1 0 0.7 0a0.4 0.3 0 1 0 -0.7 0M32.6 65.6a0.3 0.3 0 1 0 0.6 0a0.3 0.3 0 1 0 -0.6 0M43.4 88.4a0.6 0.5 0 1 0 1.2 0a0.6 0.5 0 1 0 -1.2 0M43.0 70.5a0.3 0.3 0 1 0 0.7 0a0.3 0.3 0 1 0 -0.7 0M38.2 13.3a0.3 0.2 0 1 0 0.6 0a0.3 0.2 0 1 0 -0.6 0M36.9 25.1a0.3 0.2 0 1 0 0.6 0a0.3 0.2 0 1 0 -0.6 0M33.4 20.0a0.6 0.5 0 1 0 1.2 0a0.6 0.5 0 1 0 -1.2 0M33.2 31.1a0.5 0.4 0 1 0 0.9 0a0.5 0.4 0 1 0 -0.9 0M49.0 31.7a0.6 0.5 0 1 0 1.1 0a0.6 0.5 0 1 0 -1.1 0M31.6 82.3a0.3 0.2 0 1 0 0.5 0a0.3 0.2 0 1 0 -0.5 0M49.9 80.4a0.5 0.4 0 1 0 1.1 0a0.5 0.4 0 1 0 -1.1 0M33.4 27.2a0.4 0.3 0 1 0 0.8 0a0.4 0.3 0 1 0 -0.8 0M37.0 19.6a0.4 0.3 0 1 0 0.7 0a0.4 0.3 0 1 0 -0.7 0M47.9 42.9a0.5 0.4 0 1 0 1.1 0a0.5 0.4 0 1 0 -1.1 0M43.3 81.8a0.6 0.5 0 1 0 1.2 0a0.6 0.5 0 1 0 -1.2 0M53.3 16.7a0.3 0.2 0 1 0 0.5 0a0.3 0.2 0 1 0 -0.5 0M30.1 51.8a0.5 0.4 0 1 0 1.0 0a0.5 0.4 0 1 0 -1.0 0M41.9 43.5a0.3 0.2 0 1 0 0.5 0a0.3 0.2 0 1 0 -0.5 0M54.4 72.8a0.4 0.3 0 1 0 0.8 0a0.4 0.3 0 1 0 -0.8 0M60.7 74.6a0.6 0.4 0 1 0 1.1 0a0.6 0.4 0 1 0 -1.1 0M62.9 35.7a0.3 0.2 0 1 0 0.6 0a0.3 0.2 0 1 0 -0.6 0M57.1 17.0a0.3 0.2 0 1 0 0.6 0a0.3 0.2 0 1 0 -0.6 0M66.9 86.4a0.4 0.3 0 1 0 0.8 0a0.4 0.3 0 1 0 -0.8 0M44.2 62.2a0.3 0.2 0 1 0 0.5 0a0.3 0.2 0 1 0 -0.5 0M43.2 9.4a0.5 0.4 0 1 0 1.1 0a0.5 0.4 0 1 0 -1.1 0M35.2 29.6a0.4 0.4 0 1 0 0.9 0a0.4 0.4 0 1 0 -0.9 0M53.9 12.0a0.5 0.4 0 1 0 0.9 0a0.5 0.4 0 1 0 -0.9 0M60.5 71.6a0.6 0.5 0 1 0 1.2 0a0.6 0.5 0 1 0 -1.2 0M36.7 31.4a0.5 0.4 0 1 0 0.9 0a0.5 0.4 0 1 0 -0.9 0M45.8 53.5a0.3 0.2 0 1 0 0.5 0a0.3 0.2 0 1 0 -0.5 0M34.9 40.5a0.4 0.3 0 1 0 0.7 0a0.4 0.3 0 1 0 -0.7 0M57.0 19.0a0.5 0.4 0 1 0 1.1 0a0.5 0.4 0 1 0 -1.1 0M33.4 42.9a0.3 0.2 0 1 0 0.6 0a0.3 0.2 0 1 0 -0.6 0M42.4 85.6a0.3 0.2 0 1 0 0.6 0a0.3 0.2 0 1 0 -0.6 0M48.7 51.4a0.6 0.5 0 1 0 1.2 0a0.6 0.5 0 1 0 -1.2 0M24.9 85.2a0.5 0.4 0 1 0 1.1 0a0.5 0.4 0 1 0 -1.1 0M32.7 42.2a0.3 0.2 0 1 0 0.6 0a0.3 0.2 0 1 0 -0.6 0M33.6 60.9a0.4 0.3 0 1 0 0.7 0a0.4 0.3 0 1 0 -0.7 0M28.0 76.1a0.3 0.3 0 1 0 0.7 0a0.3 0.3 0 1 0 -0.7 0M44.5 69.8a0.5 0.4 0 1 0 1.0 0a0.5 0.4 0 1 0 -1.0 0M56.4 3.1a0.4 0.3 0 1 0 0.7 0a0.4 0.3 0 1 0 -0.7 0M39.7 82.1a0.4 0.3 0 1 0 0.7 0a0.4 0.3 0 1 0 -0.7 0M36.8 79.1a0.3 0.2 0 1 0 0.5 0a0.3 0.2 0 1 0 -0.5 0M62.9 76.4a0.3 0.2 0 1 0 0.5 0a0.3 0.2 0 1 0 -0.5 0M48.7 10.3a0.3 0.2 0 1 0 0.6 0a0.3 0.2 0 1 0 -0.6 0M34.3 15.5a0.3 0.3 0 1 0 0.7 0a0.3 0.3 0 1 0 -0.7 0M35.6 75.4a0.3 0.2 0 1 0 0.6 0a0.3 0.2 0 1 0 -0.6 0M41.8 33.1a0.5 0.4 0 1 0 1.0 0a0.5 0.4 0 1 0 -1.0 0M65.7 85.5a0.3 0.2 0 1 0 0.6 0a0.3 0.2 0 1 0 -0.6 0M32.3 66.1a0.3 0.3 0 1 0 0.7 0a0.3 0.3 0 1 0 -0.7 0M30.2 68.1a0.6 0.4 0 1 0 1.1 0a0.6 0.4 0 1 0 -1.1 0M52.6 32.0a0.5 0.4 0 1 0 1.0 0a0.5 0.4 0 1 0 -1.0 0M42.7 38.5a0.5 0.4 0 1 0 0.9 0a0.5 0.4 0 1 0 -0.9 0M43.5 65.8a0.3 0.3 0 1 0 0.7 0a0.3 0.3 0 1 0 -0.7 0M31.8 73.9a0.6 0.5 0 1 0 1.2 0a0.6 0.5 0 1 0 -1.2 0M58.9 63.9a0.6 0.5 0 1 0 1.2 0a0.6 0.5 0 1 0 -1.2 0M35.2 32.2a0.5 0.4 0 1 0 1.0 0a0.5 0.4 0 1 0 -1.0 0M43.7 60.1a0.4 0.4 0 1 0 0.9 0a0.4 0.4 0 1 0 -0.9 0M63.2 66.2a0.6 0.5 0 1 0 1.2 0a0.6 0.5 0 1 0 -1.2 0M43.7 69.2a0.4 0.3 0 1 0 0.7 0a0.4 0.3 0 1 0 -0.7 0M46.2 68.5a0.3 0.2 0 1 0 0.6 0a0.3 0.2 0 1 0 -0.6 0M63.4 43.5a0.3 0.3 0 1 0 0.7 0a0.3 0.3 0 1 0 -0.7 0M33.2 46.5a0.5 0.4 0 1 0 1.0 0a0.5 0.4 0 1 0 -1.0 0M59.0 60.1a0.4 0.3 0 1 0 0.8 0a0.4 0.3 0 1 0 -0.8 0M31.3 49.7a0.5 0.4 0 1 0 1.0 0a0.5 0.4 0 1 0 -1.0 0M47.4 61.9a0.5 0.4 0 1 0 1.1 0a0.5 0.4 0 1 0 -1.1 0M52.1 51.0a0.6 0.4 0 1 0 1.1 0a0.6 0.4 0 1 0 -1.1 0M41.8 55.9a0.3 0.2 0 1 0 0.6 0a0.3 0.2 0 1 0 -0.6 0M36.3 51.7a0.3 0.2 0 1 0 0.5 0a0.3 0.2 0 1 0 -0.5 0M38.4 83.3a0.4 0.3 0 1 0 0.8 0a0.4 0.3 0 1 0 -0.8 0M55.7 18.4a0.5 0.4 0 1 0 1.0 0a0.5 0.4 0 1 0 -1.0 0M62.6 80.6a0.4 0.3 0 1 0 0.8 0a0.4 0.3 0 1 0 -0.8 0M39.0 82.8a0.3 0.2 0 1 0 0.5 0a0.3 0.2 0 1 0 -0.5 0M38.9 79.3a0.6 0.5 0 1 0 1.2 0a0.6 0.5 0 1 0 -1.2 0M49.7 65.5a0.6 0.5 0 1 0 1.2 0a0.6 0.5 0 1 0 -1.2 0M40.5 78.5a0.3 0.2 0 1 0 0.5 0a0.3 0.2 0 1 0 -0.5 0M50.3 75.7a0.3 0.3 0 1 0 0.6 0a0.3 0.3 0 1 0 -0.6 0M37.2 43.0a0.3 0.2 0 1 0 0.5 0a0.3 0.2 0 1 0 -0.5 0M34.2 44.0a0.5 0.4 0 1 0 1.0 0a0.5 0.4 0 1 0 -1.0 0M40.3 73.4a0.5 0.4 0 1 0 1.0 0a0.5 0.4 0 1 0 -1.0 0M56.3 70.9a0.5 0.4 0 1 0 0.9 0a0.5 0.4 0 1 0 -0.9 0M40.2 83.6a0.3 0.2 0 1 0 0.6 0a0.3 0.2 0 1 0 -0.6 0M54.4 62.2a0.3 0.3 0 1 0 0.6 0a0.3 0.3 0 1 0 -0.6 0M59.9 32.3a0.5 0.4 0 1 0 0.9 0a0.5 0.4 0 1 0 -0.9 0M61.0 88.6a0.3 0.2 0 1 0 0.5 0a0.3 0.2 0 1 0 -0.5 0M44.6 3.8a0.3 0.3 0 1 0 0.7 0a0.3 0.3 0 1 0 -0.7 0M53.5 7.7a0.6 0.5 0 1 0 1.2 0a0.6 0.5 0 1 0 -1.2 0M43.8 79.5a0.4 0.3 0 1 0 0.8 0a0.4 0.3 0 1 0 -0.8 0M32.5 23.1a0.3 0.3 0 1 0 0.6 0a0.3 0.3 0 1 0 -0.6 0M48.8 19.6a0.4 0.3 0 1 0 0.8 0a0.4 0.3 0 1 0 -0.8 0M58.4 3.9a0.5 0.4 0 1 0 0.9 0a0.5 0.4 0 1 0 -0.9 0M30.8 46.8a0.6 0.4 0 1 0 1.1 0a0.6 0.4 0 1 0 -1.1 0M36.4 51.1a0.5 0.4 0 1 0 1.0 0a0.5 0.4 0 1 0 -1.0 0M62.3 38.1a0.4 0.3 0 1 0 0.8 0a0.4 0.3 0 1 0 -0.8 0M58.9 31.4a0.5 0.4 0 1 0 1.1 0a0.5 0.4 0 1 0 -1.1 0M64.6 70.5a0.4 0.3 0 1 0 0.7 0a0.4 0.3 0 1 0 -0.7 0M50.6 72.6a0.4 0.3 0 1 0 0.7 0a0.4 0.3 0 1 0 -0.7 0M55.8 70.4a0.3 0.3 0 1 0 0.7 0a0.3 0.3 0 1 0 -0.7 0M38.7 68.7a0.3 0.2 0 1 0 0.5 0a0.3 0.2 0 1 0 -0.5 0M49.8 74.5a0.4 0.3 0 1 0 0.7 0a0.4 0.3 0 1 0 -0.7 0M52.1 9.3a0.5 0.4 0 1 0 1.0 0a0.5 0.4 0 1 0 -1.0 0M41.9 24.6a0.3 0.2 0 1 0 0.6 0a0.3 0.2 0 1 0 -0.6 0M56.3 70.4a0.4 0.3 0 1 0 0.7 0a0.4 0.3 0 1 0 -0.7 0M34.2 15.0a0.5 0.4 0 1 0 1.1 0a0.5 0.4 0 1 0 -1.1 0M34.8 77.0a0.5 0.4 0 1 0 1.0 0a0.5 0.4 0 1 0 -1.0 0" fill="#c6b486"/><path d="M44.6 57.3a0.4 0.3 0 1 0 0.8 0a0.4 0.3 0 1 0 -0.8 0M59.4 72.1a0.3 0.3 0 1 0 0.6 0a0.3 0.3 0 1 0 -0.6 0M60.1 59.2a0.3 0.2 0 1 0 0.6 0a0.3 0.2 0 1 0 -0.6 0M61.8 40.9a0.5 0.4 0 1 0 1.0 0a0.5 0.4 0 1 0 -1.0 0M27.2 61.5a0.3 0.2 0 1 0 0.5 0a0.3 0.2 0 1 0 -0.5 0M33.0 19.9a0.5 0.4 0 1 0 1.1 0a0.5 0.4 0 1 0 -1.1 0M57.9 37.2a0.3 0.3 0 1 0 0.6 0a0.3 0.3 0 1 0 -0.6 0M56.6 50.3a0.4 0.3 0 1 0 0.8 0a0.4 0.3 0 1 0 -0.8 0M37.0 34.4a0.4 0.3 0 1 0 0.8 0a0.4 0.3 0 1 0 -0.8 0M44.3 21.4a0.3 0.2 0 1 0 0.5 0a0.3 0.2 0 1 0 -0.5 0M35.7 60.9a0.5 0.4 0 1 0 1.1 0a0.5 0.4 0 1 0 -1.1 0M36.7 76.8a0.6 0.4 0 1 0 1.1 0a0.6 0.4 0 1 0 -1.1 0M36.6 58.3a0.4 0.4 0 1 0 0.9 0a0.4 0.4 0 1 0 -0.9 0M33.8 85.9a0.5 0.4 0 1 0 1.0 0a0.5 0.4 0 1 0 -1.0 0M34.9 82.3a0.4 0.3 0 1 0 0.7 0a0.4 0.3 0 1 0 -0.7 0M39.9 26.6a0.5 0.4 0 1 0 1.1 0a0.5 0.4 0 1 0 -1.1 0M36.8 13.9a0.3 0.2 0 1 0 0.6 0a0.3 0.2 0 1 0 -0.6 0M30.8 31.7a0.4 0.4 0 1 0 0.9 0a0.4 0.4 0 1 0 -0.9 0M60.6 86.6a0.4 0.3 0 1 0 0.8 0a0.4 0.3 0 1 0 -0.8 0M53.4 30.3a0.4 0.3 0 1 0 0.9 0a0.4 0.3 0 1 0 -0.9 0M47.1 60.9a0.5 0.4 0 1 0 1.1 0a0.5 0.4 0 1 0 -1.1 0M60.1 87.5a0.5 0.4 0 1 0 1.0 0a0.5 0.4 0 1 0 -1.0 0M51.2 14.0a0.4 0.3 0 1 0 0.8 0a0.4 0.3 0 1 0 -0.8 0M40.6 14.7a0.4 0.3 0 1 0 0.8 0a0.4 0.3 0 1 0 -0.8 0M53.6 83.1a0.5 0.4 0 1 0 1.0 0a0.5 0.4 0 1 0 -1.0 0M50.6 17.8a0.6 0.5 0 1 0 1.2 0a0.6 0.5 0 1 0 -1.2 0M57.6 62.6a0.4 0.3 0 1 0 0.8 0a0.4 0.3 0 1 0 -0.8 0M48.6 10.1a0.4 0.3 0 1 0 0.7 0a0.4 0.3 0 1 0 -0.7 0M24.5 88.1a0.4 0.3 0 1 0 0.8 0a0.4 0.3 0 1 0 -0.8 0M52.4 67.9a0.4 0.3 0 1 0 0.8 0a0.4 0.3 0 1 0 -0.8 0M67.1 87.5a0.4 0.3 0 1 0 0.8 0a0.4 0.3 0 1 0 -0.8 0M25.3 70.4a0.4 0.3 0 1 0 0.9 0a0.4 0.3 0 1 0 -0.9 0M50.4 87.1a0.5 0.4 0 1 0 0.9 0a0.5 0.4 0 1 0 -0.9 0M41.7 12.9a0.3 0.2 0 1 0 0.6 0a0.3 0.2 0 1 0 -0.6 0M56.3 74.7a0.4 0.3 0 1 0 0.7 0a0.4 0.3 0 1 0 -0.7 0M48.7 20.9a0.3 0.2 0 1 0 0.5 0a0.3 0.2 0 1 0 -0.5 0M33.2 15.8a0.5 0.4 0 1 0 1.1 0a0.5 0.4 0 1 0 -1.1 0M42.2 81.7a0.3 0.3 0 1 0 0.7 0a0.3 0.3 0 1 0 -0.7 0M37.3 68.2a0.4 0.3 0 1 0 0.8 0a0.4 0.3 0 1 0 -0.8 0M64.3 47.2a0.3 0.3 0 1 0 0.7 0a0.3 0.3 0 1 0 -0.7 0M63.4 55.7a0.4 0.3 0 1 0 0.8 0a0.4 0.3 0 1 0 -0.8 0M60.5 31.4a0.3 0.3 0 1 0 0.6 0a0.3 0.3 0 1 0 -0.6 0M32.5 25.4a0.5 0.4 0 1 0 1.1 0a0.5 0.4 0 1 0 -1.1 0M59.9 17.8a0.3 0.2 0 1 0 0.5 0a0.3 0.2 0 1 0 -0.5 0M31.6 3.8a0.5 0.4 0 1 0 0.9 0a0.5 0.4 0 1 0 -0.9 0M38.3 57.8a0.3 0.2 0 1 0 0.6 0a0.3 0.2 0 1 0 -0.6 0M52.7 67.9a0.4 0.3 0 1 0 0.7 0a0.4 0.3 0 1 0 -0.7 0M67.7 87.6a0.6 0.5 0 1 0 1.1 0a0.6 0.5 0 1 0 -1.1 0M42.0 72.7a0.6 0.5 0 1 0 1.2 0a0.6 0.5 0 1 0 -1.2 0M39.3 68.9a0.4 0.3 0 1 0 0.7 0a0.4 0.3 0 1 0 -0.7 0M34.4 79.7a0.5 0.4 0 1 0 1.0 0a0.5 0.4 0 1 0 -1.0 0M57.1 9.3a0.4 0.3 0 1 0 0.8 0a0.4 0.3 0 1 0 -0.8 0M48.2 36.5a0.4 0.3 0 1 0 0.8 0a0.4 0.3 0 1 0 -0.8 0M43.3 5.2a0.4 0.3 0 1 0 0.8 0a0.4 0.3 0 1 0 -0.8 0M56.5 47.9a0.3 0.2 0 1 0 0.5 0a0.3 0.2 0 1 0 -0.5 0M32.7 20.9a0.3 0.2 0 1 0 0.5 0a0.3 0.2 0 1 0 -0.5 0M40.6 23.5a0.4 0.3 0 1 0 0.8 0a0.4 0.3 0 1 0 -0.8 0M56.4 86.6a0.4 0.4 0 1 0 0.9 0a0.4 0.4 0 1 0 -0.9 0M29.6 80.6a0.6 0.5 0 1 0 1.1 0a0.6 0.5 0 1 0 -1.1 0M58.1 23.0a0.4 0.3 0 1 0 0.9 0a0.4 0.3 0 1 0 -0.9 0M34.1 59.6a0.6 0.5 0 1 0 1.1 0a0.6 0.5 0 1 0 -1.1 0M54.7 47.2a0.5 0.4 0 1 0 1.0 0a0.5 0.4 0 1 0 -1.0 0M30.9 40.4a0.3 0.2 0 1 0 0.5 0a0.3 0.2 0 1 0 -0.5 0M42.6 27.0a0.5 0.4 0 1 0 1.1 0a0.5 0.4 0 1 0 -1.1 0M31.5 45.6a0.4 0.3 0 1 0 0.9 0a0.4 0.3 0 1 0 -0.9 0M37.8 29.9a0.4 0.3 0 1 0 0.8 0a0.4 0.3 0 1 0 -0.8 0M51.3 78.7a0.4 0.3 0 1 0 0.8 0a0.4 0.3 0 1 0 -0.8 0M56.4 54.8a0.5 0.4 0 1 0 1.0 0a0.5 0.4 0 1 0 -1.0 0M49.2 85.3a0.4 0.3 0 1 0 0.8 0a0.4 0.3 0 1 0 -0.8 0M57.9 4.4a0.3 0.2 0 1 0 0.5 0a0.3 0.2 0 1 0 -0.5 0M40.0 66.6a0.3 0.2 0 1 0 0.6 0a0.3 0.2 0 1 0 -0.6 0M53.7 86.3a0.5 0.4 0 1 0 1.0 0a0.5 0.4 0 1 0 -1.0 0M59.3 43.1a0.6 0.5 0 1 0 1.2 0a0.6 0.5 0 1 0 -1.2 0M63.0 79.7a0.4 0.3 0 1 0 0.8 0a0.4 0.3 0 1 0 -0.8 0M51.2 35.6a0.3 0.3 0 1 0 0.7 0a0.3 0.3 0 1 0 -0.7 0M30.9 9.3a0.5 0.4 0 1 0 1.1 0a0.5 0.4 0 1 0 -1.1 0M40.4 5.7a0.4 0.3 0 1 0 0.9 0a0.4 0.3 0 1 0 -0.9 0M41.3 44.5a0.4 0.3 0 1 0 0.7 0a0.4 0.3 0 1 0 -0.7 0M44.6 45.9a0.4 0.3 0 1 0 0.8 0a0.4 0.3 0 1 0 -0.8 0M47.8 42.7a0.3 0.2 0 1 0 0.5 0a0.3 0.2 0 1 0 -0.5 0M44.7 58.9a0.3 0.2 0 1 0 0.5 0a0.3 0.2 0 1 0 -0.5 0M52.2 58.3a0.3 0.3 0 1 0 0.7 0a0.3 0.3 0 1 0 -0.7 0M45.0 87.2a0.6 0.5 0 1 0 1.2 0a0.6 0.5 0 1 0 -1.2 0M54.2 40.2a0.4 0.3 0 1 0 0.8 0a0.4 0.3 0 1 0 -0.8 0M53.6 88.2a0.4 0.3 0 1 0 0.8 0a0.4 0.3 0 1 0 -0.8 0M52.7 27.9a0.3 0.2 0 1 0 0.6 0a0.3 0.2 0 1 0 -0.6 0M29.5 23.4a0.5 0.4 0 1 0 1.0 0a0.5 0.4 0 1 0 -1.0 0M32.9 15.7a0.4 0.3 0 1 0 0.7 0a0.4 0.3 0 1 0 -0.7 0M58.1 85.8a0.4 0.3 0 1 0 0.9 0a0.4 0.3 0 1 0 -0.9 0M56.4 83.5a0.5 0.4 0 1 0 1.1 0a0.5 0.4 0 1 0 -1.1 0M60.1 7.1a0.4 0.3 0 1 0 0.8 0a0.4 0.3 0 1 0 -0.8 0M25.6 68.9a0.4 0.3 0 1 0 0.9 0a0.4 0.3 0 1 0 -0.9 0M34.4 52.3a0.5 0.4 0 1 0 1.0 0a0.5 0.4 0 1 0 -1.0 0M59.2 69.1a0.4 0.3 0 1 0 0.8 0a0.4 0.3 0 1 0 -0.8 0M59.2 32.7a0.5 0.4 0 1 0 0.9 0a0.5 0.4 0 1 0 -0.9 0M29.9 54.3a0.4 0.3 0 1 0 0.8 0a0.4 0.3 0 1 0 -0.8 0M42.9 10.8a0.5 0.4 0 1 0 1.1 0a0.5 0.4 0 1 0 -1.1 0M28.6 66.3a0.4 0.4 0 1 0 0.9 0a0.4 0.4 0 1 0 -0.9 0M64.7 73.5a0.3 0.2 0 1 0 0.5 0a0.3 0.2 0 1 0 -0.5 0M59.7 4.5a0.3 0.2 0 1 0 0.6 0a0.3 0.2 0 1 0 -0.6 0M57.6 18.3a0.4 0.4 0 1 0 0.9 0a0.4 0.4 0 1 0 -0.9 0M28.6 44.7a0.6 0.4 0 1 0 1.1 0a0.6 0.4 0 1 0 -1.1 0M56.2 57.8a0.4 0.3 0 1 0 0.9 0a0.4 0.3 0 1 0 -0.9 0M56.2 61.9a0.4 0.4 0 1 0 0.9 0a0.4 0.4 0 1 0 -0.9 0M41.6 32.1a0.4 0.3 0 1 0 0.7 0a0.4 0.3 0 1 0 -0.7 0M54.4 17.6a0.3 0.2 0 1 0 0.5 0a0.3 0.2 0 1 0 -0.5 0M67.9 88.0a0.5 0.4 0 1 0 1.0 0a0.5 0.4 0 1 0 -1.0 0M31.4 35.8a0.5 0.4 0 1 0 1.1 0a0.5 0.4 0 1 0 -1.1 0M42.8 66.9a0.4 0.3 0 1 0 0.8 0a0.4 0.3 0 1 0 -0.8 0M48.5 47.2a0.4 0.3 0 1 0 0.8 0a0.4 0.3 0 1 0 -0.8 0M50.5 15.5a0.6 0.5 0 1 0 1.2 0a0.6 0.5 0 1 0 -1.2 0M43.7 28.4a0.3 0.2 0 1 0 0.6 0a0.3 0.2 0 1 0 -0.6 0M39.6 63.3a0.5 0.4 0 1 0 1.0 0a0.5 0.4 0 1 0 -1.0 0M60.9 50.6a0.3 0.3 0 1 0 0.7 0a0.3 0.3 0 1 0 -0.7 0M38.7 7.9a0.6 0.5 0 1 0 1.2 0a0.6 0.5 0 1 0 -1.2 0M27.3 76.3a0.3 0.2 0 1 0 0.6 0a0.3 0.2 0 1 0 -0.6 0M44.6 15.4a0.4 0.3 0 1 0 0.7 0a0.4 0.3 0 1 0 -0.7 0M53.0 49.7a0.4 0.3 0 1 0 0.8 0a0.4 0.3 0 1 0 -0.8 0M35.7 78.0a0.4 0.3 0 1 0 0.8 0a0.4 0.3 0 1 0 -0.8 0M65.3 64.4a0.4 0.3 0 1 0 0.8 0a0.4 0.3 0 1 0 -0.8 0M62.0 57.7a0.3 0.2 0 1 0 0.6 0a0.3 0.2 0 1 0 -0.6 0M30.6 56.6a0.3 0.2 0 1 0 0.5 0a0.3 0.2 0 1 0 -0.5 0M45.7 36.9a0.4 0.3 0 1 0 0.8 0a0.4 0.3 0 1 0 -0.8 0M48.9 52.1a0.3 0.2 0 1 0 0.6 0a0.3 0.2 0 1 0 -0.6 0M28.6 79.2a0.3 0.2 0 1 0 0.5 0a0.3 0.2 0 1 0 -0.5 0M52.9 49.8a0.5 0.4 0 1 0 1.0 0a0.5 0.4 0 1 0 -1.0 0M43.2 64.0a0.4 0.3 0 1 0 0.8 0a0.4 0.3 0 1 0 -0.8 0M39.9 19.9a0.6 0.4 0 1 0 1.1 0a0.6 0.4 0 1 0 -1.1 0M46.2 31.6a0.5 0.4 0 1 0 1.1 0a0.5 0.4 0 1 0 -1.1 0M48.6 33.6a0.5 0.4 0 1 0 1.0 0a0.5 0.4 0 1 0 -1.0 0M31.2 43.1a0.3 0.2 0 1 0 0.5 0a0.3 0.2 0 1 0 -0.5 0M35.5 39.2a0.5 0.4 0 1 0 1.1 0a0.5 0.4 0 1 0 -1.1 0M65.9 74.1a0.6 0.5 0 1 0 1.2 0a0.6 0.5 0 1 0 -1.2 0M42.5 14.6a0.4 0.3 0 1 0 0.8 0a0.4 0.3 0 1 0 -0.8 0M57.8 86.2a0.6 0.5 0 1 0 1.2 0a0.6 0.5 0 1 0 -1.2 0M57.3 61.0a0.3 0.3 0 1 0 0.7 0a0.3 0.3 0 1 0 -0.7 0M50.8 82.1a0.6 0.5 0 1 0 1.2 0a0.6 0.5 0 1 0 -1.2 0M39.9 66.3a0.4 0.3 0 1 0 0.9 0a0.4 0.3 0 1 0 -0.9 0M54.2 37.3a0.6 0.5 0 1 0 1.2 0a0.6 0.5 0 1 0 -1.2 0M63.4 52.3a0.5 0.4 0 1 0 1.0 0a0.5 0.4 0 1 0 -1.0 0M56.0 15.6a0.4 0.3 0 1 0 0.8 0a0.4 0.3 0 1 0 -0.8 0M38.2 36.7a0.3 0.2 0 1 0 0.5 0a0.3 0.2 0 1 0 -0.5 0M57.7 55.1a0.6 0.5 0 1 0 1.2 0a0.6 0.5 0 1 0 -1.2 0M62.1 52.2a0.3 0.3 0 1 0 0.7 0a0.3 0.3 0 1 0 -0.7 0M51.0 37.9a0.4 0.3 0 1 0 0.9 0a0.4 0.3 0 1 0 -0.9 0M55.1 37.4a0.3 0.3 0 1 0 0.7 0a0.3 0.3 0 1 0 -0.7 0M50.9 47.1a0.3 0.2 0 1 0 0.6 0a0.3 0.2 0 1 0 -0.6 0M28.6 42.8a0.5 0.4 0 1 0 0.9 0a0.5 0.4 0 1 0 -0.9 0M26.2 64.7a0.5 0.4 0 1 0 1.1 0a0.5 0.4 0 1 0 -1.1 0M49.8 41.9a0.3 0.2 0 1 0 0.6 0a0.3 0.2 0 1 0 -0.6 0M47.4 48.5a0.4 0.4 0 1 0 0.9 0a0.4 0.4 0 1 0 -0.9 0M38.1 5.6a0.4 0.3 0 1 0 0.8 0a0.4 0.3 0 1 0 -0.8 0M52.8 10.3a0.5 0.4 0 1 0 1.1 0a0.5 0.4 0 1 0 -1.1 0M58.7 57.4a0.5 0.4 0 1 0 1.0 0a0.5 0.4 0 1 0 -1.0 0M54.4 57.0a0.4 0.3 0 1 0 0.8 0a0.4 0.3 0 1 0 -0.8 0M56.5 60.9a0.5 0.4 0 1 0 1.0 0a0.5 0.4 0 1 0 -1.0 0M57.9 42.4a0.5 0.4 0 1 0 1.1 0a0.5 0.4 0 1 0 -1.1 0M31.1 58.5a0.4 0.3 0 1 0 0.8 0a0.4 0.3 0 1 0 -0.8 0M41.5 56.8a0.5 0.4 0 1 0 0.9 0a0.5 0.4 0 1 0 -0.9 0M51.2 40.0a0.4 0.3 0 1 0 0.7 0a0.4 0.3 0 1 0 -0.7 0M56.6 60.1a0.4 0.3 0 1 0 0.8 0a0.4 0.3 0 1 0 -0.8 0M66.1 77.0a0.6 0.5 0 1 0 1.2 0a0.6 0.5 0 1 0 -1.2 0M31.8 11.5a0.3 0.2 0 1 0 0.6 0a0.3 0.2 0 1 0 -0.6 0M55.3 54.4a0.4 0.3 0 1 0 0.9 0a0.4 0.3 0 1 0 -0.9 0M47.2 50.0a0.3 0.3 0 1 0 0.6 0a0.3 0.3 0 1 0 -0.6 0M33.9 15.1a0.5 0.4 0 1 0 1.0 0a0.5 0.4 0 1 0 -1.0 0M44.6 29.8a0.3 0.2 0 1 0 0.6 0a0.3 0.2 0 1 0 -0.6 0M30.7 86.6a0.4 0.3 0 1 0 0.7 0a0.4 0.3 0 1 0 -0.7 0M35.7 42.5a0.4 0.3 0 1 0 0.8 0a0.4 0.3 0 1 0 -0.8 0M43.6 15.9a0.5 0.4 0 1 0 0.9 0a0.5 0.4 0 1 0 -0.9 0M58.3 42.7a0.6 0.5 0 1 0 1.1 0a0.6 0.5 0 1 0 -1.1 0M31.2 53.3a0.6 0.4 0 1 0 1.1 0a0.6 0.4 0 1 0 -1.1 0M42.2 72.4a0.4 0.3 0 1 0 0.7 0a0.4 0.3 0 1 0 -0.7 0M59.2 17.1a0.3 0.3 0 1 0 0.7 0a0.3 0.3 0 1 0 -0.7 0M57.6 83.2a0.3 0.2 0 1 0 0.6 0a0.3 0.2 0 1 0 -0.6 0M51.7 64.8a0.3 0.2 0 1 0 0.5 0a0.3 0.2 0 1 0 -0.5 0M28.4 59.4a0.6 0.5 0 1 0 1.1 0a0.6 0.5 0 1 0 -1.1 0M43.6 83.4a0.3 0.2 0 1 0 0.5 0a0.3 0.2 0 1 0 -0.5 0M55.3 21.4a0.5 0.4 0 1 0 1.1 0a0.5 0.4 0 1 0 -1.1 0M47.1 4.4a0.4 0.3 0 1 0 0.8 0a0.4 0.3 0 1 0 -0.8 0" fill="#9f8a5e"/></g><path d="M44.0 4.2l-0.8 -4.5M47.3 7.1l1.3 -2.7M58.1 1.8l-2.5 -2.7M51.0 7.9l-2.0 -0.7M47.3 10.4l3.7 -2.3M36.0 4.9l-1.5 -3.4M38.7 11.1l-1.2 -3.7M45.8 8.7l3.3 -2.7M41.7 11.6l-2.8 -3.2M37.0 5.7l2.6 -1.0M32.3 10.0l2.1 -1.4M44.5 2.4l-1.2 -4.8M60.4 4.5l0.5 -2.7M37.6 7.3l1.8 -3.7M32.2 8.3l-0.4 -2.8M56.9 10.5l-2.3 -0.7M53.9 5.7l1.8 -3.7M60.7 10.5l4.8 -1.5M48.5 5.5l2.2 -1.2M46.3 6.3l-1.5 -2.5M46.6 8.1l-2.6 -1.3M49.3 11.4l3.7 -0.2M37.2 9.8l-3.6 -0.4M37.1 8.9l-4.1 -1.8M51.8 10.8l2.3 -1.4M36.5 2.5l4.1 -1.5M52.3 6.5l0.8 -3.9M49.6 11.2l-2.3 -2.6M38.4 6.8l-1.5 -4.0M39.7 2.8l-4.2 -0.1M42.4 2.8l2.8 -3.1M51.9 2.1l-1.8 -2.1M58.4 11.3l1.0 -4.2M44.1 7.5l-1.4 -3.4M38.0 1.6l-2.4 -1.3M53.1 9.9l2.3 -0.9M54.2 5.0l-0.2 -4.2M51.0 9.2l1.2 -4.6M38.3 8.1l-0.0 -4.0M42.6 12.0l3.6 -3.3M46.2 8.2l-2.5 -0.4M39.2 7.8l3.5 -3.4M50.7 2.0l-4.4 -0.7M37.8 7.2l-4.3 -0.8M54.1 8.1l0.9 -3.9M60.1 10.3l2.0 -0.6M51.0 11.7l-1.3 -4.7M36.1 11.7l-1.9 -0.9M38.1 9.9l0.9 -2.3M38.7 7.8l2.7 -1.8M49.6 11.7l-2.2 -0.8M49.0 10.1l-4.5 -1.7M60.0 5.8l-4.7 -0.3M43.1 7.2l3.5 -2.3M35.6 7.1l1.4 -1.9M34.2 10.9l0.6 -3.3M50.9 1.9l0.8 -4.6M46.2 9.1l3.3 -0.6M32.7 1.6l2.6 -2.8M53.0 1.7l-1.9 -1.8M57.3 7.8l-1.9 -2.1M51.5 4.8l1.6 -2.3M37.6 4.7l-1.6 -2.0M52.7 2.2l-0.9 -2.9M45.0 5.4l-1.4 -2.6M57.8 5.5l-1.9 -2.4M50.5 8.0l4.7 -1.2M49.4 9.7l0.0 -2.1M48.9 4.2l1.7 -4.5M34.9 7.6l-1.9 -1.9M35.2 7.2l-0.9 -2.2M53.7 10.0l0.3 -2.7M53.7 1.4l1.3 -3.2M53.1 8.1l-0.3 -3.3M48.7 6.0l-0.1 -2.2M46.9 7.4l-4.1 -0.9M45.2 4.4l2.2 -2.7M49.7 3.2l4.2 -0.6M45.0 4.4l-0.8 -4.4M47.4 4.8l-2.7 -2.8M39.2 10.7l2.8 -1.8M36.0 5.4l-1.9 -2.4M44.6 9.1l-1.8 -4.2M57.0 11.0l3.4 -2.8M42.9 10.2l0.8 -1.8M47.8 2.5l-3.2 -0.4M33.7 2.9l2.0 -1.2M39.6 9.9l1.6 -2.8M56.0 1.8l-0.8 -2.0M47.8 8.6l2.0 -1.0M34.4 7.7l1.2 -1.6M60.0 3.2l3.0 -2.0M33.7 2.9l-1.3 -2.5M46.7 6.6l-0.8 -2.5M37.2 7.8l1.0 -4.4M34.6 1.3l-3.1 -1.7M37.6 4.2l-0.4 -3.2M38.9 6.1l2.5 -1.7M39.4 2.2l-4.6 -0.8M33.8 11.0l2.3 -0.2M35.9 4.7l2.1 -3.2M53.5 7.5l-1.0 -2.9M47.1 10.3l0.7 -2.3M58.3 8.0l-1.2 -3.5M51.3 11.8l2.0 -3.2M36.1 2.1l-4.3 -2.4M48.3 6.3l1.1 -4.7M37.7 2.9l2.5 -2.0M54.6 11.6l1.6 -1.6M38.0 3.0l-2.4 -1.7M57.8 6.3l-3.1 -0.2M54.9 2.7l-4.3 -2.1M50.9 7.9l4.8 -0.2M60.2 8.2l4.0 -0.4M35.6 8.6l0.4 -4.4M56.7 8.5l-0.9 -3.0M58.3 8.7l4.6 -1.9M45.2 9.2l2.6 -0.6M55.2 7.9l-3.7 -2.5M34.9 10.8l-3.5 -2.3M37.3 3.3l2.0 -0.2M58.9 1.5l0.5 -2.6M55.9 3.7l-3.8 -1.4M59.8 11.9l5.0 -0.5M55.6 2.7l-2.9 -2.7M35.8 8.1l-0.8 -3.0M34.2 9.5l3.9 -1.3M50.4 1.3l3.4 -3.1M59.3 2.9l1.2 -2.6M55.4 2.0l3.1 -0.4M59.6 11.7l1.8 -3.5M57.0 10.0l0.2 -2.1M58.5 10.8l-2.1 -0.4M47.4 10.2l1.9 -3.9M36.3 5.5l-2.4 -3.0M48.9 4.9l-0.9 -3.4M54.3 10.4l-1.5 -1.6M55.7 11.9l3.4 -1.9M56.5 3.9l-1.9 -3.2M35.0 11.4l-3.4 -1.1M46.6 11.7l4.1 -1.2M57.4 6.5l-0.8 -2.0M50.0 10.2l-2.9 -2.3M48.4 9.9l-3.6 -1.0M52.7 7.8l-2.3 -2.5M59.4 3.2l-4.0 -2.7M50.6 2.6l3.1 -1.4M38.1 9.3l-0.3 -4.4M55.3 5.2l-1.9 -4.5M39.2 8.8l-0.8 -2.5M46.4 6.5l-2.4 -3.5M56.0 4.9l-1.1 -1.8M58.0 8.3l1.7 -2.6M40.1 1.9l4.0 -1.2M59.0 7.8l-2.4 -1.5M49.8 5.9l-0.5 -2.6M36.0 9.5l2.4 -1.3M51.4 7.2l3.7 -0.4M58.0 2.7l-4.1 -2.5M57.4 1.1l-0.4 -2.1" stroke="#8a7656" stroke-width="0.3" fill="none" stroke-linecap="round"/><rect width="100" height="100" filter="url(#noise)" opacity="0.3"/></svg><rect x="1140.3" y="1512.1" width="282.7" height="392.2" fill="none" stroke="#111" stroke-width="1.6"/>
<text class="t" y="45.0" x="18.1 34.1 60.0" dy="1.2 -2 2">(a)</text>
<text class="t" x="101.8" y="50.6" letter-spacing="1.4">IDENTIFY SUITABLE SITE</text>
<rect x="101.7" y="56.9" width="806.5" height="1.6" fill="#111"/>
<text class="k" transform="translate(103.0 128.0) scale(1 1.14)">▶</text>
<text class="b" x="128.3" y="129.2" letter-spacing="0.5">Soil texture: sands &amp; loamy sands</text>
<text class="k" transform="translate(103.0 154.3) scale(1 1.14)">▶</text>
<text class="b" x="128.3" y="155.5" letter-spacing="0.5">Above groundwater table</text>
<text class="k" transform="translate(103.0 180.6) scale(1 1.14)">▶</text>
<text class="b" x="128.3" y="181.8" letter-spacing="0.5">Exposed soil face/dig a pit</text>
<text class="k" transform="translate(103.0 206.8) scale(1 1.14)">▶</text>
<text class="b" x="128.3" y="208.0" letter-spacing="0.5">Accessible &amp; get permission</text>
<text class="k" transform="translate(103.0 233.1) scale(1 1.14)">▶</text>
<text class="b" x="128.3" y="234.3" letter-spacing="0.5">Dry weather (2 weeks)</text>
<text class="t" y="700.8" x="18.1 34.1 60.0" dy="1.2 -2 2">(b)</text>
<text class="t" x="101.8" y="706.4" letter-spacing="1.4">PLOT OUT PROFILE</text>
<rect x="101.7" y="712.7" width="806.5" height="1.6" fill="#111"/>
<text class="k" transform="translate(103.0 784.0) scale(1 1.14)">▶</text>
<text class="b" x="128.3" y="785.2" letter-spacing="0.5">Determine dimensions final peel</text>
<text class="k" transform="translate(103.0 810.3) scale(1 1.14)">▶</text>
<text class="b" x="128.3" y="811.5" letter-spacing="0.5">Add ±10 cm horizontal margin</text>
<text class="k" transform="translate(103.0 836.6) scale(1 1.14)">▶</text>
<text class="b" x="128.3" y="837.8" letter-spacing="0.5">Add 15–20 cm bottom margin</text>
<text class="k" transform="translate(103.0 862.8) scale(1 1.14)">▶</text>
<text class="b" x="128.3" y="864.0" letter-spacing="0.5">Straighten soil face at 65°–80°</text>
<text class="l" x="102.4" y="1056.7" letter-spacing="0.68">±10 cm margin</text>
<path d="M102.0 1069.0 L638.6 1069.0 L686.0 1037.4" fill="none" stroke="#111" stroke-width="1.3"/>
<circle cx="686.0" cy="1037.4" r="3" fill="#111"/>
<path d="M461.0 1069.0 L511.0 1040.4" fill="none" stroke="#111" stroke-width="1.3"/>
<circle cx="511.0" cy="1040.4" r="3" fill="#111"/>
<text class="l" x="102.4" y="1109.0" letter-spacing="0.68">±15–20 cm margin</text>
<path d="M102.0 1121.0 L579.7 1121.0" fill="none" stroke="#111" stroke-width="1.3"/>
<circle cx="579.7" cy="1121.0" r="3" fill="#111"/>
<text class="t" y="1356.3" x="18.1 34.1 60.0" dy="1.2 -2 2">(c)</text>
<text class="t" x="101.8" y="1361.9" letter-spacing="1.4">CLEAN &amp; PREPARE PROFILE</text>
<rect x="101.7" y="1368.2" width="806.5" height="1.6" fill="#111"/>
<text class="k" transform="translate(103.0 1439.7) scale(1 1.14)">▶</text>
<text class="b" x="128.3" y="1440.9" letter-spacing="0.5">Take out rocks &amp; trim off roots</text>
<text class="k" transform="translate(103.0 1466.0) scale(1 1.14)">▶</text>
<text class="b" x="128.3" y="1467.2" letter-spacing="0.5">Create ±5 cm wide ledge at top</text>
<text class="k" transform="translate(103.0 1492.3) scale(1 1.14)">▶</text>
<text class="b" x="128.3" y="1493.5" letter-spacing="0.5">Install gutter</text>
<text class="l" x="102.4" y="1555.2" letter-spacing="0.68">±5 cm ledge</text>
<path d="M102.0 1567.9 L469.3 1567.9 L583.3 1434.3" fill="none" stroke="#111" stroke-width="1.3"/>
<circle cx="583.3" cy="1434.3" r="3" fill="#111"/>
<text class="l" x="102.4" y="1739.2" letter-spacing="0.68">Gutter: PVC pipe, Ø 10–15 cm</text>
<path d="M102.0 1751.6 L482.8 1751.6" fill="none" stroke="#111" stroke-width="1.3"/>
<circle cx="482.8" cy="1751.6" r="3" fill="#111"/>
<text class="t" y="2012.2" x="18.1 34.1 60.0" dy="1.2 -2 2">(d)</text>
<text class="t" x="101.8" y="2017.8" letter-spacing="1.4">APPLY GLUE</text>
<rect x="101.7" y="2024.1" width="806.5" height="1.6" fill="#111"/>
<text class="k" transform="translate(103.0 2095.8) scale(1 1.14)">▶</text>
<text class="b" x="128.3" y="2097.0" letter-spacing="0.5">Start at top ledge</text>
<text class="k" transform="translate(103.0 2122.1) scale(1 1.14)">▶</text>
<text class="b" x="128.3" y="2123.3" letter-spacing="0.5">Apply glue evenly over surface</text>
<text class="k" transform="translate(103.0 2148.4) scale(1 1.14)">▶</text>
<text class="b" x="128.3" y="2149.6" letter-spacing="0.5">Move horizontally and</text>
<text class="b" x="128.3" y="2175.8" letter-spacing="0.5">downward</text>
<text class="k" transform="translate(103.0 2200.9) scale(1 1.14)">▶</text>
<text class="b" x="128.3" y="2202.1" letter-spacing="0.5">Excess glue caught by gutter</text>
<text class="l" x="102.4" y="2237.5" letter-spacing="0.68">Apply glue in S-pattern</text>
<path d="M102 2246.6 L526 2246.6 Q582 2236 629.2 2213.4" fill="none" stroke="#111" stroke-width="1.3"/><circle cx="629.2" cy="2213.4" r="3" fill="#111"/>
<text class="l" x="102.4" y="2552.6" letter-spacing="0.68">Excess glue caught by gutter</text>
<path d="M102.0 2562.4 L504.5 2562.4 L576.0 2451.0" fill="none" stroke="#111" stroke-width="1.3"/>
<circle cx="576.0" cy="2451.0" r="3" fill="#111"/>
<text class="t" y="44.8" x="1058.1 1074.1 1100.0" dy="1.2 -2 2">(e)</text>
<text class="t" x="1141.8" y="50.4" letter-spacing="1.4">LET DRY</text>
<rect x="1141.7" y="56.7" width="806.5" height="1.6" fill="#111"/>
<text class="k" transform="translate(1143.0 101.5) scale(1 1.14)">▶</text>
<text class="b" x="1168.3" y="102.7" letter-spacing="0.5">Keep sheltered from rain</text>
<text class="k" transform="translate(1143.0 127.8) scale(1 1.14)">▶</text>
<text class="b" x="1168.3" y="129.0" letter-spacing="0.5">Let dry for ±24 h</text>
<text class="t" y="700.8" x="1058.1 1074.1 1100.0" dy="1.2 -2 2">(f)</text>
<text class="t" x="1141.8" y="706.4" letter-spacing="1.4">EXTRACT PROFILE</text>
<rect x="1141.7" y="712.7" width="806.5" height="1.6" fill="#111"/>
<text class="k" transform="translate(1143.0 784.0) scale(1 1.14)">▶</text>
<text class="b" x="1168.3" y="785.2" letter-spacing="0.5">Clear sand away from sides &amp; bottom</text>
<text class="k" transform="translate(1143.0 810.3) scale(1 1.14)">▶</text>
<text class="b" x="1168.3" y="811.5" letter-spacing="0.5">From top, cut along margins</text>
<text class="k" transform="translate(1143.0 836.6) scale(1 1.14)">▶</text>
<text class="b" x="1168.3" y="837.8" letter-spacing="0.5">Remove soil behind peel in steps</text>
<text class="k" transform="translate(1143.0 862.8) scale(1 1.14)">▶</text>
<text class="b" x="1168.3" y="864.0" letter-spacing="0.5">Lift peel from soil face</text>
<text class="k" transform="translate(1143.0 889.1) scale(1 1.14)">▶</text>
<text class="b" x="1168.3" y="890.3" letter-spacing="0.5">To prevent damage: press peel</text>
<text class="b" x="1168.3" y="916.6" letter-spacing="0.5">against board</text>
<text class="l" x="1142.4" y="935.1" letter-spacing="0.68">Cut margins</text>
<path d="M1142.0 942.4 L1476.8 942.4 L1612.2 791.4" fill="none" stroke="#111" stroke-width="1.3"/>
<circle cx="1612.2" cy="791.4" r="3" fill="#111"/>
<text class="l" x="1142.4" y="976.9" letter-spacing="0.68">Remove peel from top to bottom</text>
<path d="M1142.0 988.5 L1487.7 988.5 L1561.0 962.0" fill="none" stroke="#111" stroke-width="1.3"/>
<circle cx="1561.0" cy="962.0" r="3" fill="#111"/>
<text class="t" y="1356.3" x="1058.1 1074.1 1100.0" dy="1.2 -2 2">(g)</text>
<text class="t" x="1141.8" y="1361.9" letter-spacing="1.4">CUT TO SIZE</text>
<rect x="1141.7" y="1368.2" width="806.5" height="1.6" fill="#111"/>
<text class="k" transform="translate(1143.0 1439.7) scale(1 1.14)">▶</text>
<text class="b" x="1168.3" y="1440.9" letter-spacing="0.5">Glue extracted peel to wooden board.</text>
<text class="k" transform="translate(1143.0 1466.0) scale(1 1.14)">▶</text>
<text class="b" x="1168.3" y="1467.2" letter-spacing="0.5">Trim to size.</text>
<text class="l" x="1142.4" y="1502.2" letter-spacing="0.68">Trim peel to size</text>
<path d="M1142.0 1507.7 L1500.0 1508.2 L1715.0 1511.6" fill="none" stroke="#111" stroke-width="1.3"/>
<circle cx="1715.0" cy="1511.6" r="3" fill="#111"/>
</svg></body></html>
